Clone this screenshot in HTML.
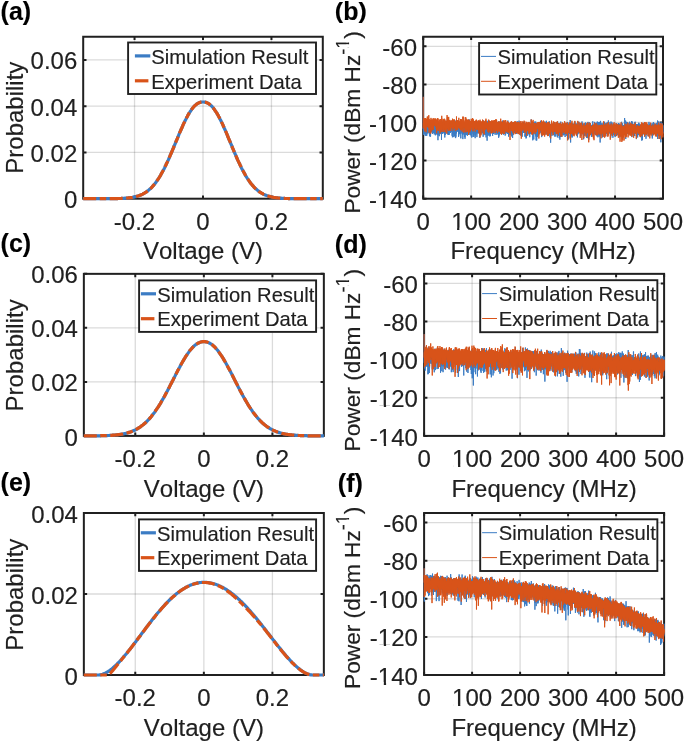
<!DOCTYPE html>
<html><head><meta charset="utf-8"><style>html,body{margin:0;padding:0;background:#fff;overflow:hidden;}svg{display:block;will-change:transform;}</style></head>
<body><svg width="685" height="743" viewBox="0 0 685 743" font-family='"Liberation Sans", sans-serif'>
<style>text{stroke-width:0.15px;font-kerning:none;}</style>
<rect width="685" height="743" fill="#fff"/>
<path d="M134.54 36.75V198.7M203 36.75V198.7M271.46 36.75V198.7" stroke="#202020" stroke-opacity="0.16" stroke-width="1.3" fill="none"/><path d="M83.2 152.43H322.8M83.2 106.16H322.8M83.2 59.89H322.8" stroke="#202020" stroke-opacity="0.16" stroke-width="1.3" fill="none"/>
<rect x="83.2" y="36.75" width="239.6" height="161.95" fill="none" stroke="#202020" stroke-width="2.0"/>
<path d="M134.54 198.7v-3.3M134.54 36.75v3.3M203 198.7v-3.3M203 36.75v3.3M271.46 198.7v-3.3M271.46 36.75v3.3M83.2 198.7h3.3M322.8 198.7h-3.3M83.2 152.43h3.3M322.8 152.43h-3.3M83.2 106.16h3.3M322.8 106.16h-3.3M83.2 59.89h3.3M322.8 59.89h-3.3" stroke="#202020" stroke-width="2.0" fill="none"/>
<polyline points="83.2,198.7 83.9,198.7 84.6,198.7 85.3,198.7 85.9,198.7 86.6,198.7 87.3,198.7 88.0,198.7 88.7,198.7 89.4,198.7 90.0,198.7 90.7,198.7 91.4,198.7 92.1,198.7 92.8,198.7 93.5,198.7 94.2,198.7 94.8,198.7 95.5,198.7 96.2,198.7 96.9,198.7 97.6,198.7 98.3,198.7 98.9,198.7 99.6,198.7 100.3,198.7 101.0,198.7 101.7,198.7 102.4,198.7 103.1,198.7 103.7,198.7 104.4,198.7 105.1,198.7 105.8,198.7 106.5,198.7 107.2,198.7 107.8,198.7 108.5,198.7 109.2,198.7 109.9,198.7 110.6,198.7 111.3,198.7 112.0,198.6 112.6,198.6 113.3,198.6 114.0,198.6 114.7,198.6 115.4,198.6 116.1,198.6 116.7,198.6 117.4,198.6 118.1,198.5 118.8,198.5 119.5,198.5 120.2,198.5 120.9,198.5 121.5,198.4 122.2,198.4 122.9,198.4 123.6,198.3 124.3,198.3 125.0,198.2 125.6,198.2 126.3,198.1 127.0,198.1 127.7,198.0 128.4,197.9 129.1,197.9 129.8,197.8 130.4,197.7 131.1,197.6 131.8,197.5 132.5,197.4 133.2,197.2 133.9,197.1 134.5,197.0 135.2,196.8 135.9,196.6 136.6,196.4 137.3,196.2 138.0,196.0 138.7,195.8 139.3,195.6 140.0,195.3 140.7,195.0 141.4,194.7 142.1,194.4 142.8,194.1 143.4,193.7 144.1,193.3 144.8,192.9 145.5,192.5 146.2,192.0 146.9,191.6 147.5,191.0 148.2,190.5 148.9,189.9 149.6,189.3 150.3,188.7 151.0,188.1 151.7,187.4 152.3,186.7 153.0,185.9 153.7,185.1 154.4,184.3 155.1,183.4 155.8,182.5 156.4,181.6 157.1,180.6 157.8,179.6 158.5,178.6 159.2,177.5 159.9,176.4 160.6,175.2 161.2,174.1 161.9,172.8 162.6,171.6 163.3,170.3 164.0,169.0 164.7,167.6 165.3,166.2 166.0,164.8 166.7,163.3 167.4,161.9 168.1,160.4 168.8,158.8 169.5,157.3 170.1,155.7 170.8,154.1 171.5,152.5 172.2,150.9 172.9,149.2 173.6,147.6 174.2,145.9 174.9,144.3 175.6,142.6 176.3,140.9 177.0,139.3 177.7,137.6 178.4,136.0 179.0,134.3 179.7,132.7 180.4,131.1 181.1,129.5 181.8,128.0 182.5,126.4 183.1,124.9 183.8,123.4 184.5,122.0 185.2,120.5 185.9,119.2 186.6,117.8 187.3,116.5 187.9,115.3 188.6,114.1 189.3,112.9 190.0,111.9 190.7,110.8 191.4,109.8 192.0,108.9 192.7,108.0 193.4,107.2 194.1,106.4 194.8,105.7 195.5,105.1 196.2,104.5 196.8,104.0 197.5,103.6 198.2,103.2 198.9,102.8 199.6,102.6 200.3,102.3 200.9,102.2 201.6,102.1 202.3,102.0 203.0,102.0 203.7,102.0 204.4,102.1 205.1,102.2 205.7,102.3 206.4,102.6 207.1,102.8 207.8,103.2 208.5,103.6 209.2,104.0 209.8,104.5 210.5,105.1 211.2,105.7 211.9,106.4 212.6,107.2 213.3,108.0 214.0,108.9 214.6,109.8 215.3,110.8 216.0,111.9 216.7,112.9 217.4,114.1 218.1,115.3 218.7,116.5 219.4,117.8 220.1,119.2 220.8,120.5 221.5,122.0 222.2,123.4 222.9,124.9 223.5,126.4 224.2,128.0 224.9,129.5 225.6,131.1 226.3,132.7 227.0,134.3 227.6,136.0 228.3,137.6 229.0,139.3 229.7,140.9 230.4,142.6 231.1,144.3 231.8,145.9 232.4,147.6 233.1,149.2 233.8,150.9 234.5,152.5 235.2,154.1 235.9,155.7 236.5,157.3 237.2,158.8 237.9,160.4 238.6,161.9 239.3,163.3 240.0,164.8 240.7,166.2 241.3,167.6 242.0,169.0 242.7,170.3 243.4,171.6 244.1,172.8 244.8,174.1 245.4,175.2 246.1,176.4 246.8,177.5 247.5,178.6 248.2,179.6 248.9,180.6 249.6,181.6 250.2,182.5 250.9,183.4 251.6,184.3 252.3,185.1 253.0,185.9 253.7,186.7 254.3,187.4 255.0,188.1 255.7,188.7 256.4,189.3 257.1,189.9 257.8,190.5 258.5,191.0 259.1,191.6 259.8,192.0 260.5,192.5 261.2,192.9 261.9,193.3 262.6,193.7 263.2,194.1 263.9,194.4 264.6,194.7 265.3,195.0 266.0,195.3 266.7,195.6 267.3,195.8 268.0,196.0 268.7,196.2 269.4,196.4 270.1,196.6 270.8,196.8 271.5,197.0 272.1,197.1 272.8,197.2 273.5,197.4 274.2,197.5 274.9,197.6 275.6,197.7 276.2,197.8 276.9,197.9 277.6,197.9 278.3,198.0 279.0,198.1 279.7,198.1 280.4,198.2 281.0,198.2 281.7,198.3 282.4,198.3 283.1,198.4 283.8,198.4 284.5,198.4 285.1,198.5 285.8,198.5 286.5,198.5 287.2,198.5 287.9,198.5 288.6,198.6 289.3,198.6 289.9,198.6 290.6,198.6 291.3,198.6 292.0,198.6 292.7,198.6 293.4,198.6 294.0,198.6 294.7,198.7 295.4,198.7 296.1,198.7 296.8,198.7 297.5,198.7 298.2,198.7 298.8,198.7 299.5,198.7 300.2,198.7 300.9,198.7 301.6,198.7 302.3,198.7 302.9,198.7 303.6,198.7 304.3,198.7 305.0,198.7 305.7,198.7 306.4,198.7 307.1,198.7 307.7,198.7 308.4,198.7 309.1,198.7 309.8,198.7 310.5,198.7 311.2,198.7 311.8,198.7 312.5,198.7 313.2,198.7 313.9,198.7 314.6,198.7 315.3,198.7 316.0,198.7 316.6,198.7 317.3,198.7 318.0,198.7 318.7,198.7 319.4,198.7 320.1,198.7 320.7,198.7 321.4,198.7 322.1,198.7 322.8,198.7" fill="none" stroke="#3b7cc4" stroke-width="3.2" stroke-linejoin="round"/>
<polyline points="83.2,198.7 83.9,198.7 84.6,198.7 85.3,198.7 85.9,198.7 86.6,198.7 87.3,198.7 88.0,198.7 88.7,198.7 89.4,198.7 90.0,198.7 90.7,198.7 91.4,198.7 92.1,198.7 92.8,198.7 93.5,198.7 94.2,198.7 94.8,198.7 95.5,198.7 96.2,198.7 96.9,198.7 97.6,198.7 98.3,198.7 98.9,198.7 99.6,198.7 100.3,198.7 101.0,198.7 101.7,198.7 102.4,198.7 103.1,198.7 103.7,198.7 104.4,198.7 105.1,198.7 105.8,198.7 106.5,198.7 107.2,198.7 107.8,198.7 108.5,198.7 109.2,198.7 109.9,198.7 110.6,198.7 111.3,198.7 112.0,198.6 112.6,198.6 113.3,198.6 114.0,198.6 114.7,198.6 115.4,198.6 116.1,198.6 116.7,198.6 117.4,198.6 118.1,198.5 118.8,198.5 119.5,198.5 120.2,198.5 120.9,198.5 121.5,198.4 122.2,198.4 122.9,198.4 123.6,198.3 124.3,198.3 125.0,198.2 125.6,198.2 126.3,198.1 127.0,198.1 127.7,198.0 128.4,197.9 129.1,197.9 129.8,197.8 130.4,197.7 131.1,197.6 131.8,197.5 132.5,197.4 133.2,197.2 133.9,197.1 134.5,197.0 135.2,196.8 135.9,196.6 136.6,196.4 137.3,196.2 138.0,196.0 138.7,195.8 139.3,195.6 140.0,195.3 140.7,195.0 141.4,194.7 142.1,194.4 142.8,194.1 143.4,193.7 144.1,193.3 144.8,192.9 145.5,192.5 146.2,192.0 146.9,191.6 147.5,191.0 148.2,190.5 148.9,189.9 149.6,189.3 150.3,188.7 151.0,188.1 151.7,187.4 152.3,186.7 153.0,185.9 153.7,185.1 154.4,184.3 155.1,183.4 155.8,182.5 156.4,181.6 157.1,180.6 157.8,179.6 158.5,178.6 159.2,177.5 159.9,176.4 160.6,175.2 161.2,174.1 161.9,172.8 162.6,171.6 163.3,170.3 164.0,169.0 164.7,167.6 165.3,166.2 166.0,164.8 166.7,163.3 167.4,161.9 168.1,160.4 168.8,158.8 169.5,157.3 170.1,155.7 170.8,154.1 171.5,152.5 172.2,150.9 172.9,149.2 173.6,147.6 174.2,145.9 174.9,144.3 175.6,142.6 176.3,140.9 177.0,139.3 177.7,137.6 178.4,136.0 179.0,134.3 179.7,132.7 180.4,131.1 181.1,129.5 181.8,128.0 182.5,126.4 183.1,124.9 183.8,123.4 184.5,122.0 185.2,120.5 185.9,119.2 186.6,117.8 187.3,116.5 187.9,115.3 188.6,114.1 189.3,112.9 190.0,111.9 190.7,110.8 191.4,109.8 192.0,108.9 192.7,108.0 193.4,107.2 194.1,106.4 194.8,105.7 195.5,105.1 196.2,104.5 196.8,104.0 197.5,103.6 198.2,103.2 198.9,102.8 199.6,102.6 200.3,102.3 200.9,102.2 201.6,102.1 202.3,102.0 203.0,102.0 203.7,102.0 204.4,102.1 205.1,102.2 205.7,102.3 206.4,102.6 207.1,102.8 207.8,103.2 208.5,103.6 209.2,104.0 209.8,104.5 210.5,105.1 211.2,105.7 211.9,106.4 212.6,107.2 213.3,108.0 214.0,108.9 214.6,109.8 215.3,110.8 216.0,111.9 216.7,112.9 217.4,114.1 218.1,115.3 218.7,116.5 219.4,117.8 220.1,119.2 220.8,120.5 221.5,122.0 222.2,123.4 222.9,124.9 223.5,126.4 224.2,128.0 224.9,129.5 225.6,131.1 226.3,132.7 227.0,134.3 227.6,136.0 228.3,137.6 229.0,139.3 229.7,140.9 230.4,142.6 231.1,144.3 231.8,145.9 232.4,147.6 233.1,149.2 233.8,150.9 234.5,152.5 235.2,154.1 235.9,155.7 236.5,157.3 237.2,158.8 237.9,160.4 238.6,161.9 239.3,163.3 240.0,164.8 240.7,166.2 241.3,167.6 242.0,169.0 242.7,170.3 243.4,171.6 244.1,172.8 244.8,174.1 245.4,175.2 246.1,176.4 246.8,177.5 247.5,178.6 248.2,179.6 248.9,180.6 249.6,181.6 250.2,182.5 250.9,183.4 251.6,184.3 252.3,185.1 253.0,185.9 253.7,186.7 254.3,187.4 255.0,188.1 255.7,188.7 256.4,189.3 257.1,189.9 257.8,190.5 258.5,191.0 259.1,191.6 259.8,192.0 260.5,192.5 261.2,192.9 261.9,193.3 262.6,193.7 263.2,194.1 263.9,194.4 264.6,194.7 265.3,195.0 266.0,195.3 266.7,195.6 267.3,195.8 268.0,196.0 268.7,196.2 269.4,196.4 270.1,196.6 270.8,196.8 271.5,197.0 272.1,197.1 272.8,197.2 273.5,197.4 274.2,197.5 274.9,197.6 275.6,197.7 276.2,197.8 276.9,197.9 277.6,197.9 278.3,198.0 279.0,198.1 279.7,198.1 280.4,198.2 281.0,198.2 281.7,198.3 282.4,198.3 283.1,198.4 283.8,198.4 284.5,198.4 285.1,198.5 285.8,198.5 286.5,198.5 287.2,198.5 287.9,198.5 288.6,198.6 289.3,198.6 289.9,198.6 290.6,198.6 291.3,198.6 292.0,198.6 292.7,198.6 293.4,198.6 294.0,198.6 294.7,198.7 295.4,198.7 296.1,198.7 296.8,198.7 297.5,198.7 298.2,198.7 298.8,198.7 299.5,198.7 300.2,198.7 300.9,198.7 301.6,198.7 302.3,198.7 302.9,198.7 303.6,198.7 304.3,198.7 305.0,198.7 305.7,198.7 306.4,198.7 307.1,198.7 307.7,198.7 308.4,198.7 309.1,198.7 309.8,198.7 310.5,198.7 311.2,198.7 311.8,198.7 312.5,198.7 313.2,198.7 313.9,198.7 314.6,198.7 315.3,198.7 316.0,198.7 316.6,198.7 317.3,198.7 318.0,198.7 318.7,198.7 319.4,198.7 320.1,198.7 320.7,198.7 321.4,198.7 322.1,198.7 322.8,198.7" fill="none" stroke="#d95319" stroke-width="3.2" stroke-linejoin="round" stroke-dasharray="13 3.5 6.5 3.5"/>
<text transform="translate(134.54,229.9) scale(1.0,1.02)" font-size="24" text-anchor="middle" fill="#202020" stroke="#202020">-0.2</text>
<text transform="translate(203,229.9) scale(1.0,1.02)" font-size="24" text-anchor="middle" fill="#202020" stroke="#202020">0</text>
<text transform="translate(271.46,229.9) scale(1.0,1.02)" font-size="24" text-anchor="middle" fill="#202020" stroke="#202020">0.2</text>
<text transform="translate(77.3,208.3) scale(1.0,1.02)" font-size="24" text-anchor="end" fill="#202020" stroke="#202020">0</text>
<text transform="translate(77.3,162.03) scale(1.0,1.02)" font-size="24" text-anchor="end" fill="#202020" stroke="#202020">0.02</text>
<text transform="translate(77.3,115.76) scale(1.0,1.02)" font-size="24" text-anchor="end" fill="#202020" stroke="#202020">0.04</text>
<text transform="translate(77.3,69.49) scale(1.0,1.02)" font-size="24" text-anchor="end" fill="#202020" stroke="#202020">0.06</text>
<text transform="translate(203,259.3) scale(1.0,1.02)" font-size="24" text-anchor="middle" fill="#202020" stroke="#202020">Voltage (V)</text>
<text transform="translate(22.6,173.7) rotate(-90)" font-size="24" fill="#202020" stroke="#202020">Probability</text>
<rect x="128.1" y="42.5" width="187.9" height="51.5" fill="#fff" stroke="#202020" stroke-width="1.9"/>
<path d="M134.9 55.9H150.3" stroke="#3b7cc4" stroke-width="3.2"/>
<path d="M134.9 80.8H148.4" stroke="#d95319" stroke-width="3.2"/>
<text transform="translate(151.3,63.6) scale(1.0,1.02)" font-size="20.2" fill="#202020" stroke="#202020">Simulation Result</text>
<text transform="translate(151.3,88.5) scale(1.0,1.02)" font-size="20.2" fill="#202020" stroke="#202020">Experiment Data</text>
<path d="M471.16 36.75V198.7M519.12 36.75V198.7M567.08 36.75V198.7M615.04 36.75V198.7" stroke="#202020" stroke-opacity="0.16" stroke-width="1.3" fill="none"/><path d="M423.2 46.28H663M423.2 84.38H663M423.2 122.49H663M423.2 160.59H663" stroke="#202020" stroke-opacity="0.16" stroke-width="1.3" fill="none"/>
<rect x="423.2" y="36.75" width="239.8" height="161.95" fill="none" stroke="#202020" stroke-width="2.0"/>
<path d="M423.2 198.7v-3.3M423.2 36.75v3.3M471.16 198.7v-3.3M471.16 36.75v3.3M519.12 198.7v-3.3M519.12 36.75v3.3M567.08 198.7v-3.3M567.08 36.75v3.3M615.04 198.7v-3.3M615.04 36.75v3.3M663 198.7v-3.3M663 36.75v3.3M423.2 46.28h3.3M663 46.28h-3.3M423.2 84.38h3.3M663 84.38h-3.3M423.2 122.49h3.3M663 122.49h-3.3M423.2 160.59h3.3M663 160.59h-3.3M423.2 198.7h3.3M663 198.7h-3.3" stroke="#202020" stroke-width="2.0" fill="none"/>
<path d="M423.2 96.8l.06 31.7 .06 .6 .06-1.8 .06 2 .06-3.4 .06 1.3 .06 .4 .06 5.1 .06 2.2 .06-2.5 .06-5.4 .06 .7 .06 5.8 .06-6.5 .06 3.5 .06 0 .06-5.9 .06 3.3 .06-.6 .06 0 .06 6.3 .06-6.5 .06-5.7 .06 10.7 .06-6.5 .06-.3 .06 0 .06 4.7 .06-.8 .06 2.8 .06-3.8 .06-4.4 .06 6.7 .06 5.2 .06-7.8 .06-2.6 .06 3.6 .06-6.2 .06 5.9 .06-.6 .06 3.8 .06-2.7 .06-3.7 .06-.1 .06-1.2 .06 1.5 .06 .8 .06 9.5 .06-5 .06-10.1 .06 9 .06-3.9 .06 2.4 .06-2.5 .06 2 .06 3.7 .06-.8 .06-3.8 .06 2.8 .06 6 .06-9.4 .06-1.5 .06 .3 .06-.1 .06 8.6 .06-10.6 .06 5.5 .06 2.7 .06-1.7 .06 1 .06 2 .06-4.4 .06-.6 .06 1.2 .06-1.2 .06 1.1 .06 1.9 .06-.5 .06-3.6 .06 6.8 .06-3.3 .06-4.8 .06 2.2 .06-1.3 .06 2.1 .06 4.1 .06-2.8 .06-1.7 .06 1.7 .06-.7 .06-1.2 .06-2.2 .06 4.3 .06-5.1 .06 3.6 .06-3.1 .06-.4 .06-1.8 .06 2 .06-.1 .06-1.8 .06 11.4 .06-2.9 .06-6.6 .06 11.5 .06-8.9 .06 .1 .06 6 .06-2.3 .06-5.3 .06 .3 .06 3.8 .06 .9 .06-.4 .06-4.1 .06 6.6 .06-5.1 .06 5.3 .06-8.1 .06 2.2 .06-3.4 .06 12.8 .06-1.1 .06-5.5 .06-6.7 .06 8.7 .06-8.1 .06 3.4 .06 .1 .06-1.7 .06 5.7 .06-1.4 .06 2.4 .06-4.9 .06-5.4 .06 7.1 .06-3 .06 .5 .06 .5 .06 1.3 .06-4.8 .06 3.8 .06 2 .06-5.1 .06 .9 .06 1.5 .06 1.4 .06-5.4 .06 4.9 .06 2.1 .06-4 .06 3 .06-1 .06 1.1 .06-.6 .06 5.5 .06-3.1 .06-.3 .06 2.4 .06-4.2 .06-1.7 .06 4.3 .06-9.8 .06 6.8 .06-1.8 .06 5.3 .06-.8 .06-8.2 .06 3 .06 2.5 .06 4.6 .06-9.9 .06 8.1 .06-1.6 .06-1.1 .06-1.8 .06 1.2 .06 .1 .06-6 .06 5.5 .06-1.1 .06 6.8 .06-7.8 .06 9.1 .06-4.3 .06-9.3 .06 9.7 .06-2.7 .06 4.2 .06 0 .06-7.8 .06 5.2 .06-1.3 .06 .8 .06 4.4 .06-5 .06-3.9 .06 6.1 .06-4.2 .06-2 .06 8 .06-7.3 .06 10.3 .06-9.6 .06 3.3 .06 2.9 .06-3.6 .06 1.7 .06 4.3 .06-9.8 .06-.3 .06 7.4 .06-2.3 .06 .3 .06-.9 .06 3.9 .06-7.8 .06 2.9 .06 3.6 .06-1.8 .06 1 .06-2 .06-2.8 .06 0 .06 6.1 .06-4.3 .06 3.5 .06 3.5 .06-2.7 .06-3.9 .06 5.7 .06-3.2 .06-4 .06 3.9 .06 .2 .06 .8 .06 3.8 .06-6.3 .06-1 .06-.3 .06 4.1 .06-.1 .06-6.3 .06 6.1 .06-2.3 .06 11.2 .06-8.5 .06 .1 .06 1.8 .06-10.3 .06 5.8 .06 6.2 .06-7.5 .06 .2 .06-.1 .06-4.3 .06 4.6 .06-.3 .06 2.5 .06 1.2 .06-3.5 .06 .2 .06 2.9 .06-1.5 .06-2 .06-.2 .06 2.4 .06 6.3 .06-9 .06 2 .06 2.2 .06-1.7 .06 2.6 .06-5.1 .06 2.1 .06 5 .06-7.4 .06-.5 .06 2.2 .06-2.3 .06 7.3 .06-9.6 .06 2.9 .06-2.3 .06 8.9 .06-3.5 .06-1 .06-6.7 .06 5.8 .06 4.4 .06-6.2 .06 1 .06 3.3 .06-5.3 .06-1 .06 4.5 .06 2.7 .06-5.7 .06 .9 .06 2.3 .06 1.9 .06-2 .06-2.5 .06 1.4 .06 12.1 .06-14 .06-3.5 .06 4.3 .06-1.6 .06 2.8 .06-6.2 .06 6.2 .06-4.4 .06-.4 .06 5.3 .06-3.3 .06 8.5 .06-7 .06 7.1 .06-7.6 .06 3.4 .06-.9 .06 2.5 .06-4.1 .06-1.5 .06 5.7 .06-2.2 .06-2 .06 3.1 .06-6.2 .06-2.3 .06 5.4 .06 1.2 .06-.8 .06 3.4 .06 2.5 .06-2.8 .06-3.5 .06 1.9 .06 2.2 .06 .5 .06-3.7 .06 1.1 .06-3.6 .06 6.3 .06-11.5 .06 8 .06-6.7 .06 7.6 .06-3 .06 3.5 .06-7.2 .06 3.1 .06 4.9 .06-1.9 .06-3 .06 9 .06-4 .06-.5 .06 7.5 .06-10.6 .06-5.2 .06 13.3 .06-2.6 .06-4.9 .06-.9 .06 .2 .06 2.1 .06 .8 .06 4.7 .06-12.3 .06 1.5 .06 6.7 .06-2.3 .06 .8 .06 .5 .06 2.6 .06-11 .06 7.7 .06-3.2 .06 3.1 .06-1.6 .06-4 .06 4.6 .06-4.4 .06 7.1 .06-4.6 .06-2.2 .06 1.9 .06 4.9 .06 1 .06-2.1 .06 1.1 .06-3.5 .06 1.8 .06 2.1 .06 1.8 .06-2.3 .06-2.1 .06-2.5 .06 1.1 .06-.9 .06-1.9 .06 2.7 .06 7 .06-4.8 .06 4.3 .06-5.6 .06 7.2 .06-6.5 .06-.6 .06-1.5 .06 1.9 .06-7.7 .06 9.3 .06-4.3 .06 4.4 .06 1.9 .06-2 .06 3.9 .06-6.1 .06 7.6 .06-9.7 .06 2.9 .06-2.4 .06 6.6 .06-9.1 .06 .9 .06 .7 .06 3.6 .06-3.1 .06 2.8 .06-4.2 .06 10.9 .06-7 .06-4.2 .06 1.6 .06-.2 .06 .3 .06 2 .06 4 .06-5 .06 3.1 .06-.6 .06-.5 .06-.4 .06 3.5 .06-5.8 .06 1.6 .06-3 .06-2.6 .06 3.8 .06 2.1 .06 5.4 .06-4.9 .06-.8 .06-.3 .06 .8 .06 2 .06-4.8 .06 2.4 .06-2.8 .06 5.9 .06-3.6 .06-2.8 .06 0 .06 8 .06-3.8 .06 .9 .06-5.1 .06 2.5 .06 3.7 .06-2.2 .06 1.6 .06-1.8 .06 1.6 .06-2.3 .06-3.1 .06-3 .06 4.2 .06-3.1 .06 13.7 .06-10.1 .06-.3 .06 .9 .06 1.8 .06 9.2 .06-5.6 .06-3 .06-2.1 .06 4.7 .06-3.3 .06 .4 .06 0 .06-.6 .06-1.8 .06 3.1 .06-.7 .06 2.8 .06-1.9 .06 1.6 .06-4.4 .06-4.8 .06 .7 .06 7.9 .06-3.9 .06 1.3 .06 7.4 .06 2 .06-6.6 .06-1.8 .06 4.7 .06-1.5 .06-.4 .06 .4 .06 1.3 .06-4.2 .06-3 .06 1.2 .06 4.3 .06-2.7 .06-.8 .06 8 .06-11 .06 5.8 .06 2.4 .06-12.6 .06 11.5 .06-2.8 .06 1.6 .06-5.9 .06 4.2 .06 4.8 .06 3.2 .06-7 .06-8.1 .06 10.2 .06-8.1 .06 7.3 .06 2.7 .06 3.9 .06-9.2 .06-1.6 .06 1.4 .06 8 .06-6.2 .06-3.4 .06 3.1 .06-3.5 .06 6.9 .06-13.2 .06 12 .06-3.8 .06 .1 .06-3.3 .06 4.1 .06-1.4 .06 .4 .06-1.8 .06 0 .06 1.7 .06-3 .06-1.8 .06 7.1 .06-.3 .06 .1 .06 .3 .06-.2 .06-2.5 .06-2.3 .06 4.9 .06-3.9 .06 3 .06-9.2 .06 6.8 .06-1.5 .06 6 .06-.4 .06-3.9 .06 3.5 .06-2.6 .06-4 .06 6.5 .06 .4 .06-3.6 .06 1.5 .06-3.1 .06 2.6 .06 3.5 .06 4.7 .06-9.8 .06 3.7 .06-2.9 .06 7.5 .06-4.4 .06-3.9 .06-2.2 .06-.1 .06-.6 .06 4.2 .06-3.3 .06 2 .06 2.1 .06 .7 .06 1.3 .06-6.3 .06 3.2 .06 2.8 .06-2.2 .06-6.3 .06 11.3 .06-.2 .06-9.8 .06 10.1 .06-10 .06 6.5 .06-3.4 .06-2.8 .06-.1 .06 1.7 .06 2.6 .06 .9 .06-.1 .06-5.8 .06 3.8 .06-2.7 .06 13.9 .06-8.8 .06-2.3 .06 2.4 .06-7.9 .06 10.9 .06-6.2 .06-1.1 .06 6 .06-6 .06 1.4 .06-7.1 .06 3.9 .06 4.8 .06-3.4 .06 1.9 .06 3 .06-3.9 .06 .6 .06-3.4 .06 10.6 .06-.2 .06-2.5 .06-5.1 .06-1.3 .06 4 .06-1.3 .06 .7 .06 6.6 .06-3.3 .06-6.2 .06 .2 .06-1 .06 1.5 .06 13.2 .06-11.9 .06-.2 .06 6.5 .06-11.1 .06 6.4 .06-3.7 .06 .5 .06 .6 .06-2.5 .06 5 .06-3.6 .06 1.6 .06 6.2 .06-2.3 .06 2.2 .06 1.7 .06-7.9 .06 7.2 .06-8.8 .06 4.2 .06 0 .06 3.9 .06-6.1 .06 4.7 .06-5.6 .06-.2 .06 9.2 .06-8.5 .06 10.2 .06-11.3 .06 11.6 .06-4.8 .06-8.2 .06 3.4 .06-1.6 .06 12.9 .06-13.1 .06 5.7 .06-8.4 .06 5.1 .06 .5 .06 6.2 .06-3.1 .06-3.3 .06-4.5 .06 .2 .06 5.1 .06 3.6 .06 .3 .06-10.2 .06 4.4 .06 5.1 .06-9 .06 3 .06-.7 .06-.3 .06 1.7 .06 3 .06 4.8 .06-1.4 .06-1.9 .06-5.1 .06 4.5 .06-5.4 .06-.4 .06-1.8 .06-.1 .06-.2 .06 4.4 .06 .2 .06 2.8 .06-3.2 .06 .5 .06 2.9 .06 5.1 .06-12 .06 2.5 .06 5.7 .06-2.1 .06-4.3 .06 4.5 .06-3 .06-2.4 .06 .6 .06 3.4 .06 2.7 .06-1.9 .06-3.9 .06 3.1 .06-5.8 .06-.4 .06 .8 .06 2.4 .06 7 .06-9.9 .06 2.7 .06 5 .06 .9 .06-1 .06-2.9 .06 6.2 .06-9.4 .06 5.1 .06-3.2 .06 8.7 .06-15.5 .06 5.4 .06 3.7 .06 4.2 .06-9.4 .06 6.3 .06 .1 .06 1.8 .06 1.5 .06-4.6 .06-.3 .06 1.6 .06 2.7 .06-9 .06-.3 .06 8.3 .06-7.4 .06 4.1 .06 .4 .06-6.5 .06 .3 .06 7.5 .06-3.9 .06 4.7 .06 4.3 .06-9.5 .06 1.4 .06-.9 .06-4.5 .06 8 .06-2.7 .06 1.1 .06 8.5 .06-7.2 .06 5.7 .06-6.6 .06 4.3 .06 .4 .06-9.1 .06 6.2 .06-.5 .06-2.2 .06 10.3 .06-5.6 .06-.7 .06-4.3 .06 .7 .06 3.1 .06-7.9 .06 7.6 .06 1 .06-4.4 .06 4.1 .06-6.8 .06 3 .06 3.8 .06-9.7 .06 8.5 .06-1.3 .06-1.3 .06 0 .06-.2 .06 6.5 .06-5.4 .06 8.7 .06-7.5 .06-.5 .06-2.3 .06 4.9 .06-4 .06 2.6 .06-1.9 .06 3.8 .06-6.8 .06 .2 .06 9.5 .06-5.4 .06 .4 .06 6.9 .06-3.3 .06-4 .06 3.8 .06-5.2 .06-2 .06 4.8 .06-4.4 .06-2.5 .06 6.9 .06-6.2 .06-.1 .06-.5 .06 4.3 .06-1 .06 4 .06-6 .06 .5 .06 1.2 .06 1.3 .06 2.4 .06 7.3 .06-7.7 .06 5 .06-6.5 .06 2.6 .06-10.3 .06 9.4 .06 1.3 .06-9.2 .06 12.2 .06-10.5 .06-.1 .06 4.3 .06 4.9 .06-3 .06-2.7 .06-2.4 .06 1 .06 .4 .06 3 .06-5.1 .06 7.5 .06-1.4 .06-3.1 .06-2 .06 1 .06-.2 .06 3.5 .06-5 .06 12 .06-6.3 .06 2.7 .06-1 .06-5.6 .06-1.3 .06 6.5 .06-3.7 .06-6 .06 4.9 .06-3.6 .06 1.2 .06-.4 .06 4.9 .06-2.3 .06-5.7 .06 9.8 .06 1.4 .06-8.3 .06 6.1 .06-2.3 .06-1.9 .06 3.5 .06-.6 .06 3.7 .06-4 .06 4.6 .06-6.5 .06 1 .06-3.1 .06 4.4 .06-4.4 .06-.3 .06-.2 .06 1.5 .06 1 .06 .6 .06 2.6 .06-1.5 .06 0 .06-6.6 .06 11.1 .06-3.7 .06-1.9 .06 4.5 .06-6 .06 4.8 .06-3.6 .06 1.1 .06 9.7 .06-11.6 .06 7 .06-6.1 .06-3.5 .06 1.8 .06 2.9 .06-.2 .06-.5 .06 1.4 .06 2.4 .06-3.2 .06 .3 .06-6.6 .06 4.6 .06-5.1 .06 7 .06-1.4 .06 1.1 .06 3.2 .06 .5 .06-2.6 .06-4.2 .06 7.3 .06 1.2 .06-5.1 .06 2.2 .06 .2 .06-7.5 .06 5.2 .06-2.1 .06 2.2 .06-2.8 .06 2.8 .06 .3 .06-2.8 .06 2.5 .06-4.4 .06 6.7 .06-7.3 .06 9 .06-2.7 .06-1.9 .06 4.7 .06-2.1 .06-4.6 .06 3.3 .06 1.8 .06-5.2 .06 2.2 .06-1.6 .06-2.8 .06 4.7 .06-1.2 .06-7.1 .06 16.6 .06-9 .06 3.6 .06-4.4 .06 4.5 .06-1.4 .06 3.4 .06-7.5 .06 2.4 .06 1.1 .06 2.9 .06-7.8 .06 10.6 .06-10.2 .06 2.2 .06 3.2 .06-2.2 .06 6 .06-10.2 .06 9.4 .06-2.8 .06-5.1 .06 4.4 .06-2.2 .06 .1 .06 3.2 .06-.8 .06-7.2 .06 2.5 .06 1.1 .06 1.7 .06 3.4 .06 1.8 .06-7 .06 4.1 .06-1.1 .06 3.2 .06 2.4 .06-7 .06 3.9 .06-9.6 .06 .9 .06 6.2 .06-4.7 .06 6.9 .06-6.9 .06-2.7 .06 4.3 .06-4.6 .06 15.6 .06-8.7 .06 .7 .06-3.2 .06 2.2 .06-1.9 .06 1.4 .06 3.7 .06 2 .06-8.5 .06 5.9 .06-4.4 .06 .6 .06 3 .06 4.2 .06-6.7 .06-3.2 .06 16.2 .06-6.8 .06-13.1 .06 7.2 .06-1 .06-2.9 .06-.8 .06 4 .06-1.4 .06 4.9 .06-2.4 .06 4.8 .06-7 .06 .4 .06 0 .06-.3 .06 9.6 .06-6.8 .06 2.7 .06-2.2 .06-3 .06-2.9 .06 5.4 .06 2 .06-.9 .06-1.4 .06 .4 .06-1.5 .06-1.6 .06 8.5 .06 .3 .06-3.9 .06-.5 .06-6.7 .06 5.6 .06-4 .06 7.1 .06 1.2 .06-13.1 .06 4.5 .06 7.3 .06-3.3 .06-6.8 .06 4.6 .06 3.4 .06-4.9 .06 1.4 .06 9.7 .06-15.1 .06 3.5 .06 3.8 .06 1.7 .06 .8 .06 4.8 .06-8.1 .06 3 .06 1.9 .06-1.6 .06-9.4 .06 9.1 .06-6.1 .06-1.2 .06 4.4 .06-2.2 .06 6.4 .06-2.6 .06-1.7 .06 4 .06-.1 .06-9.6 .06 2.2 .06 4.1 .06 3.8 .06-4.4 .06 4.4 .06-3.1 .06-.9 .06-.5 .06 2.9 .06-4.9 .06-1.7 .06 5.6 .06-2 .06 2.4 .06-2.5 .06-3.6 .06 6.3 .06 .7 .06-2 .06 .6 .06-2 .06 .5 .06 7.8 .06-11.3 .06 5 .06-.9 .06 1.7 .06-6 .06 .7 .06 2.9 .06-1.3 .06 .7 .06 3.7 .06-1.8 .06-5.7 .06 2.9 .06-5.3 .06 5.2 .06 7.3 .06-6.8 .06 2.2 .06 4.8 .06 0 .06-9.3 .06 .8 .06 6.1 .06-1.9 .06-.7 .06-2.7 .06 1.3 .06-3.8 .06 6.2 .06-6.7 .06 2.6 .06 1.9 .06 .3 .06-1.5 .06-1 .06 3.8 .06 .6 .06-.7 .06 .5 .06-4.4 .06 .7 .06 8.8 .06-4.7 .06 2.7 .06-3.7 .06 .7 .06 1.2 .06-4.7 .06 3.6 .06-2.2 .06 1.5 .06-2.9 .06 .2 .06 2.9 .06-2.4 .06 .9 .06-4 .06 7.2 .06-3.4 .06 .8 .06 .6 .06-6.9 .06 5.2 .06-2.4 .06-.2 .06 2.6 .06-.1 .06 3.9 .06-.5 .06-2.6 .06 6.8 .06-9.5 .06-2.3 .06 9.8 .06-6.1 .06-1.6 .06 5.2 .06 .7 .06 2.8 .06-7.5 .06 2.1 .06-1.5 .06 4.2 .06-3 .06-3 .06 3 .06-2.2 .06-1.3 .06 3.1 .06-1.2 .06-1.4 .06 .2 .06-1.1 .06 3.6 .06 1.1 .06-7.1 .06 5.9 .06-1.3 .06-4.1 .06 15.3 .06-8.2 .06 7.7 .06-12.7 .06-3.3 .06 7.8 .06-2.5 .06-.5 .06 9.5 .06-5.9 .06-2.4 .06 6.3 .06-3.3 .06-5.5 .06 2 .06 5.7 .06-.6 .06-5 .06 6.7 .06-2.4 .06-2.4 .06-3.4 .06 5.2 .06-1.1 .06-1.5 .06 2 .06-.7 .06-5.6 .06-.3 .06 3.7 .06 .3 .06 .2 .06-3.3 .06 5.2 .06-4.3 .06 .6 .06-2.7 .06 2.3 .06 4.3 .06-2.6 .06 .1 .06 4.2 .06-1.5 .06 2.7 .06 1.7 .06-7.9 .06 6.7 .06-5.2 .06 2.9 .06-5.6 .06 2 .06-.1 .06-1.4 .06 2.3 .06 4.6 .06-4.3 .06-1.2 .06 1.5 .06-1.1 .06 5.5 .06-5.4 .06-5.6 .06 9.7 .06-.1 .06-10.9 .06 5.4 .06-3.3 .06 1.7 .06 9.3 .06-10 .06 3.9 .06 3.3 .06-4.8 .06 1 .06-.5 .06 6.2 .06-11.1 .06 7.1 .06-3.6 .06 9.5 .06-1.9 .06-6.3 .06-.8 .06 5 .06-4.7 .06 4.7 .06-.4 .06 .5 .06 1.3 .06 1.5 .06-5.5 .06-3.1 .06 1.1 .06-4.6 .06 7.6 .06-2 .06 4.1 .06-3.1 .06-2.9 .06 2.2 .06 4.1 .06 .6 .06-1.6 .06 2 .06 .4 .06-5.1 .06 5.4 .06-1.9 .06-4.2 .06 8.5 .06-9.1 .06 5.7 .06 1.4 .06-4 .06 .7 .06-.8 .06-5.4 .06 4.1 .06 6.2 .06-4.3 .06-2.9 .06 .4 .06 4.5 .06-1.9 .06 .5 .06 2.4 .06-4.4 .06 2.1 .06-1.7 .06-.9 .06 2.6 .06-6.8 .06 4 .06 1.2 .06-1 .06-3.9 .06 8 .06-6.3 .06 6.4 .06-5.7 .06 6.4 .06-3.7 .06 1.6 .06-.9 .06-4.6 .06-.3 .06 3.4 .06 2.2 .06-5.1 .06 7 .06 1.3 .06-5.1 .06 0 .06-1.1 .06 .7 .06-8 .06 11 .06-1.5 .06 1.1 .06-5.6 .06 5.8 .06 1.5 .06-3.7 .06 1.6 .06-3.2 .06 9.1 .06-10.7 .06 1.8 .06 2.1 .06 1 .06-3.6 .06 2.4 .06-2.3 .06-4.3 .06 5.4 .06-3.3 .06 1.5 .06 4.1 .06-6.2 .06 1.6 .06 5.9 .06-4.5 .06-4.6 .06 2.6 .06 .5 .06 4.1 .06-1.5 .06-1.6 .06 4.1 .06 4 .06-11.6 .06 7.4 .06-7.4 .06 5.7 .06 2.5 .06 .9 .06-7.4 .06 4.5 .06 3.9 .06-6.4 .06 1.4 .06 2.2 .06 .2 .06 0 .06-2.4 .06 1.8 .06 2.4 .06-7.5 .06-1 .06 4.8 .06-.6 .06-3.2 .06 5.6 .06-3.5 .06-2.8 .06 4.8 .06 7 .06-3.4 .06-1.9 .06-2.5 .06 6.5 .06-.9 .06-7 .06-5 .06 4.2 .06 2.7 .06-4.2 .06 .1 .06 .3 .06 7.9 .06-10.4 .06 11.1 .06-4.2 .06 8.3 .06-10.5 .06 1.8 .06-2.9 .06 3.1 .06 3.6 .06-4.3 .06 5.3 .06-11.9 .06 12.9 .06-8.7 .06 6.3 .06-1.4 .06-.7 .06-4.5 .06 2.4 .06-.4 .06 5.8 .06-8 .06 3.6 .06 .7 .06-6.2 .06 1.5 .06 2.8 .06-2.3 .06 6.9 .06-3.8 .06-1.2 .06 2 .06 1 .06-2 .06 4 .06-4 .06-4 .06 1.8 .06 .9 .06 2.9 .06-8.3 .06 6 .06 4.2 .06-10.5 .06 .2 .06 6.1 .06-1.9 .06 .7 .06 .8 .06-2.1 .06 5.1 .06-.1 .06 1.3 .06-5 .06 1.4 .06 .3 .06-3.5 .06 5 .06-1.2 .06-2.2 .06-4.3 .06 .1 .06 3.4 .06 2 .06-1.8 .06-.1 .06-.9 .06 3.3 .06 5.3 .06-7.7 .06 3.9 .06-1.6 .06 2.6 .06-3.3 .06 5.7 .06-4 .06-3.3 .06 3.1 .06 .3 .06-5.2 .06-3.2 .06 7.8 .06 .4 .06 2.7 .06-4.7 .06-2.1 .06 2.2 .06 2.5 .06-3.3 .06 1.6 .06 1.4 .06 2.6 .06-5.2 .06 1.3 .06-4.1 .06 6.5 .06-2.7 .06-1.1 .06 3.3 .06-.7 .06-.2 .06-2.2 .06-3.8 .06 3.4 .06 7.2 .06-2.3 .06-3 .06-2.6 .06 1.7 .06-1.4 .06 4.8 .06-10.4 .06 8.7 .06 4.7 .06-5.8 .06-5.5 .06 9 .06-5.4 .06 .5 .06-3.4 .06 3.8 .06-1.8 .06 1.8 .06-.6 .06 4.9 .06 .8 .06-4.8 .06 .8 .06-.5 .06-3.5 .06 8.7 .06-4.6 .06-3.8 .06 8.3 .06-1.2 .06 3.7 .06-9.2 .06 .6 .06 7.2 .06-9.4 .06 5.4 .06-.5 .06-2.8 .06-1 .06 6.2 .06-4.4 .06 1.1 .06-4.8 .06 7.2 .06-7.1 .06 11.4 .06-9 .06-2.8 .06 2.6 .06-2 .06 .9 .06 8.8 .06-3.2 .06-6.1 .06 2.9 .06 1.4 .06-5 .06 2.9 .06 9.9 .06-4 .06-4.6 .06 1.8 .06 2.1 .06-2.7 .06 .7 .06-1.5 .06 .3 .06 .9 .06 .4 .06-1.6 .06 .6 .06-.6 .06 .1 .06 2.9 .06-3.7 .06 4.7 .06-5.8 .06-3.5 .06 5.6 .06-.6 .06-6.4 .06 7 .06 3.7 .06-5.3 .06 4.6 .06-5.5 .06 6.7 .06-4.9 .06-.6 .06-2.7 .06 2.3 .06 5.5 .06-4.9 .06 .4 .06-4.5 .06 6.3 .06-.6 .06-2.3 .06 2.3 .06 2.9 .06-1.1 .06-3.1 .06 .5 .06 3.4 .06-2.6 .06-1.1 .06 8.5 .06-2.4 .06 2.2 .06-1.4 .06-7.3 .06 .3 .06 7.6 .06-9.4 .06-.9 .06 3 .06-1.1 .06-.1 .06 3.5 .06-6.9 .06 8.1 .06-1.9 .06 8.5 .06-12.4 .06 4.7 .06-7.4 .06 11.3 .06-11 .06 14 .06-8.5 .06-.6 .06 1.5 .06-6.2 .06 8.1 .06-2.2 .06-1.3 .06 .3 .06 .8 .06-2.3 .06 2.2 .06-5.2 .06 7.1 .06-2.5 .06-1.8 .06-.3 .06-2.6 .06 6.4 .06-5 .06 3.2 .06 7 .06-9.9 .06 7.5 .06-3 .06-3.3 .06 3.5 .06 1.3 .06-4.9 .06-1.5 .06 5.3 .06-.9 .06-2.5 .06 1.1 .06 1.1 .06-6.5 .06 6.6 .06 2.1 .06-1.8 .06-2.5 .06 3.7 .06 .9 .06 2.3 .06-11.9 .06 4.4 .06 6 .06-5.8 .06 .2 .06-2.3 .06 7.1 .06-7.1 .06 1.1 .06 6.8 .06-4.8 .06-.1 .06-.3 .06 9.5 .06-9.3 .06 2.1 .06-3.9 .06 1.9 .06 2.7 .06 1.5 .06-2.6 .06-1.8 .06 1.1 .06 4.9 .06-9.9 .06 2.1 .06 2.5 .06-.4 .06-1.2 .06 1 .06 1.5 .06-4.2 .06 4 .06 .5 .06-1.2 .06 .5 .06-.9 .06-8.7 .06 11 .06-3.2 .06-1.3 .06 8.1 .06-4.4 .06 4.6 .06-3.1 .06 3 .06-6.1 .06 2.7 .06-5.2 .06 4.2 .06 .3 .06 .8 .06 .8 .06-6.1 .06 8.1 .06-8.6 .06 4.4 .06 3.9 .06-4.9 .06 2.5 .06 .1 .06-6.2 .06 1.9 .06 13.6 .06-10.9 .06 .1 .06 .9 .06-6.4 .06 7.8 .06-.1 .06-3.4 .06-3 .06 8.7 .06-4.5 .06 .3 .06-3 .06-4.7 .06 4.1 .06 4.1 .06 1.2 .06 7.9 .06-10.8 .06-2.6 .06 .6 .06 4.1 .06-6.8 .06 9 .06-7.5 .06 1.8 .06 3.6 .06-5.3 .06 7.2 .06-.8 .06-4.3 .06-4.6 .06 2.9 .06 5.1 .06-7.4 .06-2.1 .06 6.3 .06 .6 .06 4 .06 .1 .06 1.5 .06-1.7 .06 2.4 .06-4.9 .06 1.6 .06-1.2 .06-2.8 .06 5.3 .06-1.3 .06-3 .06-6.8 .06 4.4 .06 10.5 .06-9.9 .06 .6 .06 2.6 .06 10.6 .06-8.5 .06-4.2 .06-4.6 .06 2.6 .06 4.2 .06 .1 .06-3 .06 .2 .06-2.9 .06 16.2 .06-11.8 .06 .8 .06 1.4 .06-.8 .06 1.1 .06 .4 .06 3.5 .06-4.1 .06-3.8 .06-2.1 .06 4 .06-5.9 .06 .8 .06 12.9 .06-8.8 .06 .2 .06-1.6 .06-1.7 .06 5.1 .06-4.6 .06 10.4 .06-9.2 .06 6.5 .06 .1 .06-7.5 .06 5.4 .06-4.6 .06 2.4 .06-1.2 .06 2.2 .06 5.3 .06-10.7 .06 0 .06 3.7 .06 .7 .06 2.4 .06 .7 .06 .2 .06 1.5 .06-4.6 .06-4.5 .06 5.6 .06-3.1 .06-.2 .06 4.4 .06-5 .06 2.5 .06-4.9 .06 .4 .06 5.2 .06-.1 .06-6.2 .06 8.8 .06-9.3 .06 1.7 .06 5.7 .06-1.2 .06-3.3 .06 7.1 .06-.6 .06-6.5 .06 1.8 .06-.3 .06-6.4 .06 7 .06 2.4 .06-4.9 .06 1.3 .06 3.7 .06 1.8 .06-5 .06 2.9 .06 1.5 .06-.5 .06-6.8 .06 5 .06-1.4 .06 6.3 .06-.5 .06 2 .06-7.3 .06 2.6 .06 6.2 .06-15.3 .06 6.6 .06 3.1 .06-6.2 .06 1.9 .06 .2 .06-3.5 .06 5.4 .06-3.2 .06 5.8 .06 .9 .06-.3 .06-4.8 .06 .8 .06 2 .06-3.3 .06-2.2 .06 8.9 .06-7.4 .06-1 .06 2 .06-.7 .06 2.8 .06 3.5 .06-8.1 .06 6.5 .06-4.8 .06-2.7 .06 1.1 .06 2.8 .06 0 .06-2.9 .06-.6 .06 7.9 .06 1.9 .06-6.7 .06-.8 .06 1.8 .06-.2 .06 1.8 .06-2.3 .06 6.8 .06-7.7 .06-1.4 .06 1.3 .06 5.5 .06-2.2 .06-2.4 .06 1.3 .06-1.2 .06-.4 .06 4.9 .06-5.2 .06-5.6 .06 8.5 .06 1.3 .06-3.7 .06 .5 .06-2.7 .06 1.1 .06-1.2 .06 4.7 .06-4.5 .06 .7 .06-1.6 .06-.4 .06 7.4 .06 .6 .06-1.8 .06-6.3 .06 3.4 .06 6.4 .06-4.7 .06 5.2 .06-12.1 .06 4.3 .06 6.3 .06-5.7 .06-6.4 .06 6.2 .06 6.6 .06-3.8 .06-3.6 .06-3.1 .06 2.8 .06 .5 .06 6.1 .06-6.4 .06-2.6 .06 8 .06 .1 .06 .1 .06-4.5 .06 1.8 .06-6 .06 1.1 .06 2.1 .06 1.1 .06 7 .06-5 .06-.9 .06-5.1 .06 5 .06-3.6 .06 2.2 .06-.7 .06 3.7 .06 4.1 .06-8.3 .06-.9 .06 11.1 .06-5.7 .06-1.5 .06-2.6 .06 7.2 .06-11.3 .06 7.1 .06-2.3 .06 1.7 .06-3.9 .06 1.4 .06-1.1 .06 4.8 .06-2.6 .06-.9 .06-4.9 .06 4.2 .06 2.8 .06-4.6 .06 6.7 .06-3.6 .06 .2 .06 2.7 .06-.6 .06-2.4 .06 7.9 .06-6.7 .06 8.8 .06 .6 .06-12.2 .06 3.5 .06-2.6 .06 1.1 .06 10.4 .06-13.4 .06 4.9 .06 1.2 .06-.8 .06 13.3 .06-6.2 .06-10.7 .06 10.4 .06-9.3 .06-.9 .06 7.1 .06-.4 .06 .9 .06-1.6 .06-2.3 .06 1.4 .06-.8 .06 1.6 .06-9 .06 5.4 .06 2.6 .06 1.7 .06-5.8 .06 1.6 .06-2.7 .06 2.9 .06-2.4 .06 4.7 .06 4.8 .06-5 .06 1.7 .06-.2 .06-6 .06 .9 .06 1.2 .06 2 .06-3.7 .06 2.6 .06-1.2 .06-1.9 .06 3.6 .06 .4 .06-5.1 .06 5 .06-1.2 .06-3.8 .06 4.4 .06 1 .06-7.1 .06 3.2 .06 5.8 .06-3.9 .06 2.1 .06-1.2 .06-5.2 .06 11.1 .06-.3 .06-8.1 .06 4 .06 .6 .06 2.7 .06-10 .06 .5 .06 4.7 .06 1.6 .06-4.5 .06-1 .06 2.1 .06 1.4 .06 4 .06-5 .06-5.8 .06 9.8 .06 4.7 .06-2 .06-5.5 .06-4 .06-.3 .06 5.5 .06 .1 .06-6.6 .06 4.1 .06-2.1 .06 3.2 .06-2.9 .06 2.1 .06-3.9 .06 7.4 .06 1.6 .06-6.5 .06 9.7 .06-9.6 .06-2 .06 2 .06 1.1 .06-1.6 .06 1.6 .06 6.2 .06-5.3 .06 2.9 .06-8.1 .06 2.3 .06 3 .06-1.7 .06 2.2 .06-5.5 .06 7.5 .06-9.1 .06 2.4 .06 7.4 .06-2.3 .06-2.3 .06-.9 .06-1.7 .06 5 .06 1.7 .06-3.2 .06 8.9 .06-5.8 .06-1.6 .06 2.8 .06-11.4 .06 4.8 .06 2.6 .06-2.7 .06 2.4 .06 2.3 .06-4.1 .06 6.5 .06-1.9 .06-5.9 .06 2.6 .06-2.2 .06 1.6 .06 6 .06-3.3 .06-5 .06 3.8 .06-3.1 .06 2.5 .06 4.7 .06-7.5 .06 4.1 .06 6.1 .06-12.1 .06 5.5 .06 1.5 .06 7.5 .06-8.1 .06-2.5 .06 8.5 .06-6 .06 7.9 .06-12.5 .06 2.9 .06-2.8 .06-2.2 .06 7.6 .06 8.8 .06-14.3 .06 6.3 .06 5.3 .06-10.1 .06 4.6 .06-8.7 .06 3.4 .06 10.5 .06-8.2 .06 2.3 .06-4.8 .06 3.4 .06-4.9 .06 1.9 .06-4.8 .06 5.3 .06 3.9 .06-2 .06 2.6 .06 1.3 .06-4.9 .06-1.1 .06 3 .06-1.3 .06 3.9 .06-1.3 .06-.7 .06 5.7 .06-5.3 .06 2.1 .06-2.7 .06 6.9 .06-9.7 .06-2.7 .06 4.6 .06-2 .06 1.3 .06-2.2 .06 2.3 .06 6.1 .06-11.4 .06 11.7 .06-8.2 .06-.7 .06 7.7 .06-3.4 .06-.4 .06-1.6 .06-2.3 .06 7.7 .06-4.3 .06-3.7 .06-.3 .06-.2 .06 .8 .06 3.5 .06 3.1 .06-7.6 .06 4.2 .06-3 .06 6.2 .06 2.8 .06-7.9 .06-3.7 .06 7 .06 3 .06-6.6 .06 .3 .06 3.3 .06 3.7 .06-10.5 .06 6.4 .06-6.1 .06 10.3 .06-6.7 .06 4 .06-2.1 .06-2.5 .06 2.6 .06-3.5 .06 1.6 .06 3.5 .06 2.4 .06-1.5 .06-6.3 .06 6.9 .06 4.1 .06-10.8 .06-.8 .06 8.1 .06-6.8 .06 4.5 .06 1.9 .06-6 .06 5.6 .06-5.9 .06 2.4 .06 4.3 .06-7.8 .06 5.8 .06-1.5 .06-3.1 .06-1.9 .06 5.7 .06-1.9 .06 3.5 .06 2.6 .06-7.3 .06-.8 .06-2.1 .06 4.7 .06-6.6 .06 9.3 .06-.9 .06-3.3 .06 8.1 .06-8.9 .06 2 .06-.7 .06 6.2 .06-4.7 .06-2.7 .06-.5 .06 1.7 .06-2.1 .06-4.1 .06 7.1 .06 4.1 .06-11.3 .06 9.8 .06-7.2 .06 2.6 .06 4.5 .06-5.7 .06-3.3 .06 16 .06-11.2 .06 .7 .06-4.5 .06 2.4 .06 6.9 .06 6.3 .06-12.3 .06-1 .06 4.1 .06-.9 .06 3.3 .06-6.2 .06 2.1 .06-2.2 .06 3.5 .06 1.9 .06-.7 .06-8.1 .06 1.8 .06 .7 .06-.8 .06 4.7 .06-.6 .06 5.2 .06-7.5 .06-1.6 .06 5.2 .06-7 .06 9.2 .06-3.1 .06-1 .06-3.1 .06-.4 .06 6.8 .06-5.8 .06-5.6 .06 10.6 .06-4.6 .06 3.3 .06-3.6 .06 3.8 .06-3.8 .06 16.8 .06-11.2 .06-3.4 .06-1.5 .06 2 .06 2.3 .06-7.2 .06 6.4 .06-4.8 .06 4.3 .06-2.4 .06 .4 .06 2.3 .06-1.3 .06 4.9 .06-4 .06-.4 .06-.5 .06 3 .06-.4 .06 5.2 .06-11 .06 5.7 .06 1.5 .06 5.3 .06-6.9 .06-5.2 .06-2.2 .06 13.5 .06-13.3 .06 7.2 .06 1.8 .06-3.8 .06 .4 .06-3.5 .06 3.6 .06 .1 .06-.9 .06-1.7 .06-2.3 .06 3.7 .06-1.6 .06-1.1 .06 .9 .06 1.7 .06 3.3 .06-1 .06 .7 .06-7.4 .06 11.1 .06-9.7 .06-.2 .06 2.1 .06 3.3 .06-2.1 .06-1.2 .06 1.2 .06 6.6 .06-3.4 .06-2 .06 2.3 .06-4.2 .06 .9 .06-5.3 .06 6.7 .06-.7 .06-5.5 .06 2.1 .06 6.3 .06-5.9 .06 5.5 .06-4.6 .06-5.5 .06 7.7 .06-3.8 .06 1.1 .06-2.7 .06 6.3 .06-2 .06-1.9 .06 3.2 .06 .9 .06-2.9 .06-1.6 .06 .7 .06 4.7 .06-3.7 .06 .5 .06-3.8 .06 6.6 .06-1.3 .06-6.1 .06 5.9 .06 2.3 .06-1.8 .06 .2 .06 .1 .06-6.4 .06 7.1 .06 3 .06-9.4 .06 3.3 .06-1 .06 1 .06-.9 .06-.5 .06 1.2 .06 6.5 .06-5.8 .06 3.5 .06-4.3 .06 .7 .06-4 .06 13.3 .06-5.9 .06 .3 .06 .2 .06-5.4 .06 5.6 .06-.2 .06-5.8 .06 6.5 .06 1.6 .06-2.3 .06-3.9 .06 5.4 .06-5.1 .06 2.6 .06-5.4 .06 3.6 .06-6.2 .06 5.8 .06 2.6 .06-3.1 .06 .9 .06 1.2 .06-8.8 .06 2.9 .06 .7 .06-.1 .06 6.7 .06-1.4 .06 2.4 .06-7.8 .06-2 .06 6.8 .06-1.1 .06 1.1 .06-2.5 .06 .7 .06-.6 .06-.6 .06 1.2 .06 1.3 .06-4.9 .06 2.6 .06 4.1 .06-7 .06 4.6 .06-3.1 .06 3 .06-5.4 .06 0 .06 5.1 .06 .6 .06 .5 .06-2.7 .06-.1 .06 9.1 .06-4 .06-7.6 .06 3.7 .06 8.3 .06-7.8 .06 2.8 .06-1.2 .06 2 .06-2.1 .06 2.6 .06-2.2 .06 1.3 .06-5.8 .06 4 .06-2 .06 3 .06-4.6 .06 1.7 .06 2.4 .06-5.1 .06 4 .06-7.7 .06 6.3 .06 .3 .06-.1 .06-3.5 .06 3.4 .06 2.1 .06 2.8 .06-9.5 .06 1.2 .06-.7 .06 5 .06 3.8 .06-5 .06 4.2 .06-1.6 .06-5.6 .06 5.8 .06 2.7 .06-4.8 .06 6.8 .06-8.3 .06 5.2 .06-7.6 .06 9.4 .06-.7 .06-2.9 .06 9.2 .06-6.2 .06-4.1 .06-2.2 .06 2.5 .06-2.3 .06 .9 .06 .7 .06 3.3 .06-2.4 .06-4.1 .06 .2 .06 1 .06 4.8 .06-6.8 .06 6.5 .06-2.7 .06-5.1 .06 12.5 .06-7.4 .06-2.4 .06 3.7 .06 5.8 .06-9.8 .06-1 .06-1 .06 8.7 .06 2.1 .06-6.9 .06-5.1 .06 6.8 .06-4 .06 5.3 .06-4 .06-.6 .06 3.9 .06-6.9 .06 5.9 .06-6.1 .06 8.1 .06 2.2 .06 2.6 .06-10.7 .06 2.7 .06 2.2 .06 1.2 .06-.9 .06-5.9 .06 2.3 .06 11.3 .06-4.2 .06 .8 .06-7.1 .06 .7 .06-2.5 .06 4.5 .06-.3 .06 1 .06-4.6 .06 6.7 .06-2.3 .06 5.7 .06-10.3 .06 7.8 .06-3.4 .06-1.6 .06 1.2 .06 8.1 .06-11.3 .06-.8 .06 2.1 .06 1.9 .06-1.2 .06-6.9 .06 9.6 .06 .6 .06-6.3 .06-2.9 .06 2.1 .06 3.5 .06-5.6 .06 7.5 .06-3.9 .06 9 .06-9.9 .06 3 .06-4.3 .06 15.5 .06-12.6 .06 1.5 .06 .5 .06-1.6 .06 2 .06-3.7 .06 7.1 .06-6.1 .06-2.1 .06 7.4 .06-9.8 .06 6.3 .06 2.2 .06-4.3 .06 .1 .06 .7 .06 7.7 .06-9.4 .06 .1 .06 5.6 .06-8.4 .06 5.8 .06-1.6 .06 7 .06-7.4 .06 5.9 .06 1.6 .06-6.3 .06-3.8 .06 6.6 .06 1.4 .06-7.5 .06 .5 .06 3.3 .06-1.2 .06 4.8 .06 1 .06 .5 .06-4 .06-3.7 .06 3.6 .06-1.2 .06-2.1 .06 10.7 .06-11.5 .06 1.9 .06 4.9 .06-2.9 .06 4.8 .06-7.6 .06 1.9 .06 .8 .06 3.9 .06-6 .06-.3 .06-.4 .06 7.9 .06-4.7 .06 .5 .06-4.5 .06 .4 .06 .9 .06-1.3 .06 2.6 .06-6.9 .06 8 .06-.7 .06 4.1 .06-5.2 .06 .1 .06-2.8 .06 2.4 .06 5.7 .06-4.6 .06-.1 .06-1.9 .06 1.8 .06 2 .06-2.1 .06-.1 .06 4.2 .06-.8 .06-3.2 .06-3 .06 2.8 .06 .6 .06-1.6 .06 1.3 .06 6.1 .06-4 .06-5.6 .06 3.3 .06 4.4 .06-4.5 .06 1 .06-7 .06 9.8 .06-5.3 .06-1.8 .06 1.7 .06 6 .06-4.4 .06 3.4 .06-1.5 .06-3.5 .06 8.1 .06-9 .06-2 .06 2.5 .06 3.6 .06-6.4 .06 4.1 .06 7.8 .06-3.3 .06-4.3 .06 .5 .06-1.3 .06 .2 .06 4.3 .06-1.3 .06-2.5 .06-4.7 .06 2.5 .06-.9 .06 2 .06 2.7 .06 1.4 .06 2.9 .06-4.7 .06-1.2 .06 3.3 .06 4.2 .06 1.5 .06-.5 .06-12 .06-.4 .06 2 .06 1 .06 .3 .06 6.8 .06-12 .06 7 .06-.5 .06 1.9 .06 4 .06-6.5 .06-2.4 .06 1.8 .06 6.7 .06 3.8 .06-14 .06 1.5 .06 8.9 .06-3.9 .06-7.5 .06 7.4 .06-.1 .06-1.5 .06-1 .06 1.7 .06-3.4 .06 3.9 .06 1.2 .06 4.9 .06-7.9 .06-5.5 .06 4.5 .06-1.9 .06 2.7 .06 .1 .06 9.4 .06-6.4 .06-1 .06-3.5 .06 3.3 .06 5.7 .06 .8 .06-6.2 .06-1.3 .06-6.3 .06 11.1 .06-2.3 .06-.2 .06-7.3 .06 6.3 .06-.4 .06-2.4 .06 15.8 .06-17.6 .06 3.3 .06-1.8 .06 9.1 .06-10.6 .06 1.1 .06-5.1 .06 7.7 .06-4.4 .06 1.2 .06 3.2 .06 7.3 .06-10.5 .06 3 .06-5 .06 4.8 .06 6 .06-6.1 .06 0 .06-1.2 .06-.8 .06 2.3 .06 6.7 .06-1.9 .06-4.9 .06-.1 .06-3.4 .06 3.1 .06-2.8 .06 2.4 .06 2.2 .06-6.9 .06 5.8 .06 .1 .06-1 .06-2.5 .06 4.1 .06-1.7 .06 3 .06-3.7 .06 10.5 .06-6.6 .06-.5 .06-1.3 .06 .9 .06-4.7 .06 .8 .06 6 .06-4.4 .06-3.8 .06 6.7 .06-1 .06-2.9 .06 7.1 .06-5 .06-4.4 .06-1.5 .06 8.9 .06-7.2 .06 8.2 .06-10.5 .06 4.2 .06 2.3 .06 .7 .06-3.1 .06-2.9 .06 2.6 .06-1.6 .06 .4 .06 .3 .06-3.4 .06 2.7 .06 3.2 .06-.9 .06 6.7 .06 .8 .06-5 .06-1.2 .06 1.2 .06-.6 .06-4 .06 2.4 .06 7.8 .06-9.3 .06 .1 .06 2.3 .06-.7 .06 2.7 .06-3.5 .06 3.4 .06-1.5 .06-3.2 .06 2.5 .06 .2 .06-4.4 .06 5.4 .06-4.2 .06 2.4 .06 2.8 .06-.3 .06-3.4 .06-3.4 .06 8.4 .06 1.2 .06-8.8 .06 1.7 .06 2 .06 6.4 .06-9.1 .06 9.2 .06-8.6 .06 3.7 .06-1 .06 1.5 .06 1.7 .06-1.6 .06-3.3 .06 10.1 .06-2.9 .06-7.7 .06 1.4 .06-4.7 .06 10.3 .06-1.1 .06-3.3 .06-.5 .06-.6 .06 .1 .06-1.5 .06 9.5 .06-7.9 .06 2.6 .06 .4 .06-7.5 .06 6.4 .06-5.1 .06-3.7 .06 8.8 .06-1.2 .06 .3 .06-.8 .06-4.1 .06 1.7 .06 2.4 .06 .3 .06 3.3 .06-4.3 .06 5.9 .06-1.9 .06-3.1 .06 3 .06 2.9 .06-5.1 .06 3.3 .06-5.5 .06 1.1 .06 5.6 .06-6.2 .06-1 .06 1.7 .06 1.3 .06 .8 .06-7.3 .06 5.2 .06 .4 .06 1.2 .06 3.4 .06-2.6 .06-3.7 .06 .8 .06 0 .06 .6 .06 3.7 .06-3.4 .06-2.9 .06 3.2 .06 9.5 .06-6.8 .06 4.7 .06-4.1 .06-10 .06 8.1 .06 1.7 .06 3.3 .06-5.6 .06-4.9 .06 7.1 .06-4.5 .06 .7 .06 2.9 .06-4.5 .06 3.8 .06 1.3 .06-.3 .06-3.3 .06-5 .06 2.7 .06 5.7 .06-2.7 .06 3.3 .06 .3 .06 3.9 .06-8.6 .06 3.3 .06-1.3 .06-2 .06 6.7 .06-.9 .06-6.1 .06 5.5 .06-.2 .06-6.8 .06 12.7 .06-9.4 .06-4.2 .06-1.3 .06 .8 .06 10.1 .06-6.3 .06-2.3 .06 1.8 .06 2.6 .06 2.6 .06-6.2 .06 7.8 .06 1 .06-3.2 .06-3.4 .06-4.1 .06 5.2 .06-4 .06 6.6 .06-1.9 .06-.3 .06 1.2 .06-6.3 .06 9.4 .06 .5 .06-9.8 .06 2.7 .06-1.3 .06 5.1 .06-5 .06 9.1 .06-6.5 .06-1.5 .06 9.2 .06-5.5 .06 2.8 .06-2.2 .06-2 .06 .4 .06 6.7 .06-10.4 .06 7.2 .06-6 .06 3.6 .06 3.9 .06-9.3 .06 3.6 .06-2.2 .06-.1 .06 .4 .06 3.9 .06-4.4 .06-1.4 .06 5.5 .06 1.5 .06-1.8 .06-5.7 .06 3.8 .06-4.9 .06 6.1 .06-1.6 .06-4.6 .06-.6 .06 2.9 .06 6.6 .06-4.3 .06 .3 .06 3.7 .06-7.9 .06 2.6 .06 4.6 .06 1.2 .06-5.2 .06 7.5 .06-9.8 .06 4.7 .06 3.2 .06-6.7 .06 5.1 .06-2.7 .06-1.1 .06 4.1 .06-4.9 .06-2.8 .06 .8 .06 3.6 .06-2.8 .06 6.6 .06-3.4 .06-4.2 .06 7.5 .06-4.6 .06-2 .06 2.2 .06-5 .06 6.8 .06 .6 .06 3.5 .06-6.2 .06 .3 .06 3.4 .06-4.3 .06-3.6 .06 6.8 .06-6.1 .06 1.8 .06 3.1 .06 8.2 .06-2.2 .06-6.2 .06 2.5 .06-4 .06 3 .06-1.2 .06 1.9 .06-.6 .06-3.4 .06 8.5 .06-10.9 .06 1.8 .06 9.5 .06-8.5 .06 2.4 .06 .8 .06-1.4 .06-.2 .06 2.5 .06-1.3 .06-5.3 .06 9.6 .06-9 .06 5.9 .06-4.6 .06 6.9 .06-2.2 .06-2.2 .06 7.7 .06-3.4 .06-10 .06 2.2 .06-.5 .06 1.1 .06 4.1 .06-7.5 .06-1.3 .06 11.1 .06-4.3 .06 .4 .06-.2 .06-3.3 .06 3 .06-.4 .06 .4 .06 5 .06-10.4 .06 10.8 .06-4.2 .06-.4 .06-2.1 .06-.7 .06 10 .06-8.6 .06 4.4 .06-5.4 .06 9.4 .06-8.6 .06 10.3 .06-4.4 .06-4.7 .06-2.5 .06-.6 .06 1.4 .06 3.6 .06-3.2 .06 1.2 .06 1.7 .06-5.4 .06 3 .06 0 .06-2.2 .06 4.5 .06-1.6 .06 4.4 .06-1.3 .06 2.1 .06-1.1 .06-.5 .06-3.3 .06-2.3 .06 3.8 .06-2.4 .06-6.3 .06 9.1 .06-1.4 .06-11.6 .06 12.1 .06-6.8 .06 4.5 .06 6.5 .06-6.9 .06 4.5 .06-3 .06-2.7 .06 1.7 .06 4.5 .06 2.3 .06-3.8 .06-3.3 .06 3.4 .06 0 .06-10.5 .06 8.1 .06-3.2 .06 13.6 .06-6.4 .06 1.2 .06-3.5 .06-4.5 .06 1.1 .06 1.3 .06-1.7 .06 2.5 .06-.8 .06-5 .06 2.9 .06-1.4 .06-2.4 .06 10.9 .06-11.4 .06 11.5 .06-9 .06 4.9 .06-7.2 .06 2.4 .06 7.1 .06-5 .06-.1 .06 4.4 .06-3.1 .06 3 .06-1.2 .06-.8 .06-.4 .06 4.2 .06-9.9 .06 11.2 .06-6 .06 2.9 .06-6.5 .06 5.9 .06 0 .06-7.3 .06 7.4 .06-1.6 .06 2.7 .06-4.6 .06 1 .06 4.8 .06-5 .06 2.9 .06-3.4 .06 5.8 .06-7.2 .06-.4 .06 6.6 .06-3.1 .06-2.3 .06 7.4 .06-5.6 .06-.7 .06 5.7 .06-1.6 .06-7.3 .06 2.9 .06 2.4 .06 2.9 .06-6.1 .06 4.2 .06-8.9 .06 5.7 .06-2.4 .06 2.8 .06-4.2 .06 3.7 .06 4.6 .06-4.2 .06 1.9 .06-1.8 .06 1.5 .06-.7 .06 2 .06-.8 .06-2.1 .06 1.7 .06-4.3 .06 .7 .06 4.1 .06 3.1 .06-8.7 .06 5.6 .06 3.2 .06-1.9 .06-1.7 .06-5.4 .06 1.6 .06 2.4 .06 5.4 .06-3.8 .06 1 .06-7 .06 5.4 .06-8 .06 5.6 .06 4.4 .06-3.2 .06 3.8 .06-4.8 .06 10.2 .06-12.5 .06 3.2 .06-1.9 .06 7.4 .06-11.7 .06 11.7 .06-5.5 .06 5.5 .06-3.6 .06-2.3 .06 6.9 .06-5.3 .06-2 .06 5.3 .06-6.8 .06 3.7 .06 3.9 .06-2.1 .06 .8 .06-3 .06-2.4 .06 2.2 .06-1.1 .06 1.1 .06-1.9 .06-1.8 .06 9.8 .06-6.7 .06 1.2 .06-5.4 .06 1.4 .06 8.4 .06-3 .06 5.3 .06-8.7 .06 .5 .06 2 .06 4.8 .06-7.4 .06 4.9 .06-5.6 .06 5.4 .06-9.6 .06 1.8 .06 .1 .06 11.9 .06-10.8 .06-.4 .06 6.5 .06-2.6 .06 1.6 .06-4.6 .06-4 .06 11.1 .06 .7 .06-6.7 .06 5.6 .06-6.4 .06 3.8 .06-2.8 .06-1.5 .06 2.3 .06-2.5 .06 7.1 .06 .5 .06-5 .06 4.8 .06-4 .06-2 .06 1.9 .06-1.5 .06 .4 .06 11.6 .06-9.7 .06 .9 .06-6.2 .06 .3 .06 6.2 .06-5.2 .06 4 .06-3.1 .06 7.2 .06-7.3 .06-.2 .06 8.3 .06-7.3 .06-2.9 .06 4.7 .06-4.1 .06 7.3 .06 .5 .06 1.1 .06-8.1 .06 12 .06-11.4 .06 3.3 .06-3.7 .06 1.9 .06 1 .06-2.4 .06-1 .06-.5 .06 .3 .06 .8 .06 4.8 .06-1.4 .06 5.7 .06-5.4 .06-.2 .06-5.1 .06-1.4 .06 10.2 .06 2.1 .06-4 .06-3.4 .06-4.8 .06 10.6 .06 .2 .06-.4 .06-8.9 .06 6.5 .06-1.2 .06 3.3 .06-6.3 .06 3.2 .06-1.3 .06 2.6 .06-.5 .06-6.1 .06 6 .06-4.3 .06 3.9 .06 2.6 .06-5.3 .06 4.5 .06-3.6 .06-3.2 .06 4.4 .06 1.5 .06-6.1 .06 4.1 .06 2.2 .06-2.7 .06-2.4 .06 .3 .06 .8 .06-.5 .06 2 .06 4.3 .06-4.5 .06 7.1 .06-8.7 .06 5.5 .06 .9 .06-9.6 .06 4.1 .06 .1 .06 1.9 .06-1.6 .06 2.9 .06-.7 .06-1.9 .06 0 .06 12.1 .06-16.4 .06 6.9 .06-5.5 .06-1 .06 2.7 .06 2.9 .06-3.6 .06 3.5 .06 2.5 .06 7.3 .06-13.6 .06 1.8 .06-4.2 .06 4.9 .06-1.2 .06 .4 .06 1.6 .06-2.8 .06-.1 .06 0 .06 5.3 .06-2.5 .06-6.8 .06 5.2 .06 3.1 .06 3.3 .06-9.9 .06 .7 .06 2.1 .06 2.9 .06-3.7 .06-1.5 .06 3.1 .06 .4 .06 1.5 .06-1.4 .06 3.3 .06-4.2 .06 4.2 .06-.9 .06 2 .06 1.1 .06-5.8 .06-5.2 .06 13.6 .06-7.9 .06 6.3 .06-6.2 .06 6.1 .06-6 .06 1.3 .06-1.9 .06-1 .06 1.9 .06-.4 .06 2.9 .06-.9 .06-1.1 .06-.8 .06-1.2 .06-.5 .06 6.6 .06-8.5 .06 2 .06 1.5 .06-.1 .06 3.5 .06-5.4 .06 11.9 .06-.7 .06-11.6 .06 4.7 .06-1.7 .06 2.1 .06-5 .06 6 .06-3.8 .06-1.5 .06-3.5 .06 1.5 .06 3.3 .06-2.5 .06 4.4 .06-1.8 .06-2.5 .06-1.9 .06 9 .06-3.2 .06-3 .06-.5 .06 1.1 .06 1.5 .06 3.1 .06 .9 .06-6 .06 3.5 .06-1.2 .06 1.9 .06-1.1 .06 1.8 .06-2.1 .06-.3 .06-2.5 .06 4.9 .06 3.7 .06-5.8 .06-2.1 .06 2.8 .06-4.6 .06 2.7 .06 3.2 .06-5.5 .06 1.1 .06 2 .06 .3 .06 3 .06 3.6 .06-9.3 .06-5.3 .06 4.3 .06 .8 .06 1.4 .06 1.8 .06-6.5 .06 4.1 .06-2.6 .06 4 .06-2.7 .06-.5 .06 5.7 .06 2.1 .06-7 .06-1.1 .06 1.1 .06 3.2 .06 4.8 .06-3.6 .06-5.8 .06 .6 .06 3.8 .06-3.8 .06 3.4 .06 2.5 .06-3.1 .06 2.6 .06-5.6 .06 5.6 .06-3.5 .06-2.9 .06 3.9 .06 2.6 .06-5.9 .06 1.5 .06-2.1 .06 4 .06-1.7 .06 1.9 .06-2.3 .06 1.6 .06 1.6 .06 3 .06-1.7 .06-1.4 .06-2.7 .06-.3 .06 2.3 .06-3.3 .06-2.7 .06 6.8 .06-3.7 .06 1 .06 .2 .06 .8 .06 10.1 .06-13.2 .06 11.6 .06-1.6 .06-7.4 .06-1.9 .06 .7 .06 5.9 .06 .6 .06-4.9 .06 6.9 .06-11 .06-.6 .06 5.6 .06 .2 .06-1.4 .06-5.5 .06 9.8 .06-.7 .06-4.4 .06 3.3 .06-4.6 .06-3.8 .06 3.9 .06 5.1 .06-3 .06 1.4 .06 3.3 .06-6.5 .06-1.9 .06 2.2 .06-3.5 .06 8.6 .06-2.5 .06 4.7 .06-5.7 .06-3.9 .06 4.4 .06 1.2 .06-3.8 .06-1.6 .06 3.3 .06 1.1 .06-4.5 .06 2.5 .06-2.7 .06 6.6 .06-2.2 .06 2.1 .06 3.9 .06-2.1 .06-5.8 .06-1.1 .06 3.9 .06 .6 .06-5.8 .06 6.7 .06-4.3 .06 6.3 .06 2 .06-7 .06 .9 .06 2 .06 3.6 .06-6.8 .06 3.9 .06-8.6 .06 3.8 .06 3.8 .06 2.3 .06-4.2 .06 2.3 .06 2.4 .06-7 .06 5.1 .06-4.8 .06 3.9 .06-3.3 .06 .4 .06-2.7 .06 .7 .06 6.4 .06-6.5 .06-3 .06 9.1 .06-5.7 .06 2.8 .06-1.6 .06-6.7 .06 18.5 .06-6.7 .06-4.2 .06 4.5 .06-3.5 .06-3.7 .06 3.1 .06 3.7 .06-7 .06 1.8 .06 4.4 .06-4.6 .06 9.2 .06-8.2 .06 1.6 .06-4.7 .06 4.2 .06 6.2 .06-13.7 .06 6.9 .06-.5 .06 6.2 .06-11.2 .06 .7 .06 .4 .06 2.9 .06-1.6 .06 .4 .06 8.3 .06-9.8 .06 9.1 .06-7 .06 12.7 .06-13.3 .06 9.7 .06-10.1 .06 1.6 .06 .3 .06 2.5 .06-2 .06-2.2 .06 6 .06 1.3 .06-7.7 .06 12.6 .06-13 .06 13.1 .06-8.9 .06-4.6 .06 .3 .06 9.6 .06-3.9 .06-5 .06 .3 .06 16.8 .06-15.4 .06 5.4 .06-9.8 .06 8.6 .06-8.7 .06 4 .06-1.4 .06 .3 .06 1.5 .06 3.7 .06-.1 .06 .4 .06 1.8 .06-2.8 .06-1.8 .06 1.2 .06-4.3 .06 4.4 .06-4.1 .06 1.6 .06-3.5 .06 3.1 .06-2.1 .06 1.4 .06 2.5 .06-3.2 .06 7.3 .06-4.7 .06-.1 .06-2.4 .06 8.6 .06-5.4 .06-2.2 .06-.6 .06 4.7 .06 2.8" fill="none" stroke="#3b7cc4" stroke-width="1" stroke-linejoin="round"/>
<path d="M423.2 96.8l.06 31.6 .06-5.2 .06 .4 .06-.8 .06-3.2 .06 1.1 .06 1.3 .06-.7 .06 2.6 .06-1.6 .06 .2 .06 2.7 .06-2.2 .06-4.7 .06 5.3 .06-.8 .06 3.8 .06-.3 .06 1.3 .06-1.7 .06-7 .06 .5 .06 3.9 .06 8.1 .06-11.6 .06 5.6 .06 1.4 .06-7.5 .06 3.9 .06-5.1 .06 4.6 .06 3 .06 0 .06 5.1 .06-7.6 .06 2.2 .06-3.7 .06 2.3 .06-5.6 .06 6.8 .06-2.9 .06-4 .06 2.9 .06-2.2 .06 .2 .06 4.8 .06 .9 .06 7.4 .06-8.8 .06 .4 .06-1.4 .06-3.7 .06 5.4 .06 .2 .06-2.5 .06 2.2 .06 .9 .06 1 .06-2.5 .06-1.1 .06 4.3 .06-1.5 .06-1.9 .06 3.3 .06-5.6 .06-.1 .06 3.6 .06-7.9 .06 4.1 .06 1.2 .06 .5 .06-2.3 .06-.8 .06 2.9 .06-5.5 .06 6.7 .06 1.9 .06 1 .06-1.3 .06-.9 .06 .6 .06 .7 .06-3.7 .06 6 .06 .3 .06-4.4 .06 1 .06 1.8 .06-8.3 .06 6.3 .06-1.9 .06 5.4 .06-12.7 .06 9.5 .06-3.8 .06 2 .06-1.1 .06 3.7 .06 7.2 .06-3.9 .06-9.7 .06 2.9 .06-.3 .06 3.7 .06-.8 .06 .2 .06 2.7 .06-6 .06 4.3 .06 3.7 .06-6 .06 .5 .06 1.7 .06-2.8 .06-1 .06-1.5 .06 5 .06 .4 .06-4.2 .06 1.8 .06 1.5 .06-3.7 .06-1.4 .06 1.8 .06 5.3 .06 6.7 .06-12.6 .06 3.5 .06-.6 .06-6 .06 3.2 .06 2 .06 .5 .06 5.7 .06-7.4 .06 2.2 .06-1.6 .06-2.8 .06 6.4 .06-4 .06 9.3 .06-1.3 .06-7.6 .06-1.2 .06 4.6 .06-5.5 .06 3.3 .06-3.2 .06 5.7 .06 .4 .06-6.4 .06-.4 .06 6.9 .06-7.1 .06 9 .06-6.1 .06 4.6 .06-.7 .06-2.5 .06 .5 .06-3.3 .06 3.5 .06 4.9 .06-8.5 .06-2.7 .06 11.7 .06-9.1 .06 8.5 .06-7.6 .06 3.1 .06 2.9 .06-4.3 .06 2.5 .06-6.9 .06 5.2 .06-1.5 .06 .8 .06-2.3 .06 4.7 .06-7.8 .06 4.8 .06 0 .06 .5 .06-.4 .06 1.5 .06 .4 .06-.3 .06-1.9 .06-2 .06 1.9 .06 1.6 .06-2 .06-1.3 .06 1.1 .06-3.2 .06 4.6 .06 0 .06 2 .06 .7 .06-3.3 .06 1.8 .06-3 .06 2.7 .06-1.1 .06-4.8 .06 2.7 .06-.5 .06 5.3 .06 .6 .06-1.6 .06-4.7 .06 6.6 .06-3.5 .06-4.2 .06 5.6 .06-1.2 .06-1.7 .06 7.1 .06-9 .06 4.5 .06 0 .06 5.3 .06-3.7 .06 7.2 .06-13.1 .06-.4 .06 6.6 .06-5.7 .06 1.6 .06 4.3 .06 .5 .06 2.7 .06-.9 .06 1.2 .06-8 .06-4 .06 4.1 .06 8.2 .06-5.3 .06-1 .06 4.6 .06-1.9 .06-4 .06 2.1 .06 1.4 .06 3.7 .06-8.7 .06 1.3 .06-4.1 .06 10 .06-6.5 .06-.2 .06 1.7 .06 2.8 .06-1 .06-1.5 .06 7.1 .06-9.1 .06 1.8 .06 1.4 .06-1.5 .06 0 .06-.9 .06 .7 .06 3.4 .06-.8 .06-2.3 .06 .5 .06-4.4 .06 6.3 .06-.8 .06-.3 .06 3.9 .06-5.3 .06 3.6 .06-1.7 .06 1.4 .06-2.3 .06-1 .06 9.9 .06-9.1 .06-1.2 .06 4.7 .06-2.3 .06-6.5 .06 6.5 .06-3 .06 5 .06-6.4 .06 9.3 .06-6.9 .06 1.8 .06-1.8 .06 .7 .06-1.7 .06 5.5 .06 .6 .06-5.8 .06 .8 .06 8.4 .06-12.4 .06 5.2 .06-.4 .06 5.5 .06-6.1 .06-.9 .06-.8 .06 5.4 .06-11.7 .06 6 .06-.5 .06-2.6 .06 5.8 .06-1.1 .06 8.5 .06-1.5 .06-5.9 .06-.8 .06 .9 .06 .9 .06-3.2 .06-.1 .06 3 .06-1.3 .06-1.2 .06 .7 .06 5.8 .06-3.9 .06 .4 .06-5.5 .06 6.8 .06-2.3 .06 .4 .06 .4 .06 4.2 .06-10.5 .06 5.3 .06-1.8 .06 .6 .06 2.3 .06 6.3 .06-7.4 .06-3.9 .06 8.3 .06-4.5 .06-1 .06 2 .06 .1 .06-3 .06 2.4 .06-6.2 .06 3.7 .06-2.4 .06 2.2 .06 5 .06-2.6 .06-.4 .06 0 .06 5.9 .06-7.6 .06 .3 .06 1.3 .06 4.4 .06-8.9 .06 5.8 .06 .5 .06 6.2 .06-9.8 .06-1 .06 .1 .06 10.8 .06-11.2 .06 4.3 .06-.1 .06 1.4 .06-4 .06-1.3 .06 2.9 .06 1.2 .06-4.4 .06 3.6 .06-1 .06 2.1 .06-2.4 .06-.5 .06 4 .06 2.1 .06-4 .06 3.9 .06-4.1 .06-3.5 .06 4 .06 8.5 .06-6.2 .06-3.9 .06 .1 .06 3.2 .06-11.8 .06 7.5 .06 4.2 .06-6.9 .06 1.8 .06-4.3 .06 5.2 .06 .9 .06 4.8 .06-4.2 .06 4 .06-6.8 .06 5.5 .06-9.3 .06 7.1 .06-6.7 .06 11.6 .06-3.7 .06 2.9 .06-.5 .06-3.9 .06 6.4 .06-8.3 .06 2.2 .06 1.5 .06-.6 .06 .4 .06-9 .06 8.2 .06-.3 .06 1 .06-4.5 .06 2.2 .06 .2 .06 7.2 .06-6.2 .06-3.5 .06 6 .06-6.3 .06 2.5 .06 0 .06-.9 .06 3.5 .06-1.2 .06-3.6 .06-1 .06 .7 .06-1 .06 .9 .06 8.9 .06-6.9 .06 6.8 .06-1.8 .06 .8 .06-1.5 .06-3.1 .06 3.4 .06-3.7 .06-2.5 .06 1.9 .06 7.8 .06-5.8 .06-2.8 .06 3 .06-2.2 .06 4.2 .06-2 .06-3.3 .06 6.2 .06-3.6 .06 .3 .06 .8 .06-2.5 .06-2.5 .06 4.5 .06 1.3 .06-1.3 .06-4.7 .06 6.8 .06 .6 .06-1.7 .06-3.9 .06 2.1 .06-2 .06 5.9 .06-3.2 .06 2.8 .06-.2 .06-4.3 .06 1.7 .06-6.4 .06 2.2 .06 3.4 .06 .9 .06 4.2 .06 1.1 .06-9.3 .06 5.1 .06-2.7 .06 .6 .06-2 .06-2.9 .06 2.6 .06 3 .06-4.5 .06 2.4 .06 2.1 .06-1 .06-2.3 .06-1.1 .06 5.9 .06-1 .06 3.8 .06-7.4 .06 3.3 .06-5.3 .06 .4 .06 3.6 .06-.2 .06 3.2 .06-.1 .06-2.5 .06 1 .06-5.7 .06 7 .06-4 .06 2.5 .06-1 .06-.9 .06 5.1 .06-6.1 .06-1.4 .06 .4 .06 3.8 .06 2.3 .06-5.4 .06 4.3 .06-2.4 .06 7.1 .06-1.1 .06-4.7 .06 .1 .06 2.6 .06 2.9 .06-7.3 .06 7 .06-3.5 .06-4.6 .06 2.4 .06-1.2 .06 .6 .06-.1 .06 1.2 .06 2.7 .06-6.6 .06 2.7 .06 .2 .06-7.6 .06 11.4 .06-6.7 .06 2.6 .06 5.1 .06-2.6 .06-.6 .06 3.8 .06-3.4 .06-4.1 .06-1.3 .06 2.8 .06 .6 .06 .8 .06 2 .06-1.2 .06-2.3 .06 5.9 .06-4.1 .06-1.1 .06-.3 .06 5.9 .06-9.6 .06 2.7 .06 4.6 .06-1.5 .06-3.7 .06-.6 .06 5.3 .06 .8 .06-6.9 .06 2.2 .06 1.7 .06 1.4 .06-1.1 .06 2.7 .06-6 .06 2.1 .06-.3 .06-5.7 .06 5.5 .06 4.7 .06-1.6 .06-5 .06-.6 .06 3 .06 1.7 .06-3.7 .06 6.2 .06-.4 .06-2.6 .06-1.9 .06 .8 .06-.3 .06 5.1 .06-2.9 .06-1 .06 .9 .06 .7 .06-3.6 .06 2.7 .06 1.9 .06-6 .06 2.7 .06 6.2 .06-7.1 .06-4.2 .06 2.8 .06-.7 .06-.4 .06 2.5 .06 3.6 .06-5.4 .06 7.1 .06-4.3 .06-1.5 .06 .9 .06 2.1 .06 2.7 .06-9.3 .06 3.2 .06 4.1 .06 1.7 .06-4 .06 .1 .06-.3 .06-3.5 .06 6.5 .06-3.8 .06 7.1 .06-4.9 .06-5 .06 8.6 .06-6.8 .06 9.6 .06-5.9 .06-.7 .06 1.2 .06-3.3 .06-.3 .06-1 .06 4 .06 1.2 .06-5.9 .06 5.5 .06-3.7 .06 3.9 .06-3.8 .06-6.2 .06 5.4 .06-5.4 .06 10.2 .06-2.6 .06-.6 .06 1 .06-2.6 .06 0 .06 1.6 .06-3.9 .06 7.6 .06-.9 .06 6.2 .06-8.8 .06 1.5 .06-2.2 .06 3.8 .06 .3 .06-3 .06 2.3 .06-3.1 .06 .1 .06 1.2 .06-2.5 .06 1.8 .06 1.6 .06 1.8 .06-4.2 .06 3.8 .06-5.5 .06 1.8 .06 2.8 .06 2 .06 .5 .06-8.2 .06 11.7 .06-5.1 .06-9.9 .06 4.6 .06-2.1 .06 3.1 .06 1.3 .06-1.1 .06 8.7 .06-2.7 .06-2 .06 .9 .06 .6 .06-11 .06 10 .06-5.9 .06 10.1 .06 .6 .06-7.9 .06-1.8 .06 6 .06-3.2 .06-4.9 .06 .4 .06 6.7 .06-8.3 .06 .7 .06 1.6 .06 8.2 .06-2.8 .06-3.8 .06 1.6 .06-.5 .06-1.2 .06 .7 .06-1.6 .06-2.3 .06 3.8 .06 2 .06-1.2 .06 4.1 .06-4.5 .06-3.2 .06 11 .06-.7 .06-9.7 .06 5.2 .06-1.8 .06-1.8 .06-3.7 .06 2.2 .06 0 .06 .8 .06 5 .06-4.3 .06-3 .06 14.7 .06-2.9 .06-9.2 .06 6 .06-3.2 .06-1.9 .06-4 .06 5 .06-.8 .06-3.2 .06 6.4 .06 2.5 .06-8.9 .06 12.1 .06-2.4 .06-1.3 .06-6.8 .06-.1 .06 .8 .06-1.5 .06 5.9 .06-2 .06 1.3 .06-2.1 .06 .1 .06 4.1 .06-5.2 .06-.8 .06-.3 .06 2.8 .06-1.3 .06 1.7 .06 5.7 .06-10.3 .06-.1 .06 6.9 .06-2.2 .06-1.7 .06-.7 .06 1 .06 .5 .06-.9 .06 6 .06-5.9 .06 1.4 .06-6.5 .06 .9 .06 3.6 .06 2.5 .06-3.7 .06 5.5 .06-7.1 .06 5 .06-1.2 .06 3.6 .06-.7 .06-7.7 .06 3.4 .06 2.7 .06-4.1 .06 3.8 .06-1.4 .06-.4 .06 3.5 .06-2.3 .06-2.7 .06 1.3 .06 6.2 .06-3.8 .06-7.7 .06 9.9 .06-1.1 .06-2.4 .06 4.7 .06 2.2 .06-10.6 .06 9.7 .06-9 .06 2.6 .06-.4 .06-4.4 .06 9.2 .06 1.7 .06-8.7 .06-.1 .06 2.2 .06 4 .06 1.6 .06-3.6 .06-2 .06 5.3 .06-7.3 .06 5.3 .06-1 .06-4.3 .06 4.6 .06-4.4 .06 2.3 .06 3.2 .06-.3 .06-3.7 .06-.7 .06-.1 .06-1.4 .06 1.5 .06 .4 .06 2.6 .06-.6 .06 3.4 .06-1.7 .06-1.8 .06 1.1 .06 5.7 .06-2.8 .06-8.3 .06 8.7 .06-8.1 .06 2.6 .06-.7 .06-.1 .06 3.4 .06 1.2 .06-1 .06-3.9 .06 5.9 .06-3.9 .06-.7 .06-.7 .06 .4 .06 5.9 .06-9.9 .06 7.2 .06-4.1 .06 2.4 .06 .3 .06 1.3 .06-6.2 .06 5.5 .06 3.1 .06 .3 .06-2.5 .06-5.2 .06 4.3 .06-1.4 .06-3 .06 .8 .06-.3 .06 .8 .06 1.8 .06-.6 .06-.8 .06 .8 .06 .4 .06 1.9 .06 1.4 .06-2.2 .06 1.8 .06 2.6 .06-7.9 .06 6.2 .06-6.1 .06 .9 .06 1.8 .06-4.6 .06 9.4 .06-5 .06-3.8 .06 3 .06 3.5 .06 1.9 .06-4.7 .06 5.4 .06-7.5 .06 .6 .06 10.1 .06-6.6 .06-5.7 .06 1.8 .06 5.8 .06 .7 .06-.1 .06-1.4 .06-4.2 .06 .7 .06-3.4 .06 2.8 .06-1.7 .06 12.5 .06-8.8 .06 1 .06 .8 .06 1.8 .06 8 .06-17.5 .06 8.3 .06-6.2 .06 4.6 .06-3 .06-.3 .06-2 .06 6.1 .06-2.8 .06 2 .06-3.3 .06-1.6 .06 6.6 .06-5.6 .06 3.7 .06 4.5 .06 4.6 .06-7.2 .06-4.5 .06 .9 .06 3.1 .06-1.4 .06-1.4 .06-2.2 .06 5.8 .06 .4 .06-6.8 .06 4 .06 2.8 .06-7.2 .06 2.3 .06 3.4 .06-1.9 .06-.5 .06 3.8 .06-.7 .06-7.1 .06 3.2 .06 .6 .06 0 .06 1.4 .06-6.5 .06 5.5 .06-3 .06 4.1 .06-3 .06 8.2 .06-6 .06-2.4 .06 1.4 .06 3.2 .06-4 .06-2.9 .06 12.9 .06-9 .06 .2 .06-.3 .06 4.3 .06-7.5 .06 7.3 .06-3.2 .06-2.2 .06-.5 .06-1.9 .06 7.9 .06-1.2 .06-4.6 .06 .6 .06 2 .06 8.9 .06-9 .06 .3 .06 .3 .06 4.8 .06-9.3 .06 8.7 .06-6.4 .06 3.6 .06-5.7 .06 6.1 .06 0 .06-5.2 .06 6.1 .06-5.4 .06 3.5 .06-1.2 .06-3.4 .06 .5 .06 4.2 .06-3 .06-.2 .06-.6 .06 4 .06-6.9 .06 7.5 .06 2.1 .06-3.4 .06-1.4 .06-6.3 .06 9.6 .06-2.6 .06 1.8 .06-2.4 .06 1.1 .06-4.5 .06 6.5 .06-.7 .06-3.6 .06 1.5 .06-3.2 .06 5 .06-4.6 .06 4.5 .06 .9 .06-5.1 .06 1.7 .06 .1 .06 4.4 .06-1.8 .06-2.7 .06 3 .06 1.3 .06-1.3 .06-1.9 .06 4 .06-6.9 .06 7.5 .06-4 .06-1.3 .06 2.5 .06-1.7 .06 6.1 .06-4.6 .06-3.5 .06 1.1 .06 1.7 .06-2.2 .06 2.3 .06 .2 .06-3.6 .06 3.6 .06 1 .06-4.7 .06-3.6 .06 13.1 .06-11 .06-.9 .06 7 .06 2.3 .06-1.3 .06-5.2 .06 4.6 .06 3.3 .06-.1 .06-7.2 .06 1.4 .06 0 .06 1 .06-4.4 .06 4.4 .06-1.1 .06-3.2 .06 1.8 .06 6.2 .06-9.3 .06 7.4 .06 1.2 .06-5.3 .06 6.3 .06-3 .06-4.7 .06 1.4 .06 1.3 .06-3.7 .06 5.4 .06 1.7 .06-6.8 .06-.7 .06 3.9 .06-1.2 .06-.4 .06 2.3 .06 7.1 .06-9.4 .06 3 .06-2 .06 1.1 .06-3.6 .06 2.1 .06 1.3 .06 7.6 .06-6.2 .06-5.8 .06-.9 .06 2.9 .06 2 .06 1.1 .06 6.4 .06-4.3 .06-4.1 .06 2.5 .06-3 .06 .4 .06-2.7 .06 .5 .06 1.9 .06-.4 .06-1.8 .06 1.8 .06 4.5 .06-2.6 .06-1.3 .06-3.5 .06 4.8 .06 7.4 .06-3.7 .06-8.4 .06 10.8 .06-6.5 .06 1.6 .06-.5 .06-5.7 .06 7.5 .06 2.2 .06-4 .06 .4 .06-2.2 .06 2.8 .06 .8 .06-2.2 .06 .5 .06 2.4 .06 .3 .06-3.2 .06-2.5 .06 2.2 .06 2.8 .06-.1 .06-.3 .06-.6 .06-7.3 .06 4 .06 2.8 .06 3.5 .06-8.1 .06 2.9 .06-4.1 .06 1.2 .06 4.5 .06-2.9 .06 9.2 .06-6.8 .06-.3 .06 .6 .06 2 .06-1.1 .06 4 .06-9.4 .06 8.5 .06-1.7 .06-9.4 .06 8.2 .06-5.5 .06 0 .06 6 .06-1.9 .06 4.5 .06-6.6 .06-3.6 .06 3.1 .06 7.5 .06-11.7 .06 6.9 .06-3.7 .06 2.9 .06 .5 .06-4.1 .06-1.4 .06 3.7 .06-2.2 .06 6.9 .06-2.5 .06 .3 .06 1.7 .06-5.1 .06 3.8 .06 .7 .06-2.1 .06 2.2 .06 5 .06-6.1 .06 5.1 .06-10 .06 1.9 .06 .4 .06 1.7 .06 2.4 .06-5.8 .06 3.9 .06-3 .06 2.3 .06-1.4 .06 .6 .06 4.5 .06 0 .06-3.8 .06 4.7 .06-2.9 .06-.6 .06-1.6 .06 1.3 .06-3.5 .06 3 .06 5.2 .06-3.4 .06 3.7 .06-6.6 .06-3.6 .06 5.9 .06-3.1 .06-2.2 .06 4.8 .06-3.6 .06-.2 .06 .9 .06-.1 .06 .9 .06 7.1 .06-1.6 .06-2.3 .06 .4 .06-5.4 .06 .7 .06 2 .06-1.5 .06 2.4 .06 .6 .06 .5 .06-1.1 .06 2.7 .06-2.2 .06-4.4 .06 11.2 .06-6.2 .06-8.8 .06 5.4 .06 1.5 .06 2.4 .06-.5 .06-6.2 .06 1.1 .06 .3 .06 .3 .06 3.9 .06-1.5 .06 5.5 .06-3.6 .06 7.5 .06-6.8 .06 4 .06 .8 .06-8 .06-2.9 .06 .9 .06 7.9 .06 1.8 .06-5.9 .06-1.3 .06 2.6 .06-2.9 .06 8.2 .06-4.7 .06-3.3 .06-2.7 .06 2.9 .06 .5 .06 .9 .06-3.9 .06 5.5 .06-2.3 .06 1.6 .06-.6 .06-.5 .06 5.8 .06-8.3 .06-2.3 .06-.2 .06-.5 .06 12.8 .06-6.9 .06-.3 .06-2.5 .06 2.7 .06-1 .06 3.4 .06-6.6 .06 7 .06-3.9 .06-5.8 .06 5.4 .06 1.6 .06-4.4 .06 .8 .06 3 .06-.4 .06-1.3 .06-3.3 .06 6 .06-3.1 .06 3.9 .06 5.6 .06-2 .06-7.1 .06 4.7 .06-2.7 .06-3.6 .06 6.2 .06-2.7 .06 .3 .06 3.6 .06-4.4 .06-1.7 .06 7.1 .06-3.9 .06-2.5 .06-.7 .06 .8 .06-5.2 .06 3.9 .06-.3 .06 3.8 .06-2.8 .06-1.1 .06 2.4 .06 1.4 .06-4.8 .06 5.2 .06 1.2 .06-3.5 .06-.8 .06 1.9 .06 1.7 .06-3.3 .06 2.6 .06 .2 .06-.5 .06 4.5 .06-2.7 .06 1.2 .06-6.1 .06 .5 .06 7.7 .06-2.8 .06-3 .06-5.3 .06 4.7 .06 1.1 .06-3.4 .06 2.4 .06 1.3 .06 4.9 .06-8.5 .06-1.6 .06 4 .06-1 .06 4 .06-5.1 .06 3 .06 1.2 .06-6.3 .06 2.8 .06-1.6 .06 1.7 .06 5.5 .06 2.4 .06-3.7 .06-4.4 .06 2.6 .06-.2 .06-1.2 .06 2 .06 .2 .06-.4 .06-.6 .06 3.4 .06-5.6 .06 2 .06-.8 .06 2.2 .06-4.6 .06 8.6 .06-4.4 .06-4.3 .06 2.1 .06 .2 .06 4.1 .06 .8 .06-4.8 .06 .4 .06 13.7 .06-17.2 .06 5.9 .06-1.1 .06 .4 .06 .1 .06-1 .06-.9 .06-4.1 .06 4.5 .06-1.6 .06-2.4 .06 3.9 .06 1.5 .06-5.5 .06 5.4 .06-.9 .06 0 .06-1.1 .06-3.6 .06-.7 .06 2.7 .06 3 .06-5.6 .06 7.3 .06-2.9 .06-4.6 .06 4.1 .06 5.4 .06-5.1 .06-.3 .06-1.9 .06 7.2 .06-9 .06 8 .06-6.1 .06 6.3 .06-1.1 .06-3.5 .06 3.2 .06-1.8 .06-3.8 .06 4 .06 2.9 .06-6.6 .06 3.6 .06 5.6 .06-7.1 .06 .5 .06 3.3 .06-3.3 .06 .4 .06 .4 .06 .4 .06 4.9 .06-7.1 .06 1 .06 4 .06-4.7 .06-3.1 .06 8.1 .06-5.1 .06 9.2 .06-7.6 .06-4.3 .06 7.7 .06 .3 .06-5.1 .06 .3 .06 2.7 .06-3.7 .06 4.4 .06-4.3 .06-2.6 .06 8.1 .06-7.2 .06-.5 .06 5.1 .06-4.7 .06 4.6 .06-3 .06-3.4 .06 4 .06-.2 .06 4.3 .06 1.8 .06-3.5 .06 .4 .06-2.7 .06 8.8 .06-9.4 .06 4.8 .06-.2 .06-7.6 .06 7.8 .06 .8 .06-8.6 .06 9.2 .06-6.6 .06-.1 .06 4.9 .06-5.2 .06 5.8 .06-1.9 .06-4.1 .06 .2 .06 2.4 .06 .3 .06 6.3 .06-6.1 .06-1.1 .06 2.9 .06 1.8 .06-8.1 .06 3.4 .06 .1 .06 7 .06-9.6 .06 2.7 .06 2 .06 1.9 .06-3.6 .06 1.2 .06-2.5 .06 0 .06-1.3 .06 3.7 .06-4.8 .06 7.5 .06-3.4 .06 2.3 .06-.1 .06-1.2 .06-5.4 .06 11.9 .06-4.3 .06-1.2 .06-2 .06 6.9 .06-9.4 .06 .7 .06 3.4 .06 1 .06 1 .06-7.5 .06 .5 .06 6.5 .06-7.9 .06 2.6 .06 2 .06 .5 .06-.7 .06-3.3 .06 9.9 .06-8.8 .06 1 .06 1.5 .06 2.6 .06-2.8 .06 3 .06-1.7 .06 4.6 .06-5.1 .06 7.7 .06-7.8 .06 4.1 .06-3.3 .06-.6 .06-2.1 .06 4 .06 1.7 .06-2.7 .06-3.5 .06-.1 .06-.9 .06 .3 .06 .6 .06 6.6 .06-9.9 .06 4.2 .06 2.9 .06 2.4 .06-3.7 .06 4.3 .06-3.4 .06-3.6 .06 1.3 .06-1.5 .06 14.6 .06-13.4 .06-2.3 .06 3.5 .06-.7 .06 2.7 .06-2.3 .06-1.5 .06 5 .06-3 .06-.3 .06 2.1 .06 .7 .06-8 .06 5.5 .06 3.9 .06-4.3 .06-.7 .06-.8 .06-1.4 .06 3.6 .06-3.8 .06 .5 .06 .8 .06 2.9 .06-5.5 .06 6.4 .06-.6 .06-.2 .06-1.3 .06-2.7 .06 2.2 .06 2.4 .06-4.2 .06 4.9 .06-.5 .06-2.2 .06-.8 .06 2.5 .06 1.1 .06 .7 .06-1.9 .06-.5 .06 1.1 .06-1 .06 .7 .06-2.1 .06-5.2 .06 6.8 .06 4 .06-6.6 .06-2.1 .06 5.1 .06-1.1 .06-3.3 .06 4.7 .06-.4 .06 5.3 .06-3.9 .06-5.3 .06-1.9 .06-.5 .06 7.2 .06 1.9 .06-2.8 .06 1.1 .06-.6 .06-2.1 .06 4.7 .06-1.3 .06-4.1 .06-.1 .06 .1 .06 6.1 .06-5.3 .06-2.5 .06 3.9 .06 2.5 .06-1.9 .06-4.7 .06 .3 .06 6.3 .06-.8 .06-3.3 .06-2.8 .06-.4 .06 12.9 .06-8.3 .06 1.2 .06-2.2 .06-4.7 .06 4.3 .06 3.5 .06-7.4 .06 1.6 .06 2.1 .06-1.1 .06 2.9 .06-1.6 .06 5 .06-7.7 .06 2.5 .06 3.1 .06-6.2 .06 .3 .06 .3 .06 3 .06-1.4 .06 5.2 .06-1.8 .06 1.7 .06-5.5 .06 3.8 .06-2.1 .06 1.6 .06-1.6 .06 2.6 .06 .1 .06 1.5 .06-3.8 .06-1.3 .06 6.5 .06-7.9 .06-1.3 .06 6.9 .06-1.7 .06 2.3 .06-6.5 .06-1.8 .06 4.3 .06 7.9 .06-11.3 .06 10.4 .06-7.5 .06 .4 .06 1.5 .06 .6 .06 1.5 .06-1.2 .06-4.2 .06 1.5 .06 2.4 .06 1.8 .06 .4 .06-1.8 .06-3.4 .06 .3 .06 .9 .06 2.1 .06 .6 .06-1.7 .06-2.2 .06 6.7 .06-.9 .06-4.2 .06 4.8 .06-7.1 .06-.4 .06 4.4 .06-3.2 .06 5.4 .06 .5 .06-4.4 .06-3.8 .06 1.2 .06-4.7 .06 .3 .06 6 .06 .7 .06 4 .06-3.8 .06 1.2 .06-2.3 .06 6 .06-3.5 .06 5.2 .06-9.2 .06 9.7 .06-12.3 .06 2.2 .06 4.9 .06-2.2 .06-4.9 .06 13.5 .06-9.3 .06-3.1 .06 2.7 .06 .7 .06 1.7 .06 2.2 .06-2.2 .06-.4 .06-1.7 .06 .4 .06-1.1 .06 2.4 .06-.5 .06-6.9 .06 7 .06 2 .06 0 .06 3.2 .06-.8 .06 .6 .06-5.3 .06 6.8 .06-6.5 .06 5.4 .06-1.7 .06-3.2 .06 .2 .06-2.2 .06 1.1 .06 2.8 .06-1.2 .06-2.8 .06 2 .06-2.7 .06 5.5 .06-.2 .06 1.8 .06-7 .06-1.7 .06 5.9 .06 .5 .06 2 .06-7.1 .06 4.1 .06-1.7 .06 .4 .06 5.6 .06 1.2 .06-10.7 .06 .8 .06 .5 .06 3.5 .06 2.1 .06-2.7 .06 3.2 .06-4.1 .06 1.5 .06 .8 .06-2.2 .06 1.7 .06 2.4 .06-.6 .06-2.3 .06 .7 .06-3.3 .06 1.6 .06-.3 .06 5.5 .06-3.8 .06 3.9 .06-2.8 .06-3.4 .06 3.7 .06-.9 .06-1.8 .06 2 .06-4.6 .06 4.9 .06-1 .06-4.6 .06 3.4 .06 1 .06-5.7 .06 4.3 .06-3 .06 2 .06-.1 .06-2 .06 2.4 .06 2.7 .06-.9 .06-.2 .06-3.6 .06 .6 .06 2.1 .06 .6 .06-.5 .06-2.6 .06-1.9 .06 4.3 .06 4 .06 1.1 .06-1 .06-8.5 .06 9.5 .06-2.9 .06-1.7 .06 3.1 .06-3.1 .06 11.5 .06-12.6 .06 .5 .06-2.1 .06-2.3 .06 12.3 .06-12.4 .06 2.4 .06 5.3 .06-5.8 .06 2.5 .06 4.3 .06-1.8 .06 3.2 .06-6.9 .06 3 .06-4.7 .06 4.6 .06 .3 .06 2.4 .06-8.3 .06 5.9 .06-4.7 .06-.3 .06 2.8 .06 .8 .06 1.5 .06-1.1 .06-1.6 .06-.7 .06-1.4 .06 1.2 .06 2.3 .06 3.2 .06-.5 .06-1.6 .06-3 .06-.8 .06 5 .06-.7 .06 5.6 .06 .1 .06-8.6 .06-5.5 .06 9.9 .06 .1 .06 .7 .06-3.6 .06 5.7 .06-11.9 .06 6.8 .06-4.1 .06 7 .06-3.3 .06-3.4 .06 11.7 .06-3.9 .06-5.7 .06-4.4 .06 5.3 .06 3.5 .06-3.2 .06 6 .06-8.6 .06 2.1 .06 .3 .06 3 .06-5.4 .06 10.1 .06-9.6 .06 4.5 .06 2.5 .06-2.3 .06-4 .06-1.9 .06-3.7 .06 5.3 .06 1.8 .06 .4 .06-1.5 .06 3 .06 .2 .06-3.1 .06-.7 .06 9.3 .06-7.7 .06 1.3 .06-1.4 .06-4.3 .06-1.3 .06 4.2 .06-2.3 .06 .9 .06 10.9 .06-8.9 .06 8.3 .06 1.7 .06-8.4 .06 .5 .06-4.6 .06 4.3 .06 4.8 .06-4.7 .06 1.9 .06 1.6 .06-6.6 .06 2.7 .06-4.7 .06 3.6 .06-4.3 .06 7.2 .06-.3 .06 0 .06-2 .06-4 .06 2.8 .06 5.7 .06-5.2 .06 8.2 .06-6.9 .06 1.5 .06-6.8 .06 3 .06-1.7 .06 3.4 .06-2.8 .06 4.3 .06-2.7 .06 .6 .06 0 .06 .5 .06 3.5 .06-5.1 .06 2 .06 1.5 .06-2.1 .06-2 .06 2 .06 .8 .06-3.5 .06 7.8 .06-6.8 .06 3.5 .06-1.4 .06-.3 .06-5 .06 13.7 .06-10.9 .06 .8 .06 1 .06 2.2 .06-1.7 .06-4.8 .06 10.8 .06-10.1 .06 .9 .06 1.2 .06-.3 .06-1.4 .06 12 .06-7.5 .06-2 .06 4.5 .06-4.2 .06-4.7 .06 5.8 .06-1.8 .06 6.1 .06-7.6 .06 1.4 .06 .5 .06 4.3 .06-3.1 .06 6.2 .06-10.8 .06 6.1 .06 .4 .06-2.3 .06-1.3 .06 5.9 .06 .9 .06-5.9 .06-.7 .06-2.5 .06 3.1 .06-1.3 .06 3.6 .06-.7 .06-2.6 .06 .4 .06-1.3 .06 8.8 .06-3.6 .06-4.4 .06 2 .06 6 .06 2.1 .06 2.9 .06-7.5 .06-.4 .06-1.7 .06-3.5 .06 .2 .06 6.1 .06-2.3 .06-1.3 .06 0 .06-3.5 .06 .5 .06-1.5 .06 2.9 .06-5.9 .06 7.7 .06 .1 .06-2.7 .06-.2 .06-1.2 .06-.3 .06 7 .06-1 .06-4.4 .06 4.7 .06-4.6 .06 6.2 .06-8.5 .06 1.5 .06 2.5 .06 1.8 .06-1.9 .06 5.5 .06-2.7 .06-5.5 .06 3.9 .06-4.2 .06 2.5 .06 5 .06 3.3 .06-7.6 .06 2.5 .06-1 .06-7.5 .06 5.9 .06 2.6 .06-1.4 .06-1.9 .06 4.3 .06 1 .06-10.4 .06 2.3 .06 2.9 .06-3.2 .06 6.1 .06 .7 .06-.7 .06 2 .06-.6 .06-3.8 .06 0 .06 1 .06 .5 .06-4 .06 .2 .06 .9 .06-1.9 .06 2.3 .06 1.4 .06-1.6 .06-1.2 .06-2.9 .06 6.2 .06-.4 .06 4 .06-2 .06 2.3 .06-3.2 .06-.4 .06-3.6 .06 3.1 .06 1.3 .06 1 .06 1.5 .06-8.2 .06 1.5 .06 6.5 .06-3.7 .06 3 .06-3.9 .06-1.2 .06 2.9 .06 5.3 .06-2.9 .06-.4 .06-8.6 .06 1.6 .06 2.4 .06 4.3 .06-.4 .06 .3 .06-4.7 .06 8.5 .06-8.9 .06 7.3 .06-7.8 .06 1.5 .06 1.5 .06 0 .06 1.3 .06-7.7 .06 7.7 .06-1.1 .06-.6 .06 1.9 .06-5.2 .06 6.7 .06-.4 .06 3.3 .06-6.8 .06 2.3 .06-1.7 .06-1.9 .06 4.7 .06 .6 .06-1 .06-6.7 .06 12.5 .06-2.8 .06-8.1 .06 1.4 .06-1.6 .06 2.5 .06 1 .06 4.1 .06-3.9 .06 .1 .06 3.3 .06-7 .06-.7 .06 9 .06-7.3 .06 .5 .06-1.3 .06 3.4 .06-.2 .06-4.2 .06 7.1 .06-5.6 .06 6.5 .06-5.8 .06 2.2 .06-1.9 .06 4.5 .06-2.7 .06-1.3 .06-3 .06 2.9 .06 2.1 .06 1.5 .06-6.2 .06-.3 .06-.1 .06-.9 .06 2.8 .06-1.9 .06 .9 .06 .7 .06 9.7 .06-6.1 .06 7.7 .06-6 .06-3.2 .06 6.1 .06-4.3 .06 .6 .06 1.3 .06-3.3 .06 3.5 .06-.3 .06-4.8 .06 1.8 .06-.3 .06-1 .06 .3 .06-3 .06 3.2 .06 9.3 .06-6.9 .06-1.9 .06-1.9 .06 1.2 .06 1.1 .06-3.4 .06-2.3 .06 1.4 .06 4.9 .06-2.2 .06-.3 .06 2.1 .06-2.9 .06 4.5 .06-3.3 .06-1 .06 1.1 .06 3 .06 .5 .06-7.1 .06 8.3 .06-4 .06 1 .06 4.6 .06-4.6 .06-3.7 .06 6.3 .06-.7 .06-4 .06 0 .06 .9 .06 2.6 .06 .2 .06 .9 .06-4.6 .06-.5 .06 2.5 .06 3.5 .06-3.7 .06-.9 .06-1.7 .06 2.4 .06 3.8 .06-1.6 .06-8.9 .06 3.9 .06-2.9 .06 4 .06 4.9 .06-.3 .06-3.5 .06 .8 .06 .2 .06-2.1 .06 7.9 .06-10 .06 4.9 .06-4.1 .06 4 .06-3.8 .06-2.2 .06 8.9 .06-3.2 .06-2.3 .06-3.1 .06 .6 .06 5.8 .06-1.7 .06-.5 .06-4.1 .06 10.5 .06-5.7 .06 .3 .06-2.7 .06-1.1 .06 .6 .06 .3 .06-.4 .06 7.5 .06-3.3 .06-3.2 .06-.1 .06 5.8 .06-1 .06-4.9 .06 4.5 .06-5.2 .06-2.7 .06 5 .06-1.2 .06 .5 .06-2 .06-2 .06 3.6 .06 14 .06-11.9 .06 2.5 .06-2.6 .06 1.1 .06-4.2 .06-.5 .06 4.3 .06-1.2 .06-2.1 .06 4.1 .06-3.8 .06 1 .06-1.5 .06 7.3 .06-6.3 .06 4.6 .06-4.1 .06 1.3 .06-1.5 .06 .3 .06-2.2 .06 3.1 .06-3.8 .06 5.3 .06-2.7 .06 .4 .06 .9 .06 .5 .06-2.1 .06 1.2 .06-2.1 .06 2.8 .06-6.1 .06 .8 .06 6.2 .06-3.3 .06 4.3 .06-5.9 .06 3.4 .06-.6 .06-.9 .06 11.4 .06-11.1 .06-3.2 .06 15.8 .06-12.6 .06 2.6 .06-4.9 .06 7.7 .06-4 .06 3.1 .06-2.1 .06 3.5 .06-4.8 .06 1.6 .06-6 .06 4 .06 1.7 .06 2.2 .06-.7 .06-1.8 .06-2.8 .06-3.3 .06 5.6 .06-2.6 .06 8.3 .06-11 .06 4.7 .06 6 .06-1.1 .06-3.3 .06-4.2 .06-4.3 .06 7.3 .06 2.7 .06-4 .06-.2 .06 5.3 .06-4.1 .06-.3 .06 1.5 .06-4.2 .06 4.4 .06 1.5 .06-.3 .06 3.4 .06 .5 .06 1.1 .06-4.2 .06-3.7 .06-2.7 .06 6.8 .06-.7 .06-2.2 .06-1.7 .06-1.9 .06 2.5 .06 3.3 .06-5.2 .06 9.7 .06-10 .06-.9 .06 4.5 .06 2.2 .06-.5 .06 2.2 .06-6.5 .06 1.9 .06 8 .06-4.9 .06-3.4 .06-5.3 .06 3.9 .06-.5 .06 .3 .06 .1 .06 4.6 .06-5.1 .06 3.2 .06-8.3 .06 11.8 .06-5.8 .06 2.9 .06 .1 .06-1.3 .06-.3 .06-2.6 .06 3.6 .06 .7 .06-5.9 .06 2.8 .06 5.9 .06 .5 .06-3.5 .06-2.2 .06-1.4 .06 1.2 .06 .5 .06 1.7 .06-3.1 .06 8.1 .06-5.6 .06-.6 .06 4.3 .06-6.1 .06 .9 .06 8.2 .06-11.2 .06 8.9 .06-1.3 .06-4.8 .06 7.3 .06-5.9 .06 2.5 .06-2.3 .06 1.6 .06-2.2 .06 5.1 .06-2.8 .06-5.4 .06 1.4 .06 3 .06 .5 .06 1.3 .06-2.6 .06-1.9 .06-.6 .06-.7 .06-4.7 .06 7.9 .06-1.1 .06 4.2 .06-4.2 .06 4.7 .06-7.1 .06 .1 .06 3.8 .06-1.9 .06 1.5 .06 1.2 .06 0 .06-1.8 .06 1.8 .06-2.3 .06-2.7 .06 3.6 .06 1.9 .06-2.1 .06 1.5 .06-2.1 .06-5.5 .06 6.8 .06-.5 .06 1 .06 2.7 .06-5.2 .06-.3 .06 3.9 .06-4.2 .06 3.7 .06-2.3 .06 5.5 .06-2.5 .06-1.1 .06-3 .06 1.6 .06 .7 .06-.2 .06-.6 .06 9.6 .06-7.6 .06-.7 .06-4.8 .06 3.9 .06-.2 .06-1.7 .06 6.5 .06-7.2 .06-3.2 .06 9.1 .06-3.6 .06 4 .06-5.6 .06 .1 .06 1.8 .06-.7 .06-.9 .06 2.9 .06-5.7 .06 5.9 .06-1.6 .06-5.9 .06 5.8 .06-2.8 .06-1.5 .06 1.4 .06-.3 .06 14.7 .06-6 .06-6.9 .06 .2 .06 3.2 .06-2.5 .06 5.6 .06-4.9 .06 1.5 .06 2.2 .06 1.6 .06-2.9 .06-3.8 .06 5.2 .06-6.1 .06 7.3 .06-5.3 .06 .3 .06 4.9 .06-1.1 .06-5.3 .06-1.1 .06-1 .06 1.4 .06 4.6 .06 .9 .06-6.8 .06 2.8 .06-2.3 .06 4.8 .06-2.8 .06 2 .06 8.5 .06-11.9 .06 4.5 .06-7.7 .06 5.4 .06-.3 .06-2 .06 3.1 .06 .9 .06 2.2 .06-2.6 .06-.2 .06-3.3 .06 4.1 .06-1 .06-1.2 .06 2 .06-2.6 .06 3.8 .06-3.6 .06 .1 .06 .7 .06 1.1 .06-1.3 .06-.7 .06 2 .06-.1 .06-3.7 .06 2.9 .06-3.2 .06 2 .06 2.5 .06-3 .06 4.2 .06 1.9 .06 .6 .06-5.2 .06 3.2 .06 5 .06-8.4 .06 1.9 .06-5.5 .06 5.5 .06-5 .06 6.7 .06-5 .06 2.3 .06-5.8 .06 7.1 .06-4.7 .06 2.9 .06 2 .06-.9 .06 2.7 .06-4.3 .06 2 .06 1.8 .06-7.3 .06 7.2 .06-1.5 .06-1.6 .06-6.2 .06 9.3 .06 .9 .06-7.5 .06 5 .06 1.9 .06-4.3 .06 3.5 .06-.9 .06-.5 .06 3.3 .06-3.3 .06 2.5 .06-5.3 .06 3.6 .06 2.2 .06 5.6 .06-13.8 .06 1.4 .06 1 .06 1.8 .06 13.2 .06-14.9 .06 4.5 .06-4.6 .06 7.6 .06-4 .06-8.2 .06 1.8 .06 8.9 .06 0 .06-4.5 .06-1.2 .06-2.1 .06-.1 .06-1.7 .06-.2 .06 12.7 .06-8.1 .06 1.2 .06 3.2 .06-6.7 .06 2.6 .06-2.9 .06 2.5 .06 .7 .06 6 .06-11.6 .06 2.9 .06 3.2 .06-1.7 .06 4.1 .06-6.1 .06 .3 .06 7.1 .06-1.5 .06-2.1 .06 3 .06 1.2 .06-5.6 .06 2.8 .06 .6 .06-1.5 .06 1.7 .06-1.4 .06-3.7 .06 .1 .06 2.1 .06 .7 .06-.8 .06-.3 .06-.7 .06 .5 .06 2.1 .06-.9 .06 .7 .06-3.9 .06 2.2 .06-1.6 .06 4.8 .06-2.9 .06-.4 .06 5.4 .06-4.4 .06-2.4 .06-1.6 .06 4.7 .06 .5 .06 3.1 .06 2.8 .06 .5 .06-8.8 .06 2.2 .06 .1 .06-2.5 .06-1.2 .06-1.3 .06 .7 .06 2.7 .06 9.8 .06-9.4 .06 2.8 .06-.2 .06-2.8 .06-.6 .06-3.1 .06 4 .06-.1 .06 .7 .06 10.4 .06-7.6 .06-8.8 .06 2.5 .06 1.1 .06 1.3 .06-3.9 .06 3.1 .06-5.1 .06 6.2 .06-1.6 .06 3.2 .06-7 .06 3.9 .06 2 .06 .9 .06-.2 .06-1.5 .06 1.9 .06-2 .06 2.3 .06-4.2 .06 1.5 .06 .7 .06-2.7 .06 2.7 .06 1 .06-1.2 .06 1.9 .06-4.7 .06 6.3 .06 3.1 .06-5.7 .06-3 .06 3.9 .06-3.8 .06-3 .06 7.3 .06-.8 .06-6.6 .06 9.4 .06 1.4 .06-5.4 .06-3.8 .06 4.4 .06 .1 .06-.9 .06-1.8 .06 5.1 .06-2.8 .06 1.4 .06-1.1 .06 .6 .06 3.9 .06-6 .06 7.2 .06-3.3 .06-2.6 .06-2.5 .06 3.4 .06-2.8 .06-1.6 .06 3.7 .06-2.1 .06-2.8 .06 3.2 .06 .5 .06 1.8 .06-3.5 .06 1.4 .06 2.3 .06-.2 .06-4.5 .06 2.4 .06-1.7 .06 1.7 .06 4.2 .06-4 .06-.5 .06 5.1 .06-2.5 .06 3 .06-4.3 .06 5.4 .06-1 .06-6.7 .06 2.2 .06-.6 .06 3.4 .06-3 .06-2.5 .06 .9 .06-1.8 .06 8.7 .06-8.5 .06 4.6 .06-1.1 .06 5.2 .06-8.4 .06 3.4 .06-4.3 .06 7.9 .06-6.1 .06 3.7 .06-.5 .06-1.9 .06 4.1 .06-2.3 .06-3.5 .06 3.2 .06-.8 .06 4.6 .06-4.8 .06 5.4 .06-.7 .06-8.2 .06 4.9 .06 .8 .06 .3 .06 7.2 .06-6.8 .06-6.1 .06 8.1 .06-1.3 .06-3.8 .06 3.1 .06-6.8 .06 5.1 .06-.2 .06 .7 .06 2 .06-4.5 .06-.5 .06-1.3 .06 8.1 .06-6.9 .06 4.6 .06-4 .06-2.5 .06 7 .06-1.4 .06-1.2 .06-3.2 .06-.1 .06 5.3 .06-4.6 .06-1.4 .06 1 .06 .9 .06 2.2 .06 .2 .06-1.9 .06-1.5 .06-1.1 .06 3.6 .06 7.7 .06-10.9 .06-2 .06 9.3 .06-11.9 .06 6.5 .06 1.9 .06-.7 .06 2.6 .06-.4 .06-3.2 .06 .5 .06 3.2 .06 3.7 .06-8.5 .06-1.1 .06 7.5 .06-5.7 .06-.4 .06 4.1 .06-3.5 .06 7.2 .06 2.7 .06-13 .06 2.9 .06 2.7 .06-3.2 .06 4.4 .06-1.2 .06 2.8 .06-5.2 .06-2.1 .06 4 .06 2.5 .06-5.7 .06 3.7 .06-3.4 .06 2.1 .06-.3 .06 7.8 .06-9 .06-2.1 .06-1.9 .06 3.6 .06-1 .06 .3 .06 2.1 .06 1.3 .06 2.6 .06-4.3 .06 4.2 .06-1.2 .06-4.5 .06-1.2 .06 1.4 .06 4.7 .06-.9 .06-3.4 .06-.8 .06-.8 .06 3.9 .06 3.1 .06-7.7 .06 2.2 .06 3.8 .06-1.6 .06-2 .06 6.4 .06-10 .06 10.8 .06-.3 .06-8 .06 0 .06 7 .06-4.2 .06-1.4 .06 9.2 .06-7.1 .06-6.5 .06 4.1 .06-1 .06 2 .06 4.6 .06-5.3 .06 7.9 .06-12.5 .06 7.4 .06-8.2 .06 9.2 .06-1.1 .06 1.4 .06-2.8 .06 .1 .06-2.2 .06 4.1 .06-2.8 .06 1.4 .06-3.6 .06 3.2 .06 .5 .06-3.1 .06 2.8 .06-.9 .06 .3 .06 3.4 .06-2.4 .06 .9 .06-6 .06 2.1 .06 3.5 .06-.6 .06-.9 .06 3.2 .06-4 .06 2.5 .06-3.7 .06 13 .06-12.2 .06 .2 .06 1.1 .06 6.7 .06-5.5 .06-5.2 .06 1.4 .06 2 .06 4.7 .06-3 .06 1.5 .06-3.6 .06-2.1 .06 5.6 .06-2.4 .06-5.4 .06 1.1 .06 9.3 .06-1.8 .06-3.3 .06 .4 .06 3.1 .06 1.4 .06-2.4 .06-2.6 .06-1.6 .06 6.6 .06-5.1 .06 1.9 .06 1.1 .06-5.2 .06 4.4 .06-1.5 .06 5.5 .06 1.1 .06-8.8 .06 1.5 .06 2.8 .06-4.9 .06 4.1 .06-.8 .06 2.4 .06-1.8 .06-6 .06 7.4 .06-.2 .06-.4 .06 .7 .06-4 .06 1.3 .06 3.5 .06-1.3 .06-4.3 .06 4.2 .06-7.4 .06 5.8 .06-4.7 .06-.9 .06 1.9 .06 3 .06 .1 .06 3.1 .06-4.7 .06-4 .06-1.2 .06 4 .06 1.3 .06 2.7 .06-2.8 .06-1.6 .06 6.5 .06 3.1 .06-2.6 .06-6.4 .06-.2 .06 7.1 .06-2 .06-.1 .06 1.8 .06-2.8 .06-3.1 .06 1.3 .06 2 .06 3 .06-7.9 .06 4.5 .06 .3 .06-2.5 .06 .3 .06 5 .06 .5 .06-10.4 .06 1.4 .06 .4 .06-.5 .06 1.4 .06 0 .06 3.2 .06-1.4 .06-1.9 .06 2 .06 2.3 .06-3.2 .06 1.3 .06 1.2 .06 6.6 .06-8.6 .06-3.7 .06 2.4 .06 2.1 .06-1.8 .06 6.4 .06-4.3 .06-2 .06 1.6 .06-3.9 .06 2.7 .06 4.8 .06-6.3 .06 4.4 .06-3.6 .06-1.7 .06 7.3 .06 .5 .06-6.8 .06 1.7 .06 5 .06-4.2 .06 3.1 .06-6.5 .06 4.4 .06-3.6 .06 3 .06 6.8 .06 2.5 .06-9.6 .06-.3 .06 1.6 .06-4.5 .06 6.2 .06-2.1 .06 1.5 .06-.2 .06-4.5 .06 8.3 .06 1.3 .06-7.7 .06 5.4 .06-3.3 .06-5 .06-.2 .06 7.1 .06-3.9 .06 3.4 .06 2.3 .06-2 .06-2.1 .06 5.2 .06-5.4 .06-.1 .06 5.3 .06-1.7 .06 8.9 .06-15.7 .06 .2 .06 3.5 .06-5 .06 7.4 .06 1.4 .06 1.3 .06 .5 .06-6 .06-1.1 .06 1.4 .06-.4 .06-1.2 .06 8.7 .06-9.7 .06-3.2 .06-1.4 .06 4 .06-.1 .06 5.7 .06-4.4 .06-.6 .06 7 .06-5.5 .06-.6 .06 1.4 .06 3.4 .06-.8 .06-1.5 .06 11.5 .06-11.1 .06-5.4 .06 3.8 .06-2.4 .06 12.5 .06-10.9 .06 2.5 .06-1.7 .06 4.2 .06-1.8 .06-.3 .06-4.3 .06 .3 .06 .6 .06 3.5 .06 9.1 .06-9.8 .06-2.9 .06 .7 .06-.7 .06 2.5 .06-3.5 .06 2.5 .06 3.9 .06-6.8 .06 6.8 .06-1.8 .06 5.3 .06-10.8 .06 3.8 .06-3 .06 .7 .06 8 .06-.1 .06-6.5 .06 3.1 .06 8.6 .06-10.9 .06 4.7 .06-6.1 .06-.7 .06 .8 .06-.7 .06 2.1 .06-2 .06 4.9 .06 2.6 .06-8.2 .06 3.6 .06-2.9 .06 4.3 .06-3.1 .06-2.9 .06 4.9 .06-7.1 .06 6.4 .06-1.9 .06-.3 .06 4 .06 2.7 .06-1.4 .06-2.5 .06-4 .06 10.6 .06-8.8 .06 2.6 .06-5.9 .06 5 .06 .3 .06-6.3 .06 9.2 .06-2.9 .06-3.6 .06 3 .06-1.5 .06-1.9 .06 1 .06 9 .06-11.6 .06 1.2 .06 4.8 .06-4.8 .06-1.1 .06 1.8 .06 2.9 .06-2.3 .06-1.8 .06 1.1 .06 2.6 .06-1.8 .06-.6 .06 3.2 .06-2.2 .06-4 .06 2.5 .06-2.8 .06 2.5 .06 7.1 .06-6.5 .06-4.1 .06 2.1 .06 7.9 .06 .2 .06 4.5 .06-6.1 .06-2.6 .06 2.2 .06-2.4 .06-3 .06 1.4 .06 .6 .06 3.7 .06 2.7 .06-6.2 .06 2.7 .06-3.2 .06 4.2 .06-4.2 .06 1.8 .06 1.1 .06 5.4 .06-3.4 .06-.2 .06 .4 .06-4.8 .06 1.4 .06-2.5 .06 4.2 .06 2.4 .06-.6 .06-3.8 .06 5.1 .06 .8 .06-9.8 .06 5.6 .06-1.8 .06 5 .06-9.8 .06 2.2 .06-.3 .06 4.5 .06 2.5 .06-.3 .06-1.7 .06-.1 .06 5.2 .06-3 .06-6.3 .06 1.5 .06-5.1 .06 10.6 .06-4.6 .06 3.5 .06-2 .06 .7 .06-5.5 .06-1.4 .06 5.1 .06 .2 .06 .6 .06 .3 .06 6.3 .06-7.2 .06-3.7 .06 2.3 .06-2.4 .06 5.8 .06-2.7 .06 1.5 .06-.1 .06 .1 .06-5.8 .06 .6 .06 4 .06-2 .06 1.3 .06 1.4 .06-5.2 .06 5 .06 .2 .06 .3 .06-.7 .06 .5 .06-3.4 .06 .2 .06 7.4 .06 1.4 .06-7.2 .06 4.6 .06-2.9 .06 2.4 .06-7.4 .06 4.6 .06 6.6 .06-6.9 .06-.6 .06 9.2 .06-7.4 .06-4.2 .06 1.8 .06-3.1 .06 .8 .06 5.1 .06-2.6 .06-4.3 .06 5.4 .06-.9 .06-.5 .06 5.3 .06-2.7 .06-1.4 .06 2.3 .06-1.4 .06-3.2 .06 2.7 .06 2.2 .06-3.8 .06 1.4 .06-4.7 .06 3.6 .06 3.1 .06 1.3 .06-4.7 .06-5.2 .06 11 .06-4.1 .06 2.9 .06-6 .06 2.7 .06-.1 .06 1.6 .06-2.5 .06 .8 .06-1.2 .06 3.1 .06 2.1 .06-1.2 .06-4.3 .06 3.7 .06 .2 .06-3.9 .06 11 .06-5.5 .06-2 .06 5.2 .06-9.5 .06 5.5 .06-3.6 .06-1.2 .06 2.5 .06 3.6 .06-3.4 .06 1.3 .06-.1 .06 .3 .06-5 .06-1 .06 1.6 .06 3.9 .06-5.8 .06 6.6 .06-3 .06 .5 .06-3.8 .06 3 .06 2.3 .06-3.3 .06 .4 .06-1.8 .06 1.8 .06 1.4 .06 2.1 .06-4.9 .06 4.1 .06 1.3 .06-4.7 .06 4.3 .06-4.6 .06 6.6 .06-3.9 .06-2.4 .06 .4 .06-1 .06 4.2 .06-3.9 .06-.5 .06 4.2 .06-4.9 .06 3 .06-.7 .06 4.6 .06-.1 .06-2.5 .06 2 .06-4.7 .06 3.2 .06-3.3 .06 1.5 .06 1.2 .06-1.8 .06 8.3 .06-9.6 .06 4.3 .06-4.2 .06 8.2 .06-6.5 .06-2.3 .06 1.4 .06 9.4 .06-7.2 .06-4.2 .06-.3 .06 4.1 .06 .9 .06-4.1 .06 .7 .06 7 .06-4.7 .06-5.5 .06 5.7 .06 .1 .06-1 .06-3.6 .06 2.3 .06 5.8 .06-3.8 .06-2.3 .06-4.5 .06 10 .06-6.8 .06 3.5 .06 5.2 .06-12 .06 8.8 .06 4.9 .06-8.8 .06 3.6 .06-1.6 .06-2.8 .06-.4 .06-2.4 .06 10.3 .06-2.4 .06-3.1 .06-2.8 .06 7.3 .06-7.3 .06-1 .06 2.5 .06-4.3 .06 10.8 .06-6.2 .06 1.5 .06-4.5 .06 6.8 .06-1.6 .06 4.2 .06 0 .06-3.6 .06-5.2 .06 1.1 .06 4.2 .06-.8 .06-1 .06 2.9 .06-.3 .06-1.3 .06 3.6 .06 .1 .06-3.8 .06 2.5 .06-3.7 .06 2.2 .06 2.5 .06-1.9 .06-1.3 .06-8.2 .06 7.2 .06 1.2 .06 6 .06-8.3 .06 .2 .06 7.2 .06-4.6 .06-1.6 .06 0 .06-.3 .06-1.2 .06 3 .06 3.1 .06-5.2 .06 .9 .06-5.7 .06 9.2 .06-5.2 .06 4.8 .06-10.4 .06 10.8 .06-1.4 .06-3 .06 .4 .06-.8 .06 4.8 .06-4.7 .06-5.7 .06 9.5 .06-.8 .06-1.5 .06-4.4 .06 .8 .06 8.4 .06-3.4 .06-1.9 .06 4.5 .06 0 .06-11.4 .06 8.3 .06-5.4 .06-.1 .06 4.7 .06-2.2 .06 3.5 .06 0 .06-6.9 .06 1.1 .06 7.3 .06-6.3 .06 5.6 .06-.1 .06 0 .06-3.5 .06-2.3 .06 6 .06-7 .06 1.9 .06 4.2 .06-2.6 .06 7.7 .06-7.3 .06 1.9 .06 3.3 .06-7.1 .06 3.7 .06 .6 .06-1.7 .06 3.7 .06-.8 .06-3.7 .06-3.7 .06 1.2 .06 3.1 .06-1.3 .06 1.7 .06-.6 .06 3.8 .06-3.2 .06-4 .06 .2 .06 3.8 .06-2.9 .06 3.4 .06-2.6 .06 6.5 .06-8.1 .06 2.7 .06 9.4 .06-6.4 .06-7.2 .06 3.4 .06 1.3 .06-3.9 .06 2.9 .06 1.4 .06 .6 .06-2.3 .06 5.2 .06-5.4 .06-2.6 .06-2.7 .06 10.9 .06-6.6 .06 3.3 .06-1.2 .06-2.9 .06 3.8 .06-4.4 .06 7.6 .06-5.1 .06 7.5 .06-1.6 .06-4.2 .06-.7 .06 .9 .06-3.6 .06 1.8 .06 4.2 .06-3 .06 1.7 .06-4.5 .06 1.2 .06 6.1 .06-6.1 .06-1.4 .06 4.2 .06-2.9 .06 5.2 .06-6.8 .06 5.8 .06-2.1 .06-3.9 .06 6.4 .06-3.6 .06-1.7 .06 2.3 .06 3.9 .06-5.2 .06-3.4 .06 1 .06 4.6 .06-3.9 .06 3.7 .06 .1 .06-1.1 .06-1.1 .06 7.4 .06-2.6 .06-2.2 .06 3 .06-3.3 .06-.7 .06-.7 .06-1.8 .06 3.1 .06 3.3 .06 .7 .06-2.4 .06 1.8 .06-4.2 .06 3.1 .06-1.5 .06-.8 .06-4.2 .06 2.8 .06-.7 .06 1.4 .06 .5 .06-2.1 .06-2.3 .06 1.6 .06 2.3 .06-1.7 .06-3.1 .06 .9 .06 8.7 .06-10.6 .06 6.6 .06-.4 .06 5.4 .06-8.1 .06 9.2 .06-7.7 .06-1.9 .06-.5 .06 5.8 .06-1.2 .06-.7 .06 .2 .06 2.4 .06-4.3 .06 1.3 .06-4.6 .06 3.9 .06 1.8 .06 2.7 .06 3.1 .06-5.2 .06-.1 .06 1.8 .06-1.7 .06-3 .06 3.3 .06-.9 .06 3.6 .06-9.8 .06 4.6 .06 3.1 .06-4.7 .06 1.7 .06 1.5 .06-2.3 .06-1.8 .06 2.2 .06-2.9 .06 3.8 .06 1 .06-5.8 .06 5.2 .06-2.8 .06 2.7 .06 2.7 .06-1 .06 .2 .06-6.6 .06 8.4 .06-3.2 .06-.4 .06 3.1 .06-4.1 .06 .6 .06 3 .06 .9 .06-5 .06 7.4 .06-13.4 .06 3.8 .06 8.3 .06-2 .06 2.3 .06 3.9 .06-13.1 .06 5 .06 .3 .06-1.3 .06 2.3 .06-4.3 .06 4.6 .06-1.6 .06 .5 .06 .9 .06-2.8 .06-.7 .06 6.6 .06-10.4 .06 1.3 .06 8.8 .06-9.3 .06 6.7 .06-1.9 .06-2 .06 2.2 .06-3.5 .06 2.6 .06 3.5 .06 1.8 .06-1.5 .06-5.8 .06-1.2 .06 .9 .06-.7 .06-3.7 .06 4.7 .06-1.3 .06 8.8 .06-4.1 .06-5.6 .06 7.8 .06-2.9 .06 8.6 .06-13 .06 0 .06 .2 .06 4.8 .06-.9 .06-.5 .06 .7 .06 2.9 .06-2.2 .06-2.8 .06-4.7 .06 8.6 .06 1.4 .06-7.4 .06 2 .06 6.5 .06-6.4 .06 4.8 .06 .3 .06-2.1 .06-6.3 .06 3 .06 2.1 .06 2.2 .06 5 .06-.6 .06-2.4 .06-2.1" fill="none" stroke="#d95319" stroke-width="1" stroke-linejoin="round"/>
<text transform="translate(423.2,229.9) scale(1.0,1.02)" font-size="24" text-anchor="middle" fill="#202020" stroke="#202020">0</text>
<text transform="translate(471.16,229.9) scale(1.0,1.02)" font-size="24" text-anchor="middle" fill="#202020" stroke="#202020">100</text><path transform="translate(451.14,229.9) scale(1.0,1.02)" d="M1.11 -2.20H5.95V0.60H1.11ZM8.24 -2.20H12.89V0.60H8.24Z" fill="#fff"/>
<text transform="translate(519.12,229.9) scale(1.0,1.02)" font-size="24" text-anchor="middle" fill="#202020" stroke="#202020">200</text>
<text transform="translate(567.08,229.9) scale(1.0,1.02)" font-size="24" text-anchor="middle" fill="#202020" stroke="#202020">300</text>
<text transform="translate(615.04,229.9) scale(1.0,1.02)" font-size="24" text-anchor="middle" fill="#202020" stroke="#202020">400</text>
<text transform="translate(663,229.9) scale(1.0,1.02)" font-size="24" text-anchor="middle" fill="#202020" stroke="#202020">500</text>
<text transform="translate(417,55.88) scale(1.0,1.02)" font-size="24" text-anchor="end" fill="#202020" stroke="#202020">-60</text>
<text transform="translate(417,93.98) scale(1.0,1.02)" font-size="24" text-anchor="end" fill="#202020" stroke="#202020">-80</text>
<text transform="translate(417,132.09) scale(1.0,1.02)" font-size="24" text-anchor="end" fill="#202020" stroke="#202020">-100</text><path transform="translate(368.96,132.09) scale(1.0,1.02)" d="M9.11 -2.20H13.95V0.60H9.11ZM16.23 -2.20H20.88V0.60H16.23Z" fill="#fff"/>
<text transform="translate(417,170.19) scale(1.0,1.02)" font-size="24" text-anchor="end" fill="#202020" stroke="#202020">-120</text><path transform="translate(368.96,170.19) scale(1.0,1.02)" d="M9.11 -2.20H13.95V0.60H9.11ZM16.23 -2.20H20.88V0.60H16.23Z" fill="#fff"/>
<text transform="translate(417,208.3) scale(1.0,1.02)" font-size="24" text-anchor="end" fill="#202020" stroke="#202020">-140</text><path transform="translate(368.96,208.3) scale(1.0,1.02)" d="M9.11 -2.20H13.95V0.60H9.11ZM16.23 -2.20H20.88V0.60H16.23Z" fill="#fff"/>
<text transform="translate(543.1,259.3) scale(1.0,1.02)" font-size="24" text-anchor="middle" fill="#202020" stroke="#202020">Frequency (MHz)</text>
<text transform="translate(359.9,213.6) rotate(-90)" font-size="22.7" fill="#202020" stroke="#202020">Power (dBm Hz<tspan font-size="18" dy="-10.5">-1</tspan><tspan dy="10.5">)</tspan></text>
<path transform="translate(359.9,213.6) rotate(-90)" d="M165.76 -13.34H169.39V-9.90H165.76ZM171.11 -13.34H174.60V-9.90H171.11Z" fill="#fff"/>
<rect x="479.1" y="43" width="177.2" height="51.5" fill="#fff" stroke="#202020" stroke-width="1.9"/>
<path d="M481 56.4H496" stroke="#3b7cc4" stroke-width="1.0"/>
<path d="M481 81.3H496" stroke="#d95319" stroke-width="1.0"/>
<text transform="translate(497.5,64.1) scale(1.0,1.02)" font-size="20.2" fill="#202020" stroke="#202020">Simulation Result</text>
<text transform="translate(497.5,89) scale(1.0,1.02)" font-size="20.2" fill="#202020" stroke="#202020">Experiment Data</text>
<path d="M135.28 273.85V435.9M203.85 273.85V435.9M272.42 273.85V435.9" stroke="#202020" stroke-opacity="0.16" stroke-width="1.3" fill="none"/><path d="M83.85 381.88H323.85M83.85 327.87H323.85" stroke="#202020" stroke-opacity="0.16" stroke-width="1.3" fill="none"/>
<rect x="83.85" y="273.85" width="240" height="162.05" fill="none" stroke="#202020" stroke-width="2.0"/>
<path d="M135.28 435.9v-3.3M135.28 273.85v3.3M203.85 435.9v-3.3M203.85 273.85v3.3M272.42 435.9v-3.3M272.42 273.85v3.3M83.85 435.9h3.3M323.85 435.9h-3.3M83.85 381.88h3.3M323.85 381.88h-3.3M83.85 327.87h3.3M323.85 327.87h-3.3M83.85 273.85h3.3M323.85 273.85h-3.3" stroke="#202020" stroke-width="2.0" fill="none"/>
<polyline points="83.8,435.9 84.5,435.9 85.2,435.9 85.9,435.9 86.6,435.9 87.3,435.9 88.0,435.9 88.7,435.9 89.3,435.9 90.0,435.9 90.7,435.9 91.4,435.9 92.1,435.9 92.8,435.8 93.5,435.8 94.1,435.8 94.8,435.8 95.5,435.8 96.2,435.8 96.9,435.8 97.6,435.8 98.2,435.8 98.9,435.8 99.6,435.8 100.3,435.8 101.0,435.7 101.7,435.7 102.4,435.7 103.0,435.7 103.7,435.7 104.4,435.7 105.1,435.6 105.8,435.6 106.5,435.6 107.2,435.6 107.8,435.5 108.5,435.5 109.2,435.5 109.9,435.4 110.6,435.4 111.3,435.3 112.0,435.3 112.7,435.2 113.3,435.2 114.0,435.1 114.7,435.1 115.4,435.0 116.1,434.9 116.8,434.9 117.4,434.8 118.1,434.7 118.8,434.6 119.5,434.5 120.2,434.4 120.9,434.3 121.6,434.2 122.2,434.1 122.9,434.0 123.6,433.8 124.3,433.7 125.0,433.5 125.7,433.4 126.4,433.2 127.1,433.0 127.7,432.8 128.4,432.6 129.1,432.4 129.8,432.2 130.5,431.9 131.2,431.7 131.9,431.4 132.5,431.1 133.2,430.8 133.9,430.5 134.6,430.2 135.3,429.9 136.0,429.5 136.7,429.1 137.3,428.8 138.0,428.4 138.7,427.9 139.4,427.5 140.1,427.0 140.8,426.6 141.4,426.1 142.1,425.5 142.8,425.0 143.5,424.4 144.2,423.9 144.9,423.3 145.6,422.6 146.2,422.0 146.9,421.3 147.6,420.6 148.3,419.9 149.0,419.2 149.7,418.4 150.4,417.6 151.1,416.8 151.7,416.0 152.4,415.1 153.1,414.2 153.8,413.3 154.5,412.4 155.2,411.4 155.8,410.4 156.5,409.4 157.2,408.4 157.9,407.4 158.6,406.3 159.3,405.2 160.0,404.1 160.7,403.0 161.3,401.8 162.0,400.6 162.7,399.4 163.4,398.2 164.1,397.0 164.8,395.8 165.4,394.5 166.1,393.2 166.8,391.9 167.5,390.7 168.2,389.3 168.9,388.0 169.6,386.7 170.2,385.4 170.9,384.0 171.6,382.7 172.3,381.3 173.0,380.0 173.7,378.6 174.4,377.3 175.1,375.9 175.7,374.6 176.4,373.3 177.1,371.9 177.8,370.6 178.5,369.3 179.2,368.0 179.9,366.7 180.5,365.5 181.2,364.2 181.9,363.0 182.6,361.8 183.3,360.6 184.0,359.4 184.7,358.3 185.3,357.2 186.0,356.1 186.7,355.1 187.4,354.1 188.1,353.1 188.8,352.1 189.4,351.2 190.1,350.3 190.8,349.5 191.5,348.7 192.2,347.9 192.9,347.2 193.6,346.5 194.2,345.9 194.9,345.3 195.6,344.7 196.3,344.2 197.0,343.8 197.7,343.4 198.4,343.0 199.1,342.7 199.7,342.4 200.4,342.1 201.1,342.0 201.8,341.8 202.5,341.7 203.2,341.7 203.9,341.6 204.5,341.7 205.2,341.7 205.9,341.8 206.6,342.0 207.3,342.1 208.0,342.4 208.7,342.7 209.3,343.0 210.0,343.4 210.7,343.8 211.4,344.2 212.1,344.7 212.8,345.3 213.5,345.9 214.1,346.5 214.8,347.2 215.5,347.9 216.2,348.7 216.9,349.5 217.6,350.3 218.3,351.2 218.9,352.1 219.6,353.1 220.3,354.1 221.0,355.1 221.7,356.1 222.4,357.2 223.1,358.3 223.7,359.4 224.4,360.6 225.1,361.8 225.8,363.0 226.5,364.2 227.2,365.5 227.8,366.7 228.5,368.0 229.2,369.3 229.9,370.6 230.6,371.9 231.3,373.3 232.0,374.6 232.7,375.9 233.3,377.3 234.0,378.6 234.7,380.0 235.4,381.3 236.1,382.7 236.8,384.0 237.5,385.4 238.1,386.7 238.8,388.0 239.5,389.3 240.2,390.7 240.9,391.9 241.6,393.2 242.3,394.5 242.9,395.8 243.6,397.0 244.3,398.2 245.0,399.4 245.7,400.6 246.4,401.8 247.1,403.0 247.7,404.1 248.4,405.2 249.1,406.3 249.8,407.4 250.5,408.4 251.2,409.4 251.9,410.4 252.5,411.4 253.2,412.4 253.9,413.3 254.6,414.2 255.3,415.1 256.0,416.0 256.7,416.8 257.3,417.6 258.0,418.4 258.7,419.2 259.4,419.9 260.1,420.6 260.8,421.3 261.5,422.0 262.1,422.6 262.8,423.3 263.5,423.9 264.2,424.4 264.9,425.0 265.6,425.5 266.3,426.1 266.9,426.6 267.6,427.0 268.3,427.5 269.0,427.9 269.7,428.4 270.4,428.8 271.1,429.1 271.7,429.5 272.4,429.9 273.1,430.2 273.8,430.5 274.5,430.8 275.2,431.1 275.9,431.4 276.5,431.7 277.2,431.9 277.9,432.2 278.6,432.4 279.3,432.6 280.0,432.8 280.7,433.0 281.3,433.2 282.0,433.4 282.7,433.5 283.4,433.7 284.1,433.8 284.8,434.0 285.5,434.1 286.1,434.2 286.8,434.3 287.5,434.4 288.2,434.5 288.9,434.6 289.6,434.7 290.2,434.8 290.9,434.9 291.6,434.9 292.3,435.0 293.0,435.1 293.7,435.1 294.4,435.2 295.1,435.2 295.7,435.3 296.4,435.3 297.1,435.4 297.8,435.4 298.5,435.5 299.2,435.5 299.9,435.5 300.5,435.6 301.2,435.6 301.9,435.6 302.6,435.6 303.3,435.7 304.0,435.7 304.7,435.7 305.3,435.7 306.0,435.7 306.7,435.7 307.4,435.8 308.1,435.8 308.8,435.8 309.5,435.8 310.1,435.8 310.8,435.8 311.5,435.8 312.2,435.8 312.9,435.8 313.6,435.8 314.2,435.8 314.9,435.8 315.6,435.9 316.3,435.9 317.0,435.9 317.7,435.9 318.4,435.9 319.1,435.9 319.7,435.9 320.4,435.9 321.1,435.9 321.8,435.9 322.5,435.9 323.2,435.9 323.9,435.9" fill="none" stroke="#3b7cc4" stroke-width="3.2" stroke-linejoin="round"/>
<polyline points="83.8,435.9 84.5,435.9 85.2,435.9 85.9,435.9 86.6,435.9 87.3,435.9 88.0,435.9 88.7,435.9 89.3,435.9 90.0,435.9 90.7,435.9 91.4,435.9 92.1,435.9 92.8,435.8 93.5,435.8 94.1,435.8 94.8,435.8 95.5,435.8 96.2,435.8 96.9,435.8 97.6,435.8 98.2,435.8 98.9,435.8 99.6,435.8 100.3,435.8 101.0,435.7 101.7,435.7 102.4,435.7 103.0,435.7 103.7,435.7 104.4,435.7 105.1,435.6 105.8,435.6 106.5,435.6 107.2,435.6 107.8,435.5 108.5,435.5 109.2,435.5 109.9,435.4 110.6,435.4 111.3,435.3 112.0,435.3 112.7,435.2 113.3,435.2 114.0,435.1 114.7,435.1 115.4,435.0 116.1,434.9 116.8,434.9 117.4,434.8 118.1,434.7 118.8,434.6 119.5,434.5 120.2,434.4 120.9,434.3 121.6,434.2 122.2,434.1 122.9,434.0 123.6,433.8 124.3,433.7 125.0,433.5 125.7,433.4 126.4,433.2 127.1,433.0 127.7,432.8 128.4,432.6 129.1,432.4 129.8,432.2 130.5,431.9 131.2,431.7 131.9,431.4 132.5,431.1 133.2,430.8 133.9,430.5 134.6,430.2 135.3,429.9 136.0,429.5 136.7,429.1 137.3,428.8 138.0,428.4 138.7,427.9 139.4,427.5 140.1,427.0 140.8,426.6 141.4,426.1 142.1,425.5 142.8,425.0 143.5,424.4 144.2,423.9 144.9,423.3 145.6,422.6 146.2,422.0 146.9,421.3 147.6,420.6 148.3,419.9 149.0,419.2 149.7,418.4 150.4,417.6 151.1,416.8 151.7,416.0 152.4,415.1 153.1,414.2 153.8,413.3 154.5,412.4 155.2,411.4 155.8,410.4 156.5,409.4 157.2,408.4 157.9,407.4 158.6,406.3 159.3,405.2 160.0,404.1 160.7,403.0 161.3,401.8 162.0,400.6 162.7,399.4 163.4,398.2 164.1,397.0 164.8,395.8 165.4,394.5 166.1,393.2 166.8,391.9 167.5,390.7 168.2,389.3 168.9,388.0 169.6,386.7 170.2,385.4 170.9,384.0 171.6,382.7 172.3,381.3 173.0,380.0 173.7,378.6 174.4,377.3 175.1,375.9 175.7,374.6 176.4,373.3 177.1,371.9 177.8,370.6 178.5,369.3 179.2,368.0 179.9,366.7 180.5,365.5 181.2,364.2 181.9,363.0 182.6,361.8 183.3,360.6 184.0,359.4 184.7,358.3 185.3,357.2 186.0,356.1 186.7,355.1 187.4,354.1 188.1,353.1 188.8,352.1 189.4,351.2 190.1,350.3 190.8,349.5 191.5,348.7 192.2,347.9 192.9,347.2 193.6,346.5 194.2,345.9 194.9,345.3 195.6,344.7 196.3,344.2 197.0,343.8 197.7,343.4 198.4,343.0 199.1,342.7 199.7,342.4 200.4,342.1 201.1,342.0 201.8,341.8 202.5,341.7 203.2,341.7 203.9,341.6 204.5,341.7 205.2,341.7 205.9,341.8 206.6,342.0 207.3,342.1 208.0,342.4 208.7,342.7 209.3,343.0 210.0,343.4 210.7,343.8 211.4,344.2 212.1,344.7 212.8,345.3 213.5,345.9 214.1,346.5 214.8,347.2 215.5,347.9 216.2,348.7 216.9,349.5 217.6,350.3 218.3,351.2 218.9,352.1 219.6,353.1 220.3,354.1 221.0,355.1 221.7,356.1 222.4,357.2 223.1,358.3 223.7,359.4 224.4,360.6 225.1,361.8 225.8,363.0 226.5,364.2 227.2,365.5 227.8,366.7 228.5,368.0 229.2,369.3 229.9,370.6 230.6,371.9 231.3,373.3 232.0,374.6 232.7,375.9 233.3,377.3 234.0,378.6 234.7,380.0 235.4,381.3 236.1,382.7 236.8,384.0 237.5,385.4 238.1,386.7 238.8,388.0 239.5,389.3 240.2,390.7 240.9,391.9 241.6,393.2 242.3,394.5 242.9,395.8 243.6,397.0 244.3,398.2 245.0,399.4 245.7,400.6 246.4,401.8 247.1,403.0 247.7,404.1 248.4,405.2 249.1,406.3 249.8,407.4 250.5,408.4 251.2,409.4 251.9,410.4 252.5,411.4 253.2,412.4 253.9,413.3 254.6,414.2 255.3,415.1 256.0,416.0 256.7,416.8 257.3,417.6 258.0,418.4 258.7,419.2 259.4,419.9 260.1,420.6 260.8,421.3 261.5,422.0 262.1,422.6 262.8,423.3 263.5,423.9 264.2,424.4 264.9,425.0 265.6,425.5 266.3,426.1 266.9,426.6 267.6,427.0 268.3,427.5 269.0,427.9 269.7,428.4 270.4,428.8 271.1,429.1 271.7,429.5 272.4,429.9 273.1,430.2 273.8,430.5 274.5,430.8 275.2,431.1 275.9,431.4 276.5,431.7 277.2,431.9 277.9,432.2 278.6,432.4 279.3,432.6 280.0,432.8 280.7,433.0 281.3,433.2 282.0,433.4 282.7,433.5 283.4,433.7 284.1,433.8 284.8,434.0 285.5,434.1 286.1,434.2 286.8,434.3 287.5,434.4 288.2,434.5 288.9,434.6 289.6,434.7 290.2,434.8 290.9,434.9 291.6,434.9 292.3,435.0 293.0,435.1 293.7,435.1 294.4,435.2 295.1,435.2 295.7,435.3 296.4,435.3 297.1,435.4 297.8,435.4 298.5,435.5 299.2,435.5 299.9,435.5 300.5,435.6 301.2,435.6 301.9,435.6 302.6,435.6 303.3,435.7 304.0,435.7 304.7,435.7 305.3,435.7 306.0,435.7 306.7,435.7 307.4,435.8 308.1,435.8 308.8,435.8 309.5,435.8 310.1,435.8 310.8,435.8 311.5,435.8 312.2,435.8 312.9,435.8 313.6,435.8 314.2,435.8 314.9,435.8 315.6,435.9 316.3,435.9 317.0,435.9 317.7,435.9 318.4,435.9 319.1,435.9 319.7,435.9 320.4,435.9 321.1,435.9 321.8,435.9 322.5,435.9 323.2,435.9 323.9,435.9" fill="none" stroke="#d95319" stroke-width="3.2" stroke-linejoin="round" stroke-dasharray="13 3.5 6.5 3.5"/>
<text transform="translate(135.28,467.1) scale(1.0,1.02)" font-size="24" text-anchor="middle" fill="#202020" stroke="#202020">-0.2</text>
<text transform="translate(203.85,467.1) scale(1.0,1.02)" font-size="24" text-anchor="middle" fill="#202020" stroke="#202020">0</text>
<text transform="translate(272.42,467.1) scale(1.0,1.02)" font-size="24" text-anchor="middle" fill="#202020" stroke="#202020">0.2</text>
<text transform="translate(77.95,445.5) scale(1.0,1.02)" font-size="24" text-anchor="end" fill="#202020" stroke="#202020">0</text>
<text transform="translate(77.95,391.48) scale(1.0,1.02)" font-size="24" text-anchor="end" fill="#202020" stroke="#202020">0.02</text>
<text transform="translate(77.95,337.47) scale(1.0,1.02)" font-size="24" text-anchor="end" fill="#202020" stroke="#202020">0.04</text>
<text transform="translate(77.95,283.45) scale(1.0,1.02)" font-size="24" text-anchor="end" fill="#202020" stroke="#202020">0.06</text>
<text transform="translate(203.85,496.5) scale(1.0,1.02)" font-size="24" text-anchor="middle" fill="#202020" stroke="#202020">Voltage (V)</text>
<text transform="translate(22.6,411.4) rotate(-90)" font-size="24" fill="#202020" stroke="#202020">Probability</text>
<rect x="139.1" y="280.4" width="177" height="51.5" fill="#fff" stroke="#202020" stroke-width="1.9"/>
<path d="M140.9 293.8H156" stroke="#3b7cc4" stroke-width="3.2"/>
<path d="M140.9 318.7H154.4" stroke="#d95319" stroke-width="3.2"/>
<text transform="translate(157.2,301.5) scale(1.0,1.02)" font-size="20.2" fill="#202020" stroke="#202020">Simulation Result</text>
<text transform="translate(157.2,326.4) scale(1.0,1.02)" font-size="20.2" fill="#202020" stroke="#202020">Experiment Data</text>
<path d="M472.1 273.85V435.9M520.1 273.85V435.9M568.1 273.85V435.9M616.1 273.85V435.9" stroke="#202020" stroke-opacity="0.16" stroke-width="1.3" fill="none"/><path d="M424.1 283.38H664.1M424.1 321.51H664.1M424.1 359.64H664.1M424.1 397.77H664.1" stroke="#202020" stroke-opacity="0.16" stroke-width="1.3" fill="none"/>
<rect x="424.1" y="273.85" width="240" height="162.05" fill="none" stroke="#202020" stroke-width="2.0"/>
<path d="M424.1 435.9v-3.3M424.1 273.85v3.3M472.1 435.9v-3.3M472.1 273.85v3.3M520.1 435.9v-3.3M520.1 273.85v3.3M568.1 435.9v-3.3M568.1 273.85v3.3M616.1 435.9v-3.3M616.1 273.85v3.3M664.1 435.9v-3.3M664.1 273.85v3.3M424.1 283.38h3.3M664.1 283.38h-3.3M424.1 321.51h3.3M664.1 321.51h-3.3M424.1 359.64h3.3M664.1 359.64h-3.3M424.1 397.77h3.3M664.1 397.77h-3.3M424.1 435.9h3.3M664.1 435.9h-3.3" stroke="#202020" stroke-width="2.0" fill="none"/>
<path d="M424.1 334.1l.06 28.8 .06-.1 .06-3.3 .06-7.2 .06 6 .06 3.4 .06 4.4 .06 2.4 .06-.7 .06-14.5 .06 1.5 .06-2.1 .06 6.9 .06-7.3 .06 2.1 .06 6.4 .06-7.1 .06-3.1 .06 20 .06-11.4 .06-6.7 .06 3.8 .06-3 .06 4.7 .06-1.7 .06 .4 .06-1.6 .06 6.3 .06-4.3 .06 9.9 .06-11.9 .06 5.3 .06-9.5 .06 .2 .06 12 .06-5.1 .06 4.8 .06 .6 .06-8.6 .06 .3 .06-1.9 .06 9 .06-3.7 .06-4.1 .06 .9 .06 10.9 .06-2.2 .06-8.5 .06-3.9 .06 10.6 .06-1.1 .06 3.3 .06-8.2 .06 10.3 .06-5.4 .06 1.1 .06-7 .06 10.6 .06-9.5 .06 4.3 .06 2.4 .06-2.1 .06 13.4 .06-15 .06-8.5 .06 10.8 .06-8.4 .06 6.7 .06 3.5 .06-5.1 .06 4.9 .06-16 .06 26.5 .06-12.9 .06-5.3 .06 8.3 .06-4.9 .06 10.8 .06-3.8 .06-9.3 .06 0 .06 2 .06 2.8 .06 2 .06-11.4 .06 13.4 .06 7.6 .06-12.5 .06-5.7 .06 4.1 .06 9.1 .06-15.9 .06 9.4 .06 2.1 .06-4 .06-1.8 .06-3.5 .06 7.3 .06-2.8 .06-1.2 .06-7.8 .06 10 .06-4.5 .06 7.8 .06-8 .06-3.1 .06 2.1 .06 5.4 .06-2.7 .06 2.8 .06 2.5 .06-7.5 .06-3.2 .06 7.3 .06 1.5 .06-5.7 .06 9.5 .06-8.6 .06 3.7 .06-2 .06-8.8 .06 1.2 .06 12.4 .06 .2 .06-7.1 .06 7.1 .06-5.9 .06 1.5 .06-3.7 .06 7.5 .06-.6 .06-6.5 .06-.9 .06 9.4 .06 6.5 .06-11.8 .06 .4 .06 6.3 .06-3.7 .06-8.7 .06 .4 .06-2.5 .06 13 .06-4.2 .06 7 .06-11.1 .06 5.5 .06 1.3 .06-6.3 .06-.6 .06-1.4 .06 16.2 .06-14.9 .06-2.9 .06 3.2 .06 3.3 .06 5.7 .06-6.8 .06 4.6 .06 1.4 .06 2.1 .06 3.4 .06-13.6 .06 5.5 .06 6.2 .06-7.8 .06 1.5 .06-2.4 .06 14.6 .06-11.5 .06-5.2 .06 3.9 .06-5.2 .06 12.3 .06-8.2 .06-.7 .06-4.6 .06-4.4 .06 15.1 .06-10.9 .06-1.5 .06 6.1 .06 .4 .06-7.1 .06 7 .06 2.7 .06 1.1 .06-3.6 .06 12.1 .06-19.7 .06 8.1 .06 6.1 .06-6.9 .06 3.6 .06-10.1 .06 7 .06-4.5 .06-2.5 .06 9.8 .06-10.1 .06 12.2 .06-3.6 .06-1.9 .06-3.9 .06 7 .06-4.8 .06-.3 .06 .6 .06-3.5 .06 10.1 .06-2.6 .06-3.6 .06-1.4 .06 3.1 .06 1.2 .06 9.6 .06-8.2 .06 1.3 .06-8.6 .06 1.8 .06-.5 .06-7 .06 2.6 .06 5 .06 4.9 .06 6.4 .06-13.6 .06 2.5 .06 3.1 .06-6.6 .06 3.9 .06 1.2 .06-1.6 .06 13.3 .06-20.7 .06 3.9 .06 7.9 .06-1.4 .06-2.3 .06-.5 .06 2.3 .06-8.5 .06 10.6 .06 2.2 .06-7.7 .06-1.7 .06-3.5 .06 .8 .06 12.4 .06-8.5 .06-2.9 .06 2.3 .06 6.6 .06-6.5 .06 1.8 .06-2.1 .06 5.2 .06-6.6 .06-.3 .06 4.1 .06 .3 .06 .9 .06 5.4 .06-4.4 .06-2 .06-2.7 .06 .3 .06 1.5 .06 5.6 .06-6.4 .06 1.2 .06 10.9 .06-1.9 .06 8.1 .06-23.3 .06 12.5 .06-8.6 .06 7.7 .06-7 .06 5.1 .06 2 .06-.3 .06-3.6 .06-1.4 .06 9.8 .06-8.7 .06 5.7 .06-2 .06 1.4 .06-5.3 .06-8.3 .06 7.4 .06 2.4 .06-6.8 .06 10.6 .06 9.2 .06-12.8 .06 7.9 .06-3.2 .06-8.4 .06 7 .06-1.1 .06-3.1 .06 5.8 .06-7.8 .06 .8 .06 1.8 .06 4.1 .06 0 .06-3.4 .06-5.9 .06-1.8 .06 13.5 .06 1.3 .06-9.7 .06 16 .06-6.5 .06-.7 .06-9.4 .06 1.1 .06-2.1 .06 .7 .06 1.8 .06 1.9 .06-6.5 .06 9.7 .06-9.6 .06 2.1 .06 11.9 .06-2.1 .06-10.3 .06 9.5 .06-10.1 .06-4.7 .06 15 .06 2 .06-8.7 .06 5.4 .06 .7 .06-8.3 .06-2.1 .06 3.4 .06 9 .06 3.8 .06-8.5 .06-.2 .06-1.8 .06-3 .06 11.5 .06-14.2 .06 7.6 .06-6.5 .06-1.4 .06 7.2 .06-3.2 .06-2.9 .06 6.3 .06 9.6 .06-13.4 .06 10.1 .06-10.3 .06 4.9 .06-11.1 .06 10.4 .06 6.8 .06-16 .06 8.1 .06-3.7 .06 4.4 .06-1.8 .06-.3 .06 3.2 .06-.6 .06-1.6 .06 3.8 .06-9.9 .06 7.3 .06 .1 .06-2 .06-2.7 .06-3.9 .06 5.2 .06 11.2 .06-7.1 .06-3.1 .06 .6 .06-1 .06 10.7 .06-9.4 .06 5 .06-9.5 .06 8 .06-2.5 .06-2.8 .06-.3 .06-3.1 .06 3.4 .06-1.7 .06 4 .06 0 .06-1.5 .06 3.2 .06-7.3 .06 5.6 .06-2.5 .06 6.6 .06-12.8 .06 15.8 .06 0 .06-5.4 .06-6.3 .06 2.2 .06 12.6 .06-17.4 .06 4.7 .06-4 .06-2.3 .06 3.1 .06 8.8 .06-9.8 .06-1.7 .06 18.7 .06-12 .06 2.8 .06-7.4 .06 8.1 .06-6.2 .06 4.9 .06-7.4 .06 .4 .06 10.3 .06-7.8 .06-3.5 .06 5 .06 5.3 .06-6.6 .06 9 .06-1.9 .06-9.9 .06 9 .06-3.8 .06 8.7 .06-11 .06 7 .06-2.8 .06-9.3 .06 1.4 .06 15 .06-14.2 .06 10.3 .06-.8 .06-1.2 .06-4.6 .06 16.1 .06-13.7 .06 1.9 .06 1.2 .06 6 .06-13.1 .06-1.4 .06 5.5 .06 2.2 .06-3.8 .06-3.5 .06 8.7 .06 4.5 .06-8.3 .06 4.7 .06-6 .06-3.8 .06 7 .06-2.2 .06 .9 .06-4.1 .06-1 .06 5.8 .06 .5 .06 9.9 .06-14.1 .06 4.8 .06-4.2 .06-3 .06 4.7 .06 13.8 .06-10.3 .06-6.6 .06-.1 .06-4.1 .06 14.9 .06-13.1 .06 3.4 .06-4.8 .06-.5 .06-1.5 .06 4.3 .06 3.6 .06-4.1 .06 10 .06-4.2 .06 3.7 .06-6.7 .06-6.1 .06 4.7 .06 4.3 .06-2.4 .06-5.3 .06 9.8 .06-2.5 .06 .7 .06 2.7 .06-3.4 .06-7.4 .06 4.2 .06-.6 .06 9.8 .06-10.5 .06 1.7 .06 3.4 .06 2.6 .06-4.8 .06 7.5 .06-9.5 .06 12.3 .06-10.4 .06-4 .06 .9 .06 19.2 .06-12.8 .06-3.1 .06 5.7 .06-3.9 .06 1.1 .06-.7 .06 2.7 .06-8.8 .06 10 .06-10.1 .06 2.4 .06 8.9 .06-12.4 .06 7.3 .06-.3 .06-2.6 .06 .2 .06 3.5 .06 4 .06-3.1 .06-8.2 .06 12.4 .06-11.9 .06 1.3 .06-.4 .06 .9 .06 15 .06-13.2 .06 7.2 .06-1.2 .06-8.9 .06 .7 .06-2.6 .06 5 .06 11.6 .06-7.3 .06-6.2 .06-1.7 .06 2.4 .06 4.4 .06 3.2 .06-4.7 .06 18.3 .06-16.3 .06-8 .06 12.7 .06-11.5 .06 9.9 .06-3.3 .06-5.4 .06-.1 .06 4.3 .06 1.6 .06-4.2 .06-4.7 .06 6.7 .06 8.2 .06-6.6 .06 0 .06 1.4 .06-2.8 .06 4.1 .06-5.8 .06 13.9 .06-15 .06-1.8 .06 3.5 .06-2 .06 .9 .06-1.5 .06 5 .06-.8 .06-1.7 .06 5.1 .06-9.2 .06 9.7 .06-.8 .06-7.7 .06-2.6 .06 12 .06-8.1 .06 4.2 .06-7.8 .06 2.9 .06 8.4 .06-2.4 .06-5.8 .06 .4 .06 .9 .06 1.6 .06 .5 .06-6.6 .06 7.2 .06-3.5 .06 0 .06-2.4 .06 1.5 .06-1.3 .06 13 .06-7.2 .06 1 .06-7.5 .06 3.9 .06 4.5 .06-7.6 .06 6.2 .06-3.3 .06 5.4 .06-7.4 .06 4.4 .06 .1 .06 6.4 .06-12.7 .06 5.5 .06-3.7 .06-.4 .06 1.5 .06-3 .06 10.3 .06-.6 .06-7.4 .06 3.7 .06 1 .06 2.4 .06 .2 .06-6.9 .06-.5 .06 9.1 .06-2.2 .06-4.5 .06 1.9 .06-3.3 .06 16.6 .06 2.7 .06-13.3 .06-3.5 .06 4.5 .06-7.9 .06 .1 .06 4.4 .06 1.2 .06-8.7 .06 11.9 .06-5.6 .06 6.1 .06-12.5 .06 8.7 .06 4.3 .06-10.1 .06-.4 .06 9.6 .06-11.6 .06 6.3 .06 4.7 .06-1.2 .06-8.1 .06-2.7 .06 4.9 .06-5.7 .06 2.1 .06 2.5 .06 4.2 .06 2.6 .06-.2 .06-6.1 .06 8.2 .06 4 .06-8.2 .06-3.3 .06-1.7 .06 .9 .06 7.8 .06-7.7 .06 3.8 .06-2.5 .06 6.1 .06-12.7 .06 11.3 .06-3.1 .06-4 .06-1.7 .06 5.5 .06 10.2 .06 2.8 .06-11.3 .06-3.7 .06 1.6 .06 0 .06 1.1 .06-4.4 .06 5.9 .06-3.8 .06 3.4 .06-9.9 .06 .9 .06 4 .06 1.8 .06-.1 .06-2.4 .06 9.1 .06-12.2 .06 12.4 .06-6.9 .06 15.8 .06-5.1 .06-12.4 .06 .1 .06 5.6 .06-4.4 .06-1.6 .06-1.5 .06-.9 .06 0 .06 3.7 .06-6.1 .06 16.4 .06-13.5 .06 1.1 .06 7.3 .06-9.5 .06 4.7 .06 4.2 .06-11.4 .06 10.2 .06-2.6 .06 3.9 .06-4.1 .06-10.1 .06 9.4 .06 4.3 .06-2 .06 4.7 .06 1 .06-3.5 .06-2 .06 2.3 .06-6.4 .06 1.4 .06 11.1 .06-7.2 .06 1.1 .06-6.4 .06 3.6 .06 4.1 .06-2.9 .06-2.4 .06 1.9 .06 2.4 .06-4.5 .06-3.9 .06 6.2 .06 1.4 .06 .3 .06-2.5 .06 11.5 .06-10.9 .06 4.9 .06 .5 .06-12.7 .06 22.2 .06-11.4 .06 .9 .06-11.2 .06 14.1 .06-5.5 .06 2.2 .06-4.6 .06 .4 .06-9.7 .06 11.8 .06-8.9 .06 16.7 .06-13.2 .06 3.3 .06 19.4 .06-18.9 .06-.6 .06-9.1 .06 12.2 .06 15.2 .06-22.2 .06 16.8 .06-17.8 .06 8.4 .06 4.6 .06-5.3 .06-1.6 .06-8.5 .06 1.3 .06 10.7 .06-10.1 .06 7 .06-3.4 .06 28.5 .06-27.7 .06 3.9 .06 .9 .06 3.3 .06-3.3 .06-10.2 .06 6.4 .06 2.6 .06-5.4 .06 3.5 .06-2.8 .06-3.3 .06-1.1 .06 .5 .06 1.7 .06 3.4 .06-4.1 .06 2.7 .06-5.3 .06 8.6 .06 5.8 .06 2.3 .06-8.9 .06 6.9 .06-3.8 .06 5.5 .06-14.8 .06 15.4 .06-16.2 .06 20.2 .06-8.7 .06 4.8 .06-5.9 .06-7.5 .06 1.7 .06 6.7 .06-5.7 .06 16.6 .06-12.1 .06-1.3 .06 4.9 .06-9.3 .06 1.9 .06-5.5 .06 15.7 .06-10.7 .06 2.9 .06-.6 .06 1.5 .06 1.1 .06 1.5 .06-7.2 .06 3.2 .06-8.8 .06 1.9 .06 7.2 .06-2.5 .06-3.2 .06 4.9 .06-.4 .06-3.3 .06 5.7 .06 1.3 .06-2.9 .06-1.7 .06-7.2 .06 6.8 .06 18.5 .06-12 .06 1.2 .06-4.1 .06-9.6 .06 14.9 .06-9.1 .06-2.9 .06 15.8 .06-11 .06-4.5 .06 2.4 .06-2.3 .06 5.9 .06-6.8 .06-1.6 .06 .9 .06 6.8 .06 6.1 .06-3.7 .06-9.1 .06 4.2 .06-.8 .06-4.9 .06 2.6 .06 1.9 .06-4.1 .06 3.4 .06 4 .06-10.2 .06 5 .06 1.7 .06-.7 .06 8.8 .06-8.8 .06 2.7 .06 10.9 .06-14.1 .06 10.1 .06-7.6 .06 .8 .06-4.7 .06 7.2 .06-7.9 .06 3.5 .06-.2 .06-5.3 .06 7.8 .06-7.7 .06 17.3 .06-5.9 .06-1.7 .06 10.2 .06-11.9 .06-3.6 .06 14 .06-12.4 .06-.8 .06 5.8 .06-5.7 .06 5.8 .06 10.4 .06-11.9 .06-3.5 .06-.4 .06 12 .06-5.9 .06-4.4 .06-5.8 .06 16.6 .06-15.1 .06 1.4 .06 5.8 .06-4.8 .06-3.3 .06 5.2 .06 6.2 .06-4.3 .06-7 .06-.5 .06-5 .06 5.5 .06 1.7 .06 2.8 .06 .1 .06 2.9 .06 5.4 .06-5.1 .06-5.9 .06 1.1 .06 3.2 .06-11.2 .06 6.8 .06 7.8 .06 7.7 .06-14.1 .06 6.7 .06-3.6 .06 .1 .06-.4 .06 1.7 .06-3.2 .06 7.1 .06 7.5 .06-18.6 .06 4.7 .06 6 .06-12.8 .06 4.2 .06 .8 .06 10 .06-4.8 .06-1.7 .06 1.1 .06 .8 .06-9.6 .06 18.9 .06-1.8 .06-11.1 .06 5.3 .06-8.6 .06 6.6 .06-8.1 .06 6.8 .06-6.4 .06-.8 .06 9 .06-6 .06 0 .06 .9 .06-7.7 .06 7.7 .06 8.5 .06-6.5 .06 8.9 .06-10.2 .06 8.5 .06-11.6 .06 .9 .06 1.1 .06 4.9 .06 5.5 .06-8.6 .06-4.7 .06 2 .06 3.9 .06 11.4 .06-10.2 .06-6.3 .06 9.7 .06-11.5 .06-5.1 .06 16.9 .06-.7 .06-8 .06 2 .06-3.2 .06 7.4 .06-1.9 .06-3.2 .06 .8 .06-2.4 .06 7.6 .06-11.6 .06 16.5 .06-9.3 .06 11.5 .06-5.6 .06-7.2 .06 8.6 .06-10.6 .06-1.7 .06 1.6 .06 6.3 .06-4.8 .06 7.9 .06-5.2 .06-3.9 .06-2.6 .06 12.1 .06-3 .06-3.8 .06-4.5 .06 2.7 .06 3.2 .06 1.7 .06-8.9 .06 3.9 .06-5.3 .06 11 .06-6.7 .06-3.3 .06 8.8 .06-11.8 .06 10 .06 4.1 .06-4.1 .06-4.8 .06 5.6 .06 .1 .06-1.6 .06-.3 .06 1.5 .06-3.5 .06 9.7 .06-5.8 .06-11.5 .06 8.1 .06-4.7 .06 9.3 .06-4.1 .06-.6 .06-1.5 .06 19 .06-16.4 .06-3.4 .06 2 .06 11.1 .06-2.9 .06-7.2 .06-2.7 .06 3.9 .06 3.6 .06 3.4 .06-7.4 .06-3.9 .06-.3 .06-3.3 .06 10.2 .06 5.2 .06-1.2 .06-2.6 .06 14.8 .06-18.5 .06 3.7 .06-1.3 .06-.8 .06-1.8 .06 6.9 .06 2 .06-3.7 .06-7.8 .06 1.1 .06 0 .06 8.4 .06-4.6 .06-3.2 .06 7.4 .06-14 .06 2.7 .06 8.8 .06-2.1 .06 .3 .06 4.8 .06 0 .06-10.8 .06-2.2 .06 10 .06-3 .06 4.2 .06 11.7 .06-3.3 .06-3.6 .06-2.7 .06-4.5 .06-8 .06 14.7 .06-5.2 .06-7.7 .06 4.2 .06 9.3 .06-5.7 .06-8.6 .06 18.8 .06-20.2 .06-.2 .06 6.9 .06 9.5 .06-14.6 .06 7.4 .06-8.3 .06 4 .06 5.2 .06-3.3 .06-4.8 .06 5.8 .06-2.3 .06-5.5 .06 4.6 .06 .1 .06-5.5 .06 5.1 .06 2.6 .06 8.2 .06-13.9 .06-2 .06 10.6 .06-8.1 .06 7.4 .06 1.3 .06 .3 .06-8.1 .06 6 .06-6.2 .06 10.3 .06-6.8 .06-2 .06 1.3 .06 12.2 .06-11.2 .06-4.8 .06 4.8 .06 2.2 .06-8.9 .06 9.9 .06 6.7 .06-10.7 .06 5.5 .06-10.3 .06 1.6 .06 8.1 .06-8.5 .06 15.4 .06-16.6 .06 4.6 .06 1.4 .06 8.2 .06-7.6 .06 8.7 .06-2.7 .06-8.1 .06-4.9 .06 7.6 .06 1.8 .06-4.4 .06-2.8 .06-1.2 .06-1.4 .06 13.2 .06-9.8 .06 7.3 .06-7.6 .06 5.7 .06-8.8 .06 10.6 .06-5.4 .06-.7 .06 7.3 .06-4.5 .06 5.9 .06-3.2 .06-9 .06 4.9 .06 9.7 .06-8 .06-2.1 .06 3 .06-5.1 .06 4.6 .06 11.3 .06-14.9 .06 3 .06-3.5 .06 8.4 .06-13.4 .06 8.6 .06-.3 .06-.8 .06-1.7 .06-4.4 .06 3.7 .06 7.3 .06-6.1 .06 .4 .06 15.6 .06-10.4 .06-3 .06-2.3 .06-6 .06 9.3 .06 2.2 .06-8.3 .06 4.5 .06-1.2 .06 6.7 .06 7.9 .06-15.9 .06 3.2 .06-1.8 .06 1.3 .06-.5 .06 4.7 .06-11.9 .06-2.6 .06 10.7 .06-2.3 .06 1.6 .06-4 .06-2.5 .06 3.3 .06 8.9 .06-9.1 .06-1 .06 .3 .06 11.5 .06-5.4 .06-4.9 .06-5.5 .06 7.9 .06 5.4 .06-8.2 .06 5.1 .06-.5 .06 1.6 .06-7.7 .06 1.4 .06 2.8 .06 7.7 .06-.2 .06-2.6 .06-2.2 .06 7.6 .06-13.6 .06-.4 .06 6.7 .06-3.3 .06 2.1 .06-2.8 .06-1.1 .06 1.3 .06-1.8 .06 6 .06 .8 .06-6.8 .06-1.5 .06-.4 .06 12.5 .06-14.2 .06 11 .06-2.1 .06-6 .06-2.6 .06 8.8 .06-1.8 .06 1.6 .06-3.6 .06 .6 .06-1.6 .06 5.6 .06 3.2 .06-8.1 .06-5.7 .06 9.3 .06-8.7 .06 5.3 .06-3.4 .06 3.9 .06-10.4 .06 12.4 .06 7 .06-8.5 .06-2.3 .06 .1 .06-.9 .06-3.3 .06 2.8 .06 3.8 .06-2.1 .06 5.1 .06-.6 .06-1.7 .06-8.9 .06 10.7 .06-5.5 .06-1.5 .06 .3 .06 9.5 .06-7.3 .06-1.3 .06 6.8 .06 7.8 .06-2.5 .06-7.6 .06 3.3 .06-1.7 .06-3.3 .06-5 .06 6.5 .06 2.1 .06-4.9 .06-3.7 .06 7.6 .06-2.8 .06-3.4 .06 11.3 .06-3.5 .06-2.3 .06-2.1 .06-6.8 .06 3.2 .06-2.9 .06 1.9 .06 7.2 .06 5.9 .06-11.3 .06 14.5 .06-9.4 .06-3.1 .06-5.4 .06 15.9 .06-11 .06-5 .06 8.7 .06 7.8 .06-9.9 .06-2.9 .06 2.3 .06 1.3 .06-4.9 .06 1.2 .06 6 .06-1.7 .06 7.9 .06-15.2 .06 10.8 .06-11.3 .06 4.4 .06 1.9 .06 3.7 .06-7.3 .06 3.4 .06 6.3 .06-5 .06 1.6 .06 2.8 .06-3.3 .06 3 .06 .3 .06 2.5 .06-5.9 .06 .3 .06 3.7 .06-8.4 .06-2 .06 2.3 .06 13.1 .06-9.6 .06-1.9 .06-1 .06-3.8 .06 3.8 .06 1.5 .06-3 .06 1.7 .06-1.3 .06-2.5 .06 8.3 .06 3 .06-4.3 .06-9.8 .06 6.9 .06 .5 .06 .5 .06 1 .06 .5 .06 2.2 .06-7.1 .06 3.7 .06-6.3 .06 9.4 .06 1.1 .06-5.9 .06 3.4 .06-.7 .06-2.2 .06-1.3 .06 11.7 .06 10.4 .06-14.9 .06-2.7 .06-3.8 .06 0 .06 6.6 .06-5.3 .06-.7 .06 6.2 .06-9.3 .06 14.3 .06-7.7 .06-1.4 .06-3.4 .06 .4 .06-5.2 .06 12.7 .06-4.9 .06 5.7 .06-8.4 .06 1 .06 .1 .06 .7 .06-5.7 .06-2.4 .06 14.1 .06-1.4 .06-4.2 .06-1.5 .06 1 .06-.5 .06 0 .06-5 .06 7.2 .06-9.3 .06 2.3 .06 5.3 .06-3 .06 2 .06 6.5 .06 .9 .06-4.5 .06-3.7 .06 3.8 .06-8.5 .06 1.9 .06 11.1 .06 .2 .06-7.9 .06-.5 .06 3.7 .06 3.3 .06-4.6 .06 1.1 .06 4.2 .06 2.2 .06-3.1 .06-16.5 .06 21.8 .06-2.5 .06-5.3 .06-2.1 .06 1 .06-4.5 .06 5 .06-4.2 .06-4.9 .06 1.4 .06 16.8 .06-11.8 .06 6.4 .06-2 .06-1.2 .06-2.5 .06 9.9 .06-10.3 .06 6.1 .06 .3 .06-8.2 .06-2.5 .06 10.7 .06 3 .06-13.2 .06 10.6 .06-12.4 .06 5.9 .06 2.1 .06 .7 .06 7.7 .06-10.3 .06-1.2 .06 20.7 .06-19 .06 2.7 .06-1.4 .06-.6 .06-2.5 .06 3.2 .06-3.6 .06 8 .06-6 .06 7.7 .06-2.2 .06-1.9 .06-7.3 .06 10.6 .06-.2 .06-5.3 .06-.3 .06 4.2 .06-4.1 .06-3.4 .06-2.6 .06 7.6 .06-9.3 .06 22.2 .06-17.2 .06-.9 .06-1.3 .06 6.7 .06-7.1 .06 8.1 .06-9.7 .06 2.5 .06 4 .06 1.3 .06-1.3 .06-2.8 .06-4.8 .06 .2 .06 11.9 .06-8.5 .06 10.6 .06-5.4 .06-1.7 .06 3 .06-3.3 .06 8.9 .06-10.9 .06 1.1 .06 8.9 .06-5.9 .06-.7 .06 9.6 .06-2.6 .06-14 .06 5.4 .06 4.1 .06 7.8 .06-14.9 .06 7.3 .06-7.5 .06-1.2 .06 5.2 .06-2.6 .06-4.9 .06 .7 .06 4.3 .06 2.1 .06 4.1 .06-2.3 .06 2.5 .06 8.8 .06-17.3 .06 14.4 .06-7.6 .06 0 .06-3.3 .06-.4 .06 .3 .06-3.5 .06 .6 .06 .5 .06-4.5 .06 5.7 .06-9.3 .06 13.8 .06-3.3 .06 .1 .06 6.3 .06-6.4 .06-1.3 .06-5 .06 15.2 .06-9.1 .06 5.4 .06-5.2 .06 1.4 .06 2.6 .06 2.5 .06-3.2 .06 .4 .06-3.3 .06 2.9 .06-7.3 .06 5.1 .06 6.5 .06-1.5 .06-9.3 .06-.1 .06 8 .06-9.4 .06 13.2 .06 0 .06-7 .06 5.8 .06 5.5 .06-12.8 .06-1.7 .06 .4 .06-.1 .06-1.1 .06 2.2 .06 12.4 .06-1 .06-11.5 .06 3.4 .06-1.4 .06 0 .06 2.4 .06-9.8 .06 12 .06-17.1 .06 12.4 .06 .4 .06 4.8 .06 5.1 .06-14.3 .06-1.6 .06 9.5 .06 3.2 .06-6.4 .06-.4 .06-2.8 .06-2.4 .06 6.8 .06 5.7 .06-7.6 .06-1.2 .06-4.8 .06 9.4 .06-4.1 .06-3.5 .06 1.6 .06 8.8 .06-3 .06-4 .06 4.4 .06 2.9 .06 11.5 .06-22.8 .06-.2 .06 11.4 .06-9.2 .06 11.1 .06-13.7 .06-6 .06 8.4 .06 4 .06 3.7 .06 2 .06-7.2 .06 8.1 .06-6.9 .06-8.3 .06 5.3 .06-1.7 .06 9.9 .06-7.6 .06 1.2 .06 3.9 .06-4 .06 12.1 .06-15.9 .06 7.3 .06-6.1 .06 3.1 .06-1 .06-2.3 .06-6.6 .06 13.3 .06-2.4 .06 3.6 .06-9.1 .06 1.8 .06-1 .06-5.3 .06 .5 .06 2.4 .06-1.2 .06 13.4 .06-2.7 .06-5.3 .06-3 .06 10.6 .06-15.4 .06 12.7 .06-4.2 .06 1.5 .06-4.6 .06 14.9 .06-11.5 .06 5.5 .06-3.2 .06-2.5 .06-.5 .06 1.1 .06 7.6 .06-4.4 .06-9.6 .06 9.3 .06-2.8 .06 3 .06-5.6 .06 12.3 .06-6.9 .06-4.5 .06-1.5 .06 2.9 .06 1.7 .06-5.3 .06-2 .06 1.7 .06 7.4 .06-4.9 .06 10.9 .06-10.5 .06 2.1 .06 .5 .06-5.9 .06 5.9 .06-3.1 .06 7 .06-11.8 .06 6.3 .06-3.5 .06-2.9 .06 8.2 .06-6.3 .06 2 .06 2.3 .06-5.7 .06 9.9 .06-12 .06 6.4 .06-1.9 .06 4.2 .06-3.4 .06-.4 .06-3 .06 6.2 .06 7.9 .06-9.7 .06 3.9 .06 6.6 .06-15.6 .06 5.3 .06-1.9 .06 2.1 .06 .3 .06 5.1 .06-8.3 .06 14.4 .06-18.3 .06 3.2 .06 13.4 .06 0 .06-1.7 .06-5 .06-4.2 .06 2.4 .06 .9 .06 12.2 .06-13.2 .06-1.2 .06 4.5 .06-2.3 .06-.1 .06-4.9 .06 11.3 .06-.9 .06-6.1 .06 1 .06 .9 .06-3 .06-2.3 .06-3.2 .06 9.9 .06-3.7 .06-6.5 .06 5.4 .06 1.3 .06-1.8 .06 5.9 .06-3.2 .06-4.6 .06 3.1 .06-6.4 .06 11.5 .06-11.8 .06 11.8 .06-1.8 .06 13.8 .06-12.5 .06-.6 .06-8.8 .06 10.6 .06 .8 .06-5.4 .06-4.3 .06 11.9 .06-8.9 .06-7.4 .06 10.6 .06 2 .06 3.7 .06-8 .06 .4 .06 1.2 .06-2.5 .06 .9 .06-.3 .06 .2 .06-2.6 .06 10.3 .06-3.4 .06-5.6 .06 8.3 .06-7.2 .06 .9 .06 1.1 .06 5.4 .06-2.2 .06-6.6 .06-1.8 .06 8.1 .06-1.6 .06-.9 .06 7.8 .06-3.2 .06-7.8 .06 3.6 .06 4.8 .06-6.2 .06 5.9 .06-6.1 .06-4.4 .06-2.1 .06-.2 .06 3.7 .06 13.5 .06-12.8 .06 1.2 .06 3 .06-5.5 .06 11 .06-12.9 .06 9.1 .06-6.3 .06 2.7 .06 3.4 .06-7.8 .06 7.3 .06-1.9 .06 2.2 .06-10.4 .06 12.4 .06-3.1 .06 1.8 .06 3.9 .06-13.3 .06 5.4 .06-2.3 .06 4.7 .06-3.9 .06 .9 .06-4.2 .06 7.9 .06-8 .06 .2 .06-4.2 .06 11.6 .06 10 .06-18.1 .06 6.5 .06-3.8 .06 4 .06-11.8 .06 20.3 .06-17.9 .06 10.6 .06 5.9 .06-3.8 .06-1.8 .06-10.1 .06 8.6 .06-8.6 .06 9.4 .06-8.9 .06 6.6 .06 5 .06-.8 .06 5.9 .06-7.4 .06 6.2 .06-8.1 .06-3.4 .06 10.4 .06-9.8 .06 1.9 .06 2.7 .06-5.5 .06 6.1 .06-3.2 .06 1.6 .06-1.6 .06 9.8 .06-9 .06-5.1 .06 4.4 .06-1.6 .06-3.2 .06 19 .06-20.2 .06 5.2 .06 1.7 .06 3.9 .06 .6 .06-3.6 .06-.2 .06-.8 .06 1.9 .06-4.4 .06-3.5 .06 6.4 .06-1 .06-6.1 .06 11.1 .06-5.3 .06-3.8 .06 2 .06-1.9 .06 6.3 .06-10 .06 8.2 .06 8.1 .06-4.4 .06 17.2 .06-25.6 .06-1.4 .06 6.3 .06 4 .06-6.4 .06 1.4 .06 .3 .06-3.3 .06 5.2 .06 1.6 .06-8.7 .06 12.5 .06-9.1 .06 11 .06-8.9 .06 2.8 .06-3.9 .06-.8 .06 3 .06-7.1 .06 7.1 .06-1.6 .06-5.7 .06 14 .06-6 .06 3.2 .06-10.7 .06 15.9 .06-11.4 .06-1.8 .06-7.4 .06 14 .06-7.3 .06 .5 .06 1.5 .06 .9 .06-3 .06 2.5 .06 2.3 .06-2.9 .06-.2 .06-3.9 .06 7.3 .06-7.2 .06-.4 .06 1.3 .06 5.7 .06-1.5 .06-2.7 .06-.9 .06 15.5 .06-14.4 .06 .2 .06-2.9 .06 10.1 .06-5.7 .06-8 .06 1.7 .06 9.1 .06 2.5 .06-9.4 .06 10.2 .06-.6 .06-4.9 .06 4 .06-1.3 .06-8.8 .06 .1 .06 5.5 .06 4.4 .06-3.9 .06-2.2 .06-.9 .06 1.4 .06-2.5 .06 5.9 .06-.9 .06 8.8 .06-13.2 .06 11.6 .06-5 .06-2.9 .06-7.2 .06 4.8 .06 8.8 .06-1.2 .06-4.3 .06-9.7 .06 11.4 .06 2.3 .06-9.5 .06 7.8 .06 5.7 .06-6.2 .06-3.5 .06 .7 .06 5.9 .06-6.9 .06 2.3 .06 .9 .06-2.8 .06 11.8 .06-12.1 .06 4.3 .06-4.8 .06 5.8 .06-9.1 .06 5.5 .06-5 .06-2.9 .06 8.3 .06-6.7 .06 8.9 .06-6.8 .06 3 .06-6.8 .06 14.2 .06-6 .06-3.4 .06-.8 .06 2.8 .06 3 .06-3.3 .06 1.7 .06 1.3 .06-6.1 .06-1 .06 9.5 .06 3.3 .06-12.4 .06 3.3 .06-1.1 .06 1 .06-1.9 .06 .4 .06 4.9 .06-4.1 .06 14.4 .06-2.1 .06-6 .06-2 .06 1.7 .06 1.1 .06-5.1 .06 5.8 .06-5.9 .06 6.2 .06-6.9 .06-5.3 .06 9.2 .06 9.8 .06-16.1 .06 12.5 .06-5.9 .06-8.8 .06 8.6 .06-4.6 .06 1.4 .06 3.9 .06-6.5 .06-1 .06 14.9 .06-15.7 .06 7.8 .06-6.8 .06 11.4 .06 .8 .06-14.1 .06 3.8 .06-.1 .06-3.7 .06 5.3 .06-.8 .06 6.9 .06-3.7 .06-3.9 .06 2.7 .06 15.6 .06-20.3 .06-3.5 .06 4.8 .06-.7 .06 3 .06 1.7 .06-3.3 .06 3.4 .06-.2 .06-1.7 .06-1.9 .06-.6 .06 2.9 .06-2.4 .06 5.6 .06-5.1 .06 8 .06-3.4 .06 .2 .06-10.3 .06 12.6 .06-3.1 .06-4.8 .06 3.3 .06-3.7 .06 5.9 .06-7.8 .06 1.6 .06-2.2 .06 .8 .06 3.6 .06 17.5 .06-17.9 .06 5.1 .06-6.4 .06-1.4 .06 5.7 .06 2.6 .06-3.7 .06-4.7 .06-3 .06 7.7 .06 2.1 .06 1.4 .06-4.9 .06 6.9 .06-1.3 .06-4.6 .06 5.9 .06-2.3 .06-1.1 .06-4.8 .06-4.4 .06 9.4 .06-3.2 .06-8.5 .06 10.1 .06-.2 .06 5.1 .06 8 .06-16.7 .06 7.9 .06-7.8 .06 1.7 .06 7.6 .06-5.3 .06 11.8 .06-2.7 .06-11.3 .06 10.4 .06-1.6 .06-5.8 .06 11.3 .06-15.7 .06-3.2 .06 2.2 .06 4.7 .06-4.3 .06 7.7 .06-.5 .06-5.3 .06-1.4 .06 4.4 .06-6.8 .06-.9 .06 .2 .06 16.8 .06 5.4 .06-12.6 .06-3.9 .06-3.2 .06-1.6 .06 10.2 .06-4 .06-7.4 .06 7.3 .06-13.4 .06 11.3 .06-2.2 .06 7.4 .06-14.4 .06 14.4 .06 3 .06 1.2 .06-10.3 .06 10.6 .06-10 .06-.5 .06-3.3 .06-.9 .06 3.5 .06 3.4 .06 7.5 .06-13.9 .06 8.5 .06-2.3 .06 0 .06 2.6 .06-3 .06-7.1 .06 3.9 .06-2.1 .06 1 .06-3.4 .06 7.5 .06 1.5 .06-8.3 .06 22.1 .06-19.2 .06 .5 .06 2.1 .06-.3 .06 5.1 .06-.9 .06-9 .06 5.9 .06-5.2 .06 8.9 .06 .3 .06 4.5 .06 1.7 .06-13.1 .06 12.9 .06-11.2 .06-3.1 .06 2.6 .06 5.2 .06-7.4 .06 1.4 .06 7.1 .06-1.3 .06-6.1 .06-4.6 .06 8.4 .06-.5 .06-3.8 .06 6.3 .06-5.6 .06 9.7 .06-.7 .06-3.9 .06 5.1 .06-9.9 .06 .6 .06-2.3 .06-1.5 .06 4.7 .06-.7 .06-1.9 .06-.3 .06 7.5 .06 8 .06 1.2 .06-2.7 .06-8.4 .06 10.4 .06-9.3 .06-2.3 .06-1.1 .06-.9 .06-.9 .06 6.1 .06-2.5 .06-3.5 .06 2.1 .06-5.4 .06 .4 .06 2.7 .06 2.8 .06 .2 .06 .2 .06 20.9 .06-18.1 .06-10.1 .06 7 .06-1.9 .06-3 .06-2.5 .06 5.6 .06 6.4 .06-14.5 .06 18.4 .06-11 .06-2.8 .06 5.3 .06-2.7 .06 4 .06 6.4 .06-10.8 .06 1.4 .06 1.8 .06-2.3 .06 6 .06-11.3 .06 3.1 .06 4.3 .06 2.2 .06-2 .06 4 .06-5 .06 2 .06 4.6 .06-1.8 .06 .6 .06-6.7 .06 .2 .06-2.9 .06 15.1 .06-11.2 .06-.3 .06 2.3 .06 3.4 .06-3.5 .06-4.7 .06-1.8 .06-.9 .06 6.6 .06-6.3 .06 2.5 .06 3.9 .06 3 .06-3.5 .06-6.1 .06 13.5 .06-11 .06-2.3 .06 1.1 .06 7.2 .06-2.2 .06-1.5 .06 .9 .06-.7 .06 4.8 .06-6.8 .06 .8 .06-4.6 .06 7.2 .06-3.3 .06 3.1 .06 5.3 .06-9.8 .06 4.3 .06-3.6 .06 4.6 .06 9.1 .06-6.1 .06-9.1 .06 4.9 .06 1.5 .06 2.3 .06-1.2 .06 9.5 .06-11.6 .06 6.2 .06-10 .06 1.4 .06 9.1 .06-3.6 .06-3.3 .06-6.4 .06 10.6 .06-3.2 .06 7.3 .06-6.2 .06-1.3 .06-3.7 .06 6.8 .06 3.5 .06-10.5 .06-.9 .06 4.3 .06-.3 .06-.7 .06 6.2 .06-2.6 .06-3.4 .06 1.5 .06 1.2 .06-3.6 .06 6.9 .06-8.4 .06 1.6 .06 7.3 .06-8.6 .06 1.8 .06 2.6 .06-8.2 .06 7.3 .06-7.7 .06 11.2 .06 4.2 .06-11.5 .06 5.6 .06 4.2 .06-10.2 .06-2.7 .06 6.4 .06-3 .06 1.6 .06-4.4 .06-.4 .06 4.4 .06 .1 .06-1.4 .06 5.8 .06-6.7 .06 2.1 .06-.7 .06 .7 .06 3.3 .06 9.2 .06-14.3 .06 2.9 .06-2.1 .06 2.7 .06 7.9 .06-6.7 .06 5.4 .06-9 .06-3.4 .06-2.2 .06 11.2 .06-5.7 .06 3.1 .06 12.7 .06-17.6 .06 3.9 .06 9.2 .06-12 .06-2.1 .06 6.2 .06 4.9 .06-5.7 .06-4 .06 6.3 .06-5.9 .06 1.2 .06 .3 .06 4.8 .06 2.9 .06-1.1 .06 8.1 .06-17.1 .06-1 .06 9.2 .06-2.3 .06-7.5 .06 4.5 .06 2.6 .06-.2 .06-5.8 .06 1.7 .06-1.1 .06-2.6 .06 .9 .06 11.3 .06-1.2 .06-2.8 .06-2.2 .06-1.8 .06-2.9 .06 6.2 .06-3.2 .06-2 .06 1 .06 19.5 .06-11.4 .06-.2 .06-10.9 .06 5.1 .06-2.3 .06 1.9 .06 .5 .06 10.4 .06-3.7 .06-6.7 .06-10.1 .06 13.8 .06-3.3 .06 6.9 .06-2.9 .06 1.3 .06-12 .06 14.1 .06-7.3 .06 2.9 .06-13.2 .06 11 .06-3.8 .06-3.5 .06 4.1 .06 5.5 .06-2.2 .06 3.3 .06-2.7 .06-4.3 .06 7.1 .06-4.8 .06-6.1 .06 5.6 .06-3 .06 .8 .06 9.8 .06 7.9 .06-12.2 .06-5.1 .06 8.7 .06-6.5 .06 .1 .06 1.3 .06 .7 .06 6.3 .06-9.7 .06 3.6 .06 6.6 .06 2.9 .06-13.1 .06 1.8 .06-5.5 .06 14.8 .06-8.7 .06 4.3 .06-6.8 .06 1.8 .06-.8 .06-4.9 .06 4.7 .06 6.1 .06-1.9 .06-5.4 .06 2.3 .06 5.3 .06-6.8 .06 7.2 .06 .4 .06-5.3 .06-6.7 .06 5.3 .06 3.5 .06-7 .06 8.9 .06-8.1 .06 .9 .06 1 .06 4.2 .06-3 .06 11 .06-10.9 .06-1.7 .06-1.3 .06 5.2 .06-4.8 .06 8.6 .06-1.9 .06-.3 .06-8.5 .06 13.5 .06-14.1 .06 8.2 .06 3.6 .06-11 .06 2.7 .06 4.9 .06-9.5 .06 8.1 .06-1.4 .06-1.3 .06 6.2 .06-5.8 .06 19.1 .06-8.9 .06-11.6 .06 4.4 .06 3.7 .06 6.7 .06-8.2 .06-6.9 .06 12.6 .06-13.1 .06 5.8 .06 2.7 .06-5.9 .06 7.2 .06-.6 .06-9.5 .06 7.4 .06-4.7 .06 5.8 .06-4.5 .06 6.7 .06-4.5 .06-4.2 .06 4 .06 2.2 .06 1 .06 .7 .06 2 .06-8.7 .06 4.8 .06-11.6 .06 12.5 .06-3 .06-4.1 .06-.4 .06 10.5 .06-13.4 .06 4.1 .06-.7 .06-2.2 .06 5.1 .06-1.5 .06 .6 .06-1.7 .06 7.6 .06-7 .06 7.3 .06-6.8 .06-5.6 .06 11.9 .06-4.2 .06 7.9 .06-4.7 .06-4 .06-.8 .06 1.4 .06 3.9 .06-1.4 .06-9.9 .06 3.8 .06 1.2 .06 .7 .06-3.5 .06 8.7 .06-11.4 .06 7.3 .06-2.7 .06 4.4 .06-2.6 .06 8.7 .06-12.6 .06 11.6 .06-1.8 .06 .8 .06-1.3 .06 11.6 .06-15.8 .06-6.3 .06 11.5 .06-5.2 .06 10.7 .06-14.2 .06 20.1 .06-14 .06 4.5 .06-.4 .06-7.5 .06-8.7 .06 11.2 .06-6.5 .06 7 .06-7.3 .06 8.3 .06-5.6 .06 9 .06-8.4 .06 4.7 .06 7.8 .06-17.7 .06 7.8 .06 2.4 .06-5.3 .06 1.9 .06-.2 .06-2.3 .06 8.5 .06 6.4 .06-9.9 .06 7.3 .06-8.6 .06-.2 .06 4.1 .06 16.2 .06-25.3 .06 9.9 .06-1.8 .06-2.2 .06-.3 .06-.3 .06 .5 .06-1.2 .06-.2 .06-2.7 .06-.6 .06-1.8 .06 1.3 .06 12.3 .06-8.6 .06 .3 .06 7.4 .06-6.6 .06-1.1 .06-10.7 .06 16.9 .06 2.7 .06-14.4 .06 5.8 .06 10.3 .06-10.2 .06 5.3 .06-5 .06 3.4 .06 9.9 .06-17.4 .06 5.1 .06-2.9 .06 .5 .06 1.9 .06-4.6 .06 6.5 .06 1.4 .06-1.8 .06-6 .06 3.2 .06-3.3 .06-2 .06 11.3 .06-2.4 .06 2.3 .06-6 .06-9.5 .06 9.5 .06 1.7 .06-1.5 .06-3.1 .06 8.1 .06-6.2 .06 2.6 .06-4 .06 5.6 .06-8.2 .06 2.4 .06 2.8 .06 9 .06-17 .06 9.7 .06-1.7 .06-.3 .06 9 .06-12.2 .06-3.9 .06 8.1 .06-5.1 .06 4.3 .06 2.6 .06-.6 .06-2.5 .06 7.1 .06 2.8 .06-7.4 .06-3.3 .06 1.5 .06-5 .06 1 .06-1.2 .06 4.8 .06-.7 .06-1.7 .06 .8 .06 1.8 .06-4 .06 .6 .06 7.5 .06-8.2 .06 7.5 .06-1.7 .06-6 .06 4.8 .06-.2 .06-4.4 .06 8.3 .06-.6 .06 1 .06-5.2 .06 3.4 .06 2.4 .06-6.2 .06-.4 .06 .8 .06-5 .06 1 .06-1.6 .06 5.9 .06-.7 .06 12.2 .06-11 .06-7.2 .06 12.4 .06-10.1 .06 4.9 .06-8.9 .06 6.6 .06 7.3 .06-11 .06 5.6 .06-3.7 .06 9.1 .06-1.9 .06 4.6 .06-4 .06-7.4 .06 .3 .06 5.8 .06-3.3 .06 5.8 .06-8.4 .06 10.1 .06-2.5 .06 1.4 .06-11.5 .06 12.7 .06-9.3 .06 3.2 .06-1.7 .06 10.6 .06-7.7 .06-2.5 .06-3.4 .06 7.4 .06-1.3 .06-10.5 .06 12.2 .06-3.1 .06 .4 .06-1.4 .06-1 .06 .1 .06 2.7 .06-.7 .06 1 .06 3.4 .06-1.7 .06-6.6 .06 2.9 .06 8.5 .06-7.1 .06-6.6 .06 5.2 .06-7.1 .06 3.3 .06 5 .06 3.1 .06 .7 .06-6.2 .06 13.4 .06-14.5 .06-.9 .06 1.6 .06 3.4 .06 4.2 .06 .4 .06 2.1 .06-4.9 .06-6.5 .06 2 .06-.1 .06 15.3 .06-18 .06 .5 .06 3.4 .06-3.9 .06-3.8 .06 11.3 .06-6.8 .06 5.5 .06 1.9 .06-5.2 .06-2.4 .06-1.3 .06 5.9 .06-5.7 .06 12 .06 2.4 .06-10.7 .06 1.5 .06-4.8 .06 5.4 .06-7 .06 .6 .06 5.9 .06-.1 .06 2.1 .06 6.2 .06-2.5 .06-1.9 .06-4.4 .06 7.1 .06-6.8 .06-6.7 .06 4.7 .06 2.1 .06-3.5 .06 3.6 .06-1.4 .06-3.6 .06 9.9 .06-4 .06-4.5 .06 7.6 .06-3.8 .06 2.8 .06-5.4 .06 3.1 .06 5.3 .06-2.8 .06-5.6 .06 .7 .06 10.6 .06-13.5 .06-1.1 .06 5.1 .06 7 .06-3.7 .06-8 .06 8.5 .06-3.9 .06-4 .06 2.3 .06 1.4 .06 1.3 .06-1.8 .06 2 .06 16.8 .06-25.8 .06 11.7 .06 4.2 .06-8.5 .06 1.5 .06 2.6 .06 1.7 .06-1 .06-1.7 .06-3.5 .06 13 .06-19.1 .06 6.1 .06 1 .06-2 .06-5.3 .06 1.5 .06 2.9 .06-5.2 .06 18.3 .06-5.9 .06-.7 .06-6.4 .06 .3 .06 5 .06-7.2 .06 4.5 .06 5.7 .06-5 .06 7.6 .06-12.7 .06 2.2 .06 6 .06-4.6 .06-.6 .06 1.2 .06-4.1 .06-.7 .06 13.1 .06-6.2 .06-4.3 .06 10 .06-10.1 .06 20.2 .06-16.3 .06-1.6 .06-5.7 .06 4.9 .06-3.6 .06 3.5 .06 7.1 .06-10 .06 1.3 .06 4.4 .06 2.4 .06-.3 .06-8.3 .06-1.9 .06 .3 .06 3.4 .06 3.4 .06-7.8 .06 6.5 .06 2.4 .06 5.9 .06-.8 .06-10.1 .06 5.4 .06 7.9 .06-15.8 .06 6.8 .06 5.8 .06-9.3 .06 10.1 .06-2.2 .06 .8 .06-1.4 .06 2 .06 0 .06-16.3 .06 7.1 .06 3.1 .06 1.8 .06 5 .06-10 .06-3.6 .06 5.9 .06 1.1 .06 2.8 .06-6.1 .06 .1 .06 .8 .06-2 .06 6.7 .06 1.2 .06-9.3 .06 2.5 .06-.3 .06 9 .06-10 .06-1 .06 5.3 .06 3.4 .06-5.1 .06 5.8 .06-.6 .06-7.7 .06 5.9 .06 9.2 .06-11.4 .06-.4 .06 3.9 .06 2.2 .06-3.8 .06 2.9 .06-7 .06-3.9 .06 7.1 .06-4.7 .06 5.9 .06-7.2 .06 6.3 .06 3.1 .06 4.7 .06-9.5 .06-2.5 .06-2.4 .06 1.5 .06 3.3 .06-5.9 .06 10.4 .06-7 .06 5 .06 .1 .06-6.7 .06-.9 .06 9.9 .06-10.2 .06 .4 .06 8.6 .06-3.7 .06 8.7 .06 7.4 .06-16.9 .06 2.3 .06 1.5 .06-4 .06 6.2 .06-5.5 .06-4.3 .06-2.3 .06 8.6 .06 4 .06-3.1 .06-2.3 .06-1.1 .06 9.1 .06-13.3 .06-.7 .06 5.5 .06 3.2 .06-2.2 .06-6.1 .06 2.4 .06 1.1 .06 12.1 .06-5.9 .06-1.5 .06 6.1 .06-16.7 .06 10.1 .06-4.4 .06 1.1 .06 4.8 .06-2.4 .06 5 .06-8.3 .06 14.1 .06-2.7 .06 3.9 .06-7 .06-10.2 .06 4.6 .06 .6 .06-2.1 .06 4.6 .06 2.2 .06-9.6 .06 12.3 .06-3.6 .06-10.2 .06 2.1 .06 3.1 .06 11.5 .06-15.4 .06 5.1 .06-1.7 .06 3.8 .06-4.6 .06 6.7 .06-7.8 .06-6.7 .06 11.2 .06 8.8 .06-8.1 .06 1.9 .06-6.8 .06 3.6 .06-2.8 .06 3.3 .06 1.7 .06-3 .06-3.3 .06 15 .06-17.7 .06 10.3 .06 7.4 .06-18 .06-2.4 .06 3.8 .06 3.7 .06-2.1 .06 3.4 .06 .8 .06 4 .06-7.9 .06 3.4 .06 5.4 .06-1 .06-6.6 .06 7.7 .06-12.9 .06-1.7 .06 6.8 .06-7.2 .06 7.3 .06 5.8 .06 11.9 .06-10 .06-11.8 .06 11.9 .06-4.5 .06-4.9 .06 4.9 .06-2.6 .06-2.6 .06 4 .06-1.3 .06 3 .06 5.6 .06-9.5 .06 .6 .06 4.4 .06-3 .06 1.8 .06-5 .06-5.2 .06 4.4 .06 4.2 .06-10.8 .06 16.8 .06-6.6 .06 7.5 .06-5.5 .06-6.7 .06 .2 .06 4.4 .06 5.5 .06-7.2 .06 8.4 .06-5.5 .06 2.4 .06-8.5 .06 .8 .06 5.9 .06 4.4 .06 2.5 .06 6.2 .06-14.4 .06-8.4 .06 8.6 .06 2.5 .06-2.7 .06-2.2 .06 6.2 .06 2.2 .06 14.3 .06-20.5 .06 2.4 .06 1.4 .06-4.6 .06 3.5 .06-4.1 .06-2.9 .06 2.8 .06 .7 .06-4.6 .06 4.1 .06 4 .06-4.9 .06 7.3 .06 1.1 .06 3.6 .06-10 .06 6.5 .06-4.2 .06-.5 .06 1.1 .06-5.7 .06 0 .06 6.4 .06-8 .06 16.6 .06-16.1 .06 5.2 .06-4 .06-3.2 .06 2.2 .06 19.7 .06-18.6 .06 14.9 .06-12.4 .06-.4 .06-3.4 .06 11.9 .06-7.8 .06-.2 .06 .9 .06 12.7 .06-6.1 .06-3.4 .06-7.9 .06 8.3 .06-.4 .06 10.4 .06-16.8 .06 2.7 .06 2.4 .06-2.5 .06 8.5 .06-13.1 .06 6.3 .06-8.5 .06 2.6 .06 .5 .06 20 .06-15.2 .06-2.2 .06-.6 .06 6.6 .06-4.8 .06 6.4 .06-2.9 .06-6.9 .06 16 .06-15.3 .06 1.4 .06 5.4 .06-16.2 .06 20.7 .06-10.3 .06 3.8 .06-8.9 .06 9.3 .06 .6 .06-6.6 .06 5 .06 3.4 .06-12.3 .06 1.4 .06 5 .06-.5 .06-.8 .06 5 .06-4.5 .06 2.5 .06 .1 .06-.7 .06 1.4 .06-6.2 .06 2 .06-.6 .06 5.6 .06 3.6 .06-13.9 .06 9.3 .06 .3 .06-2.9 .06-2.7 .06 6.4 .06-4.4 .06 4.6 .06 1.5 .06-7.6 .06-2.9 .06 15 .06 1.5 .06-8.4 .06-1.3 .06 .3 .06 11.5 .06-16.5 .06 10.7 .06-6.2 .06 3.5 .06-4.8 .06 1.8 .06-1.7 .06-.3 .06 3.4 .06 3.9 .06 3.8 .06-1.7 .06-6.4 .06-3.5 .06 1.4 .06-.8 .06 3.3 .06 2.4 .06-9.9 .06-1.5 .06 4.5 .06 3.9 .06-8.4 .06 7.6 .06-5.3 .06 17.4 .06-.9 .06-15.9 .06 8.3 .06-7.2 .06 6.1 .06 7.3 .06-10.9 .06 1.1 .06 2.5 .06 .6 .06-5.3 .06 2 .06 3.2 .06-6.1 .06 5.6 .06-1.9 .06 3.6 .06-4.3 .06-11.1 .06 8 .06-8.1 .06 13.1 .06-7.3 .06 11.1 .06-8.8 .06 4.5 .06-2.1 .06 .1 .06-1.7 .06 8.4 .06-9.6 .06 9.6 .06-7.7 .06 6.8 .06-7.6 .06 2.8 .06 1.4 .06-6.2 .06-1.2 .06 3.4 .06 4.9 .06-3.7 .06 6.5 .06-2.7 .06-2.3 .06 .7 .06 5.4 .06-11.8 .06 4.2 .06-1.9 .06 6.5 .06-5.5 .06 15.2 .06-14.1 .06 4.1 .06 8.4 .06-12.1 .06 1.1 .06 4.6 .06 4.5 .06-15 .06 8.1 .06 5.1 .06-.2 .06-4.5 .06-3.1 .06-3.6 .06 3.9 .06 1.2 .06-4.9 .06 12.9 .06-11.2 .06 1.9 .06 .2 .06-1.7 .06 1.8 .06-3.9 .06-.8 .06-.9 .06 4.9 .06 7.2 .06-.9 .06-12.4 .06 17.2 .06-8.4 .06-2.2 .06-3.4 .06 6.4 .06 3.4 .06 4 .06-18.7 .06 11.8 .06 2.2 .06-10.5 .06 4.9 .06-1.6 .06 2.8 .06-1.9 .06-6.3 .06 16.5 .06-12 .06 3.7 .06-6.3 .06 4.9 .06-6.6 .06 9.1 .06-2.4 .06-9.8 .06 11.6 .06 3.6 .06-1.4 .06-5.8 .06 7.2 .06-4.6 .06-.8 .06-.5 .06-5.2 .06 5.9 .06 18.5 .06-18.9 .06 1.2 .06-4.3 .06 6.1 .06-5.8 .06 3.9 .06-2.9 .06 14 .06-10.8 .06 1.2 .06-1.5 .06 3.7 .06-4 .06-3.9 .06 .8 .06 3.3 .06-12.6 .06 28.2 .06-18.9 .06 5.6 .06-10.9 .06 11.7 .06-.7 .06-2.8 .06-1.4 .06-5.7 .06 16.4 .06-4.7 .06-6.1 .06 .5 .06 8 .06-9.1 .06 .5 .06-1.8 .06 10.5 .06-11.4 .06 .3 .06 .6 .06 4.4 .06-7.3 .06 12.4 .06-12.7 .06-2.2 .06 6.8 .06 4.6 .06-2.9 .06-2.4 .06 8.5 .06-9.1 .06 2.1 .06 5.4 .06-12.1 .06 1.4 .06 3.2 .06 3.9 .06-5.8 .06 9.8 .06-3.3 .06-1.1 .06 10.4 .06-8.9 .06 .6 .06-10.6 .06 1.6 .06 3.7 .06-1.3 .06 5.6 .06-6.6 .06 7.8 .06-4.4 .06 .5 .06 2.4 .06-.9 .06-3.1 .06 .5 .06-6.3 .06 7.5 .06-4.7 .06 1.6 .06-.4 .06 3.1 .06-7.6 .06 22.1 .06-18.1 .06 10.8 .06-12.2 .06 3.9 .06 3.5 .06 2.6 .06-6.9 .06-1.2 .06-1.2 .06 6.2 .06-3.3 .06 4.4 .06-10.8 .06 12.1 .06 3.4 .06-4.4 .06 .2 .06-2.1 .06-11.3 .06 10.6 .06 3.1 .06 1.9 .06-2.1 .06 .9 .06-5.3 .06 16.6 .06-18.6 .06 10.1 .06-9 .06 5.1 .06-.2 .06-6.4 .06 2.2 .06 6.8 .06-6.4 .06-5.1 .06 9 .06-3.2 .06-3.2 .06-2.4 .06 14.9 .06-8.4 .06 6.9 .06-6.6 .06 9.4 .06-9.1 .06-7.9 .06 11.1 .06-9.6 .06 .9 .06 1.5 .06 3.5 .06 13.6 .06-17.3 .06 6.4 .06-6.2 .06 5.7 .06-2.9 .06 2.2 .06-4.7 .06 7.4 .06-4.5 .06 1 .06-3.6 .06-.8 .06-3.8 .06 12.7 .06-11.8 .06 .9 .06 2.4 .06 2.7 .06-3.7 .06 8.9 .06-1.8 .06-6 .06 .6 .06 3.1 .06 1.8 .06 15.1 .06-12.6 .06 1 .06-4 .06 2.9 .06-5.3 .06 5.5 .06-5 .06 11.6 .06-10.2 .06 10.4 .06-8.1 .06 10.6 .06-20.2 .06 5.6 .06-5.8 .06 14.9 .06-5.1 .06-7.4 .06 9.5 .06-10.5 .06 1.3 .06 6.1 .06 2.1 .06 3.7 .06-9.8 .06-2.5 .06 4.1 .06 5.4 .06-4.8 .06-3.9 .06 7 .06-9.6 .06 4.2 .06 12.6 .06-10.8 .06-3.5 .06 8.8 .06 2.9 .06-3.4 .06 7.7 .06-1.8 .06-13.9 .06 8 .06-5.5 .06-5.5 .06-2.5 .06 18.3 .06-10.8 .06 7.8 .06-4 .06-7.8 .06 16.9 .06-19.5 .06 2 .06 9.9 .06-12.4 .06 5.6 .06 1.6 .06-1.4 .06 11.6 .06-11.3 .06-4.5 .06 .7 .06 .9 .06 8.6 .06-4.9 .06-3.2 .06 .8 .06-.7 .06 8.8 .06-2.6 .06 8.8 .06-4.1 .06-2.6 .06 1.2 .06-11.8 .06 3 .06 5.9 .06-.2 .06-.4 .06-4.3 .06 0 .06 5.7 .06 .9 .06-3.4 .06 12.4 .06-13.3 .06-.8 .06 5.2 .06 4.6 .06-8.7 .06-8.5 .06 7.9 .06-.7 .06 6.5 .06-2 .06-1 .06 12.9 .06-8.5 .06-16.8 .06 11.6 .06-.2 .06-7.9 .06 7.3 .06-4.6 .06 3.8 .06-1.4 .06 8.9 .06-7.3 .06-2.9 .06 1.4 .06 6.5 .06-7.7 .06 12.2 .06-3.5 .06-11.7 .06 15.2 .06-14.4 .06 7.4 .06-3.9 .06-3.5 .06-6.3 .06 10.6 .06 2.3 .06 5.4 .06-3.8 .06-7.8 .06 3.2 .06 1.5 .06-6.1 .06 6.2 .06-1.7 .06 .3 .06 2.4 .06-.5 .06-6.3 .06 1.3 .06 .3 .06 5.2 .06 2.2 .06-4.1 .06-7.9 .06 7.3 .06 5.6 .06-6.1 .06-5.4 .06 16 .06-14 .06 1.9 .06 7.6 .06-7.3 .06 11.4 .06-13.2 .06 2.8 .06 15.8 .06-9.1 .06 2.4 .06-8.3 .06 8.3 .06-11.6 .06-1.5 .06 .8 .06 9.5 .06-8 .06 15.7 .06-13.6 .06 1.9 .06-5.6 .06 4.3 .06-.3 .06 1.9 .06 6 .06-5.5 .06 9.4 .06-9.2 .06-3.3 .06-.9 .06-1.4 .06 5.2 .06-.5 .06-1.5 .06 .3 .06-2.1 .06 8.2 .06-8 .06-.2 .06 .5 .06 6.5 .06-.2 .06-2.9 .06-1.3 .06-3.1 .06 2.7 .06 .3 .06-7.3 .06 8.2 .06-1.4 .06-.7 .06 .5 .06 1.3 .06-.3 .06-1.7 .06-.5 .06 7 .06 1.5 .06-4.4 .06-3.8 .06-3.9 .06 8.1 .06 1.4 .06-8.4 .06 2.5 .06 17.2 .06-11.8 .06-2.1 .06 3.3 .06-7.3 .06 3.4 .06-2.9 .06 4.3 .06-5.1 .06 5.3 .06-3.5 .06-5.7 .06 14.6 .06-3.5 .06-8.9 .06 15.7 .06-12.9 .06 10.8 .06-5.2 .06 4 .06 5.6 .06-17.9 .06 8.1 .06-4.2 .06-.6 .06 1 .06-4.6 .06 1.1 .06 16.5 .06-13.1 .06 6.6 .06 .4 .06-5.8 .06-1.9 .06 1.6 .06-6.9 .06 2.9" fill="none" stroke="#3b7cc4" stroke-width="1" stroke-linejoin="round"/>
<path d="M424.1 334.1l.06 23.5 .06-4.8 .06 .1 .06-.6 .06 0 .06 15 .06-12.7 .06 2.9 .06 .7 .06-7 .06 10.5 .06-1.6 .06-8.5 .06 3 .06 2.9 .06 0 .06-2 .06-3.1 .06-5.6 .06 13.9 .06-.8 .06 1.5 .06-8.4 .06 9.1 .06 3.8 .06-10.6 .06-7.3 .06 4.4 .06 1 .06 3 .06-2.6 .06 1.8 .06-.8 .06-3.5 .06 5 .06 3.2 .06-8.8 .06 2.1 .06-7.7 .06 6.6 .06-1.2 .06 5.3 .06 6.5 .06-10.1 .06 12.4 .06-.9 .06-6.3 .06-9.9 .06 10.2 .06-3.7 .06 4.8 .06-2.2 .06 3.9 .06-.4 .06-3.3 .06-6 .06 9.3 .06-1.9 .06-9.6 .06 9.6 .06-1.4 .06-5 .06 6.4 .06-2.9 .06-2.1 .06-.4 .06-3.6 .06 2.1 .06 5 .06 .9 .06 2.4 .06-5.3 .06 .6 .06-1.1 .06 7.1 .06-10.6 .06-.7 .06 13.3 .06-8.2 .06 4.4 .06-13.1 .06 1.6 .06 5.7 .06-2.8 .06 7.4 .06 5.3 .06-12.6 .06 1.5 .06 7.9 .06-1 .06 1.5 .06 5.9 .06-8.1 .06-10.9 .06 2.4 .06 3.7 .06-4.7 .06 6.6 .06-.9 .06-3.2 .06 4 .06 1.3 .06 3.3 .06-6.8 .06 3 .06-.7 .06-2.2 .06-1.9 .06 3.1 .06-11 .06 12.1 .06-1 .06 2.5 .06-1.1 .06-8.2 .06 8.7 .06-4.9 .06 6.2 .06-4.8 .06 2.7 .06 1.9 .06-2.7 .06-7.3 .06 4.4 .06-2.6 .06-.3 .06 6.1 .06-.7 .06 .8 .06 4.9 .06-2 .06-8 .06-.4 .06 2.1 .06 .8 .06 22.9 .06-16.6 .06 4.1 .06-6.3 .06 .1 .06-6 .06-1.7 .06 7.8 .06-3.1 .06 10.5 .06-13.2 .06-4.7 .06 3.5 .06 2.4 .06-2.6 .06 7.3 .06-1.3 .06-2.2 .06 4.1 .06 7.6 .06-12.4 .06 7.8 .06 8.5 .06-18.9 .06 .2 .06 .3 .06 4.5 .06 9.3 .06-14.4 .06 8.9 .06 7.9 .06-13.9 .06-3.9 .06 1.8 .06 5.5 .06 6.4 .06-6 .06 .7 .06-7.1 .06 2.3 .06 .6 .06-1.7 .06 .2 .06-.6 .06 7 .06-5 .06 6.4 .06-6 .06 1.3 .06 12 .06-17.6 .06 6.5 .06 2.1 .06-3.3 .06 3.5 .06-3.9 .06 4.2 .06-7.4 .06 .9 .06 5.9 .06-6.4 .06 3.4 .06 .5 .06 3.1 .06-9.9 .06 14.4 .06-12.1 .06 4.2 .06 8.3 .06-8 .06-4.2 .06 7 .06-6.3 .06 1.8 .06-.4 .06-2.2 .06 1.9 .06-3.3 .06 9.1 .06-.9 .06 4.4 .06-3.9 .06-1.3 .06-7.4 .06 11.6 .06-5.1 .06-9.2 .06 9.9 .06-1.8 .06 5.2 .06-11 .06 2.7 .06 8.7 .06-14.6 .06 7.3 .06 6.6 .06-4 .06-3.4 .06 1.9 .06-2.4 .06 10.4 .06 5.6 .06-18.8 .06 4.1 .06-3.1 .06 10 .06 3 .06-9.5 .06-2.5 .06 12 .06-3.6 .06-11.5 .06 1.4 .06 11.6 .06-3.3 .06-1.3 .06-2.7 .06 4.7 .06 1.2 .06-7.9 .06-2.3 .06 3 .06 7 .06-1.8 .06 2.4 .06-10.2 .06 17.1 .06-11.4 .06-9.5 .06 1.6 .06 3.7 .06 3.9 .06-1.4 .06-3.3 .06-2.1 .06 5.5 .06 4.2 .06-8.5 .06 9.8 .06-5.3 .06 9.4 .06-3.4 .06-4.7 .06 4.3 .06-1.8 .06-1.7 .06-2.8 .06 3.6 .06 6.4 .06-5.9 .06-8 .06 8.1 .06 .1 .06-2.9 .06-7.8 .06 7.3 .06-.8 .06-6 .06 6.9 .06-3.7 .06 1.2 .06 2.8 .06 2.6 .06-9.8 .06 3.7 .06-4 .06 11.5 .06-1.8 .06 7.6 .06-14.9 .06 14.7 .06-5.4 .06-10.4 .06 6.3 .06-6.6 .06 13.1 .06-.1 .06-11.5 .06 5.8 .06-2.9 .06 2.6 .06 4.3 .06-5.1 .06-4.3 .06 11.9 .06-9.3 .06-2.7 .06 2.2 .06 2.2 .06 9.7 .06-11.6 .06 2.1 .06 7.7 .06-10.4 .06 2 .06-.3 .06 10 .06-13.4 .06 1 .06 3.8 .06 3.3 .06-6.9 .06 9.6 .06-9.4 .06 7.5 .06-9 .06 8.1 .06-.3 .06-3 .06-4.5 .06 18.4 .06-20.5 .06 2.3 .06 10.6 .06-.6 .06-7.8 .06 12.2 .06-10.6 .06-4.5 .06 2.9 .06 6.7 .06-5.5 .06 2.7 .06-5.3 .06-1.4 .06 7.4 .06-7.2 .06 4.3 .06 .6 .06 4.7 .06-1.1 .06 .7 .06-8.9 .06 3.7 .06 .9 .06-.5 .06-3.3 .06-3.8 .06 2.4 .06 2.5 .06 1.1 .06-3 .06 4.9 .06-3.7 .06 5 .06 1.1 .06-8 .06 3 .06 .6 .06 9 .06-3.4 .06-2.2 .06-2 .06 3.2 .06-5.3 .06 5.2 .06-2.1 .06 5.4 .06-9.4 .06 5.7 .06-7 .06 .8 .06 7.4 .06-1.3 .06-6.1 .06 8.2 .06-5.3 .06 1.4 .06 6 .06-4.7 .06 6.8 .06 1.8 .06-12.8 .06 11.1 .06-6 .06-4.7 .06 1.7 .06-3.8 .06 2.1 .06-2.4 .06 17.9 .06-7.3 .06-12.9 .06 3.9 .06 6.5 .06-11.9 .06 6.6 .06 3.8 .06-1.9 .06-2.6 .06 8.5 .06-9 .06 10 .06 .2 .06-13.1 .06 5.5 .06 6 .06-1.1 .06 1 .06-8.5 .06 3.8 .06-7.5 .06 3.2 .06-.4 .06 9.1 .06-9.3 .06 .3 .06 2.7 .06 4.7 .06-4.5 .06 5.4 .06-10.8 .06 5.5 .06 1.3 .06 5.2 .06-6.9 .06-6.2 .06 1.2 .06 2.4 .06 8.6 .06-4 .06 6.5 .06-10.7 .06 2.6 .06 1.3 .06 7 .06-10.1 .06-2.6 .06 3.8 .06 13 .06-9.3 .06 .8 .06 1.7 .06-1.3 .06-6.1 .06 .4 .06 5.7 .06 10.4 .06-18.8 .06 10 .06-6.7 .06 2.8 .06 8.6 .06-8.9 .06 2.9 .06-4.8 .06 4.1 .06 1.9 .06 0 .06-5.7 .06-3.9 .06 8 .06-.9 .06 10.6 .06-12 .06-2.5 .06 1.2 .06-4.6 .06 2.9 .06 9.1 .06-10.9 .06 15.3 .06-9.2 .06-1.3 .06-2.8 .06 8.6 .06-7.4 .06 1 .06-.8 .06-.2 .06 3.1 .06-6.5 .06 .9 .06-1.9 .06 4.1 .06 3.3 .06-4.3 .06 1.9 .06 7 .06-7.7 .06 22 .06-21.4 .06-7.9 .06 4.5 .06 18.3 .06-8.7 .06-5.6 .06 15.6 .06-10.8 .06 .6 .06-3.3 .06-10.8 .06 11.5 .06 6 .06-8.5 .06 4.5 .06-2.3 .06 0 .06-6.6 .06 12.1 .06-13.3 .06 10.1 .06-2.4 .06-2.7 .06 9.2 .06-10.7 .06 3.4 .06-10 .06 8.2 .06 3.8 .06-3.7 .06-6.3 .06-.5 .06 7.4 .06-6.6 .06 3.2 .06 8 .06-.9 .06-8.6 .06-.5 .06 2.8 .06-4 .06 4.3 .06 18.8 .06-8.8 .06-7.4 .06-4 .06 8.2 .06-5.7 .06 13.4 .06-7.3 .06-7 .06 13.4 .06-2.9 .06-8.4 .06-6.2 .06 3 .06-3.8 .06 7 .06-5.7 .06-.6 .06 8.5 .06-1.9 .06-6.8 .06 6.6 .06-1.4 .06-6.4 .06 9.8 .06-10.3 .06 10.4 .06 3.1 .06-7.6 .06 9.8 .06-8.9 .06 3.5 .06-3.7 .06-4.3 .06 4.8 .06 10.8 .06-9.5 .06-2.4 .06 3.8 .06-2.3 .06-6.2 .06 8.6 .06-.9 .06-3.9 .06 4.1 .06-4.3 .06 2.7 .06 .6 .06 2.2 .06-6.3 .06-1 .06 4.4 .06 8.9 .06-13.6 .06 3.6 .06 5.8 .06-2 .06 5.4 .06-5.7 .06 .3 .06-1.8 .06 7 .06-4.1 .06-6.3 .06 4.6 .06 2.6 .06-1.4 .06-2.9 .06-7.2 .06 3.7 .06 7.8 .06-6 .06 9.8 .06-8.6 .06-6.5 .06 5.3 .06 8.3 .06-7.6 .06-4.8 .06 10 .06-1.9 .06-6.6 .06 6.4 .06-2.2 .06 1.5 .06-8.3 .06 2.4 .06 .5 .06 1.6 .06 2.5 .06 2.3 .06-3.1 .06 10 .06-1.8 .06-12.4 .06 5 .06-.4 .06-.3 .06 5.3 .06-8.4 .06 9.6 .06-9.5 .06 3.1 .06-6.4 .06 2.8 .06 3 .06 6 .06-6.9 .06 .9 .06 5.6 .06-3.1 .06 2.8 .06-10.8 .06 .5 .06 1.5 .06 4.6 .06 1.7 .06 7.1 .06-9.5 .06 2.3 .06 .3 .06-8.1 .06 .6 .06 9.2 .06-11 .06 2.1 .06 4.7 .06 .4 .06-.7 .06 2.3 .06 5.1 .06 .1 .06-10.4 .06 4.9 .06-1.9 .06-1.5 .06-5.6 .06 2.2 .06 6.6 .06-4.7 .06 .2 .06-.2 .06-5.6 .06 23.4 .06-6.7 .06-1.8 .06-11 .06 8.4 .06 .1 .06-3.1 .06-4.7 .06 .1 .06 9.5 .06-9.3 .06-4.9 .06 3.6 .06 6.3 .06 9.9 .06-5.3 .06-2.1 .06-1.3 .06 2 .06-10 .06 3.6 .06 7.2 .06-6.5 .06 2.2 .06-2.2 .06 .8 .06 .8 .06 3.5 .06-7.7 .06 17.4 .06-17.8 .06 2.4 .06 1.6 .06-1.6 .06 4.9 .06-3.8 .06-4.4 .06 4.8 .06 5.8 .06-13.1 .06 19.6 .06-9.4 .06-2.7 .06 1.7 .06-4.8 .06-1.1 .06 5 .06 11.5 .06-6.6 .06-6.2 .06-8.1 .06 14.7 .06-3.6 .06-6.2 .06-.8 .06 2.1 .06 5.9 .06-2.7 .06-3.6 .06 1 .06-3.2 .06 2.7 .06 1.7 .06-3 .06 11.4 .06-8.3 .06 2.8 .06-5.3 .06 13.6 .06-4.3 .06-6.7 .06-3.6 .06 1.5 .06 4.2 .06 1.3 .06-3.7 .06-3.6 .06 10.7 .06-8.3 .06 1 .06 .2 .06 2.9 .06-2.6 .06 .5 .06-2.9 .06 1.7 .06-2.2 .06 7.4 .06-6.8 .06 8.9 .06-6.5 .06-1.2 .06-1 .06 4.8 .06 .9 .06-4 .06-8.8 .06 18.5 .06-7 .06 8.3 .06-6.3 .06 5.5 .06-2.2 .06-3.3 .06-.6 .06 .4 .06-.2 .06-10.7 .06 10.8 .06-8 .06 3.3 .06 13.1 .06-12.3 .06 1.3 .06-.2 .06-.9 .06 4.4 .06-6.6 .06 2.3 .06-4.7 .06 2 .06 5.4 .06-1.3 .06 3.9 .06-4.8 .06 1.9 .06 0 .06-12.1 .06 7.4 .06 1.2 .06 5.9 .06-9.1 .06 5.6 .06 8.5 .06-11.5 .06 .2 .06 4.4 .06-11 .06 9.8 .06-2.7 .06-4.4 .06 15.3 .06-8.4 .06 5.5 .06-7.2 .06 2.5 .06-8.1 .06 4.1 .06 4.9 .06-9 .06 11.5 .06-7.2 .06 2.4 .06-1.4 .06 12.3 .06-12.7 .06 7.4 .06-13.9 .06 17.4 .06-9.5 .06 8.8 .06-11.6 .06 2.9 .06-.7 .06 5.5 .06-5.2 .06-1.3 .06 .1 .06 5.7 .06 3.3 .06-5.3 .06-2.3 .06 6.7 .06-6.9 .06 2.2 .06 2.1 .06-7.7 .06-.2 .06 6.2 .06-1.7 .06-7.1 .06 4.6 .06 9.1 .06-11.3 .06 6.5 .06-.8 .06-3.3 .06-5.3 .06 .2 .06-.3 .06 5 .06 1.5 .06 4.8 .06-5.9 .06-4.4 .06 3.8 .06-.3 .06 10.1 .06-2.6 .06-.6 .06 3.4 .06-8.4 .06 5.8 .06-4.7 .06-4 .06-.3 .06 .5 .06 17.2 .06-6.1 .06-8 .06-6.7 .06 5.9 .06-1.7 .06 5.4 .06 .2 .06-1.8 .06 2.6 .06-2.7 .06-7.5 .06 .1 .06 7.3 .06 5 .06-3.8 .06-2.2 .06 3.3 .06-2.4 .06 1.4 .06 3 .06-2.3 .06-3.4 .06 2.7 .06 9.4 .06-11.3 .06 8.3 .06-13 .06 5.4 .06 2.1 .06-5.3 .06 .4 .06 6.5 .06-6.6 .06 13.4 .06-8.1 .06 4.3 .06-6.4 .06 1.9 .06-4.5 .06 7.1 .06-2.8 .06-7.1 .06 5.5 .06-5.5 .06 16.3 .06-10.6 .06-7.9 .06-1.3 .06 10.7 .06-2.6 .06 1.9 .06-4 .06 1.8 .06 1.2 .06-2.8 .06 6.4 .06-9.4 .06 9.6 .06-7.1 .06 11.3 .06-8 .06-5.2 .06 15.5 .06-10 .06-2.1 .06 5.3 .06-5.1 .06-2.4 .06 4.4 .06 3.3 .06-3.7 .06-6.9 .06 3.2 .06-2.9 .06 10.5 .06-2.4 .06-3.1 .06 1.1 .06-6.5 .06 14.5 .06-9.5 .06-.4 .06 1.6 .06-1.8 .06-6 .06 7.3 .06-2 .06-.8 .06-3 .06 6.4 .06 3.2 .06 3.6 .06-3 .06-1.1 .06-.7 .06-3.6 .06-4.1 .06 6.5 .06-9 .06 3.1 .06 2.6 .06 5.8 .06 1.5 .06-8.3 .06 8.4 .06-4.5 .06 6.7 .06-11.5 .06 .1 .06 5 .06 1.2 .06-6.1 .06 2.6 .06 6.8 .06-7.9 .06 8.4 .06 3 .06-10.6 .06 1.5 .06 4.2 .06-6.4 .06 6.5 .06-1.8 .06-2 .06 12.5 .06-14.3 .06-.6 .06 3.5 .06 12.6 .06-10.3 .06-.3 .06-3.8 .06-1 .06-.2 .06-4.3 .06 10.8 .06-2.5 .06-4.1 .06 5.8 .06-2.4 .06 20.6 .06-23.8 .06-3.8 .06 2.9 .06-.4 .06 2.6 .06 9.8 .06-1.4 .06-1.4 .06-7.8 .06 1.5 .06 2.4 .06-3.8 .06 4.3 .06-5.4 .06 1.7 .06 4.1 .06-5.1 .06 19.4 .06-13.9 .06 1 .06-3.4 .06-.9 .06 10.1 .06-14.7 .06 13.8 .06-9.4 .06 2.3 .06-6.6 .06 6.3 .06-3.1 .06-5.8 .06 14.4 .06-9.3 .06 8 .06-13.5 .06 11.6 .06 1.8 .06 3.8 .06-9 .06 4.9 .06-15.3 .06 10.3 .06-1.5 .06 .2 .06-1 .06-3.4 .06 11.3 .06-9.5 .06 .6 .06 1.3 .06-1.5 .06-2.1 .06 4.6 .06 6.8 .06-1.7 .06-11.4 .06 9.3 .06 .1 .06-6.5 .06 3.8 .06 5.2 .06-4.8 .06-.5 .06 1 .06-8.4 .06 1.2 .06 12.3 .06-5.5 .06-6.3 .06 10.7 .06-4.8 .06-1.8 .06 11.5 .06-6.8 .06-2.1 .06-9.7 .06 4.9 .06-4.9 .06 5.1 .06 3.1 .06-2.4 .06 1.6 .06-3.6 .06 1.9 .06-.1 .06 15.8 .06-12.6 .06-4.3 .06-2.8 .06 12.9 .06-6 .06 .7 .06 3.5 .06 4.6 .06-1.8 .06-6.7 .06-5.1 .06-1.9 .06 6.3 .06-.5 .06-1.4 .06 .6 .06 2.1 .06 2.4 .06-2.5 .06 1.3 .06 .8 .06-9.2 .06 2.9 .06 10.9 .06 3.2 .06-14.6 .06 4.9 .06 4.2 .06-8.4 .06 8 .06 2.4 .06-12.5 .06 15.4 .06-6 .06-3.4 .06 7 .06-4.6 .06-2.8 .06-.6 .06 2.4 .06 11.8 .06-13.3 .06 4 .06 1.1 .06-5.6 .06 6.3 .06-1.6 .06-11.5 .06 5.3 .06-.4 .06 9.4 .06-16.1 .06 9 .06-7.1 .06 3.7 .06 17.1 .06-16.3 .06 3.1 .06-1.7 .06-1.3 .06 2.2 .06-2 .06-.1 .06 7.7 .06-7.6 .06-3.4 .06 1.9 .06 3.8 .06 2.7 .06-8.1 .06 4.1 .06-1 .06 1.5 .06-1 .06-3.4 .06 8.4 .06-4.3 .06-.6 .06 5.7 .06-4.5 .06-1.5 .06 3.6 .06-1.4 .06-4.4 .06 1.4 .06 1.3 .06-4.4 .06 5 .06 3.5 .06-5.7 .06-1.2 .06-4.6 .06 7.9 .06 0 .06 .7 .06 9.5 .06-5.4 .06-1.2 .06-5.3 .06 1.1 .06 6 .06-.1 .06 1.4 .06-9 .06 10.6 .06 3.3 .06-10.8 .06 4 .06-8.6 .06 10.6 .06-1.4 .06-9.1 .06 4.7 .06 7.5 .06-3.7 .06-5.1 .06 4.4 .06-9.9 .06 7.1 .06-7.6 .06 19.6 .06-9.4 .06 5.4 .06 6 .06-10.9 .06-2.6 .06 .4 .06-5.3 .06 16.5 .06-11.9 .06 2.4 .06 .4 .06-1.6 .06 1.1 .06-4 .06 1.3 .06-6.9 .06 9 .06-3.2 .06 7.5 .06-3.3 .06-14.1 .06 14.2 .06-8.3 .06 10.9 .06-5.2 .06-.9 .06 3.9 .06-4.5 .06 3.3 .06-2.5 .06 6.8 .06-9.8 .06 7.8 .06-10.2 .06 7.2 .06-4 .06 13.4 .06-6.7 .06-.5 .06-3.4 .06-10.2 .06 5.4 .06 6.3 .06-3.3 .06 6.8 .06-8.1 .06-10 .06 15.9 .06-6.2 .06 1.2 .06-4.7 .06 1.5 .06 10 .06-8.8 .06-2.8 .06 0 .06 10.8 .06-.8 .06 7.2 .06-12.9 .06 15.4 .06 1.9 .06-7.6 .06-9.3 .06 .7 .06-4.2 .06 2.1 .06 4.8 .06 2.9 .06-.8 .06-4.3 .06-4.1 .06 8.1 .06 4.5 .06-2.8 .06-6.4 .06 4.1 .06 4.1 .06-6.5 .06 3.7 .06-6.5 .06 2.3 .06 11.9 .06-8.3 .06 7.7 .06-11.1 .06 2.9 .06-5.8 .06 1.5 .06-3.4 .06 2.1 .06-1.4 .06 2.7 .06 2.7 .06 .8 .06-1.6 .06 2.4 .06-1.6 .06-4.1 .06 9.5 .06-14.4 .06 17.4 .06-14.7 .06 10.1 .06-3.5 .06-8.9 .06 12.2 .06 6.1 .06-1.3 .06-8 .06-7.4 .06 2.2 .06 2.8 .06 7.6 .06-11.6 .06 4.8 .06 2 .06-.5 .06-6.3 .06 7.4 .06 2.3 .06-10.5 .06-3.9 .06 17.3 .06-9.4 .06 3.2 .06-11.5 .06 9.2 .06 .2 .06 5.8 .06-5.7 .06 .7 .06 10.5 .06-12.6 .06 5.4 .06 2 .06-4.3 .06 .3 .06 2.5 .06-6.4 .06 .5 .06-1.5 .06 4.9 .06-2.7 .06 5.4 .06 .5 .06-5 .06 .6 .06-.4 .06-7.2 .06 3.8 .06 21.9 .06-11.8 .06-8.6 .06-.2 .06 3.3 .06-3.9 .06-1.4 .06 6.1 .06-4.4 .06 18.9 .06-12.2 .06-1.8 .06-3.4 .06-4.6 .06 1.9 .06 2.1 .06-1.5 .06 .5 .06-.3 .06-2 .06-.4 .06 5 .06 .7 .06 .3 .06-5.8 .06 1.6 .06 1.7 .06 3.4 .06 3 .06-2.1 .06 2.8 .06-10.8 .06-1.9 .06 2.9 .06 7.2 .06-5.7 .06-1.1 .06 6.8 .06 8.2 .06-15.5 .06-2.8 .06 13.4 .06-4.8 .06 2.5 .06-3.9 .06-3.7 .06 5.1 .06-6.2 .06 11.5 .06-4.1 .06 6.9 .06-13.3 .06 12.7 .06-8.6 .06-2 .06 10.2 .06-9.9 .06-1.3 .06 .6 .06 3.2 .06 3.4 .06-.1 .06-8.3 .06 5.8 .06 5.4 .06-10.1 .06 4.8 .06-10.1 .06 8.8 .06-.7 .06 16 .06-11.6 .06 5.7 .06-2 .06-11.3 .06 12 .06-4.1 .06 .3 .06-2.6 .06-1.4 .06-8.4 .06 8.7 .06-4.7 .06 3.8 .06-2.1 .06 4.8 .06 8.8 .06-13.2 .06 11 .06 3.4 .06-20.7 .06 1.2 .06 11.3 .06-5.7 .06-4.4 .06 4.6 .06-3.1 .06 .2 .06 12.7 .06-7.3 .06-5.2 .06 2.5 .06-5.2 .06 11.1 .06-7.3 .06 2.4 .06 7.7 .06-18.5 .06 14 .06-5.8 .06 15.7 .06-9.1 .06 0 .06 2.8 .06-15 .06 6.9 .06 8.8 .06-6.7 .06-1.5 .06 18 .06-23.9 .06 14.4 .06-8.1 .06 12.1 .06-11 .06 5.2 .06-5.4 .06-7.9 .06 5 .06-3.8 .06 1 .06 5.3 .06-2 .06-3.3 .06 5.4 .06 0 .06-3.4 .06 9.2 .06-3.1 .06-1 .06-.1 .06-2.6 .06 4.1 .06 17 .06-21.1 .06-.9 .06 4.9 .06-1.4 .06-5.7 .06-3.3 .06 10.1 .06 2.9 .06-13.3 .06 9 .06-4.9 .06 5.8 .06-1.6 .06-3.5 .06 12.5 .06-13 .06 0 .06 5.7 .06-1.1 .06-3 .06-3.6 .06 4.6 .06 .9 .06-2.8 .06 3.6 .06 3.4 .06-4 .06-5.3 .06 7.9 .06-5.3 .06 2.9 .06 2.5 .06 7 .06-17.1 .06 10 .06 5.2 .06-13.2 .06 4 .06-.1 .06 2.5 .06-2 .06-2.9 .06 .4 .06 5.5 .06-9.9 .06 11.6 .06 0 .06-2.9 .06 .4 .06-2.5 .06 9.1 .06-10.7 .06 15.8 .06-.9 .06-9.1 .06-7.2 .06 5.4 .06-12.6 .06 9 .06-1.2 .06 1 .06 1.8 .06 7.1 .06-10.2 .06 18.8 .06-15.7 .06 .5 .06-4.2 .06-1.1 .06 7.3 .06-4.7 .06 3.2 .06 6.7 .06-11.8 .06 3.8 .06 10.6 .06-6.5 .06-3.5 .06 1.1 .06-3.2 .06-1.1 .06 4.9 .06 10.3 .06-14.8 .06 3.4 .06 7 .06-3.8 .06 14.3 .06-13.7 .06-9.2 .06 7.2 .06-5.6 .06 2.6 .06 .3 .06 2.3 .06-2.5 .06-2.8 .06 5.5 .06-11.9 .06 8.4 .06 2 .06 3.1 .06-10.1 .06 4.4 .06 5.1 .06-6.6 .06 6.3 .06-4.2 .06-1.9 .06 .7 .06 3.8 .06-4.9 .06 6.5 .06-6.1 .06 .8 .06 5.9 .06-1.7 .06 3.9 .06-8.5 .06 .6 .06 5.8 .06-4.6 .06 8.4 .06-10.1 .06-3.5 .06 6.9 .06 4.6 .06-4.8 .06 9.1 .06-3.2 .06-12.5 .06 10.9 .06-8 .06 6.5 .06 3.6 .06-6 .06 6.7 .06 1.2 .06-4.6 .06 5.2 .06-11 .06 2.2 .06-1.5 .06 2 .06-6.9 .06 14.8 .06-17.3 .06 15.6 .06-3.7 .06-5.2 .06 2.4 .06 1.4 .06-5.4 .06 3.1 .06 2.2 .06-8.6 .06-1.6 .06 11 .06-.5 .06-5.1 .06 3.6 .06 0 .06 1.4 .06-5.4 .06 2.1 .06-5.9 .06 6 .06 6.4 .06-9.1 .06 3.8 .06 5.1 .06-1.2 .06 8.7 .06-7 .06-7.5 .06-1.6 .06-2.6 .06 3 .06 6.8 .06-2.1 .06-2 .06 1.3 .06 7.5 .06-4.8 .06-4.2 .06 6.2 .06 .2 .06-13.1 .06 4.3 .06 2.7 .06 5.4 .06-2.1 .06 1.9 .06 7.2 .06-12.1 .06-1.7 .06 9.7 .06-13.3 .06 14.5 .06-8.5 .06 4.6 .06 .9 .06-2.9 .06-5.3 .06 10.5 .06-11.9 .06 6.7 .06-9.4 .06 7.6 .06 20.1 .06-8.8 .06-2.3 .06-6.9 .06-8.5 .06 7.8 .06 .5 .06-10.2 .06 12.6 .06 .3 .06 3.4 .06-10 .06 1.8 .06 4.7 .06-7.4 .06 7.8 .06 1.6 .06-2.1 .06-3.9 .06-5.4 .06 8.7 .06-8.3 .06 11 .06-14.6 .06 8.9 .06 5.7 .06-6 .06-6 .06 7 .06 8.4 .06-2.9 .06-3.3 .06-11 .06 4.5 .06-2.7 .06 0 .06 11 .06-11.1 .06 6.2 .06-7.8 .06 2.4 .06 9.5 .06-5 .06-5.2 .06 8.1 .06-1 .06 4.2 .06-2.6 .06-1.6 .06 2.5 .06 2.8 .06-12 .06 8.3 .06-6.5 .06 3.2 .06-5.2 .06 13.4 .06-1.3 .06 .2 .06-6.4 .06-2 .06 4.3 .06-1.8 .06-5 .06 15.6 .06-15.7 .06 4.6 .06 3.7 .06-4.1 .06 0 .06 4 .06-5.4 .06 8.3 .06-10.1 .06 8.8 .06-3.8 .06 .5 .06 7.2 .06-17.5 .06-.8 .06 7.9 .06 4.7 .06-6.6 .06 .5 .06 8.7 .06-8.4 .06-2.6 .06 7.4 .06 .4 .06-5.5 .06 1.3 .06-4.4 .06 8.5 .06-13.6 .06 4.4 .06 7 .06-4.1 .06 2.1 .06-4 .06 6.3 .06-1.6 .06 4.6 .06-3.9 .06 1.4 .06 5.9 .06-6.6 .06-.8 .06-2.7 .06 3.8 .06-3.9 .06-.6 .06 12.3 .06-12.5 .06 3.8 .06-4.1 .06 9.6 .06-1.2 .06-6.2 .06 5 .06-12 .06 10.6 .06-1.7 .06 5.8 .06-9.8 .06 11.5 .06-14.9 .06 2.7 .06 14.2 .06-12.3 .06-.9 .06-3.8 .06-3.4 .06 21.5 .06-6.4 .06-5.7 .06 5.4 .06-5 .06 5.8 .06-10.3 .06 7.8 .06-5.1 .06 .5 .06 3.6 .06 0 .06-.9 .06 1 .06-3.5 .06-2.4 .06-1 .06 5.6 .06-4.7 .06 9.2 .06-7 .06 .4 .06 5.3 .06 6.9 .06-6.1 .06-9.4 .06 4.4 .06-.5 .06 7.3 .06-8.9 .06-5.3 .06 4.6 .06 9.2 .06 1.1 .06-4.4 .06-9.2 .06 5.6 .06-5.1 .06 12.7 .06-2.1 .06 3.6 .06-10.5 .06 12.4 .06-13.5 .06-1.2 .06 9.7 .06-10.3 .06 3.2 .06 2.5 .06-7.6 .06 13 .06 1.5 .06 4.8 .06-5.2 .06 1.5 .06-8 .06-4.7 .06 6 .06-4.9 .06 5.8 .06-10.5 .06 10.4 .06 2.9 .06 1.8 .06-11.5 .06 11.6 .06-12.1 .06 2.1 .06-4.8 .06 4.4 .06 .1 .06 0 .06 3.7 .06 6.7 .06-3.5 .06 1.2 .06-4.5 .06-3.1 .06 9.3 .06-11.6 .06 4.3 .06 9.6 .06-2.4 .06-4.3 .06 3.6 .06-6 .06 3 .06-7.1 .06 1.4 .06 2.1 .06-.8 .06 1.9 .06-3.1 .06-1.8 .06-.4 .06 7.8 .06-3.4 .06 11.3 .06-1.4 .06-6.5 .06 6.5 .06-11.2 .06 10.4 .06-2.3 .06-10.2 .06-.4 .06 2.3 .06 0 .06 2.6 .06-2.6 .06 7.8 .06-9.9 .06 5 .06-.2 .06 2 .06-9.9 .06 11 .06-7.4 .06 12.3 .06-9.2 .06-1.2 .06 .2 .06 3.3 .06-1.2 .06-4.4 .06 5.1 .06-.1 .06-4.7 .06 10.8 .06-1.4 .06-7.5 .06 5.9 .06-6 .06-2.4 .06-.9 .06 3.8 .06 3.4 .06 1.2 .06-.7 .06-5 .06-4.3 .06 11.8 .06-7.1 .06-1.2 .06 10.4 .06-10.7 .06 3.8 .06 .3 .06 0 .06 14.6 .06-15.6 .06 5.3 .06-2.1 .06-6.6 .06-5.6 .06 13.1 .06-.1 .06-.8 .06 13.5 .06-19.3 .06 .9 .06 6.3 .06-.6 .06-11.5 .06 8.1 .06 1.6 .06-2.9 .06-1.9 .06 12.6 .06-10.7 .06 5.7 .06-2.7 .06-4 .06 9.4 .06 3.2 .06-11.7 .06-1.9 .06 19.3 .06-13.1 .06 1.5 .06-7 .06 1.7 .06-5.5 .06 4 .06 1.3 .06-3.2 .06 4.1 .06 6.9 .06-3.5 .06-2.9 .06 3.8 .06-2.5 .06-2.7 .06 8.8 .06-7.2 .06-2.8 .06-3 .06 6.8 .06-4.3 .06 14.5 .06-13.3 .06 1 .06-.9 .06 1.9 .06 .6 .06-6.8 .06 13.3 .06-8.3 .06 2.1 .06-.4 .06-3 .06-1.5 .06 4.4 .06 .9 .06-6.5 .06 2.7 .06 11.8 .06-9.1 .06-2.6 .06 .1 .06-3.6 .06 5.5 .06-4.6 .06 7.3 .06 2 .06-4.1 .06 .5 .06 2.2 .06-6.6 .06-.1 .06 1.7 .06-3 .06 3.7 .06-.4 .06 1.4 .06 2 .06-3.7 .06 8.6 .06-1.1 .06-6.2 .06-1.3 .06 4.5 .06-5.2 .06 2 .06-6.1 .06 .9 .06 10 .06-4.7 .06 12.3 .06-20.5 .06 8.2 .06-.1 .06-.5 .06 0 .06 1.1 .06 6.2 .06-3.6 .06-5.2 .06 2 .06-2.5 .06 .5 .06 4.1 .06 1 .06 .9 .06-6.4 .06 3.8 .06-.8 .06-3.6 .06 .8 .06 5.5 .06-3.9 .06 5.5 .06 3.9 .06-2.7 .06-6.4 .06-5.7 .06 17.5 .06-16.9 .06 4.6 .06 9.4 .06-6.9 .06-2.4 .06 2.6 .06-.3 .06 14.9 .06-17.2 .06 2.2 .06 1.9 .06-.7 .06-.9 .06 1.8 .06-4.7 .06-6.3 .06 .6 .06 6.5 .06-.5 .06 3.6 .06 3.4 .06 10.4 .06-19.5 .06-3 .06 2.3 .06 16.9 .06-5.6 .06-4.4 .06-.4 .06 8.3 .06-5.2 .06-1.1 .06-6.1 .06 7 .06-3.7 .06 4.3 .06-8 .06-2 .06 16.3 .06-11.9 .06-2.3 .06-4.9 .06 8.6 .06-4 .06-.4 .06 6.5 .06 1.4 .06 .7 .06 3 .06-7.4 .06 1.6 .06 .7 .06-3.2 .06 0 .06 8.3 .06-3.3 .06 1.2 .06 2.4 .06-13.4 .06 4.5 .06 .6 .06-4.3 .06 7.2 .06 6.7 .06-10.7 .06 4.3 .06-7.9 .06 2.8 .06 7.7 .06 3.8 .06-14.2 .06 1.3 .06 13.1 .06-12.3 .06 5.9 .06-5.2 .06 2.4 .06 7.2 .06-3.3 .06-10.7 .06 15.1 .06-7.2 .06-.8 .06 5.7 .06-5.3 .06-3.2 .06 5.7 .06-6.2 .06 15.1 .06-12.9 .06-1 .06 2.5 .06 11.7 .06-10 .06-6.8 .06 5 .06-8.8 .06 11.7 .06 1.5 .06-5.5 .06 2.7 .06-7 .06 15.3 .06-15.3 .06 2.4 .06-1.1 .06 5.5 .06-6.3 .06 2 .06 12.2 .06-5.9 .06-3.7 .06 3.6 .06-8.1 .06 5.6 .06-3.7 .06-1.5 .06 3 .06 3.7 .06 5 .06-5.7 .06-1.2 .06 2.8 .06-.4 .06-4.1 .06 5.1 .06-12.3 .06 4.1 .06 5.3 .06 1.7 .06-2.5 .06-9.4 .06 6 .06 13.4 .06-14.5 .06 5.5 .06 4.3 .06-10.9 .06 8.2 .06-3.2 .06 1 .06 7.6 .06-2.5 .06-16.7 .06 3.6 .06 8.6 .06-4.1 .06-3.4 .06 8.5 .06-5.1 .06 .1 .06 6.5 .06-.1 .06-4.3 .06 6.9 .06-7 .06-3.1 .06 4.4 .06-.8 .06 2.9 .06-8.5 .06 4 .06 .8 .06 .6 .06-2.5 .06 9 .06-10.8 .06 10.2 .06-2.9 .06 4.1 .06-15 .06 8 .06 1.7 .06-3.3 .06-.8 .06 6.8 .06-11.6 .06 7.6 .06 3.4 .06 1.5 .06-4.2 .06-7.3 .06 2 .06 1.9 .06 3.2 .06-4.5 .06 .9 .06 9 .06 .6 .06-6.1 .06-7.3 .06 7.6 .06-3 .06 9.3 .06-15.5 .06 5.4 .06 6.4 .06 9.9 .06-13.7 .06 3.4 .06-5.3 .06 6.7 .06-5.7 .06 1.8 .06 9.4 .06-11.3 .06-2.1 .06 5.2 .06-7.9 .06 .8 .06 7.3 .06-1.6 .06-8.3 .06 5.3 .06 8.1 .06-4.8 .06 3.2 .06-2.5 .06 13.1 .06-20.7 .06 8.6 .06-5.3 .06-4.7 .06 7.7 .06-6.3 .06 3.6 .06-5.9 .06 13.3 .06-6.8 .06 17.5 .06-21.7 .06 10.1 .06 .8 .06-5.2 .06-6.8 .06 4.8 .06-4.6 .06 4.7 .06-.2 .06 3.5 .06-7.3 .06 3.5 .06 2.6 .06 1.7 .06-6.8 .06 7.3 .06-4.3 .06 6.3 .06-8.6 .06 .9 .06 6.9 .06-7.3 .06 19.7 .06-11 .06-9.2 .06 10.3 .06-9.6 .06 8.4 .06 6 .06-10.1 .06 3.5 .06-8.4 .06-.3 .06 7 .06-2.2 .06-5.8 .06-1.2 .06 12.1 .06 2.5 .06-14.3 .06-.5 .06 18.7 .06-7.4 .06-2.4 .06 3.6 .06-9.9 .06 3.1 .06 2.3 .06-5.8 .06 1.9 .06-.1 .06 3.8 .06 4.7 .06-12.9 .06 9 .06 3.2 .06-3.9 .06 5.7 .06 .2 .06-7.5 .06 12.6 .06-11.7 .06 .7 .06-.5 .06-7 .06 9.9 .06-1.8 .06-.9 .06 6.7 .06-6.5 .06-7.4 .06 7.3 .06 2.2 .06-8.8 .06 8.1 .06 6.4 .06-10 .06-6.1 .06 6.4 .06 1 .06 1.8 .06 0 .06 3.7 .06-8.3 .06 6.8 .06-6.8 .06 3.3 .06 6.4 .06-10.5 .06 2.2 .06 4 .06-9.5 .06 4.7 .06 1 .06 5.8 .06-3.8 .06-1.3 .06-3.6 .06-.1 .06 1.1 .06 7.4 .06 3.8 .06-6.3 .06-2.2 .06 2.5 .06 .5 .06-1.5 .06-5.3 .06 8.6 .06-1.5 .06-3.6 .06 .2 .06-2.7 .06 3.1 .06 9.5 .06-6.2 .06 5.7 .06-5.4 .06-6.3 .06-.6 .06 4.3 .06 .2 .06-10.2 .06 10.1 .06 .7 .06-2.6 .06 .2 .06 6.1 .06-10.7 .06 4.3 .06-.7 .06-1.6 .06 9.7 .06 3 .06-7.9 .06 6.5 .06-10.2 .06 9.7 .06-4.5 .06 1.9 .06-8.1 .06-2 .06 9.3 .06-2.3 .06 4.4 .06-1.4 .06-.4 .06-1.9 .06-9.1 .06 .8 .06 20.7 .06-6 .06-5.5 .06-8.7 .06 11.2 .06-.6 .06-8.9 .06 1.1 .06 1.6 .06 4.6 .06-3.8 .06-1.7 .06 5.6 .06-3.5 .06 8.1 .06-7.6 .06 2.6 .06 2.2 .06-8.6 .06 5.1 .06 2.4 .06-.9 .06-1.4 .06-2.3 .06 3.5 .06-5.3 .06-.3 .06 2.6 .06 6.1 .06-.7 .06-4.1 .06 1.1 .06-9.9 .06 10.6 .06-7.6 .06 12.1 .06 .4 .06-7.8 .06 10.3 .06-11.1 .06 .3 .06 4.1 .06-7.1 .06-.4 .06 11.7 .06-13.8 .06 9.5 .06-9.3 .06 10.9 .06-9.2 .06 6.2 .06-7.2 .06 1.2 .06 7.1 .06-5.4 .06 5.8 .06-8.4 .06 5.4 .06 7.3 .06-6.2 .06-1.5 .06 6.7 .06-2.4 .06-9.9 .06 2.3 .06 6.2 .06-2.7 .06-3.1 .06 .8 .06 1.3 .06 4.9 .06-6.4 .06 1.9 .06 1.5 .06 1.7 .06-2.2 .06 .7 .06-2.6 .06-6.9 .06 7.2 .06 1.9 .06 12.6 .06-12.8 .06 .3 .06-.7 .06-9.3 .06 10.2 .06-7.6 .06 4.5 .06-4.7 .06 7.3 .06-3.3 .06 1.6 .06 .5 .06-3.3 .06 8.6 .06-12.7 .06 5.1 .06 3.2 .06 1.8 .06-7.1 .06 6.5 .06 9.9 .06-10.3 .06 4.6 .06-4.7 .06-2.3 .06-.3 .06-4.5 .06-.6 .06 10.3 .06 .3 .06-6.6 .06 13.1 .06-12.5 .06-2.7 .06 2.3 .06 4.8 .06-5.9 .06-4.8 .06 5.5 .06 10.7 .06-16.6 .06 20.3 .06-16.9 .06 4.6 .06 6.5 .06-2 .06 5.1 .06-13.5 .06 1.4 .06 .5 .06 2.6 .06-3.6 .06 17 .06-9.4 .06-4.4 .06-1.5 .06 4.8 .06-4.7 .06 6.9 .06-9.4 .06 3.5 .06 10.4 .06-4.1 .06-3 .06-7.6 .06 9.3 .06-4.2 .06-3.9 .06 4.1 .06 7.3 .06-12.7 .06 13.6 .06-9.8 .06-3.6 .06 3.7 .06 1.9 .06-2.7 .06 3.8 .06-5.4 .06 3 .06-4.6 .06-2.6 .06 9.5 .06 .9 .06-4 .06 3.7 .06-7.3 .06 2.3 .06 4.5 .06-1.7 .06-3.8 .06 12.5 .06-3.3 .06-5.6 .06 5.5 .06 1.8 .06-11.3 .06 7.2 .06-1.6 .06-1.1 .06 3.8 .06-8.3 .06 2.1 .06 1.4 .06 1.6 .06-4 .06 10.5 .06 1.7 .06-2.1 .06 3.3 .06-6.5 .06 5.9 .06-.1 .06-4.2 .06-.5 .06-3.6 .06 7.4 .06-7.9 .06 3.5 .06-8.7 .06 1.8 .06 3.3 .06 3.9 .06-11.7 .06-1.4 .06 7.6 .06 .4 .06-.2 .06 9.5 .06-5.5 .06-11.6 .06 2.3 .06 13.7 .06-1.7 .06-7.1 .06-5.5 .06 4.1 .06 6.9 .06-1.8 .06-1.4 .06 .6 .06-8.2 .06 5.3 .06-3.5 .06 5.2 .06 1.8 .06 6.6 .06-2.3 .06-7.5 .06 2.4 .06 3.1 .06-3 .06 1.9 .06-5.8 .06 .2 .06 6.8 .06-4 .06-.4 .06 1.8 .06 8.7 .06-14.6 .06-2.9 .06 4.4 .06 5.1 .06-6.5 .06-.4 .06 8.1 .06 2.3 .06-5.1 .06-8.5 .06 9.1 .06-1 .06-1.5 .06 5.5 .06-8.5 .06 5.5 .06-2.9 .06-.8 .06 8.8 .06-10.8 .06 7.1 .06-8.6 .06 21.6 .06-8.8 .06-11.7 .06 3.2 .06-1.2 .06 10.7 .06 3.9 .06-13.8 .06 .4 .06-3.6 .06 5.9 .06-1.6 .06-2.3 .06 9.7 .06-6.1 .06-2.1 .06-1.6 .06 6.5 .06-.8 .06 1.5 .06 6 .06-12.4 .06 .1 .06 1.3 .06 3.8 .06 11 .06-13.5 .06 8.3 .06 2.3 .06-14.5 .06 2.8 .06 6.4 .06-12 .06 2.8 .06 5.6 .06 3 .06-7.5 .06 5.7 .06 1.3 .06 3.7 .06-7 .06-5.8 .06 2.2 .06 4.3 .06-6.3 .06-.4 .06 3.5 .06-.8 .06-5.1 .06 1 .06 6.4 .06-2.3 .06-.1 .06 3.8 .06 6.6 .06-14.6 .06 8.2 .06-1.1 .06-4.9 .06 16.8 .06-10.1 .06 1.2 .06-2.3 .06-5 .06 5.4 .06-5.5 .06-5.2 .06 5.2 .06 24.2 .06-19.9 .06-.5 .06 1.9 .06-6.2 .06 .5 .06 11.4 .06-3.9 .06-10.7 .06 2.2 .06 17 .06-8.6 .06 2 .06-3 .06 3.2 .06-5.5 .06-1.7 .06-.6 .06-2.7 .06 7.6 .06 .2 .06-6.9 .06 7.5 .06 5.1 .06-3.6 .06-11.2 .06 9.7 .06-2.2 .06 10.3 .06-11.9 .06-2.8 .06 .4 .06-2.2 .06 5.6 .06 3.2 .06-6.1 .06 4 .06-3.8 .06 7 .06-8 .06-2.4 .06 8.5 .06-1.7 .06-.8 .06-4.2 .06 7.4 .06 5.3 .06-9.8 .06 3.8 .06 1 .06-4.2 .06-4.3 .06 6.5 .06-10.1 .06 8.6 .06-.6 .06-2.6 .06-.4 .06 8.3 .06-1 .06-8.1 .06 16.6 .06-15.5 .06-1.4 .06 4.5 .06 .4 .06 .3 .06-5.9 .06-.8 .06 18.3 .06-10 .06-7.6 .06 8.7 .06-4.5 .06-2.5 .06 20.1 .06 5.2 .06-32.4 .06 8.9 .06 7.4 .06-8.2 .06 5.4 .06-4.1 .06 1.8 .06 .4 .06-2.9 .06 1.2 .06 .9 .06 8.1 .06-9 .06-3.2 .06-.7 .06 3.5 .06 2.2 .06-6.4 .06 1.8 .06 9.1 .06-5.1 .06-.3 .06-4.3 .06 3.6 .06-5 .06-4.4 .06 20.5 .06-13.1 .06 10.7 .06 1.3 .06-10.4 .06-2.8 .06 .2 .06 2 .06 8.6 .06-6.3 .06-4.7 .06 6.8 .06-5.7 .06 .4 .06-.8 .06 2.8 .06 2.5 .06-12.6 .06 8.7 .06 5.7 .06 6 .06-18 .06 5.1 .06 2.3 .06-.9 .06 .1 .06-2.5 .06 3.7 .06-4.2 .06 5.5 .06-2.3 .06-.5 .06 5.7 .06-9.6 .06 7.4 .06 2.2 .06-5.6 .06 .2 .06-.6 .06-6.4 .06 9.1 .06-.3 .06 11.5 .06-4.4 .06-6.7 .06 .8 .06-4.7 .06 .2 .06 10.3 .06-8 .06 .5 .06-4.1 .06 7.2 .06 1.7 .06-.8 .06-.9 .06 6.4 .06-12.9 .06 2.4 .06-.8 .06 5.9 .06-4.2 .06-3.1 .06 3.7 .06-4.5 .06 3.5 .06 3.9 .06 6.9 .06-13.4 .06-2.8 .06 .6 .06 7.9 .06-6.7 .06 1.4 .06 4.1 .06 1.6 .06-5.3 .06 3.9 .06-1.6 .06 1.1 .06-2.1 .06 4.1 .06-3.9 .06 1.8 .06 3.1 .06-8.4 .06-4.7 .06 12.2 .06-5.8 .06 5.9 .06-10.1 .06 3.6 .06-4.4 .06 5.9 .06 3.2 .06-4.6 .06 10.5 .06 5.4 .06-12.2 .06-6.9 .06 10.2 .06-2.1 .06-6.5 .06 6 .06-6.6 .06 28 .06-24.5 .06-1.8 .06 1 .06 3.5 .06 .8 .06 5.4 .06-2.5 .06-.9 .06 9.8 .06-14.1 .06-5.5 .06 14.9 .06-9.9 .06-.2 .06 3.5 .06-1.5 .06 6.5 .06-5.1 .06-7.7 .06 11.5 .06 2.3 .06-17.2 .06 9.3 .06 6.3 .06-5.8 .06 19.7 .06-20 .06-8.8 .06 19.3 .06-3.5 .06-6.8 .06 5.4 .06-12.3 .06 12.7 .06-6.7 .06-1.1 .06 6.7 .06 .4 .06-.7 .06 6.2 .06-10 .06 2.1 .06-5 .06 .7 .06-.9 .06 1.7 .06 1.7 .06 3 .06-4.2 .06-2.4 .06 6.2 .06-4.1 .06-.5 .06 7 .06 1.8 .06-13.6 .06 15 .06-9.3 .06 2.3 .06-2.9 .06 9.3 .06-12.4 .06-1.8 .06 .1 .06 10.9 .06-5.5 .06-5.3 .06 6 .06 4.8 .06 5.2 .06-11.2 .06 .9 .06 2.4 .06 6.8 .06-1.2 .06 .4 .06-3.3 .06-8.1 .06 1.3 .06-5 .06-3.8 .06 12 .06-4.6 .06 5.5 .06 8.9 .06-11.8 .06 .6 .06 13 .06 0 .06-16.8 .06 17.4 .06-16.7 .06 .1 .06 9.5 .06-7.5 .06-.6 .06 2.7 .06-5.3 .06 4.4 .06 .1 .06 2.2 .06-8.1 .06 15.1 .06-8.3 .06-.3 .06-5 .06 6.2 .06-9.9 .06 6.4 .06 17.4 .06-13.2 .06-2.8 .06-5.4 .06 8.1 .06-1.8 .06 .6 .06-9.4 .06 4.7 .06 .5 .06-3 .06 3.4 .06 1.9 .06-6.1 .06 6.5 .06 6.9 .06-9.5 .06 2.5 .06 3.9 .06-5.1 .06 .8 .06 2.4 .06-11.1 .06 2.5 .06 2.8 .06 13.5 .06-4.1 .06-5.1 .06-3.1 .06-.8 .06 9.4 .06-6.2 .06 .6 .06 2.6 .06 .6 .06-10.2 .06 16.6 .06-12.3 .06 8.1 .06-14.9 .06 17.4 .06-13 .06 9.3 .06-.4 .06-.4 .06-8.8 .06 5.9 .06 3 .06-1.2 .06-9.7 .06 14.3 .06-3.7 .06 3.7 .06-9.4 .06 4.2 .06-2 .06 5 .06-4.6 .06 1.7 .06-1.4 .06 2.7 .06 18.5 .06-21.1 .06 .3 .06 4.8 .06-1.8 .06-3.1 .06-4.9 .06 1.4 .06 1.8 .06 9.3 .06-12.3 .06 3.6 .06-.1 .06 1.1 .06-3.7 .06 7.1 .06 1.6 .06-4 .06-4.9 .06-2.3 .06 2.3 .06-1.7 .06 4.8 .06-3.4 .06-3.3 .06 6.7 .06-2.7 .06 .4 .06 4.9 .06-6.9 .06 10.2 .06-4.5 .06-1.1 .06-1.9 .06 6.1 .06-4.5 .06-1.7 .06 3.3 .06-1.1 .06 9.5 .06-2.9 .06-1.7 .06-2.7 .06 2.9 .06-7.7 .06-2.1 .06-3.6 .06 15.5 .06-8.8 .06-7 .06 5.5 .06 6.3 .06-5.9 .06-2.7 .06-1.3 .06 12.5 .06-11.9 .06 5.5 .06-3.9 .06 8.3 .06-6.6 .06 8 .06-8.2 .06-.4 .06 14.3 .06-13.1 .06 .6 .06 6.9 .06-6.7 .06-.7 .06 4.8 .06-1.6 .06-1.2 .06-6.2 .06 11.1 .06-12.3 .06 14 .06-1 .06-14.6 .06 15.4 .06-8.3 .06 .3 .06 2.9 .06-4.8 .06 1.1 .06 15.9 .06-18.7 .06 1.3 .06 0 .06-1.8 .06 12 .06-4.9 .06-3.4 .06-6.1 .06 15.2 .06-7.3 .06 10.8 .06-20.3 .06 6.8 .06-2.1 .06 9.1 .06-8.8 .06 2.4 .06 .2 .06-7 .06 5.7 .06 10.3 .06-8.1 .06 .6 .06-4.4 .06-2.4 .06 11.3 .06-6.6 .06 8.6 .06-3.9 .06 4.3 .06 1.4 .06-9.3 .06 1.2 .06 14.2 .06-14.8 .06 3.2 .06-5 .06 5.5 .06-7.8 .06 4.7 .06 .6 .06 2.9 .06-2.1 .06-8.2 .06 13.2 .06 3.9 .06-7.5 .06-4.8 .06-2.8 .06 1.9 .06 6.4 .06 17.9 .06-17 .06 .1 .06 3.8 .06-3.9 .06 22.5 .06-29.9 .06 11.2 .06-6.9 .06 .7 .06 5.2 .06-5.4 .06-8 .06 2.8 .06-8.1 .06 5.6 .06 5 .06-4.4 .06 6.4 .06 19.3 .06-20.8 .06 5.4 .06-6.4 .06 .3 .06 7.7 .06-6.3 .06 2.9 .06-9.9 .06 15.3 .06 9.2 .06-18.4 .06-1.8 .06 0 .06 3.9 .06-2.2 .06 .9 .06-1.3 .06-.7 .06-1.6 .06 5.6 .06 9.8 .06-8.9 .06-5.7 .06 .8 .06 4.3 .06-12 .06 11.1 .06-.3 .06 5.1 .06 3.8 .06-12.8 .06 .3 .06 15.2 .06-18.9 .06 3.9 .06 5.3 .06-7.1 .06 8.5 .06-7.3 .06 5 .06 3.1 .06-5.9 .06 5.3 .06-8.5 .06 4.4 .06 3.5 .06-2.2 .06-8.6 .06 6.5 .06 3 .06 3 .06-8.5 .06 .9 .06 8 .06 .9 .06-5.4 .06 4.6 .06 3.3 .06-10.5 .06 7.8 .06-1.5 .06-8 .06 4.3 .06-4.1 .06 5.9 .06 4.8 .06-12.1 .06 2.3 .06 3.6 .06-3.6 .06-.1 .06 11 .06-.8 .06-11.1 .06 4.7 .06-.9 .06-5.2 .06 8.9 .06-1.6 .06-6.2 .06 3.6 .06 0 .06 9.1 .06-13.8 .06-.6 .06 7.1 .06-8.9 .06 4.8 .06 8.2 .06-.5 .06-5.6 .06-1.8 .06-5.5 .06 7.2 .06 0 .06-3 .06 3.3 .06-1.6 .06-2.9 .06 7.7 .06-.8 .06-13 .06 13.1 .06-7.2 .06 9.5 .06 4.6 .06-15.3 .06 13.1 .06-15.8 .06 9.2 .06 7.4 .06-10.4 .06 1.8 .06-3.5 .06 10.6 .06-1.8 .06 .2 .06-1.1 .06-3.1 .06-4 .06 6.1 .06 .7 .06-.4 .06-9.7 .06 5.6 .06-2.7 .06 9.4 .06-11.1 .06 6.2 .06 2.1 .06-4.5 .06 1 .06 7.6 .06-12.5 .06 16.8 .06-18 .06 8.9 .06 10.7 .06-9.2 .06 1.4 .06-15.1 .06 5.3 .06 5.9 .06-3.3 .06 3 .06-3.1 .06-3.7 .06 7.4 .06 13.2 .06-11.9 .06-11 .06 6.5 .06-5.3 .06 9.8 .06-4.6 .06 1.7 .06 11.7 .06-8.5 .06-2.3 .06-1.8 .06-.1 .06 4.8 .06-3.8 .06-.3 .06-3.5 .06 0 .06 .1 .06 8.7 .06 4.8 .06-10.9 .06 5.7 .06-2.6 .06-4.4 .06 3.6 .06-5.1 .06 4.9 .06-2.1 .06 5.2 .06 1.1 .06-8.4 .06 5.6 .06-6.1 .06-2.2 .06 9.2 .06-6.9 .06 8.3 .06-7.5 .06-4.8 .06 7.1 .06 1.1 .06-3.7 .06-.5 .06 7.2 .06-.5 .06-8.4 .06 10.3 .06-9.6 .06 2.8 .06-.6 .06 1.7 .06-.9 .06 4.4 .06 9.3 .06-10.6 .06-6.1 .06-6.9 .06 15.9 .06-7.8 .06-3.1 .06 2 .06 .2 .06 4.5 .06 3.2 .06-5.3 .06 4.6 .06-7.2 .06 4.6 .06-2.2 .06-2.3 .06 4.6 .06-2.4 .06 1.2 .06 12.3 .06-15.6 .06 6.7 .06 8 .06-7.4 .06-1 .06-3.4 .06-3.2 .06 6.3 .06-1.7 .06 .1 .06 0 .06 9.6 .06-12 .06-3.3 .06-2.1 .06 12.6 .06-10.3 .06 6.1 .06-4.9 .06 12 .06-4 .06-3.1 .06 7.6 .06 .7 .06 .4 .06-10.1 .06 1.5 .06-6.8 .06 6.3 .06 6.7 .06 3 .06-9.5 .06-8 .06 2.2 .06 3.3 .06 5.2 .06-4.4 .06 3.8 .06-.7 .06-3.6 .06 4 .06 .6 .06-.5 .06-8.7 .06 10.2 .06-5.7 .06 1.5 .06-7.7 .06 16.3 .06-8.1 .06-1.1 .06 3.2 .06 .5 .06-8.1 .06 1.8 .06 4.3 .06-6.2 .06 2 .06 6.3 .06-3 .06 13.3 .06-13.3 .06-2.6 .06 .8 .06 .2 .06 3.2 .06-5.9 .06 4.7 .06 1.8 .06 2.1 .06-5.2 .06 .3 .06 1.3 .06-2.4 .06 2.2 .06-2.7 .06 3.9 .06 1.2 .06-3.5 .06 1.2 .06-2.4 .06-.8 .06 2.5 .06 3.3 .06-7.5 .06 8.7 .06-.8 .06-8.3 .06 2.9 .06 3.5 .06 2.6 .06-3.5 .06 2.2 .06 4.6 .06-13.2 .06 2.8 .06 4.3 .06 3.1 .06-8 .06 1.8 .06 10.7 .06-6.8 .06-7 .06 3 .06 4.4 .06 8.2 .06-14.5 .06 10.6 .06-4 .06-5 .06 2.6 .06 5.7 .06-10.5 .06 10 .06-5.3 .06 4.9 .06-1.2 .06-1.4 .06 6.3 .06 4.3 .06-10.9 .06 4.7 .06-4.6 .06-6.8 .06 4.8 .06 .3 .06-.3 .06 3.3 .06 .1 .06 0 .06-10.3 .06-2 .06 12.8 .06-9.8 .06 5.8 .06-.9 .06-10.8 .06 14.4 .06-2.4 .06-2.7 .06-4 .06 12.7 .06 5.6 .06-13.3 .06 4.3 .06 .8 .06 0 .06 .1 .06 .6 .06-10.6 .06 6 .06 10 .06 .7 .06-9.3 .06 .1 .06 17.8 .06-20.1 .06 5.1 .06-3.9 .06-5.2 .06 4.1 .06 4 .06 1.8 .06 1.5 .06-10.9 .06 5 .06-3.3 .06 3.6 .06-2.8 .06 3.2 .06 3.1 .06 3 .06-16.6 .06 2.7 .06 8.1 .06-2.1 .06 4.4 .06 1.1 .06-4.6 .06 4.4 .06-2.4 .06-1.3 .06-10.1 .06 13.2 .06-4 .06 1.2 .06 3 .06-14.4 .06 9.8 .06 2.6 .06-4.1 .06-5.8 .06 8.7 .06-3.8 .06 7.6 .06-9.7 .06 9.7 .06-.2 .06-4.5 .06 4.7 .06-12.5 .06 9.2 .06 6.2 .06 1.6 .06-3.1 .06-7.4 .06-.8 .06-4.6 .06 4.1 .06 2.9 .06-3.6 .06-.2 .06 .8 .06-4.1 .06 9.3 .06-2.5 .06 1.2 .06-1.6 .06-6.2 .06 7 .06-3.5 .06 11.2 .06-3.5 .06-4.1 .06 4.2 .06-7.7 .06 4.6 .06 1.6 .06-.8 .06-6.1 .06 1.7 .06 12.9 .06-12.2 .06 14.7 .06-18.2 .06-.9 .06 5.6 .06 5.9 .06-4.2 .06 .4 .06-5.8 .06-.8 .06 3.4 .06 5.9 .06-11.9 .06 4.6 .06 9.3 .06-3.7 .06-9.7 .06 11.6 .06-8.4 .06 6.5 .06-7.1 .06 4.8 .06-3.9 .06 11.5 .06-5.2 .06-5.1 .06 .9 .06-6.6 .06 7.4 .06 3.7 .06-2.4 .06 14.5 .06-13.3 .06-3.9 .06-1 .06-.6 .06 4.7 .06-3.5 .06 2.1 .06 5.3 .06-2 .06-2.7 .06 4.8 .06-7.5 .06 4.3 .06 .9 .06 0 .06-10.6 .06 3.6 .06 4.8 .06-1.4 .06 5.3 .06-4.9 .06 4.5 .06-4 .06 4.4 .06-1.2 .06-4.1 .06-.5 .06-1.4 .06 1.8 .06-2.3 .06-2.9 .06 5.8 .06 6.1 .06-9.4 .06 4.8 .06 6.5 .06-11.6 .06 8.5 .06-9.6 .06 6 .06-.5 .06 5.4 .06-6.3 .06 13.6 .06-4.5 .06-10.7 .06 1 .06 5.1 .06 2.3 .06-3.4 .06 3 .06-5.9 .06 13.4 .06-13.9 .06-.8 .06 5.2 .06-6.7 .06 1.9 .06-6.1 .06 5.9 .06 6.6 .06-6.3 .06 7.7 .06-5.8 .06 7.1 .06-13.4 .06-1.2 .06 8.6 .06 4.6 .06-6 .06 .5 .06 10.7 .06-12.8 .06-.9 .06 3.3 .06 3.2 .06-5.4 .06-.4 .06 7.6 .06-9.1 .06 1.2 .06-3.4 .06 4.8 .06-4.2 .06 3.8 .06 5 .06-10 .06 5.3 .06-1.1 .06-4.3 .06 10.6 .06-10.2 .06 9.8 .06-10.7 .06 9.5" fill="none" stroke="#d95319" stroke-width="1" stroke-linejoin="round"/>
<text transform="translate(424.1,467.1) scale(1.0,1.02)" font-size="24" text-anchor="middle" fill="#202020" stroke="#202020">0</text>
<text transform="translate(472.1,467.1) scale(1.0,1.02)" font-size="24" text-anchor="middle" fill="#202020" stroke="#202020">100</text><path transform="translate(452.08,467.1) scale(1.0,1.02)" d="M1.11 -2.20H5.95V0.60H1.11ZM8.24 -2.20H12.89V0.60H8.24Z" fill="#fff"/>
<text transform="translate(520.1,467.1) scale(1.0,1.02)" font-size="24" text-anchor="middle" fill="#202020" stroke="#202020">200</text>
<text transform="translate(568.1,467.1) scale(1.0,1.02)" font-size="24" text-anchor="middle" fill="#202020" stroke="#202020">300</text>
<text transform="translate(616.1,467.1) scale(1.0,1.02)" font-size="24" text-anchor="middle" fill="#202020" stroke="#202020">400</text>
<text transform="translate(664.1,467.1) scale(1.0,1.02)" font-size="24" text-anchor="middle" fill="#202020" stroke="#202020">500</text>
<text transform="translate(417.9,292.98) scale(1.0,1.02)" font-size="24" text-anchor="end" fill="#202020" stroke="#202020">-60</text>
<text transform="translate(417.9,331.11) scale(1.0,1.02)" font-size="24" text-anchor="end" fill="#202020" stroke="#202020">-80</text>
<text transform="translate(417.9,369.24) scale(1.0,1.02)" font-size="24" text-anchor="end" fill="#202020" stroke="#202020">-100</text><path transform="translate(369.86,369.24) scale(1.0,1.02)" d="M9.11 -2.20H13.95V0.60H9.11ZM16.23 -2.20H20.88V0.60H16.23Z" fill="#fff"/>
<text transform="translate(417.9,407.37) scale(1.0,1.02)" font-size="24" text-anchor="end" fill="#202020" stroke="#202020">-120</text><path transform="translate(369.86,407.37) scale(1.0,1.02)" d="M9.11 -2.20H13.95V0.60H9.11ZM16.23 -2.20H20.88V0.60H16.23Z" fill="#fff"/>
<text transform="translate(417.9,445.5) scale(1.0,1.02)" font-size="24" text-anchor="end" fill="#202020" stroke="#202020">-140</text><path transform="translate(369.86,445.5) scale(1.0,1.02)" d="M9.11 -2.20H13.95V0.60H9.11ZM16.23 -2.20H20.88V0.60H16.23Z" fill="#fff"/>
<text transform="translate(544.1,496.5) scale(1.0,1.02)" font-size="24" text-anchor="middle" fill="#202020" stroke="#202020">Frequency (MHz)</text>
<text transform="translate(359.9,451.4) rotate(-90)" font-size="22.7" fill="#202020" stroke="#202020">Power (dBm Hz<tspan font-size="18" dy="-10.5">-1</tspan><tspan dy="10.5">)</tspan></text>
<path transform="translate(359.9,451.4) rotate(-90)" d="M165.76 -13.34H169.39V-9.90H165.76ZM171.11 -13.34H174.60V-9.90H171.11Z" fill="#fff"/>
<rect x="480.2" y="280.2" width="177.15" height="52" fill="#fff" stroke="#202020" stroke-width="1.9"/>
<path d="M482.1 293.6H497" stroke="#3b7cc4" stroke-width="1.0"/>
<path d="M482.1 318.5H497" stroke="#d95319" stroke-width="1.0"/>
<text transform="translate(498.7,301.3) scale(1.0,1.02)" font-size="20.2" fill="#202020" stroke="#202020">Simulation Result</text>
<text transform="translate(498.7,326.2) scale(1.0,1.02)" font-size="20.2" fill="#202020" stroke="#202020">Experiment Data</text>
<path d="M135.28 513V675M203.85 513V675M272.42 513V675" stroke="#202020" stroke-opacity="0.16" stroke-width="1.3" fill="none"/><path d="M83.85 594H323.85" stroke="#202020" stroke-opacity="0.16" stroke-width="1.3" fill="none"/>
<rect x="83.85" y="513" width="240" height="162" fill="none" stroke="#202020" stroke-width="2.0"/>
<path d="M135.28 675v-3.3M135.28 513v3.3M203.85 675v-3.3M203.85 513v3.3M272.42 675v-3.3M272.42 513v3.3M83.85 675h3.3M323.85 675h-3.3M83.85 594h3.3M323.85 594h-3.3M83.85 513h3.3M323.85 513h-3.3" stroke="#202020" stroke-width="2.0" fill="none"/>
<polyline points="83.8,675.0 84.5,675.0 85.2,675.0 85.9,675.0 86.6,675.0 87.3,675.0 88.0,675.0 88.7,675.0 89.3,675.0 90.0,675.0 90.7,675.0 91.4,675.0 92.1,675.0 92.8,675.0 93.5,675.0 94.1,675.0 94.8,675.0 95.5,675.0 96.2,675.0 96.9,675.0 97.6,675.0 98.2,675.0 98.9,675.0 99.6,674.9 100.3,674.8 101.0,674.7 101.7,674.5 102.4,674.3 103.0,674.1 103.7,673.8 104.4,673.5 105.1,673.2 105.8,672.9 106.5,672.5 107.2,672.1 107.8,671.7 108.5,671.2 109.2,670.8 109.9,670.3 110.6,669.8 111.3,669.2 112.0,668.7 112.7,668.1 113.3,667.6 114.0,666.9 114.7,666.3 115.4,665.7 116.1,665.0 116.8,664.4 117.4,663.7 118.1,663.0 118.8,662.3 119.5,661.6 120.2,660.8 120.9,660.1 121.6,659.3 122.2,658.5 122.9,657.7 123.6,656.9 124.3,656.1 125.0,655.3 125.7,654.5 126.4,653.7 127.1,652.8 127.7,652.0 128.4,651.1 129.1,650.3 129.8,649.4 130.5,648.5 131.2,647.6 131.9,646.8 132.5,645.9 133.2,645.0 133.9,644.1 134.6,643.2 135.3,642.3 136.0,641.4 136.7,640.4 137.3,639.5 138.0,638.6 138.7,637.7 139.4,636.8 140.1,635.9 140.8,634.9 141.4,634.0 142.1,633.1 142.8,632.2 143.5,631.3 144.2,630.4 144.9,629.4 145.6,628.5 146.2,627.6 146.9,626.7 147.6,625.8 148.3,624.9 149.0,624.0 149.7,623.1 150.4,622.2 151.1,621.4 151.7,620.5 152.4,619.6 153.1,618.7 153.8,617.9 154.5,617.0 155.2,616.2 155.8,615.3 156.5,614.5 157.2,613.6 157.9,612.8 158.6,612.0 159.3,611.2 160.0,610.4 160.7,609.6 161.3,608.8 162.0,608.0 162.7,607.2 163.4,606.5 164.1,605.7 164.8,605.0 165.4,604.2 166.1,603.5 166.8,602.8 167.5,602.1 168.2,601.4 168.9,600.7 169.6,600.0 170.2,599.3 170.9,598.7 171.6,598.0 172.3,597.4 173.0,596.8 173.7,596.2 174.4,595.6 175.1,595.0 175.7,594.4 176.4,593.9 177.1,593.3 177.8,592.8 178.5,592.2 179.2,591.7 179.9,591.2 180.5,590.7 181.2,590.3 181.9,589.8 182.6,589.3 183.3,588.9 184.0,588.5 184.7,588.1 185.3,587.7 186.0,587.3 186.7,586.9 187.4,586.6 188.1,586.2 188.8,585.9 189.4,585.6 190.1,585.3 190.8,585.0 191.5,584.7 192.2,584.5 192.9,584.2 193.6,584.0 194.2,583.8 194.9,583.6 195.6,583.4 196.3,583.2 197.0,583.1 197.7,582.9 198.4,582.8 199.1,582.7 199.7,582.6 200.4,582.5 201.1,582.5 201.8,582.4 202.5,582.4 203.2,582.3 203.9,582.3 204.5,582.3 205.2,582.4 205.9,582.4 206.6,582.4 207.3,582.5 208.0,582.6 208.7,582.7 209.3,582.8 210.0,582.9 210.7,583.0 211.4,583.2 212.1,583.3 212.8,583.5 213.5,583.7 214.1,583.9 214.8,584.1 215.5,584.3 216.2,584.5 216.9,584.8 217.6,585.0 218.3,585.3 218.9,585.6 219.6,585.9 220.3,586.2 221.0,586.6 221.7,586.9 222.4,587.2 223.1,587.6 223.7,588.0 224.4,588.4 225.1,588.8 225.8,589.2 226.5,589.6 227.2,590.1 227.8,590.5 228.5,591.0 229.2,591.5 229.9,591.9 230.6,592.4 231.3,593.0 232.0,593.5 232.7,594.0 233.3,594.6 234.0,595.1 234.7,595.7 235.4,596.3 236.1,596.8 236.8,597.4 237.5,598.1 238.1,598.7 238.8,599.3 239.5,599.9 240.2,600.6 240.9,601.2 241.6,601.9 242.3,602.6 242.9,603.3 243.6,604.0 244.3,604.7 245.0,605.4 245.7,606.1 246.4,606.8 247.1,607.6 247.7,608.3 248.4,609.1 249.1,609.8 249.8,610.6 250.5,611.4 251.2,612.2 251.9,613.0 252.5,613.8 253.2,614.6 253.9,615.4 254.6,616.2 255.3,617.0 256.0,617.9 256.7,618.7 257.3,619.5 258.0,620.4 258.7,621.2 259.4,622.1 260.1,622.9 260.8,623.8 261.5,624.6 262.1,625.5 262.8,626.4 263.5,627.3 264.2,628.1 264.9,629.0 265.6,629.9 266.3,630.8 266.9,631.7 267.6,632.6 268.3,633.4 269.0,634.3 269.7,635.2 270.4,636.1 271.1,637.0 271.7,637.9 272.4,638.8 273.1,639.7 273.8,640.5 274.5,641.4 275.2,642.3 275.9,643.2 276.5,644.1 277.2,644.9 277.9,645.8 278.6,646.7 279.3,647.5 280.0,648.4 280.7,649.2 281.3,650.1 282.0,650.9 282.7,651.8 283.4,652.6 284.1,653.4 284.8,654.2 285.5,655.0 286.1,655.8 286.8,656.6 287.5,657.4 288.2,658.2 288.9,658.9 289.6,659.7 290.2,660.4 290.9,661.1 291.6,661.9 292.3,662.6 293.0,663.3 293.7,663.9 294.4,664.6 295.1,665.3 295.7,665.9 296.4,666.5 297.1,667.1 297.8,667.7 298.5,668.3 299.2,668.8 299.9,669.4 300.5,669.9 301.2,670.4 301.9,670.9 302.6,671.3 303.3,671.8 304.0,672.2 304.7,672.6 305.3,672.9 306.0,673.3 306.7,673.6 307.4,673.9 308.1,674.1 308.8,674.4 309.5,674.6 310.1,674.7 310.8,674.8 311.5,674.9 312.2,675.0 312.9,675.0 313.6,675.0 314.2,675.0 314.9,675.0 315.6,675.0 316.3,675.0 317.0,675.0 317.7,675.0 318.4,675.0 319.1,675.0 319.7,675.0 320.4,675.0 321.1,675.0 321.8,675.0 322.5,675.0 323.2,675.0 323.9,675.0" fill="none" stroke="#3b7cc4" stroke-width="3.2" stroke-linejoin="round"/>
<polyline points="83.8,675.0 84.5,675.0 85.2,675.0 85.9,675.0 86.6,675.0 87.3,675.0 88.0,675.0 88.7,675.0 89.3,675.0 90.0,675.0 90.7,675.0 91.4,675.0 92.1,675.0 92.8,675.0 93.5,675.0 94.1,675.0 94.8,675.0 95.5,675.0 96.2,675.0 96.9,675.0 97.6,675.0 98.2,675.0 98.9,675.0 99.6,675.0 100.3,675.0 101.0,675.0 101.7,675.0 102.4,675.0 103.0,675.0 103.7,675.0 104.4,675.0 105.1,675.0 105.8,675.0 106.5,675.0 107.2,675.0 107.8,675.0 108.5,674.8 109.2,674.2 109.9,673.6 110.6,672.9 111.3,672.2 112.0,671.4 112.7,670.7 113.3,669.9 114.0,669.0 114.7,668.2 115.4,667.3 116.1,666.5 116.8,665.6 117.4,664.8 118.1,663.9 118.8,663.1 119.5,662.2 120.2,661.4 120.9,660.5 121.6,659.7 122.2,658.8 122.9,658.0 123.6,657.1 124.3,656.3 125.0,655.5 125.7,654.6 126.4,653.8 127.1,652.9 127.7,652.0 128.4,651.2 129.1,650.3 129.8,649.4 130.5,648.6 131.2,647.7 131.9,646.8 132.5,645.9 133.2,645.0 133.9,644.1 134.6,643.2 135.3,642.3 136.0,641.4 136.7,640.5 137.3,639.6 138.0,638.7 138.7,637.7 139.4,636.8 140.1,635.9 140.8,635.0 141.4,634.1 142.1,633.2 142.8,632.2 143.5,631.3 144.2,630.4 144.9,629.5 145.6,628.6 146.2,627.7 146.9,626.8 147.6,625.9 148.3,625.0 149.0,624.1 149.7,623.2 150.4,622.3 151.1,621.4 151.7,620.5 152.4,619.7 153.1,618.8 153.8,617.9 154.5,617.1 155.2,616.2 155.8,615.4 156.5,614.5 157.2,613.7 157.9,612.9 158.6,612.1 159.3,611.3 160.0,610.5 160.7,609.7 161.3,608.9 162.0,608.1 162.7,607.3 163.4,606.6 164.1,605.8 164.8,605.1 165.4,604.3 166.1,603.6 166.8,602.9 167.5,602.2 168.2,601.5 168.9,600.8 169.6,600.1 170.2,599.4 170.9,598.8 171.6,598.1 172.3,597.5 173.0,596.9 173.7,596.3 174.4,595.7 175.1,595.1 175.7,594.5 176.4,594.0 177.1,593.4 177.8,592.9 178.5,592.3 179.2,591.8 179.9,591.3 180.5,590.8 181.2,590.4 181.9,589.9 182.6,589.5 183.3,589.0 184.0,588.6 184.7,588.2 185.3,587.8 186.0,587.4 186.7,587.0 187.4,586.7 188.1,586.3 188.8,586.0 189.4,585.7 190.1,585.4 190.8,585.1 191.5,584.8 192.2,584.6 192.9,584.3 193.6,584.1 194.2,583.9 194.9,583.7 195.6,583.5 196.3,583.4 197.0,583.2 197.7,583.1 198.4,582.9 199.1,582.8 199.7,582.7 200.4,582.6 201.1,582.6 201.8,582.5 202.5,582.5 203.2,582.5 203.9,582.5 204.5,582.5 205.2,582.5 205.9,582.5 206.6,582.6 207.3,582.7 208.0,582.7 208.7,582.8 209.3,582.9 210.0,583.1 210.7,583.2 211.4,583.3 212.1,583.5 212.8,583.7 213.5,583.9 214.1,584.1 214.8,584.3 215.5,584.6 216.2,584.8 216.9,585.1 217.6,585.4 218.3,585.7 218.9,586.0 219.6,586.3 220.3,586.6 221.0,587.0 221.7,587.4 222.4,587.8 223.1,588.2 223.7,588.6 224.4,589.0 225.1,589.5 225.8,589.9 226.5,590.4 227.2,590.9 227.8,591.4 228.5,591.9 229.2,592.4 229.9,592.9 230.6,593.5 231.3,594.0 232.0,594.6 232.7,595.2 233.3,595.8 234.0,596.3 234.7,597.0 235.4,597.6 236.1,598.2 236.8,598.8 237.5,599.5 238.1,600.1 238.8,600.7 239.5,601.4 240.2,602.1 240.9,602.7 241.6,603.4 242.3,604.1 242.9,604.8 243.6,605.5 244.3,606.2 245.0,606.9 245.7,607.6 246.4,608.3 247.1,609.0 247.7,609.7 248.4,610.5 249.1,611.2 249.8,611.9 250.5,612.7 251.2,613.4 251.9,614.2 252.5,614.9 253.2,615.7 253.9,616.5 254.6,617.2 255.3,618.0 256.0,618.8 256.7,619.6 257.3,620.4 258.0,621.2 258.7,622.0 259.4,622.9 260.1,623.7 260.8,624.5 261.5,625.4 262.1,626.2 262.8,627.1 263.5,627.9 264.2,628.8 264.9,629.6 265.6,630.5 266.3,631.3 266.9,632.2 267.6,633.1 268.3,634.0 269.0,634.8 269.7,635.7 270.4,636.6 271.1,637.5 271.7,638.3 272.4,639.2 273.1,640.1 273.8,641.0 274.5,641.9 275.2,642.7 275.9,643.6 276.5,644.5 277.2,645.3 277.9,646.2 278.6,647.1 279.3,647.9 280.0,648.8 280.7,649.6 281.3,650.5 282.0,651.3 282.7,652.1 283.4,653.0 284.1,653.8 284.8,654.6 285.5,655.4 286.1,656.2 286.8,657.0 287.5,657.7 288.2,658.5 288.9,659.2 289.6,660.0 290.2,660.7 290.9,661.4 291.6,662.2 292.3,662.9 293.0,663.5 293.7,664.2 294.4,664.9 295.1,665.5 295.7,666.1 296.4,666.7 297.1,667.3 297.8,667.9 298.5,668.5 299.2,669.0 299.9,669.6 300.5,670.1 301.2,670.5 301.9,671.0 302.6,671.5 303.3,671.9 304.0,672.3 304.7,672.7 305.3,673.0 306.0,673.3 306.7,673.6 307.4,673.9 308.1,674.2 308.8,674.4 309.5,674.6 310.1,674.7 310.8,674.9 311.5,674.9 312.2,675.0 312.9,675.0 313.6,675.0 314.2,675.0 314.9,675.0 315.6,675.0 316.3,675.0 317.0,675.0 317.7,675.0 318.4,675.0 319.1,675.0 319.7,675.0 320.4,675.0 321.1,675.0 321.8,675.0 322.5,675.0 323.2,675.0 323.9,675.0" fill="none" stroke="#d95319" stroke-width="3.2" stroke-linejoin="round" stroke-dasharray="13 3.5 6.5 3.5"/>
<text transform="translate(135.28,706.2) scale(1.0,1.02)" font-size="24" text-anchor="middle" fill="#202020" stroke="#202020">-0.2</text>
<text transform="translate(203.85,706.2) scale(1.0,1.02)" font-size="24" text-anchor="middle" fill="#202020" stroke="#202020">0</text>
<text transform="translate(272.42,706.2) scale(1.0,1.02)" font-size="24" text-anchor="middle" fill="#202020" stroke="#202020">0.2</text>
<text transform="translate(77.95,684.6) scale(1.0,1.02)" font-size="24" text-anchor="end" fill="#202020" stroke="#202020">0</text>
<text transform="translate(77.95,603.6) scale(1.0,1.02)" font-size="24" text-anchor="end" fill="#202020" stroke="#202020">0.02</text>
<text transform="translate(77.95,522.6) scale(1.0,1.02)" font-size="24" text-anchor="end" fill="#202020" stroke="#202020">0.04</text>
<text transform="translate(203.85,735.6) scale(1.0,1.02)" font-size="24" text-anchor="middle" fill="#202020" stroke="#202020">Voltage (V)</text>
<text transform="translate(22.6,650.7) rotate(-90)" font-size="24" fill="#202020" stroke="#202020">Probability</text>
<rect x="139" y="519.4" width="177.1" height="51.5" fill="#fff" stroke="#202020" stroke-width="1.9"/>
<path d="M140.8 532.8H155.9" stroke="#3b7cc4" stroke-width="3.2"/>
<path d="M140.8 557.7H154.3" stroke="#d95319" stroke-width="3.2"/>
<text transform="translate(157.1,540.5) scale(1.0,1.02)" font-size="20.2" fill="#202020" stroke="#202020">Simulation Result</text>
<text transform="translate(157.1,565.4) scale(1.0,1.02)" font-size="20.2" fill="#202020" stroke="#202020">Experiment Data</text>
<path d="M472.1 513V675M520.1 513V675M568.1 513V675M616.1 513V675" stroke="#202020" stroke-opacity="0.16" stroke-width="1.3" fill="none"/><path d="M424.1 522.53H664.1M424.1 560.65H664.1M424.1 598.76H664.1M424.1 636.88H664.1" stroke="#202020" stroke-opacity="0.16" stroke-width="1.3" fill="none"/>
<rect x="424.1" y="513" width="240" height="162" fill="none" stroke="#202020" stroke-width="2.0"/>
<path d="M424.1 675v-3.3M424.1 513v3.3M472.1 675v-3.3M472.1 513v3.3M520.1 675v-3.3M520.1 513v3.3M568.1 675v-3.3M568.1 513v3.3M616.1 675v-3.3M616.1 513v3.3M664.1 675v-3.3M664.1 513v3.3M424.1 522.53h3.3M664.1 522.53h-3.3M424.1 560.65h3.3M664.1 560.65h-3.3M424.1 598.76h3.3M664.1 598.76h-3.3M424.1 636.88h3.3M664.1 636.88h-3.3M424.1 675h3.3M664.1 675h-3.3" stroke="#202020" stroke-width="2.0" fill="none"/>
<path d="M424.1 568.3l.06 10.3 .06 3.3 .06-1.5 .06 21.1 .06-19.8 .06 1.4 .06-.4 .06 1 .06 1 .06 3.4 .06-4.2 .06-6.6 .06 11.1 .06-9.3 .06-.9 .06 7.2 .06 2.6 .06-1.5 .06-6.6 .06 6.2 .06-4.5 .06 4 .06-7.7 .06 .2 .06 6.3 .06 1.9 .06-8.3 .06 12.5 .06-8.4 .06 1 .06 2.8 .06-4.3 .06 2.2 .06-3.1 .06 8.9 .06-8.9 .06 .5 .06 7.4 .06-10.1 .06 3.9 .06 4.4 .06-1.5 .06-5.7 .06 11.3 .06-9.9 .06-1.2 .06-5.1 .06 12.2 .06-.3 .06 2.6 .06-9.4 .06 1.8 .06-7 .06 5.4 .06 1.1 .06 6.1 .06-9.8 .06 11.3 .06-8.5 .06 13 .06-2.7 .06-9.6 .06-2.4 .06 7.2 .06-.4 .06 1.9 .06 1.9 .06-5.7 .06-5.1 .06 7.8 .06-8.7 .06 7.3 .06-2.9 .06 2.2 .06-2 .06 14.1 .06-13.1 .06-.7 .06-1.2 .06 3.1 .06 7.6 .06-4 .06-12.5 .06 19.7 .06-1.9 .06-13.2 .06 6.2 .06 5.1 .06-12.4 .06 8.1 .06-4.4 .06-.3 .06-2.1 .06-3.3 .06 3.6 .06 4.2 .06-.2 .06-4.1 .06 2.8 .06 4 .06-1.6 .06 .4 .06-2.2 .06-3.6 .06 .6 .06 1.8 .06 6.7 .06-1.6 .06-6.1 .06-6.4 .06 10.9 .06-2.7 .06 4.8 .06-11 .06-.4 .06 3.2 .06-2.2 .06 5.5 .06-.9 .06-2.8 .06 4.1 .06 12 .06-5.8 .06-3.5 .06-2.5 .06-.4 .06-6.4 .06 1.5 .06-2.8 .06 3.7 .06 3 .06-.5 .06-.2 .06 .6 .06 1.3 .06-3.6 .06 4 .06 8.1 .06-15.7 .06-2.8 .06 11.8 .06-4 .06 .1 .06-1.4 .06 11.3 .06-1.3 .06-13 .06 8.8 .06 3.8 .06-5.7 .06-3.9 .06 5.4 .06 3.1 .06-2.4 .06 8.8 .06-11.2 .06-.7 .06-4.3 .06-1.1 .06 7 .06 4.8 .06-1.3 .06-2.1 .06-6.7 .06-.8 .06 0 .06 8.5 .06-8.7 .06 12.3 .06-6.8 .06-5.9 .06 4.3 .06 2.3 .06 7.4 .06-7.9 .06 3 .06-11.3 .06 3.4 .06 3.1 .06-2.2 .06 1 .06 4.7 .06-6.9 .06-.7 .06 10.8 .06-.3 .06-3.6 .06 1.6 .06-2.2 .06 2 .06-.9 .06 2.6 .06 0 .06-5.9 .06-2 .06 6 .06-3.6 .06-5.6 .06 15 .06-12.2 .06 7.3 .06-2.7 .06-6 .06 22.6 .06-19.2 .06-4.1 .06 .8 .06-.8 .06-1.1 .06 4.2 .06-.1 .06 9.8 .06-9.7 .06 3.8 .06 1.7 .06-7.6 .06 7.8 .06-9.5 .06 8.5 .06 2.2 .06 3.8 .06-6.5 .06 .4 .06-2.3 .06-6.9 .06 7.9 .06 1.1 .06 1.9 .06 2.3 .06-5.5 .06-6.7 .06-.4 .06 5.8 .06 2.3 .06 5.7 .06-10 .06-.5 .06-2.4 .06 11.1 .06-4.5 .06 11.4 .06-14.6 .06 7.6 .06-8.8 .06 5.4 .06 4.4 .06-6 .06 5.8 .06 11.5 .06-14.9 .06-8 .06 4.3 .06 .1 .06-3.3 .06 1.2 .06 4.8 .06-2.7 .06 7.8 .06-5.3 .06 2.8 .06-10.8 .06 11.8 .06-1.7 .06-5.4 .06 .4 .06 12.2 .06-11.3 .06 7.1 .06-3.8 .06 2.1 .06-1.4 .06-3.5 .06-3.1 .06 5.6 .06-10.3 .06 5.6 .06 8 .06-7.2 .06 10.4 .06-5.9 .06 2 .06-.6 .06-4.5 .06 6.1 .06-11.2 .06 7.2 .06-.9 .06-.7 .06 3.7 .06-1.1 .06-3.8 .06 1.8 .06-5.8 .06 9.4 .06-12.2 .06 2.2 .06-2.1 .06 6.4 .06-.9 .06-1.9 .06-2.6 .06 6.4 .06 5.7 .06-11.5 .06 5.8 .06-5.9 .06 9.7 .06-.2 .06 6.3 .06-11.7 .06 0 .06-.7 .06-1.5 .06 6.3 .06 4.3 .06 .8 .06-12 .06 7.4 .06 1.7 .06-10.4 .06 2.4 .06 12 .06-13.4 .06 5.8 .06-2.9 .06 .5 .06 7 .06-2.7 .06-3 .06-.5 .06-4.2 .06 5.6 .06 1.3 .06-3.5 .06 12.9 .06-15.5 .06 9.3 .06 3.1 .06-8.5 .06 5 .06-2 .06-1.2 .06-3.4 .06 3.8 .06-6.8 .06-1.5 .06 4.3 .06 2.5 .06 4.8 .06-.9 .06-4.8 .06 6.5 .06-3.6 .06-1.4 .06-7.5 .06 3.3 .06 1.1 .06 1.2 .06 .2 .06 8.4 .06-13.3 .06 10.2 .06-8.6 .06 4.1 .06-2.2 .06-2.9 .06 8.5 .06-6.3 .06 7.5 .06 2.5 .06-8.3 .06-1 .06-.9 .06 6.7 .06 3.9 .06-1.6 .06 2.8 .06 2.1 .06-12.4 .06-.8 .06 1.6 .06-1.1 .06-6.2 .06 20.3 .06-2.3 .06-13.7 .06 6.1 .06-5.4 .06-2.6 .06 3.2 .06 3.7 .06-5.1 .06 4.3 .06 7.4 .06 0 .06 1.8 .06-8.5 .06 3.9 .06 1.9 .06-7.2 .06 1.2 .06-.8 .06 4.7 .06-9 .06 8.6 .06-5.4 .06 3.9 .06-9 .06 .3 .06 6.3 .06 1.1 .06-6.3 .06 1.1 .06 5.5 .06-2.7 .06 .4 .06-2.4 .06 6.2 .06-5.6 .06-2.1 .06 5 .06-2 .06-3.6 .06-.4 .06 13.2 .06-10 .06 0 .06-1.6 .06 5.2 .06-4.5 .06-2.4 .06 13 .06-9 .06 .8 .06 .4 .06-1.7 .06-3.3 .06 5.8 .06-6.2 .06 7.1 .06 .6 .06 8.2 .06-20 .06 17.3 .06-3.2 .06-10.8 .06 9.7 .06-5.4 .06 3.5 .06 2.2 .06 2.2 .06-11.9 .06 6.1 .06 1.2 .06-.6 .06 .6 .06 1.8 .06 7.8 .06-10.1 .06-2.2 .06 7 .06-9 .06 3.8 .06-2.6 .06 5.7 .06-.1 .06-8.1 .06 4.6 .06 8.4 .06-6.4 .06 8.3 .06-1.2 .06-7.8 .06-4.1 .06 8.6 .06-3.5 .06-6.9 .06 2.4 .06-.4 .06 1.8 .06 3.4 .06-7.2 .06 16.3 .06-15.2 .06 .8 .06 4 .06 4.2 .06 1.1 .06-11.6 .06 6.8 .06 5.9 .06-11.6 .06 8.8 .06-1.8 .06 3.2 .06-11.7 .06 7.4 .06 1.7 .06-4.9 .06 13.4 .06-13 .06 4.1 .06 .8 .06 8.4 .06-9.6 .06 7.6 .06-6.3 .06 4.5 .06-11.7 .06 2 .06-1.4 .06-.9 .06 7.8 .06 .1 .06-5.6 .06 11.2 .06-5.3 .06-4.3 .06 .9 .06 8.6 .06-10 .06-4.2 .06 4.7 .06 2.5 .06-5.7 .06 6.5 .06-4.1 .06-2 .06 5.7 .06-3.9 .06 4.4 .06-6.1 .06 3.5 .06 3.8 .06-5.2 .06-4.3 .06 9.3 .06-8.8 .06 7.4 .06-7.1 .06 5.4 .06-5.2 .06 5 .06-1.8 .06 4.1 .06-5.1 .06 2.1 .06-1.6 .06-1 .06-1 .06-.8 .06 7 .06-.4 .06 1.5 .06-4.6 .06 3.8 .06 1.3 .06-3.6 .06 2.2 .06-1.8 .06 1.6 .06 5.5 .06-12.6 .06 12.4 .06 8.2 .06-18.3 .06-.5 .06 3.2 .06-3.6 .06 13 .06-7.6 .06-4.7 .06 5 .06 6.1 .06-12.5 .06 3.2 .06-1.2 .06 2.9 .06 .7 .06 3.1 .06 11.8 .06-23.3 .06 4 .06-7.6 .06 4.2 .06 5.8 .06 2 .06-2.2 .06-3 .06 .6 .06 1 .06-2.1 .06 .2 .06-1.9 .06 7.5 .06-8.1 .06 8.3 .06-4.5 .06 5.4 .06 4.9 .06-14.6 .06 2.3 .06 5.2 .06-.2 .06-1.8 .06 3.6 .06-.5 .06-.1 .06-2 .06-1.8 .06 5.3 .06-4.1 .06-4 .06 1.3 .06 4.3 .06 2 .06 17.6 .06-24.9 .06-.9 .06 3.8 .06 5.3 .06-4.8 .06 1.6 .06-1.9 .06-.3 .06 12.9 .06-7 .06-9.6 .06 1.7 .06 2.7 .06-.2 .06 2.8 .06-11.7 .06 14.2 .06 2.5 .06-9.9 .06 9.5 .06-3.9 .06-.3 .06 4.7 .06-6.1 .06 7 .06-11.7 .06 8.6 .06-3.6 .06-2.7 .06 11.5 .06-9.1 .06-2 .06 8 .06-1.9 .06-2.9 .06-4 .06-2.3 .06 2.9 .06 7.3 .06-9.2 .06-1.8 .06 5.9 .06 6.2 .06-3.6 .06-8.6 .06 5.8 .06-4.7 .06 9.4 .06-8.1 .06-1.6 .06-.2 .06 4.4 .06 1.7 .06-2.7 .06-2.6 .06 2.6 .06 .5 .06 3.1 .06 .3 .06-1.5 .06 13.3 .06-10.4 .06-8.8 .06 2.7 .06 7.4 .06-8 .06 2.5 .06-8.6 .06 7 .06-6 .06 .5 .06 6 .06 3.5 .06-3.4 .06 .2 .06-.9 .06 2.7 .06-5.7 .06 4.8 .06 3.2 .06-3.9 .06-.4 .06 7.6 .06 .8 .06-3 .06-1.2 .06-5.6 .06 7.5 .06 12.5 .06-16.8 .06 1.3 .06-2.7 .06 1.8 .06 .3 .06-5.5 .06 9.1 .06-2.1 .06 3.5 .06 3.5 .06-9.4 .06 .3 .06-4.4 .06 3.2 .06-1.1 .06-3.1 .06 10 .06 3 .06-6 .06 6.7 .06-9.4 .06-3.4 .06 2.9 .06 10.9 .06-7.2 .06-1.3 .06 3.3 .06 3.7 .06-10 .06 3.8 .06-4.9 .06 5.3 .06-1.5 .06-5.1 .06 5.9 .06 9.3 .06-13.6 .06 9.2 .06-10.1 .06 15.3 .06-13.2 .06 6.6 .06-5.2 .06-3.3 .06-.6 .06 4 .06-3.5 .06 2.7 .06-1.5 .06-.4 .06 2.5 .06 7.8 .06-2.8 .06-8.8 .06 9.6 .06-10.1 .06 3 .06-.5 .06 1.9 .06 9.8 .06-7.3 .06-1.6 .06-1.6 .06 14.1 .06-18.9 .06 2.8 .06-4.2 .06 11.2 .06-.1 .06 2.2 .06-3.6 .06-5.4 .06-3.5 .06 4.1 .06 13.4 .06-6.8 .06-5.5 .06 4.9 .06 2.1 .06 1.7 .06-9.6 .06-3.3 .06 2 .06 3.9 .06 4.6 .06 4.4 .06-13.1 .06 .3 .06 4.9 .06-1.6 .06-5 .06 9.8 .06-7.4 .06 3.8 .06 .4 .06-1.9 .06 5.4 .06-7.3 .06 3.8 .06 3.2 .06-13.6 .06 14 .06-8.3 .06 1.7 .06 2.2 .06-7.7 .06 8.6 .06-4 .06-1.3 .06-1.1 .06 7.3 .06-.5 .06-2 .06-4 .06 6.9 .06-5.7 .06-2.1 .06 8.5 .06-.9 .06 2.1 .06-3 .06-4.1 .06 1.2 .06-.8 .06 .5 .06 1.1 .06-4 .06 2.5 .06 7 .06 6.9 .06-14.4 .06-1.8 .06 9.8 .06-8.5 .06 1.3 .06 4.1 .06 2.8 .06-4 .06 8 .06-6.8 .06-.5 .06-8.7 .06 2.9 .06 10.1 .06 1.3 .06-13.7 .06 3.9 .06 5 .06-1.2 .06 4 .06-5.6 .06 6.5 .06 1.4 .06-.9 .06-7 .06-4.6 .06 1.5 .06 6.9 .06-.7 .06-2.6 .06-1.7 .06-7.4 .06 11.7 .06 3.8 .06-12.3 .06 12.1 .06 2.1 .06-6 .06-8.5 .06 11.5 .06 .8 .06-5.1 .06 3.8 .06-6.4 .06-6.2 .06 14.5 .06-9.4 .06-2.7 .06 12.6 .06-6.7 .06 1.7 .06-3.6 .06 8.3 .06 .4 .06-10.2 .06 7.2 .06-7.5 .06 1.1 .06 1.3 .06-7.5 .06 7.9 .06-2.8 .06 6.3 .06-9.4 .06 7.9 .06 4.9 .06-6.2 .06-6 .06 5.3 .06-3.4 .06-.7 .06 11.6 .06-.4 .06 4.8 .06-8.9 .06 .7 .06 3.4 .06-.6 .06-11.7 .06 4.3 .06 4 .06 3.3 .06-10.8 .06 7.4 .06-.2 .06-5.9 .06 7.7 .06 2.5 .06-5 .06-5.2 .06 2.5 .06 9.4 .06-9.5 .06-1.4 .06 12.5 .06-17.3 .06 7.7 .06-2.3 .06 .1 .06-.7 .06 3.2 .06-4.7 .06 2.6 .06 2 .06-7.9 .06 7 .06-2 .06-1 .06-3.2 .06 7.9 .06-2.3 .06-3.3 .06 7.6 .06-.6 .06-6.5 .06 6.4 .06-8.4 .06 6.6 .06 8.3 .06 4 .06-8 .06-6.4 .06 5.7 .06-10.9 .06 6.5 .06-5.9 .06 8.1 .06-5.1 .06 1.9 .06 5.4 .06-4.9 .06-3.8 .06 7.7 .06-3.5 .06 6.7 .06-15.4 .06 8.3 .06 6.1 .06-5.1 .06-4.3 .06 4.3 .06 1 .06 4 .06-7.5 .06 2.3 .06-2.8 .06 .1 .06 5.7 .06 3.1 .06 .6 .06-11 .06 3.6 .06 9.4 .06-11 .06 4.7 .06 1.3 .06-.5 .06-2.2 .06 2.5 .06-4.4 .06-.3 .06-.3 .06 4.8 .06-4.6 .06 1.8 .06-.5 .06 7.2 .06-3.7 .06 2.5 .06-2.2 .06 3.3 .06-8.9 .06-2.8 .06 4 .06-2.9 .06 3.6 .06 4.2 .06 2.3 .06-3.3 .06-1.8 .06 9.8 .06-13.8 .06 9 .06-13.6 .06 9.5 .06 1.1 .06-11.4 .06 .9 .06 9.2 .06-4.5 .06 3.7 .06-1.2 .06 1.6 .06-4.2 .06 2.7 .06 .5 .06 5.1 .06-.6 .06 1.7 .06-5.5 .06-.7 .06-6.1 .06 6.5 .06 2.7 .06-2 .06-3.6 .06 0 .06 1.7 .06-6.4 .06 4.2 .06 2.7 .06 4.2 .06-12.9 .06 4.8 .06 4.9 .06-1.3 .06 4.2 .06-5.8 .06-.7 .06-4.6 .06 9.1 .06 .3 .06 7 .06-11.8 .06 .6 .06 3.5 .06-.5 .06 .2 .06-3.2 .06 1.9 .06-2.4 .06 9.7 .06-8.1 .06 1.4 .06-2 .06-2.5 .06 6.5 .06-3.5 .06 3.4 .06-5.3 .06 2.9 .06 2.4 .06 5.2 .06-7.8 .06 .9 .06 2.7 .06-5 .06-.5 .06 8.6 .06-2.8 .06-6.1 .06-1.6 .06 6.4 .06-3 .06-.5 .06-1.6 .06 5.8 .06-11.3 .06 3.6 .06-.3 .06 .3 .06 8.7 .06 6.2 .06-3.7 .06-6.8 .06-1.8 .06-.6 .06 4.8 .06 8.9 .06-10.7 .06 3.8 .06-10.3 .06 7.3 .06 7.2 .06-6.1 .06-7.1 .06-.3 .06 1.4 .06 9.4 .06-6.6 .06 3.2 .06 3.3 .06-2.3 .06 11.7 .06-4.7 .06-15.4 .06 6.8 .06 10.6 .06-16.4 .06 15.1 .06-12.8 .06 1.4 .06 .2 .06-3.7 .06-6 .06 1.5 .06 3.3 .06 3.4 .06 2.8 .06-4.5 .06 11.4 .06-10 .06 8.1 .06-1.3 .06-9 .06 5.5 .06 7.8 .06-10.1 .06 4.8 .06-4.1 .06 3.5 .06-9.8 .06 8.9 .06-5.2 .06 10.4 .06 .7 .06-8.9 .06-6.2 .06 4.9 .06 4.1 .06 3.7 .06 2.4 .06-1.8 .06-1.5 .06-2.1 .06-1 .06-1.9 .06 2.6 .06 1.4 .06-8.2 .06 6.7 .06 4.5 .06-3 .06-5.9 .06 5.8 .06-4.5 .06-6.8 .06 4.4 .06-.1 .06 9 .06-6.2 .06-4.3 .06 8.7 .06-3.8 .06 .5 .06-2 .06 1.8 .06 .1 .06-.7 .06-1.4 .06 7.8 .06-9.2 .06 .1 .06 4.1 .06-1.6 .06-2.8 .06-1.2 .06 8.5 .06-4.2 .06 7.4 .06-10.8 .06 1 .06 4.9 .06-2.4 .06 6.7 .06-8.3 .06 2.7 .06 .9 .06-6.5 .06 .2 .06 5.5 .06 2.4 .06-2.2 .06-4.3 .06 4.7 .06 6.9 .06-7.1 .06-.9 .06-3.1 .06 1 .06-1.5 .06 4.4 .06 .8 .06-3.2 .06 .8 .06-1.7 .06 2.7 .06 1.4 .06-1.6 .06 1.3 .06-4 .06 5.7 .06 4.1 .06-13.1 .06 10.8 .06 5.2 .06 1.7 .06-.6 .06-8.8 .06-3.8 .06-3.6 .06 2.4 .06 2.8 .06 5.2 .06-1.9 .06-1.7 .06-3.4 .06 .4 .06-1.6 .06 .6 .06 5.2 .06-.6 .06-5.8 .06 8.7 .06-1.7 .06-8.5 .06 7.6 .06-1.4 .06-5.4 .06 8.9 .06 2.7 .06-13.8 .06 9 .06-3.3 .06 4.7 .06-6.8 .06 1.6 .06 9.3 .06-9.7 .06 1.9 .06 8.2 .06-5.6 .06-4.7 .06 4.6 .06-.7 .06-3.1 .06-2.2 .06-1.9 .06 11.9 .06-5.7 .06 6.9 .06-2.7 .06-3.8 .06-1.2 .06 .9 .06-8.6 .06 6.9 .06-4.5 .06 5.5 .06-4.3 .06 8.7 .06-6.4 .06 7.9 .06-4.8 .06 .3 .06 1.9 .06-5.6 .06-6 .06 7.5 .06 8.9 .06-4.5 .06-2.3 .06-1.3 .06 2.5 .06 2.5 .06-5.9 .06 1.3 .06-6.8 .06 9 .06-3.9 .06 5.6 .06-2.7 .06-7.6 .06 5.6 .06-2.5 .06 6.8 .06-6.7 .06 4.9 .06-.8 .06-6.9 .06 5.7 .06-6.3 .06 .5 .06 5.5 .06 3.2 .06 .9 .06-7.8 .06-1.1 .06 11 .06-8.2 .06 3.3 .06 3.1 .06-9 .06-.9 .06 11.8 .06-7.1 .06 8.8 .06-13.2 .06-3 .06 13 .06-6.6 .06 2 .06 3.3 .06-1 .06 1.8 .06 2.3 .06-11.8 .06 14.5 .06-11 .06 2.4 .06-8.4 .06 12.1 .06-8.7 .06 2.4 .06 3.4 .06-2.3 .06 1.9 .06 5.2 .06-3.9 .06-1.3 .06 8.7 .06-3.8 .06-7.6 .06 2.8 .06 5.9 .06-7.2 .06-2.2 .06 2.6 .06-2.3 .06 .7 .06-3.7 .06 5.8 .06-4.2 .06 7.4 .06 .7 .06-2.4 .06-.3 .06 10.6 .06 1.7 .06-12.4 .06-3.8 .06-.5 .06-3.2 .06 3.7 .06 2.1 .06-5.5 .06 12.1 .06-10.8 .06 3.5 .06 .6 .06 7.3 .06-7.6 .06 4.4 .06-2.2 .06-.2 .06-6.4 .06 7.1 .06-.4 .06-.1 .06-4.2 .06 3 .06-6.4 .06 13.9 .06-11.1 .06 5.9 .06-5.3 .06 5.4 .06 7.4 .06-.6 .06-13.8 .06 7.4 .06 5.4 .06-5.1 .06-7.8 .06 2.2 .06 4.1 .06-.8 .06-.8 .06 6.3 .06-4.9 .06 .5 .06-6.8 .06 7.3 .06-4.1 .06 4.6 .06-6.6 .06 5.1 .06-.4 .06 2 .06-.8 .06-3 .06 2.9 .06-5.1 .06 4.5 .06-.9 .06 5.2 .06-8.7 .06 2.2 .06-.9 .06-4.8 .06 5.8 .06 2.9 .06 .8 .06-7.3 .06 2.6 .06 .7 .06-1 .06 6.4 .06-.5 .06-2.7 .06-5.7 .06 6.6 .06 2.8 .06-.4 .06-4.1 .06 5.8 .06-7 .06 12.1 .06-18.9 .06 15.3 .06-3.4 .06 1.4 .06-3 .06-2.8 .06-1.3 .06 6.4 .06-5.5 .06-1.1 .06 .6 .06-1.8 .06 4.3 .06-4.8 .06 14.9 .06-18.5 .06 3.1 .06 2.8 .06 2.5 .06-5.5 .06 8.9 .06 4.6 .06-6.9 .06-7 .06 5.3 .06 10.5 .06-20.3 .06 3.1 .06 2.5 .06 9.8 .06-11.8 .06 .5 .06 4 .06 5.1 .06-5.4 .06 7.7 .06-8.4 .06 12.9 .06-15.5 .06 2.3 .06-2.1 .06 4.9 .06-2.5 .06 8.3 .06 .1 .06 .1 .06-2.8 .06-1.9 .06-2.1 .06-3 .06 6.8 .06-3.8 .06 1.1 .06-1.9 .06-7.3 .06 5.2 .06 1.1 .06 5.5 .06 1.6 .06 2.3 .06-2.6 .06-7.4 .06-1 .06 6.7 .06-5.6 .06-2.6 .06 6.4 .06-7.6 .06 11.4 .06 .2 .06-10.6 .06 8.7 .06-1.8 .06 2.4 .06 .7 .06-.5 .06-2.9 .06 6 .06-5.4 .06 1 .06-6.8 .06 6.4 .06 .2 .06-3.3 .06-2.9 .06 1.7 .06 5.5 .06-3.3 .06-1.7 .06 5 .06-2.3 .06 1.1 .06 7.4 .06-3.7 .06-13.8 .06 .1 .06 14 .06-8.6 .06-.6 .06 1.3 .06 7.8 .06-10.2 .06 .2 .06 3.6 .06-2.8 .06 0 .06 3.9 .06 4.6 .06 1.1 .06-6.8 .06-1.3 .06 9.3 .06-2.7 .06-3.2 .06-6.2 .06 5.2 .06 .9 .06-5.1 .06 2.1 .06 8.1 .06-9.9 .06 10.7 .06 2.4 .06-5.8 .06 3.8 .06 1.3 .06-11.8 .06 7.4 .06-14.1 .06 4 .06 5.3 .06 7.2 .06-7.5 .06 4.6 .06-.7 .06-7.2 .06 1.5 .06 1.2 .06-3 .06 2.2 .06 3.6 .06-2.1 .06-4.2 .06 7.6 .06 2.6 .06-.4 .06-5.1 .06-2 .06-.9 .06 3.1 .06-3.4 .06 7.9 .06-9.6 .06 2.2 .06-.7 .06 .6 .06 8.6 .06-5.3 .06 .2 .06-1.5 .06 3.3 .06 6.5 .06-6.4 .06-9.8 .06 1.8 .06 5.8 .06 9.4 .06-11.6 .06 .7 .06 8.7 .06-2.2 .06 1.4 .06-10.9 .06 1.9 .06 7.8 .06-6.2 .06 6.5 .06-8.3 .06 2.2 .06-3.3 .06-2 .06 2.9 .06-.7 .06 15.3 .06-17.7 .06 10.9 .06-9.8 .06 3 .06-2.4 .06 5.5 .06-1.5 .06 5.6 .06-7.2 .06 .6 .06 1.6 .06 .4 .06-.6 .06-3.3 .06-2.2 .06 2.5 .06 15.2 .06-11.2 .06-.6 .06 5.1 .06-6.4 .06-5.4 .06 4.7 .06 4.1 .06-1.1 .06-8.2 .06 8.8 .06 2.7 .06-10.6 .06 7.9 .06 3.3 .06-8 .06-3 .06 1.6 .06 .1 .06 2.7 .06 17.8 .06-18.5 .06 3 .06 2.6 .06-7 .06 3 .06 4.5 .06-1.6 .06 1.1 .06 2.9 .06-3.7 .06 1.6 .06-2.5 .06-5.5 .06 16.7 .06-14.8 .06 5.2 .06 10.7 .06-16.4 .06-3.1 .06 4.2 .06 .2 .06 5.9 .06-1.9 .06-1 .06 8.5 .06-11.6 .06 3.3 .06 1.5 .06 11.7 .06-19.5 .06 13.4 .06 .5 .06-8.5 .06-.9 .06-6.2 .06 14.5 .06 7.3 .06-12.8 .06-2.3 .06-3.4 .06 .6 .06-1.6 .06 6.1 .06-6.9 .06 6.2 .06-5.3 .06 2.9 .06-.2 .06 10.8 .06-8.1 .06-4.1 .06-1.8 .06 1.9 .06 1.5 .06-3 .06 4.9 .06 1.1 .06-6.3 .06 5.5 .06-4.2 .06 .5 .06 11.8 .06-12.9 .06 4.1 .06-.4 .06-3.6 .06 9.8 .06-6.3 .06-1 .06-5.3 .06 2.2 .06 2.5 .06 2.6 .06 9 .06-9.7 .06 7.8 .06-16.1 .06 15.2 .06-7.6 .06 5 .06 8.5 .06-15.8 .06-.1 .06 10.9 .06-10.2 .06 4.5 .06-5 .06-4.2 .06 7 .06-1 .06 4.4 .06 3.7 .06-1.4 .06-8.8 .06 10.5 .06-11.9 .06-.9 .06 8.2 .06-2.9 .06 .5 .06-7.3 .06 10.2 .06-4 .06 6.9 .06-4.9 .06 3.6 .06-7.5 .06 3.4 .06-4.4 .06 9.2 .06-.3 .06-15 .06 13.1 .06-1.1 .06-1.7 .06-.8 .06 .8 .06 1.5 .06-4.8 .06 .3 .06 7.4 .06 .4 .06-8.1 .06 9 .06-10.4 .06 5.8 .06 2.1 .06-.9 .06-6.2 .06 8.8 .06-2.4 .06-5.9 .06-.6 .06 8.4 .06-5.7 .06-3.5 .06 6.2 .06-8.2 .06 11.6 .06-10.1 .06 3.9 .06-1.3 .06 9.6 .06-14.8 .06 .6 .06 12 .06-3.2 .06-3.9 .06-2.4 .06 6.5 .06-1.5 .06-3 .06 3 .06 2.9 .06-5 .06 9.9 .06-5.5 .06-.9 .06-.9 .06-6.3 .06 8.5 .06-4.9 .06 4.2 .06 1.1 .06-8.8 .06 4.4 .06 0 .06 10.1 .06-14.1 .06 5 .06-3.7 .06 22.2 .06-23.1 .06 8.3 .06-8.9 .06 17 .06-14.2 .06 5.6 .06-7.5 .06 15.5 .06-13 .06-3.4 .06 3.3 .06 10 .06-4.9 .06-8.3 .06 6.3 .06-.9 .06 .9 .06-6 .06 .9 .06 14.1 .06 4.7 .06-17.1 .06-.2 .06 7.1 .06-10.5 .06 4.3 .06 .7 .06 .2 .06-2.5 .06 6.8 .06-3.3 .06 .6 .06 3.6 .06 3.3 .06-5.2 .06-1.4 .06-2.8 .06-3 .06 5.2 .06-4.1 .06-.8 .06-1.9 .06 13.2 .06-3.9 .06-.2 .06 .9 .06-8.4 .06 16.7 .06-12.4 .06-2.4 .06 14.6 .06-6.9 .06 3.3 .06-7 .06 7.2 .06-11.8 .06 7.6 .06-9.9 .06 2.6 .06 13.1 .06-11.4 .06 3.6 .06-5.5 .06 3.1 .06 6.6 .06-10.1 .06 13 .06-15.7 .06 10 .06-2.6 .06-6.9 .06 9.9 .06-1.8 .06-6.4 .06 6.8 .06-7 .06 7.4 .06-3.2 .06-.4 .06 2.4 .06-2.8 .06 5.9 .06-4.8 .06 1.8 .06-3.2 .06 2.7 .06-.2 .06-2.6 .06 6.3 .06-5.7 .06-1.2 .06 2 .06 .1 .06-1.1 .06-2.4 .06-1.9 .06 4.4 .06 4.1 .06-.4 .06 1.8 .06-1.5 .06 2.8 .06 0 .06-9.4 .06 3.6 .06 7 .06-3.9 .06-3.1 .06 8 .06-5.2 .06-1.9 .06-4 .06 5.8 .06 4.4 .06-8 .06 6.7 .06-10.1 .06 5.9 .06 .5 .06-1.4 .06 .9 .06-4.2 .06 7.5 .06-4.4 .06 3.1 .06-.3 .06-4.3 .06 15.3 .06-20.2 .06 2.7 .06 2.1 .06 4.1 .06 .1 .06 1.6 .06-4.5 .06-1.1 .06 2.4 .06 1.5 .06-5.2 .06 .8 .06 4.5 .06-7 .06-1.9 .06 7.7 .06-5.5 .06 4.2 .06-4.8 .06 3.9 .06 1.7 .06-1.7 .06-3.5 .06 5.5 .06-2.6 .06-.9 .06 5 .06 3.2 .06-8.7 .06 6.9 .06-7.8 .06 6.9 .06-5.3 .06-5.9 .06 6.5 .06 2.9 .06 10.1 .06-12.5 .06-3.2 .06 7.3 .06-1.7 .06 1.4 .06-5.1 .06 2.7 .06-4.1 .06-.5 .06 5.3 .06 3 .06 .8 .06-6.3 .06 9.7 .06-9.6 .06 3.9 .06 3 .06-6.7 .06-1.8 .06 6.7 .06-2.2 .06-2.6 .06 2.8 .06-4.6 .06 16.5 .06-14.2 .06 2.2 .06-5.9 .06 2.3 .06 8.7 .06-4.2 .06 8.2 .06-11.1 .06 2.9 .06-3.4 .06-.4 .06 .6 .06 3.6 .06-2.8 .06 .6 .06 3.5 .06-5.3 .06 11 .06-10.5 .06 5.2 .06-2.8 .06-3.1 .06 .4 .06 3.2 .06-1.4 .06-2.3 .06 5.2 .06-1.9 .06-7.1 .06 5.5 .06 2.3 .06 5.6 .06-8.2 .06-1.5 .06 5.1 .06-.3 .06-6.4 .06-4.6 .06 6.8 .06-2.5 .06 3 .06 1.1 .06-2.2 .06 5.5 .06 1.7 .06-12.3 .06 8.8 .06-1.4 .06 3.5 .06-5.3 .06-3.9 .06-.1 .06 1.3 .06 6.4 .06-1.1 .06-1.5 .06-5 .06 5.7 .06 2.6 .06-10.3 .06 4.4 .06 11.3 .06 1.4 .06-14.5 .06 5.7 .06-5.5 .06 11.5 .06-10.9 .06-.5 .06 2.3 .06-.2 .06-1.7 .06 11.1 .06-8.4 .06-2.8 .06 7.2 .06-5.3 .06 .3 .06-1 .06 1.9 .06 .2 .06-2.1 .06 5.2 .06-5.5 .06 8.3 .06-7.2 .06 1.2 .06 12.7 .06-12.1 .06 1.4 .06 .2 .06-3.7 .06 3.9 .06-5.5 .06 6.6 .06-.7 .06 2.4 .06-11.4 .06 7.1 .06 6.6 .06-5.7 .06-.1 .06 2.6 .06-2.8 .06-.1 .06 6.6 .06-10.6 .06 4.7 .06-2.3 .06 2.5 .06 .8 .06-4.4 .06 3.1 .06 11.3 .06-10.8 .06-7.1 .06 19.1 .06-15.8 .06-3.2 .06 10.6 .06-4.3 .06 3.5 .06-5.6 .06 2.5 .06-1.8 .06 4.9 .06 1.9 .06-6.7 .06 6.1 .06-5.2 .06-3.2 .06 3.2 .06-5.4 .06 2.7 .06 6 .06-1.7 .06 1.4 .06-3.7 .06-.4 .06 5.5 .06-3 .06 17.2 .06-15.7 .06 5.7 .06-6.6 .06-3.4 .06 8.6 .06-5.9 .06 4.8 .06 1.3 .06-9 .06 10.5 .06-7.7 .06-4.8 .06 7 .06 1.9 .06-12 .06 3 .06 8.7 .06 8.2 .06-13.5 .06 7.8 .06-14.1 .06 14.7 .06 1.4 .06-2.6 .06-4.3 .06-2 .06 2.3 .06-5 .06 13 .06-12.6 .06-.2 .06 1.9 .06 2.9 .06 1.6 .06-5.1 .06 .7 .06 2.3 .06-1.6 .06 4.4 .06 3.6 .06-2.8 .06-.8 .06-3.3 .06-4.5 .06 7.1 .06-4.1 .06 20.5 .06-21 .06 3.5 .06 4.4 .06 1.1 .06-9.2 .06-4.7 .06 5.1 .06 5.5 .06 2.3 .06-5.7 .06-2.7 .06 1.5 .06-6.1 .06 .2 .06 13.6 .06-12.8 .06 3.1 .06 6.2 .06-6.1 .06-2.2 .06 17.3 .06-4.5 .06-7.7 .06-2.1 .06 1.3 .06-.4 .06-1.1 .06 2.3 .06-1 .06 .5 .06-6.4 .06-.9 .06 6.1 .06 5.9 .06-1.2 .06 1.2 .06-3 .06 1.3 .06 .1 .06-6.7 .06 7.4 .06-5.5 .06 .9 .06 4.8 .06-1.5 .06 6.4 .06-5.3 .06 1 .06-4.7 .06 7.8 .06-6.2 .06 .8 .06 4.3 .06 9.2 .06-8.9 .06-3.5 .06 1.4 .06-3.7 .06-1.8 .06 6.4 .06-10.4 .06 6.2 .06 2.1 .06-9.9 .06 8 .06-2 .06 4.7 .06-5.8 .06 5.4 .06-2.8 .06 2.8 .06 .1 .06 1.7 .06-.2 .06-8.1 .06 8.4 .06-.7 .06 4.9 .06 2.4 .06-8.2 .06 .1 .06 1.2 .06-4.7 .06-4.1 .06 6.9 .06 3 .06-3 .06-4.5 .06 4 .06 6.1 .06 4.6 .06-13.5 .06-.1 .06 7.1 .06-7.2 .06-1.9 .06 4.4 .06 .5 .06-7.9 .06 .3 .06-1.3 .06 8.2 .06-5.2 .06 4.1 .06-5.8 .06 12.4 .06-7.1 .06 14.6 .06-10.8 .06-6.1 .06 17.9 .06-12.1 .06 7.6 .06-1.7 .06-5.9 .06-2.7 .06 3.1 .06 .4 .06-9.5 .06 9.7 .06-5.3 .06-3.5 .06 6.3 .06-3.7 .06-4.9 .06 5.3 .06 3.8 .06-10.2 .06 19.6 .06-12 .06-1.7 .06 6.9 .06-7.1 .06 2.4 .06 3.8 .06 20.9 .06-8.2 .06-20.5 .06-1.6 .06 6.4 .06-2.2 .06 .2 .06 1.6 .06 3.4 .06-1.5 .06-5.9 .06 1.3 .06-2.6 .06 10.4 .06-7.8 .06 1.2 .06-6.4 .06 7.4 .06-7.6 .06 7.8 .06 4.3 .06-7.4 .06 5 .06 3.5 .06-2.1 .06 .8 .06 .4 .06-2.7 .06 1.6 .06-6.8 .06 8.7 .06-1.8 .06 5.8 .06-11.1 .06 5.4 .06 6.1 .06-.5 .06-2.5 .06 7.2 .06-16.8 .06-1.2 .06 23.8 .06-20.2 .06-1.7 .06 1.8 .06-2 .06 2.5 .06 0 .06 1.1 .06-.7 .06 1.5 .06-7.5 .06 6.3 .06-5.3 .06-.4 .06 8.7 .06 3.1 .06 .4 .06-6.6 .06 1.5 .06 3.3 .06 1 .06-2 .06-.4 .06-6.2 .06 10.6 .06 .3 .06 1.4 .06-7.7 .06-1.6 .06 .4 .06-5 .06 3.9 .06 7.8 .06-10 .06 .9 .06 14 .06 5.4 .06-7 .06-11.1 .06-2.8 .06 5.6 .06 4 .06-8.6 .06 13.5 .06-10.7 .06-2.7 .06 0 .06-.1 .06-.1 .06 10.3 .06-11 .06 6.3 .06 2.6 .06-4.7 .06 1.2 .06-6.4 .06 .4 .06 11.3 .06-4.7 .06-3 .06-.6 .06 2.7 .06-7 .06 12.2 .06-11.1 .06 1 .06 15.2 .06-3.2 .06-6.2 .06-3.9 .06 .4 .06-4.4 .06 3.8 .06-1.5 .06 4.6 .06-4.3 .06 5.5 .06-.2 .06-2.8 .06 1.9 .06 1.6 .06-.7 .06-.5 .06-.7 .06-1.7 .06 .4 .06-9.1 .06 2.2 .06 12.7 .06 1.2 .06-5.1 .06 1.4 .06 1.9 .06 1.8 .06-10.8 .06 2.5 .06 5 .06-8 .06 4.7 .06 2.6 .06-1.1 .06 2.3 .06-8.9 .06 2.6 .06 6 .06-7.1 .06 12.1 .06-15.7 .06 17.8 .06-17.1 .06 6 .06-.2 .06 5.9 .06-6 .06 6.5 .06 2.2 .06-3.7 .06-9.7 .06 9.6 .06 11.6 .06-13.5 .06-4.9 .06 7 .06-3 .06 3.7 .06-2.9 .06-2.2 .06 7 .06-11.9 .06 1.7 .06 11.6 .06-12 .06 3.7 .06-1.8 .06 8.6 .06 .2 .06-8.4 .06-1.6 .06 .2 .06 1.5 .06 7.5 .06 3 .06-1.7 .06-4.3 .06-2.6 .06 1.1 .06 8.8 .06-7.6 .06-5.3 .06 15.6 .06-18 .06 4.2 .06 7.6 .06-6.6 .06 14.9 .06-8 .06-.3 .06-.6 .06-5.7 .06 3.1 .06 2.4 .06-.8 .06-11.5 .06 8.1 .06 1.3 .06-8.5 .06 7.3 .06 .4 .06 5.5 .06-9.6 .06 6.8 .06 4.7 .06-14.1 .06 3.9 .06 4.6 .06-1.8 .06-.2 .06 .3 .06 14.5 .06-16 .06 3.3 .06-1.8 .06 7.9 .06-4.6 .06-10.8 .06 2.5 .06 2.5 .06 9.9 .06-11.3 .06-3 .06 5 .06 3.7 .06-.1 .06-1.5 .06 5 .06-9.9 .06 6.4 .06 1.2 .06-9.1 .06 9.1 .06-2.2 .06 1.6 .06-3.7 .06-.9 .06 .1 .06-.7 .06-1.3 .06 5.2 .06-5.8 .06 4.8 .06 12.1 .06-7.6 .06 3.4 .06-6.7 .06-2.8 .06 5.9 .06-5.8 .06-.6 .06-4.5 .06 7.4 .06 6.9 .06-7.8 .06 5.1 .06-1.1 .06-5.6 .06 4.9 .06-5.3 .06-3.8 .06 4.2 .06 6.4 .06-9.2 .06 6.9 .06-1.1 .06-5.2 .06 11.3 .06-8.4 .06 .2 .06-1.5 .06 2.6 .06-1 .06-1.8 .06-.8 .06 15.1 .06-15.4 .06 7 .06-5.4 .06 .1 .06-1.6 .06 .9 .06-8.2 .06 9.4 .06 2.5 .06-1.7 .06 8.5 .06-6.4 .06-7.4 .06 5.9 .06 1.7 .06 8.4 .06-11.9 .06 18.8 .06-16.5 .06 12.5 .06-10.5 .06 4 .06-.3 .06-5.5 .06 1.2 .06-6.7 .06 .9 .06 9.2 .06-10.2 .06-3.4 .06 2.4 .06 8 .06-6.8 .06-3.6 .06 7.5 .06-2.9 .06-.6 .06 .8 .06 8.9 .06-8.8 .06-1.9 .06 11.3 .06-2.3 .06-12.3 .06 7.4 .06-.8 .06-1.2 .06 6.3 .06-.6 .06 .8 .06-4.8 .06 7.9 .06 3.4 .06-6 .06-6.2 .06-.4 .06 1.8 .06-2.5 .06 4.5 .06 9.8 .06-16.9 .06 8.5 .06-1.5 .06-3.3 .06 1.1 .06 12 .06-4.8 .06-8.9 .06 1.4 .06 4.5 .06-5.4 .06 5.3 .06 1.4 .06-10.7 .06 7.6 .06-.5 .06-2.7 .06 5.7 .06-2.2 .06 1.7 .06-3.4 .06 1.8 .06-.4 .06 4.4 .06-3.3 .06 .1 .06 7.5 .06 .4 .06-8.6 .06 1.1 .06-2.4 .06 9.5 .06-9.7 .06 3.3 .06-1.5 .06-2.5 .06 8.6 .06-7.2 .06-10 .06 16.1 .06-6.5 .06-5.2 .06 9.8 .06-12.9 .06 15.5 .06-8.2 .06 4.3 .06 7.2 .06-11.1 .06 5 .06-1.2 .06 12.6 .06-9 .06-.1 .06-1.1 .06-10.1 .06 6.9 .06-3.1 .06 17.4 .06-20.7 .06 5.6 .06 3.6 .06-2.9 .06-3.5 .06 1.2 .06-.2 .06 11.4 .06-13.3 .06 6 .06 2.3 .06-7.1 .06 3.3 .06-8.5 .06 17.9 .06-10.3 .06-3.3 .06 13.9 .06-9 .06 5.5 .06 4 .06-16.5 .06 3.9 .06-3.5 .06 2.1 .06 10 .06-3.5 .06-3.9 .06-2.3 .06 4 .06-2.1 .06 1.8 .06 2.6 .06-3.8 .06 2.1 .06-6 .06 12 .06-8.3 .06-1.1 .06-5 .06 9 .06-2.8 .06 .5 .06 .2 .06 2.7 .06-5.1 .06 .5 .06 9.1 .06-3.5 .06-5.2 .06 3.7 .06-1.9 .06-4.4 .06 .2 .06 8 .06-7.2 .06 2.7 .06-6.8 .06 4.4 .06 0 .06 5.7 .06-.6 .06 1.1 .06-7 .06 17 .06-12.6 .06 5.5 .06-9.8 .06-.2 .06 15.7 .06-8.7 .06 5.7 .06-4 .06-5 .06 1.2 .06-2.7 .06-.7 .06-1.8 .06 6.3 .06-4.5 .06 2.8 .06 1.1 .06-3 .06-5.2 .06 4.7 .06-1.5 .06 10.5 .06-8.3 .06-1.3 .06 9.1 .06-7.6 .06-8.5 .06 6.6 .06 4.1 .06-6.7 .06 15.4 .06-14.4 .06 .6 .06 10.7 .06-10.7 .06 2.4 .06 11.9 .06-10.8 .06 1.1 .06 2.2 .06-2.9 .06 3.3 .06-5.3 .06 2.6 .06-1.5 .06 11.7 .06-14.2 .06 4.8 .06 4.2 .06-1.3 .06-4.6 .06-.4 .06 3.7 .06 4.2 .06 1.5 .06-9 .06 3.6 .06 9.4 .06-13 .06 2 .06 2.6 .06-.6 .06-.6 .06 1 .06-1.1 .06-8.5 .06 1.7 .06 10.4 .06 13.5 .06-20.1 .06 1.8 .06 1.7 .06 0 .06-4.7 .06 5.8 .06-1.4 .06-3.2 .06-4 .06 8.2 .06-3.9 .06-1.4 .06 3 .06 .9 .06-3.3 .06 8.9 .06-3.4 .06-1.2 .06-1 .06-4.2 .06 1.8 .06-3.5 .06-1.7 .06 5.5 .06-4.7 .06 4.8 .06 1.1 .06 1.7 .06-2.8 .06-2.1 .06 5.1 .06-4.8 .06 1.7 .06 7.9 .06-12.6 .06 10.4 .06-2.8 .06 1.8 .06-1.6 .06-8.9 .06 7.9 .06-4.1 .06 6.4 .06-10 .06 1 .06 4.4 .06 2.7 .06 3.4 .06 1.3 .06-2 .06 .5 .06-3.7 .06-.5 .06-2.6 .06-.5 .06 3 .06-1.1 .06-3.3 .06 8.9 .06-4.1 .06 2.5 .06-2.3 .06-4.6 .06 14.1 .06-9.3 .06 1.7 .06 .1 .06-9 .06 1.7 .06 6.6 .06-3.6 .06 2.1 .06 1.2 .06-6.8 .06 6.3 .06 9.1 .06-14.5 .06 3.1 .06 4.4 .06 6.8 .06-11.1 .06 1.4 .06 9.2 .06-5.2 .06 4.4 .06-6.2 .06-1.4 .06 4.6 .06 .4 .06-10.8 .06 13.3 .06-5.2 .06-5.8 .06-1.6 .06 19.8 .06-14.4 .06 1.7 .06-6.8 .06 5.8 .06 5.1 .06-4.7 .06 4 .06-9.4 .06 11.5 .06-3.6 .06-6.7 .06-1.6 .06 5 .06 8.4 .06-6.7 .06 15.6 .06-20.2 .06 2.6 .06 1.1 .06 4.8 .06-5.1 .06-3.7 .06-4 .06 13.7 .06-7.5 .06-2.4 .06 18 .06-16.6 .06 2.2 .06-2.8 .06-.1 .06 3.4 .06 .3 .06-1.8 .06 4.8 .06-2.6 .06-6.4 .06 16 .06-15.4 .06 10.9 .06-1.9 .06-8.5 .06 4 .06-2.3 .06 .5 .06-.6 .06 11.4 .06-9.9 .06-1.4 .06-.6 .06 5 .06 5.8 .06-13.2 .06 5.6 .06-6.5 .06 2.4 .06 3 .06-.1 .06 5.4 .06-6.6 .06-1.6 .06 10.9 .06-8.6 .06 2.4 .06-9.8 .06 9.1 .06 7 .06-6.3 .06 7.3 .06 .4 .06-10 .06-2.1 .06-3.1 .06 6.5 .06-6.7 .06 7.1 .06-5.5 .06-3 .06 11.5 .06-2.2 .06 2.6 .06-7.2 .06-.4 .06 2.6 .06-4.1 .06 4.7 .06 7 .06-5.2 .06 .5 .06-4 .06 10.7 .06-7.9 .06-1.3 .06-5.4 .06 4.9 .06 1.7 .06-.9 .06 5.8 .06 .3 .06 1.2 .06-6.1 .06-3.5 .06 2.7 .06-4.5 .06 10.7 .06-.7 .06-15.2 .06 4.7 .06 4.1 .06 11.9 .06-.8 .06-4.6 .06-8.4 .06 9.4 .06-5.2 .06-7.3 .06 14.2 .06-4.4 .06-6.7 .06 7.2 .06-7.9 .06 3.3 .06-3.9 .06 9.7 .06 4.2 .06-6 .06-3.7 .06-1.2 .06-3.5 .06 6.2 .06-4.6 .06 4.4 .06-.7 .06 1.1 .06-6 .06 15.9 .06-11.7 .06 1.7 .06-1.5 .06-1.8 .06 5.6 .06-1.5 .06 1.4 .06 1.4 .06 4.3 .06 .6 .06-10.5 .06 4.3 .06-1.1 .06-2.3 .06 1.7 .06 3.6 .06-3.7 .06 1.8 .06-6.9 .06 .4 .06 9.5 .06-6 .06-1.6 .06-1.9 .06 10.7 .06-13.6 .06 8.6 .06-1 .06 1.6 .06 1.4 .06-3.4 .06-4.4 .06 2.1 .06-.5 .06-.6 .06 0 .06-.9 .06 10.5 .06-6.7 .06 6.2 .06-5.2 .06 5.3 .06-7 .06 8.8 .06-9.3 .06 3.3 .06 3.3 .06 8.3 .06-8.6 .06-3.7 .06-.5 .06 .5 .06 5.4 .06-4.7 .06-2.3 .06-3.4 .06-3.9 .06 10.9 .06 3.4 .06-5.3 .06-1.6 .06-.8 .06 2 .06-4.1 .06 3.5 .06 .3 .06 1.8 .06-3.8 .06-4.2 .06 7 .06-3 .06 7.6 .06-.9 .06-5.7 .06-1.4 .06 .7 .06 5.4 .06 0 .06-.1 .06 3.1 .06-11.2 .06 10.8 .06-6.8 .06 2.4 .06-7.1 .06 5.8 .06-2 .06-1 .06-1.1 .06 9.8 .06-6.3 .06 1.1 .06-2.4 .06-2.4 .06 3.2 .06 .1 .06 3.6 .06 6.3 .06-1.1 .06-7.6 .06 2 .06-2.5 .06 1.8 .06-.7 .06-5.2 .06 .1 .06 5.2 .06-.5 .06 12.2 .06-13 .06 1.2 .06 3.6 .06 4.3 .06-5.4 .06-3.5 .06 7.6 .06-5.5 .06 3.3 .06 1.1 .06-5.2 .06-4.3 .06 6.3 .06-2.3 .06-.5 .06 4.9 .06-3.6 .06-3.3 .06 7.1 .06-7.4 .06 5.1 .06 .6 .06-2.2 .06-5.3 .06 4.7 .06 1.4 .06 4.4 .06-6.9 .06-4.9 .06 4.7 .06-.3 .06 8.8 .06-3.2 .06-10.3 .06 9.9 .06-2.4 .06-5.9 .06 .2 .06 13.7 .06-4.7 .06-4.8 .06 3.9 .06 1.6 .06-8.4 .06-1.4 .06 6.8 .06 4.3 .06-4.3 .06-2.7 .06 1.9 .06-8.4 .06 8.7 .06 3.5 .06-7.8 .06 20.9 .06-15.4 .06 3.6 .06-6.5 .06 1.6 .06 5.5 .06-8.1 .06 4 .06-8 .06 7.7 .06-2.6 .06 1.2 .06 4.2 .06-11.3 .06 4.6 .06 .3 .06-2.2 .06 15.2 .06-15.9 .06 12.1 .06-6.6 .06-7.3 .06 3.7 .06 5.4 .06-.9 .06 5.8 .06-2.3 .06 3.4 .06-.8 .06-6.2 .06 7.5 .06-.8 .06-7.6 .06-7.3 .06 7.9 .06 12.7 .06-6.8 .06 7.3 .06-11.8 .06 .3 .06 3.8 .06 .8 .06-12.9 .06 11 .06 6.9 .06-13.6 .06 .8 .06-3.6 .06 3.8 .06 4.8 .06-3 .06 .8 .06 7.1 .06-8.1 .06-5.3 .06 8.7 .06-9.9 .06 4.5 .06 7.1 .06-5.7 .06-.8 .06 2.2 .06-1.8 .06 4.2 .06 3.6 .06-10.4 .06-1 .06 8.6 .06 3.4 .06 1.6 .06-2.5 .06-1.1 .06-6.8 .06-9.4 .06 7.6 .06 3.9 .06 .4 .06 2.2 .06 2 .06-5.4 .06-4.8 .06 11 .06-6.4 .06 6.4 .06-.2 .06-1.7 .06 4.8 .06-3.6 .06-11.3 .06 14.6 .06 6.6 .06-11.6 .06-4.1 .06 .5 .06-4.1 .06 5.1 .06-2.5 .06 2.3 .06 3.7 .06-2.9 .06 2.3 .06-7.8 .06 2.1 .06-.1 .06 3.2 .06-.2 .06 11.1 .06-4 .06-1.6 .06 8.4 .06-17.6 .06 12.4 .06-11.8 .06 3.7 .06 1.9 .06-9.5 .06 8.6 .06-1.6 .06-6.6 .06 10.4 .06 6.4 .06-9.8 .06 4.7 .06-3 .06 .7 .06 1.4 .06-9.3 .06 4.1 .06 .7 .06-.6 .06-.3 .06 1 .06-1.8 .06 5.1 .06-2.4 .06 3.9 .06-8.3 .06 4.1 .06 2.5 .06-3.8 .06-5.9 .06 4.5 .06 6.1 .06-4.9 .06 1.7 .06-1.1 .06 .2 .06 2.3 .06-4.4 .06 7.6 .06-2.8 .06-1 .06-2.8 .06 14.2 .06-.3 .06-12.2 .06 .9 .06 .2 .06 11 .06-14.3 .06 3.6 .06-.3 .06 1 .06 1.1 .06 2.6 .06-8.5 .06 3 .06 0 .06 15.4 .06-14.8 .06 1.6 .06-2.5 .06 .6 .06-4 .06 5.8 .06-1.1 .06 6.3 .06-8.9 .06 2.5 .06 7.3 .06-6.7 .06 1.4 .06-1.2 .06-1.7 .06 2.3 .06 7.1 .06-.2 .06-9.5 .06 3.2 .06 5 .06-2.8 .06-4 .06 7.5 .06 .8 .06-5.7 .06 4.3 .06-3.2 .06-.9 .06 .2 .06-.5 .06 5.3 .06-1.9 .06-2.9 .06 12.3 .06-19.6 .06 6.5 .06-2.7 .06 7.4 .06-7.6 .06 2.8 .06-5.9 .06 7.8 .06-3 .06 5.9 .06-7.4 .06 5 .06-7.7 .06 1.2 .06 5 .06 1.8 .06-2.7 .06-3.5 .06 11 .06-4.4 .06-.9 .06-1 .06 6.2 .06-11.3 .06 4.5 .06 5 .06-3.6 .06-1.8 .06 3.6 .06 .1 .06-2.1 .06-3.4 .06-1.4 .06 2.9 .06 1.9 .06-1.7 .06 2.3 .06-.4 .06 .5 .06-1 .06-7.3 .06 5.8 .06-.7 .06-2.1 .06 4.6 .06 3.9 .06 2.3 .06-10 .06 6.3 .06-2.6 .06 8.9 .06-8.2 .06-.2 .06 5.2 .06-6.7 .06-1.4 .06-3.9 .06 6.6 .06-7.3 .06 5.2 .06-1.1 .06 7.1 .06-8.2 .06 1.7 .06 5 .06 9.8 .06-13.2 .06 1.3 .06 .5 .06 5.7 .06-14.3 .06 10.9 .06-8.7 .06-1.4 .06 5.3 .06 6.7 .06-7.8 .06 12.3 .06-2.6 .06-5.9 .06-4 .06-1 .06 8.3 .06-3.1 .06 2.3 .06 8.6 .06-12.3 .06-4.2 .06 1.6 .06 14.5 .06-6.4 .06 1.3 .06-3.5 .06-1.7 .06 3.3 .06-3.9 .06-2.2 .06 1.1 .06 6.5 .06-10.8 .06 .8 .06 9.9 .06 7.3 .06-5 .06-5.3 .06-4.5 .06 1 .06-4.7 .06 9.1 .06-2.9 .06-6.7 .06 3.5 .06 .1 .06 1.6 .06 12.7 .06-5.4 .06-6.9 .06-1.1 .06 .2 .06-.4 .06 0 .06 4.5 .06-2.6 .06 3.4 .06 3.8 .06-12.5 .06 3.5 .06 10.5 .06-10.8 .06-3 .06 5.9 .06 2.6 .06 2.3 .06-4.8 .06 3.7 .06 4.8 .06-6.8 .06-5.3 .06 5.2 .06 .5 .06 5 .06-6.2 .06 4.8 .06-11.3 .06-.6 .06 3.9 .06 2.8 .06 .8 .06-1.3 .06-7 .06 7.4 .06 12.1 .06-13.3 .06-.9 .06 3.6 .06-.7 .06 2.5 .06-4.9 .06-4.8 .06 12 .06-2.7 .06-4.2 .06 8.5 .06-11.6 .06 3 .06 1.1 .06 3.2 .06-2 .06-4.5 .06 10.3 .06 1 .06-2.9 .06 .4 .06-4.2 .06 6 .06-9.6 .06 6.1 .06 10.4 .06 .8 .06-13.1 .06-1.7 .06-1.1 .06 3.7 .06-5.8 .06 .3 .06 4.3 .06 6.4 .06 4.3 .06-18.9 .06 21.4 .06-15.8 .06-4.9 .06 3.9 .06 8.6 .06-3.1 .06-8.7 .06 12.6 .06-9.5 .06 8.1 .06 .4 .06-4.4 .06-4.3 .06 1 .06 4.4 .06 .9 .06-5.8 .06 3.9 .06 .8 .06-5.7 .06-2.1 .06 8 .06 3 .06-1.6 .06 4.6 .06-8.6 .06-.2 .06-1.1 .06 12 .06-10.9 .06 2 .06 5.4 .06-6.4 .06 2.2 .06-4.4 .06 2.3 .06 .5 .06 2.3 .06 3.8 .06 .2 .06-1.4 .06-6.1 .06-2.7 .06 5.6 .06-.9 .06 3.8 .06-2.6 .06-3.5 .06-2 .06-1.3 .06 14.8 .06-10 .06 2.5 .06 7.5 .06-2.4 .06-9.1 .06 8.7 .06-2.8 .06-5.1 .06-.6 .06 9.3 .06-9.8 .06 8.9 .06-3 .06 3 .06-6.7 .06 2.8 .06-.6 .06 17.5 .06-15.5 .06-.4 .06 .2 .06 7.6 .06-10.1 .06-4.6 .06 4.9 .06 2.4 .06 2.9 .06-5.5 .06 3.7 .06-7.4 .06 2.7 .06 .9 .06-5 .06 4 .06-5.6 .06 .4 .06 8.1 .06 4.9 .06-10.1 .06 4.2 .06 .1 .06-.9 .06 2.4 .06 9.6 .06-12.4 .06-1 .06-2.7 .06 5.3 .06-6.7 .06 4 .06 5.8 .06 1.7 .06-8.4 .06 14.8 .06-8.8 .06-1.9 .06 .1 .06 3.5 .06-.4 .06-5.6 .06-2.3 .06-1.2 .06 4.9 .06-5.5 .06 7 .06-.7 .06 .7 .06-1.6 .06 4.3 .06 .7 .06-4 .06-4 .06 3.5 .06-1.4 .06 6 .06-4.4 .06 8.9 .06-11 .06 .3 .06 1.2 .06 2 .06-7.7 .06 6.5 .06 2.4 .06 7.3 .06-12 .06 5.8 .06-6.3 .06 2.9 .06 2.6 .06-5.6 .06-.4 .06 1.8 .06-.3 .06 .3 .06 .1 .06 9.8 .06-9.5 .06 1.3 .06-1.7 .06 4.3 .06-4.2 .06 5.1 .06-4.7 .06-.8 .06-3 .06 10.1 .06-7.3 .06-.2 .06-3.7 .06 9.5 .06 .1 .06 1.1 .06-5.2 .06 10.7 .06-11 .06 3.5 .06 .9 .06-9.9 .06 1.8 .06-1 .06 9.5 .06-3.9 .06 7.9 .06-12.8 .06 1.6 .06 2.8 .06-6.6 .06 3 .06-1.4 .06 19.9 .06-14.4 .06 1.3 .06-3.4 .06 9.6 .06-3.6 .06-7.9 .06 7.6 .06-2.3 .06-4.2 .06 5.6 .06 3.2 .06-7.8 .06 3.2 .06 8.2 .06-15.6 .06 3.7 .06-2.9 .06 .7 .06 8.1 .06-4.2 .06 1.3 .06-3.1 .06 1.3 .06-1.1 .06 .3 .06 9.8 .06-12.1 .06-.4 .06 2.7 .06-4.3 .06 3.1 .06 4 .06-2.6 .06 7.4 .06-6.3 .06 4.1 .06-.6 .06 8.7 .06-7.6 .06-8.2 .06 13.3 .06-13.7 .06 6.6 .06 6.6 .06-6.6 .06-1.2 .06 2.3 .06-7 .06 4.1 .06 4.9 .06-7 .06 12.4 .06-14.3 .06 2.2 .06 4.9 .06-7.1 .06 .2 .06 7.9 .06-2.7 .06 7.6 .06-5.1 .06-1.9 .06 10.2 .06-3.5 .06-.3 .06-8 .06 4.7 .06 .8 .06-.5 .06 1.9 .06-6.2 .06 3.4 .06-1.1 .06-.1 .06 15.3 .06-15.1 .06 7.1 .06-7.3 .06-1.1 .06 7.2 .06-8.9 .06-.6 .06 .4 .06 2.2 .06 .6 .06-3.4 .06 3.2 .06 13.4 .06-21.2 .06 22 .06-11.4 .06 7 .06-8.6 .06-4.7 .06 16.9 .06-8.6 .06-5.7 .06 2.2 .06 5.9 .06-11.3 .06 14 .06-4.5 .06 2.3 .06-7 .06 .8 .06 5.3 .06-8.3 .06 .9 .06 9.2 .06-11 .06-2.8 .06 3.6 .06 .2 .06 1.9 .06 .8 .06 .7 .06-5.7 .06 5.6 .06 3.7 .06-4.3 .06 1.1 .06-1.8 .06 8.7 .06-7 .06-3.8 .06 5.8 .06-3.9 .06 6.8 .06-1.9 .06-4.1 .06-6.7 .06 7.2 .06 0" fill="none" stroke="#3b7cc4" stroke-width="1" stroke-linejoin="round"/>
<path d="M424.1 568.3l.06 10 .06 4.5 .06-7.9 .06 22.1 .06-10.6 .06-3.1 .06 7.3 .06-8.3 .06-2 .06 8 .06 4 .06-12.4 .06-1.4 .06 3.6 .06-1.2 .06 8.2 .06 6.4 .06-20.3 .06 2.1 .06 3.3 .06-1.4 .06 7.1 .06-7.3 .06 5.6 .06-2.4 .06 1.5 .06-4.2 .06-2.4 .06 10 .06-8.6 .06 6.1 .06 .5 .06-6.4 .06 2.3 .06-5.9 .06 16.5 .06-7.3 .06 1.5 .06-.3 .06-.8 .06-2.1 .06 .8 .06 7 .06-12.1 .06 4.9 .06 0 .06 1.6 .06 3.9 .06-2.9 .06-3.1 .06 1.5 .06-8 .06 9.8 .06-8.6 .06 11.8 .06-8.5 .06-2.4 .06-1.6 .06 4.6 .06 4.2 .06-.6 .06 5.4 .06-8.5 .06-3.8 .06 12.9 .06-8 .06 8.2 .06-10.6 .06-2 .06-.4 .06 13.7 .06-5 .06-5.6 .06 8.6 .06-11.9 .06 6.2 .06-.4 .06 4.1 .06-5.1 .06 .5 .06 9.6 .06-10.9 .06 4.1 .06 3.4 .06-8.6 .06 5.8 .06-2.6 .06 4.6 .06-10 .06 2.8 .06 .1 .06 11.1 .06-11.2 .06-1.7 .06 9.5 .06-1.5 .06 1.4 .06-7.7 .06 4.2 .06-3.2 .06 2.6 .06 0 .06-2.3 .06 3.4 .06-3.1 .06 4.9 .06-3.4 .06-2 .06 1.7 .06 2.2 .06-5.4 .06 2 .06 4.2 .06-8.3 .06 7.5 .06-2.4 .06 8.1 .06-11.9 .06-3.2 .06 6.1 .06-3.6 .06 4.2 .06-5 .06 2.1 .06 .9 .06-1.4 .06 7.6 .06-5.7 .06-.4 .06-3.6 .06 10.5 .06 14.4 .06-23.1 .06 2.7 .06 4.7 .06-9.4 .06 10 .06-7.6 .06-2.4 .06 7.8 .06-6.9 .06 11.4 .06-5.7 .06 2.2 .06-5.9 .06-1.7 .06 7.6 .06-3.3 .06 1 .06-4.9 .06-.1 .06 4 .06-.7 .06 .9 .06-4.3 .06 9.7 .06-2.2 .06 1.1 .06-12.1 .06 7.5 .06-3.6 .06 5.7 .06-.2 .06 1.5 .06-2.6 .06-3.4 .06 2.6 .06-.4 .06 2.2 .06-5.7 .06 1.7 .06 7.5 .06-4.7 .06-5 .06 6.7 .06 1.8 .06-3.2 .06 .2 .06 5.3 .06-3.3 .06-5 .06-3.6 .06 13.7 .06-17.5 .06 7.9 .06 3.1 .06-2.5 .06 .1 .06-2.2 .06 1.1 .06 .1 .06 6.8 .06 2.1 .06-3.9 .06-6.1 .06 4.1 .06 2.8 .06-10 .06 7.3 .06-.6 .06 3.2 .06-3.7 .06-6 .06 2.2 .06 9.5 .06-2.3 .06 2.6 .06-10.6 .06 5 .06-10.4 .06 7.9 .06 2.7 .06-2.8 .06 3.2 .06-3.9 .06 3.9 .06-6.7 .06 1.8 .06 5.6 .06-5.2 .06-1.7 .06-.8 .06-5 .06 9.8 .06 4.4 .06 9.9 .06-5.6 .06 .8 .06-6.5 .06-4.2 .06-.6 .06 5.4 .06-2.5 .06-3.2 .06-1.5 .06 3.9 .06-6.4 .06 9 .06 1.8 .06-8.6 .06-1.9 .06 1.7 .06 6 .06 .1 .06-3.2 .06-2.2 .06-.9 .06 10.8 .06-8 .06 14.4 .06-10 .06-5.1 .06 7.7 .06-2.3 .06 6.1 .06-7.6 .06-3.1 .06 2.4 .06 4.8 .06 1.1 .06-5.7 .06 4.4 .06 1.9 .06-2.6 .06 3.4 .06-11.1 .06 4.4 .06-5 .06 7.1 .06-5.1 .06-.9 .06 6.3 .06-3.9 .06 2 .06 .6 .06 10.1 .06-10.7 .06-1.9 .06 12 .06-3.9 .06-3.8 .06-4.9 .06 1.6 .06 3.3 .06-9.8 .06 10.4 .06-2.7 .06 2.8 .06-1 .06-2.5 .06-4.7 .06 3.2 .06 2.8 .06 2.6 .06-6.9 .06 7.9 .06-1.9 .06 1.8 .06-2.7 .06-.3 .06 3.8 .06 15.8 .06-29.7 .06 1.6 .06 2.8 .06 5.9 .06 .2 .06 1.1 .06-2.7 .06-.9 .06-1.5 .06 6.9 .06-9.6 .06 1.9 .06 10.2 .06-5.9 .06 3.7 .06-12.8 .06 10 .06 .6 .06-1.8 .06 .1 .06 4 .06-5.8 .06-2.3 .06 15.1 .06-10.5 .06-4.7 .06 .6 .06 6.4 .06 1 .06-2.2 .06-2.4 .06 .9 .06-.2 .06-6.4 .06 23.6 .06-16.2 .06-2.5 .06 1.3 .06 3.3 .06 1.1 .06-4.9 .06-5.7 .06 3.4 .06 2.1 .06-7 .06 9.7 .06 2.5 .06-11.5 .06 12.6 .06 1.6 .06-14 .06 6.1 .06 7.8 .06-.9 .06-7.9 .06 15.6 .06-15.3 .06-2.1 .06 .4 .06-.8 .06 5 .06 4 .06-8.7 .06 0 .06 2.3 .06 3 .06-1.3 .06-2.1 .06-2.6 .06 6.3 .06-1.5 .06 2.9 .06-1.2 .06 5 .06-5 .06-4.7 .06 4.4 .06 5.2 .06 8.5 .06-7.8 .06-5.2 .06-8.7 .06 9.3 .06-10.3 .06 11.5 .06-6.4 .06 5.6 .06-4.7 .06-1.5 .06 8.2 .06-1.1 .06-7.4 .06 .9 .06 2.5 .06 7.3 .06-13.3 .06 5.3 .06 .7 .06-2.7 .06 2.9 .06-4.2 .06 6.1 .06-10.5 .06 3.2 .06 9.3 .06 .5 .06-12.2 .06 7.4 .06 2 .06-4.3 .06-.8 .06 12.2 .06-17 .06 5.8 .06 4.7 .06-4.7 .06 2.9 .06 6.3 .06-11.2 .06 1.5 .06-1.8 .06 8 .06-4.9 .06 8 .06-10.1 .06 1.1 .06 .4 .06 .3 .06 9.5 .06-8.9 .06-4.1 .06 .9 .06 5.5 .06-7.1 .06 4.5 .06-4.9 .06 2.2 .06-3.2 .06 9.1 .06-.8 .06 3.3 .06-6.8 .06-.5 .06 .8 .06 4.6 .06-10.6 .06 6.5 .06 7.8 .06-11.8 .06 17.4 .06-13.1 .06 0 .06-4.1 .06-.6 .06-1.5 .06 8.4 .06 1.6 .06-7.3 .06 6.8 .06-3.5 .06 .7 .06 1.9 .06 .8 .06 .2 .06 5.6 .06-10.4 .06-3.7 .06 6.2 .06-2.6 .06 4.1 .06-2.8 .06 4.5 .06 1.9 .06-3.9 .06-5.5 .06 2.1 .06 9.2 .06-10.6 .06 7.4 .06-5 .06-4.5 .06 1.7 .06 6.7 .06 2.6 .06-1.6 .06-9.2 .06 .5 .06 3.5 .06 2.9 .06 .5 .06-4.4 .06-4.5 .06 3.7 .06-.6 .06 13.7 .06-1.4 .06-3.3 .06 2.9 .06-12.3 .06 2.5 .06 1.8 .06-4.7 .06 8.6 .06 3.2 .06-6.9 .06-7.5 .06 .6 .06 1.8 .06 1.1 .06 1.7 .06 17 .06-15 .06 7.2 .06-.6 .06-9.8 .06-3.7 .06 3.4 .06 5.7 .06-8.7 .06 1.8 .06 5.8 .06 2.2 .06-5.3 .06-4.6 .06 4.1 .06 11.6 .06-13.4 .06-2.7 .06 8.4 .06-.5 .06-7.1 .06 7.9 .06-2.7 .06 3 .06 9 .06-18.2 .06-1.1 .06 4.3 .06 8 .06-5.6 .06-1.5 .06-1.2 .06 .2 .06 2.3 .06 3.1 .06 1.2 .06-8.6 .06 3.1 .06-3.6 .06 5.2 .06 3.2 .06-4.7 .06 .4 .06 .5 .06 .4 .06-.7 .06 1.4 .06-1.3 .06-1.8 .06-2 .06 6 .06-.5 .06-2.1 .06 10.5 .06-12 .06 12.5 .06-12.3 .06 .5 .06-.1 .06 3.1 .06 2.6 .06-5.7 .06 .1 .06-2.8 .06-2.7 .06 9.2 .06 2.3 .06-5.1 .06-3 .06 3 .06 3 .06-1 .06-6 .06 2.1 .06 8.3 .06-1.4 .06 1 .06-7.5 .06 4.9 .06 11 .06-12.5 .06 7 .06-8.4 .06-1.9 .06 2.5 .06 2.3 .06-4.1 .06 7.1 .06-11.1 .06 1.4 .06-1.7 .06 5.3 .06-2.2 .06 6.1 .06 4.5 .06-4.4 .06-4.1 .06-5.5 .06 9.8 .06-1.6 .06 .8 .06-1.3 .06 2.7 .06-5.7 .06 2.4 .06 9.3 .06 7.6 .06-20.9 .06 11.4 .06-8.1 .06 1.6 .06-1.2 .06 .3 .06-2.9 .06 8.9 .06-7.7 .06-2.6 .06 4.5 .06 3 .06-2.4 .06 3.5 .06 3.3 .06-4.1 .06 4.6 .06-9.4 .06 5.4 .06-5.2 .06 11.7 .06-16.8 .06 4.2 .06-1.6 .06 3.1 .06 1.5 .06-1.2 .06 3.5 .06 .6 .06-7.8 .06 3.8 .06 3.2 .06 2.6 .06-6.7 .06 10.2 .06-10.3 .06 3.9 .06-9.6 .06 2.6 .06 7.9 .06 9.2 .06-.3 .06-10.3 .06-4.7 .06 3 .06-1.9 .06-1.9 .06 7.4 .06 1.9 .06-1.7 .06-5.6 .06-6.5 .06 1.4 .06 9.4 .06-1.4 .06 .5 .06-2.5 .06 5.4 .06-4.3 .06-6 .06 3.2 .06-3.2 .06 5.9 .06 5.1 .06-12.5 .06 10.8 .06 10.2 .06-16.6 .06 4.9 .06 3.6 .06-7.9 .06-1.2 .06 .1 .06 11 .06-11.7 .06 10.8 .06-11.8 .06 5.8 .06 3.8 .06-8.2 .06 6.4 .06-4.5 .06-.1 .06 7 .06-7 .06 4 .06-9.1 .06 .7 .06 10.6 .06-2.7 .06-3.6 .06 10.8 .06-8.6 .06 2 .06 0 .06-7.9 .06 11.2 .06-4.2 .06-5.5 .06 5.8 .06-3.6 .06 2.4 .06-3.4 .06-.1 .06 3.8 .06-9.3 .06 6.3 .06-4.3 .06 6.5 .06-3.8 .06 2 .06 5.2 .06-6.5 .06-1 .06 1.8 .06 3 .06-4 .06 2.4 .06 .1 .06-1.4 .06 14.8 .06-15.5 .06 3 .06-2.6 .06 2.6 .06 5.6 .06-5.7 .06 .8 .06-1.4 .06 2.6 .06-3.2 .06 9.1 .06-5.8 .06-2.1 .06-2.5 .06 5.1 .06-5 .06 7.9 .06-4.7 .06-6.3 .06 7 .06-4.1 .06-8.2 .06 12.7 .06-4.5 .06 2.9 .06-.7 .06 2.6 .06-8.5 .06 1.5 .06-1.5 .06 19 .06-11.8 .06-3.4 .06 8 .06-4.2 .06-2.3 .06 1.7 .06-4.7 .06 9.5 .06-5 .06-3.8 .06 1 .06 2.1 .06 3.4 .06-4.1 .06-3.3 .06 .3 .06 11.2 .06-9.2 .06 1.9 .06 8.8 .06-10.6 .06 13.9 .06-14.4 .06 .5 .06 8.3 .06-10.5 .06 10.9 .06-.3 .06-.3 .06-9.5 .06 1.5 .06-1.7 .06 3.5 .06-4 .06 6.3 .06-.4 .06 5.2 .06 1.8 .06-4.7 .06-1.2 .06-2.4 .06 7.3 .06-5.5 .06-7.1 .06 4.5 .06 3 .06-3.2 .06 7.3 .06-6.1 .06 1.2 .06-.9 .06 5.4 .06-7.9 .06 8.9 .06-15.2 .06 11.7 .06-1.1 .06 3.8 .06-4.8 .06-5.4 .06-3.6 .06 8.2 .06-6.7 .06 1.2 .06 4.6 .06 9.2 .06-11.6 .06 .1 .06 4.8 .06-6.3 .06 5.7 .06 1.1 .06 .4 .06-3.4 .06-.8 .06 5.1 .06-13.4 .06 8.3 .06 .1 .06-2.1 .06-1 .06 11.1 .06-10.2 .06 .5 .06-2.3 .06 .4 .06 3.6 .06 4.5 .06-9.5 .06 20.6 .06-17.1 .06-5.2 .06 3.8 .06 3 .06-2.9 .06-1.4 .06-1.7 .06 10 .06-2.6 .06 7.1 .06-6.9 .06 23 .06-27.4 .06 6.7 .06 11.1 .06-17.8 .06 .6 .06 4.4 .06-2.3 .06-3 .06 7 .06 3.4 .06-11.4 .06 15.8 .06-6.8 .06-10.7 .06 3.8 .06 5.1 .06 2.7 .06 .6 .06-4.4 .06 0 .06 11.4 .06-8.9 .06-1.4 .06-4.9 .06 .1 .06 4.1 .06-.1 .06-1.9 .06-1.5 .06 6.7 .06 15.3 .06-21.7 .06-3.4 .06 12.4 .06 5.2 .06-14.2 .06 2.3 .06 6.9 .06-4.1 .06-6.3 .06 0 .06 13.7 .06 .6 .06-15 .06-1.9 .06 6.2 .06 .8 .06-1.3 .06-3.9 .06 2.3 .06-5.3 .06 7.7 .06 6.9 .06-8.1 .06-3.5 .06-2.8 .06 6.8 .06 9.2 .06-15 .06 8.4 .06-7.7 .06 7.4 .06-5.1 .06 1.6 .06 2.8 .06-4.8 .06 0 .06 14.3 .06-12.9 .06 2.5 .06 6.1 .06-13.6 .06 7.3 .06 2.2 .06-7.1 .06-4.9 .06 12.6 .06 6.1 .06-8.2 .06 2.2 .06-.8 .06-5.7 .06 1.3 .06-4.6 .06 1.1 .06 7 .06-1.3 .06 6.4 .06-5.5 .06-3.6 .06 6.5 .06-10.8 .06 3.8 .06 .8 .06 7.2 .06-4.6 .06-2.7 .06 .6 .06 4.2 .06 5.4 .06-9.4 .06 1.4 .06 3.4 .06-2.7 .06 1 .06-1.3 .06-7.6 .06 3.4 .06 5.4 .06 .5 .06 5.4 .06-14.5 .06 11.8 .06-4.8 .06 3.6 .06-3.5 .06-1.3 .06 7.5 .06-11 .06 .8 .06 0 .06 3.3 .06-2.6 .06-.1 .06 8.7 .06-10.3 .06 7 .06-3.1 .06 7.9 .06-2.8 .06-4.2 .06 5.3 .06-5 .06 3.5 .06-6.3 .06 .8 .06 7.2 .06-4.4 .06 8.9 .06-11.6 .06-2.3 .06 8.7 .06 2.1 .06-.4 .06-8 .06-3.6 .06 9.5 .06-7.8 .06 5.5 .06 1 .06-5.3 .06 .1 .06 5.9 .06 1.3 .06-12.4 .06 3.5 .06 .6 .06-.8 .06-1.3 .06 9.6 .06 1.1 .06-9.3 .06 6.6 .06-1.6 .06 3.1 .06-2.1 .06-7 .06 13.3 .06-8 .06-8.7 .06 4.1 .06-3.9 .06 5.7 .06-.2 .06-.1 .06 0 .06-1 .06 .1 .06 0 .06 9.5 .06 1.2 .06 5.3 .06-8.2 .06-3 .06-3.3 .06 .6 .06 .7 .06-3 .06 16.8 .06-13.7 .06-3.1 .06 3.2 .06 1.3 .06 4.6 .06 .7 .06-5.4 .06 14.6 .06-10 .06-11.4 .06 21.2 .06-13.6 .06-3.3 .06 7.9 .06-5.1 .06 .5 .06 3.4 .06-5.2 .06-5.4 .06 7 .06-3 .06 5.7 .06-.4 .06-4.1 .06 8.5 .06-4.1 .06 4.2 .06-8.9 .06 6.1 .06 1.8 .06 2.7 .06-.2 .06 3.8 .06-5.1 .06-9.6 .06 2.3 .06 9 .06-11.5 .06 3.3 .06-.6 .06-.3 .06-5.7 .06 20 .06-21 .06 6.1 .06-9 .06 7.9 .06 6.6 .06-4.9 .06 1.1 .06-1 .06-5.3 .06 2.6 .06 3.6 .06 3.6 .06-1.5 .06-7.4 .06 1.3 .06 6.2 .06-9.4 .06 5.8 .06-9 .06 8.4 .06-2.4 .06 26 .06-24.8 .06 10.6 .06-6.8 .06-4.3 .06 8.1 .06-9.4 .06-.6 .06 14.2 .06-9.1 .06 6.4 .06-6 .06-1.2 .06-2.5 .06 4.2 .06-9.2 .06 10.7 .06 2.2 .06-1.9 .06-10.2 .06 6.9 .06-1.5 .06 8.8 .06-11.3 .06 6.2 .06-.3 .06-2.6 .06-.3 .06 6.9 .06-5.2 .06-1.4 .06 14.9 .06-17 .06 2.6 .06-1.5 .06 9.6 .06-9.7 .06 3.2 .06 .1 .06 0 .06-7 .06 3.2 .06 2.9 .06-1.4 .06 4.4 .06-2.4 .06 1.4 .06 9.4 .06-18.7 .06 12 .06-6.8 .06 9.2 .06-12.1 .06-1.9 .06 8 .06-7 .06 6.8 .06 5.2 .06-9 .06 7.1 .06 5.6 .06-7.3 .06 .3 .06-7.6 .06 18.2 .06-16 .06-2 .06 7.5 .06-2.7 .06 .9 .06 5.1 .06-7.7 .06 2.1 .06 5.5 .06-9.3 .06-1.3 .06 6.1 .06 8.5 .06-12.3 .06-2.2 .06 8.4 .06-1.3 .06-2 .06 4.9 .06-6.5 .06-1.4 .06-.4 .06 10.7 .06-11.1 .06 3.6 .06-1.4 .06 11.2 .06-9.2 .06-.9 .06-6.8 .06 2.8 .06 6.9 .06 1.2 .06-4.5 .06 .1 .06 4 .06-9.4 .06 13.7 .06-9.7 .06 4.1 .06 4.6 .06-8.7 .06 2.6 .06-.9 .06-4.3 .06 9.3 .06-.9 .06 4.2 .06-7.3 .06-2 .06 12.2 .06 2.5 .06-15.7 .06 15.8 .06-15.5 .06 3.7 .06 4.3 .06-11.4 .06 4.2 .06 1.2 .06-5.5 .06 8 .06 2.8 .06-3.5 .06 4.5 .06-9.4 .06 .8 .06-3 .06-3.9 .06 4.4 .06 7.4 .06-6.6 .06 1.8 .06 6.1 .06 5.4 .06-2.1 .06-12.7 .06 9.3 .06-5.4 .06-.5 .06-3.5 .06 5.1 .06-.5 .06 .5 .06 3 .06-2.8 .06-2.5 .06 .8 .06 2.4 .06-8.2 .06 7.1 .06-6.8 .06 8.6 .06-.4 .06 3.8 .06-4.1 .06-4.9 .06 3 .06 5.4 .06 2.7 .06-6.4 .06 3.2 .06-7.8 .06 9.1 .06-3.3 .06-2.8 .06 5.5 .06 7.3 .06-14.9 .06-.3 .06 4.3 .06-.8 .06 .5 .06 3.5 .06-10.4 .06 6.3 .06 3.5 .06-2.3 .06 8.7 .06 .5 .06-12.8 .06-2.3 .06 6.5 .06-.5 .06 6.3 .06-3.2 .06 .2 .06-11.3 .06 9.1 .06-4.9 .06 3 .06-3 .06-5 .06 8.2 .06-1.9 .06-1.4 .06 .9 .06-6.6 .06 3.6 .06 11.7 .06-3 .06-9.3 .06 8.4 .06-4.4 .06 4.2 .06-3.2 .06 4.5 .06-7.3 .06 6.3 .06-.6 .06-12.9 .06 18.7 .06-11.3 .06 2.8 .06-7.3 .06 6.9 .06 .2 .06-1 .06 6.5 .06 0 .06-2.4 .06-3.2 .06-2.2 .06 5.7 .06-5 .06-3 .06 6.2 .06 1.9 .06 .7 .06 .5 .06-8.4 .06 .3 .06 1.6 .06 6 .06-3.8 .06 8.4 .06-7.8 .06 .8 .06-1.1 .06 3.7 .06-12.3 .06 16.2 .06 1.4 .06-5.3 .06-.9 .06 0 .06 1 .06 0 .06-9.7 .06-3 .06 13.3 .06 4.7 .06-9.8 .06 .3 .06 4.3 .06-4 .06 5.1 .06-11 .06 8.8 .06-5.3 .06 1.9 .06 .2 .06-3.8 .06 1.3 .06 3.1 .06-1 .06-3.5 .06 11.7 .06-5 .06 1.6 .06 3.8 .06 6.4 .06-7 .06 2.3 .06-11.6 .06 3.2 .06 2 .06-6.1 .06 15 .06-12.6 .06 5.3 .06 5.8 .06-5.1 .06-6.6 .06 10.6 .06-10.1 .06-1.4 .06 0 .06 3.5 .06 3 .06 .8 .06-4.9 .06 1.7 .06-7.5 .06 13.4 .06 .3 .06-15.2 .06 6.7 .06 .4 .06 6.5 .06-6.3 .06-1.6 .06 5.8 .06-8.3 .06-3.7 .06 1.5 .06 1.2 .06 6 .06-1.3 .06-.4 .06 7.3 .06-3.8 .06 4.3 .06-1 .06-11 .06 8.1 .06 4.9 .06-.1 .06-7.8 .06 7.7 .06-1.9 .06-10.6 .06 3.9 .06 10.3 .06 .2 .06-11.8 .06-1.9 .06 .1 .06 2 .06 3.1 .06-2.6 .06-3.3 .06 9.1 .06-3 .06-2.7 .06-6.8 .06 7.9 .06-.8 .06-4.1 .06 14.4 .06-13.8 .06 9 .06-7.3 .06 2.1 .06-2.2 .06 2.2 .06 3.2 .06-6.6 .06 1.9 .06 5.3 .06 5.5 .06-5.2 .06-6.1 .06 5.5 .06 1.5 .06-1.4 .06-12.7 .06 16.3 .06-4.7 .06 5 .06 2 .06 2.2 .06-16.9 .06 3 .06 6.1 .06 1.6 .06 1.2 .06 .7 .06-2.9 .06 4 .06-12.4 .06 4 .06-.9 .06 4.9 .06-1.6 .06 .3 .06 7.3 .06-6.1 .06-3.4 .06 7.7 .06-7.9 .06-.4 .06 8.7 .06-12.4 .06 3.1 .06 18.2 .06-9.2 .06-13.3 .06 10.7 .06-6.4 .06 7.9 .06-5.6 .06 3.6 .06 .1 .06-5.6 .06 5.4 .06-3.9 .06 .4 .06-2.5 .06 5.6 .06 8.6 .06-6.8 .06-2.8 .06-7.2 .06 .7 .06 7.6 .06-9.1 .06 18.3 .06-3.2 .06-12.7 .06 4.9 .06 .6 .06 1.8 .06-4.1 .06 2 .06 8.8 .06-9.1 .06 2.9 .06-2.7 .06-2.1 .06 10.4 .06-14.4 .06 .2 .06-.5 .06 19.9 .06-19.3 .06 2.9 .06 7.7 .06 .6 .06-5.9 .06-5 .06 3.6 .06-2.5 .06 1.1 .06 3.5 .06 .3 .06-1.6 .06 3.7 .06-8 .06-1.1 .06 6.1 .06 1.6 .06-.3 .06-4.8 .06 7.4 .06-11.2 .06 5.8 .06 4.6 .06-6.6 .06-1 .06 3 .06 1.7 .06-1.8 .06 0 .06 1.9 .06 2 .06-1.5 .06-2.2 .06-3.9 .06-1.6 .06 1.4 .06-2 .06 9.8 .06-6.9 .06 2.1 .06-.9 .06 8 .06-4.8 .06-2.1 .06 4.5 .06-.5 .06 1 .06-10 .06 6.6 .06-.3 .06 9.5 .06-9 .06 1.3 .06 3.6 .06-8.7 .06 .6 .06 21.5 .06-18 .06-4.1 .06 15 .06-7.9 .06-7.2 .06 6.3 .06 1.4 .06-3.4 .06 11.2 .06-11.2 .06 3 .06 2.4 .06 .2 .06-5.2 .06-.7 .06 10 .06-9.1 .06 9.7 .06-14.5 .06 2.7 .06 2.9 .06 1.4 .06 .7 .06-6.3 .06 .4 .06 6.8 .06-8.5 .06 2.7 .06 4.3 .06-4.3 .06 5.7 .06-11.9 .06 4.7 .06 .2 .06-.2 .06 11.2 .06-8.1 .06 2.7 .06-7.7 .06 5.9 .06-.4 .06-9.1 .06 2.7 .06 3.1 .06-1.7 .06-.2 .06 3.7 .06-5.8 .06 7.8 .06 2.1 .06-.3 .06 7.4 .06-6.8 .06-4 .06 1.2 .06-.1 .06 3.7 .06-1.4 .06-10.3 .06 4.3 .06 5.7 .06-5.1 .06 8.9 .06-6.7 .06-3.1 .06 10.7 .06-14.8 .06 1.6 .06 3 .06 6.4 .06-6.7 .06 2.9 .06-.5 .06-8.5 .06 10.7 .06 3 .06 1.1 .06 .8 .06-.1 .06-11.6 .06 4.8 .06 6.3 .06-7.9 .06 4.6 .06 1.5 .06 .8 .06-9.7 .06 15.7 .06-10.5 .06-4.5 .06-1.3 .06 4 .06-7.1 .06 8.7 .06-2.1 .06 1.3 .06-1.2 .06-.9 .06 1.2 .06 4.5 .06 6.6 .06-13.2 .06 .7 .06 3 .06-2 .06-5.3 .06 10.1 .06-2.7 .06 2.1 .06-3.5 .06 2.5 .06 3.6 .06-2.4 .06-.4 .06 .8 .06-8.1 .06 11.4 .06 4.5 .06 1.5 .06-13.9 .06-.2 .06 .4 .06 .6 .06-3.7 .06 6.3 .06-5.5 .06 11.7 .06-1.5 .06 2.4 .06-10.1 .06-.8 .06 .7 .06 7 .06-9.2 .06 5.1 .06-.9 .06 6.6 .06 0 .06-5.7 .06-7.4 .06 6.4 .06 11.1 .06-14.8 .06-1 .06 1.9 .06 10.5 .06-1.4 .06-6.1 .06 1.1 .06-1.4 .06 7 .06-10.6 .06 5.1 .06-5 .06 6.4 .06-3.6 .06-3 .06 2.8 .06-2 .06-.8 .06 4.2 .06-5.9 .06 8.7 .06 1.7 .06-4.1 .06 5.5 .06 3 .06-10 .06 5.1 .06-3 .06-1.7 .06 2.9 .06-3.6 .06-3.6 .06 5 .06 4.8 .06-11.8 .06 .9 .06 11.9 .06-2.4 .06 3.3 .06-10 .06 2.5 .06 .1 .06 9.4 .06-5.9 .06-4.5 .06-2.8 .06 6.3 .06 1.4 .06-1.5 .06 2.4 .06-6.1 .06 5.3 .06-3.8 .06-6.2 .06 4.3 .06 3.3 .06-4.8 .06-1.3 .06 2.9 .06-2.8 .06 1.9 .06 6.9 .06-4.1 .06-6.9 .06 6.1 .06 .4 .06 2.5 .06 0 .06-2.1 .06 6.4 .06-3.8 .06-2.2 .06-2.1 .06 11.4 .06-7.5 .06-6.3 .06 1.8 .06 5.3 .06-1.2 .06 1.1 .06-1.1 .06-3 .06 .7 .06 2 .06-.8 .06-4.2 .06 .8 .06 .8 .06 7.2 .06-5.6 .06 .3 .06 6.4 .06 .7 .06-8.6 .06-1.1 .06 7.7 .06-1.2 .06-8.9 .06 7.4 .06 1.5 .06-2.7 .06-7.3 .06 6.2 .06 3.5 .06 5 .06-3.7 .06-4 .06 3.3 .06-8.9 .06 8.2 .06 7.2 .06 .7 .06-12.4 .06 7.2 .06-6 .06 1.7 .06-1.7 .06-7.6 .06 5.3 .06 5.1 .06-1.1 .06-4.5 .06 9.2 .06-13.2 .06 9.6 .06-2.2 .06-5.9 .06 13.1 .06-14.4 .06 12.1 .06-3.1 .06-2.4 .06 6.3 .06-7.9 .06 .3 .06 3.9 .06 6.5 .06-9.3 .06 4.5 .06 5.6 .06-4.4 .06 1.9 .06-2.7 .06 1 .06-2.6 .06-6.5 .06 3.6 .06 0 .06-2.7 .06 3.1 .06-.3 .06-2.7 .06 11.3 .06-4.2 .06-8.8 .06 3.4 .06 6.8 .06 1.2 .06-3.8 .06-3.9 .06-.5 .06-1.6 .06 3.7 .06 0 .06 6.8 .06-5.4 .06-5.8 .06-2.6 .06 10.3 .06 1.3 .06-5.1 .06 .3 .06 6.1 .06 1 .06-8.2 .06 9.1 .06-13 .06 3.2 .06 8.6 .06-8.6 .06 1.4 .06 2.4 .06 .1 .06-4.6 .06-3.9 .06 11.2 .06-8.9 .06-.1 .06 7.6 .06 7.3 .06-12.2 .06 7.5 .06-7.3 .06 3.6 .06-2.7 .06 1.4 .06-5.6 .06 4.6 .06 1.8 .06-5.7 .06-.6 .06 8.7 .06-9.9 .06 16.3 .06-12.4 .06 1.3 .06-1.3 .06 9.7 .06-9.8 .06 22.5 .06-19.8 .06 .2 .06-2.2 .06 6.1 .06 .4 .06-6.6 .06-6.8 .06 6.6 .06 0 .06 4.8 .06-4.6 .06 1.1 .06 1.1 .06-4.9 .06 3.7 .06 5.2 .06-13.6 .06 10.5 .06-6.1 .06 11.6 .06-10 .06 4.7 .06 2.5 .06 3.9 .06-.5 .06-13 .06 7.6 .06-2.1 .06-3 .06 6.6 .06 .4 .06-8.1 .06 .5 .06 2.2 .06 8.7 .06 4.4 .06-9.9 .06 3.6 .06-6.6 .06-.1 .06 .2 .06 .1 .06 1.1 .06 1.6 .06-3.2 .06 4 .06 18.2 .06-25.4 .06-1.8 .06 3.3 .06 4 .06 .3 .06 2.7 .06 2.2 .06-3.5 .06 1.3 .06-1.3 .06-.1 .06-3 .06 5.3 .06-10.6 .06 8.1 .06-2.3 .06 8.6 .06-15.3 .06 12.2 .06-.7 .06 1.8 .06-9.5 .06-1.7 .06 8.6 .06-9.5 .06 6 .06 2.2 .06-6.4 .06-2.6 .06 5.7 .06 2.4 .06-6.3 .06-.2 .06 7 .06-4.2 .06 7.5 .06-.8 .06 1.7 .06-1.5 .06-7.2 .06 1.2 .06 2.3 .06-5.3 .06 10.6 .06-7.5 .06-5.2 .06 3.9 .06 8 .06-10.9 .06 .6 .06 5.5 .06-2 .06 6.8 .06-5 .06 21.3 .06-21.1 .06-4.9 .06 2.4 .06-1.3 .06-1.5 .06 8.8 .06-7.4 .06 8.4 .06 3.1 .06-6 .06 1 .06-6.2 .06 .9 .06 2.8 .06 4.3 .06-6.7 .06 11.3 .06-7.5 .06 6.7 .06-7.1 .06 1.5 .06-1.7 .06 1.2 .06-4.7 .06 .4 .06 3 .06 1.9 .06-1.8 .06 2.2 .06-1.6 .06-5.5 .06 5.8 .06-4.9 .06 7.3 .06-4.7 .06 10.9 .06-8.3 .06 .9 .06-5.8 .06-3.9 .06 6.6 .06 7 .06-15.7 .06 12.9 .06-4.3 .06 4.1 .06 1 .06 7.1 .06-8.7 .06-4.9 .06 6.6 .06-4.4 .06-.1 .06 6.9 .06-10.1 .06 5.1 .06-8.3 .06 5.4 .06-5.2 .06 2.6 .06-3.2 .06 11.5 .06-5 .06-2.5 .06-.6 .06 7.2 .06 3.5 .06-3.7 .06-9.8 .06 4.8 .06 6.9 .06-3.8 .06-3.9 .06-1.4 .06 2.2 .06-.7 .06 1.6 .06-3 .06 1.6 .06 3.5 .06 3.1 .06 4.7 .06-11.8 .06 5.4 .06-4.3 .06 .9 .06-2.1 .06-.2 .06 3.1 .06-8.2 .06 7.7 .06 1.3 .06 3.7 .06-11.5 .06-.5 .06 14.6 .06-6.7 .06 1.3 .06-.7 .06-5.1 .06-1 .06 1.3 .06 6.8 .06-8.4 .06 4.2 .06 4.1 .06-7 .06 .3 .06 2.4 .06-2.1 .06 2.3 .06 12.9 .06-16.1 .06-.6 .06 3.9 .06-1.5 .06 6.2 .06-1.7 .06-1 .06-4.2 .06 2.8 .06-1.8 .06 3.6 .06 .1 .06-4.6 .06 8.8 .06-.9 .06-4.3 .06 .4 .06-.9 .06 1.5 .06 8.5 .06-10.3 .06 7 .06-5.9 .06 4.7 .06-8.4 .06 5.5 .06 3.1 .06-3.2 .06-4.4 .06-.6 .06-2.4 .06 9.8 .06-7 .06-5.8 .06 15.7 .06-3.7 .06-1.8 .06-1.9 .06 0 .06 2.4 .06 1.3 .06-.7 .06 7.9 .06-14.7 .06 5.8 .06-1.2 .06-1.5 .06-.5 .06 .7 .06-.7 .06 3.4 .06-6.9 .06 2.9 .06 4.9 .06-3.7 .06 8.8 .06-10.8 .06-.6 .06 6.5 .06-2.9 .06-1.8 .06 2.5 .06-.9 .06 1.1 .06 3.6 .06-3.4 .06-8.8 .06 7.4 .06 3.4 .06-6 .06 8.6 .06-3.1 .06 .1 .06-2.3 .06-.7 .06 1.1 .06 11.9 .06-6.7 .06-9.6 .06 3.8 .06 8.3 .06-8 .06 2.5 .06 4.4 .06-5.5 .06-7.2 .06 2.9 .06 8.9 .06 .4 .06 .9 .06 7.6 .06-15 .06 5.8 .06-7.9 .06 .3 .06 7.2 .06-3.7 .06-3.3 .06 1 .06 6.5 .06 .2 .06-2.7 .06-8.3 .06 10.8 .06-14.8 .06 5.8 .06 .7 .06 .7 .06 4.9 .06-1.3 .06 1.2 .06-.4 .06-2.1 .06-.1 .06 .2 .06-3.9 .06 5 .06 1.7 .06-2.6 .06 .6 .06-4.6 .06 8.8 .06-9.2 .06 21.1 .06-8.7 .06-15.5 .06 9.3 .06 6.5 .06-5.9 .06-4.4 .06 5.4 .06 5.5 .06-5.2 .06 .1 .06-8.8 .06 2.7 .06 2.8 .06-7.3 .06 6.6 .06 1.5 .06 .1 .06-1.1 .06-6.6 .06 5 .06 2.4 .06 2.6 .06-9.1 .06 13.7 .06-10.9 .06 5.7 .06 1.3 .06-1.2 .06-5.2 .06-4.9 .06 13.6 .06-12.7 .06 7.1 .06-1.5 .06-7.6 .06 8.8 .06 .1 .06-1.3 .06 3.4 .06-3.6 .06 .2 .06 4.9 .06-7.6 .06 3.5 .06 1.7 .06-4.1 .06 5 .06-4.6 .06 2.8 .06 5.3 .06-7.4 .06 2.9 .06 1.9 .06-1.5 .06-4.6 .06 3.8 .06-4 .06 10.3 .06-8.7 .06-1.4 .06 2.9 .06-8.4 .06 12 .06-6.6 .06 9.1 .06-7.4 .06 4.6 .06-7.3 .06 2.7 .06 7.3 .06-4.6 .06 6.4 .06-8.8 .06-4.5 .06 3 .06 .5 .06 1.2 .06-6.7 .06 10.8 .06-2 .06-2.9 .06-4.7 .06 2.9 .06 5.1 .06 2.7 .06-.2 .06-8.9 .06-1.3 .06 8.3 .06-3.9 .06 4.6 .06 4 .06-6.9 .06-6.7 .06 7.3 .06-.7 .06 2.4 .06-3.6 .06-.1 .06-.6 .06 .3 .06-2.2 .06 9.9 .06-11.3 .06 2.1 .06 6.9 .06-6.3 .06 10.5 .06-6.3 .06-7.1 .06 1.8 .06 6.4 .06-2.2 .06-3.5 .06 5.9 .06 3.2 .06-1 .06-7.5 .06-1 .06 2.4 .06-5.5 .06-.3 .06 15.4 .06-7.7 .06-4.4 .06 2.8 .06 1.4 .06-4.2 .06 6.2 .06-9.2 .06 6.5 .06 0 .06 3.3 .06 3.8 .06-13 .06 6.1 .06-.7 .06 3.8 .06-8.1 .06 13.3 .06-11.1 .06 16.6 .06-12.1 .06-3 .06-4.9 .06 4.9 .06-.9 .06-2.8 .06 6 .06-8.1 .06 9.4 .06-4.2 .06 1.7 .06 1.4 .06 9.3 .06-18 .06 14 .06-9.2 .06 7.8 .06-8.2 .06 5.7 .06-5.7 .06 7.2 .06 2 .06 7 .06-15.3 .06 3.5 .06-1.8 .06-4.9 .06 2.1 .06 1.4 .06-1.5 .06 7.5 .06-1.4 .06-6.6 .06 6.6 .06-5.4 .06 1.2 .06 .5 .06-4.5 .06-.7 .06 9 .06-6.4 .06-3.4 .06 9.2 .06 3.7 .06-7.9 .06 0 .06 4.8 .06-5.2 .06-2.2 .06 4.4 .06-3.1 .06 5.6 .06-6.6 .06 8.9 .06-9 .06 .7 .06 3.8 .06 4.9 .06-3.6 .06-.7 .06-3.6 .06-6.2 .06 11.2 .06-6.6 .06 12.6 .06 2.1 .06-8.3 .06-5.1 .06 7 .06-.4 .06 4.3 .06-6.2 .06-4.6 .06 12.7 .06-5.8 .06 4.2 .06-10.3 .06 4.4 .06-5.9 .06-2.4 .06 9.1 .06 8.1 .06-10.1 .06 3.8 .06-3.7 .06 3.1 .06 .5 .06-6.1 .06 4.8 .06-4.3 .06 3 .06-2.5 .06-3.6 .06 1.3 .06 10.4 .06 .8 .06-6.7 .06 8.7 .06-7.3 .06 3.5 .06-10.8 .06 4.1 .06 6.6 .06-11 .06 4.2 .06-4.4 .06 4 .06-3.4 .06 12 .06 6.7 .06-11.9 .06-.4 .06 4.4 .06 2.5 .06-4.2 .06-3.8 .06 3.1 .06-8.2 .06 9.7 .06-10.6 .06 5 .06 2 .06-1.7 .06 3 .06-3.9 .06 3 .06-5.5 .06-.3 .06 2.3 .06 6.8 .06 6.2 .06-10.3 .06-5.5 .06-1 .06 6.6 .06 12.5 .06-12.9 .06 4.1 .06 1.4 .06 3.3 .06-6.6 .06 .2 .06-.3 .06-2.9 .06 .2 .06-1 .06 7.8 .06-3.4 .06-4.8 .06 9.9 .06-13.6 .06 4.6 .06-.7 .06 .9 .06 2 .06-2.6 .06 4.5 .06-.8 .06-1.8 .06 10.2 .06 6.9 .06-21 .06-.6 .06 1.3 .06 6.7 .06-5.8 .06 4.8 .06-5.3 .06 11.3 .06-5.1 .06-1.3 .06-.7 .06 4.2 .06-10 .06 2.6 .06 8.1 .06-1.7 .06-9 .06 3.3 .06-5.3 .06 1.8 .06 2.9 .06 5.5 .06-7 .06 9.5 .06-5 .06-7.1 .06 2.2 .06-3.7 .06 9.6 .06 10.9 .06-6.9 .06-8.6 .06-.7 .06 8.7 .06-1.3 .06-5.6 .06 4 .06-6.8 .06 7.1 .06-8.8 .06 5.7 .06-.9 .06 2.8 .06-4.7 .06 5.7 .06 3.2 .06 2.4 .06-6.9 .06 2.6 .06-8.6 .06 3.5 .06 1.1 .06 3.6 .06-.6 .06-2.7 .06-2.2 .06 3.4 .06 8.3 .06-9.3 .06 8.2 .06-12.1 .06 6 .06-1.5 .06-5.8 .06 5.8 .06-2.9 .06 3.8 .06-1.9 .06 4.3 .06-4.7 .06 16.4 .06-15.3 .06 .8 .06-4.5 .06 1.1 .06-1.3 .06-2.8 .06 8.2 .06-1.8 .06 4.3 .06-11.8 .06 15.2 .06-3.4 .06 4.1 .06-12.9 .06 .7 .06 8.8 .06-2.2 .06-3.6 .06-.5 .06-1.6 .06 5.5 .06-9.5 .06 12.4 .06-2.5 .06-1.2 .06-7.2 .06 6.2 .06 7.5 .06-11.7 .06 2.8 .06-1.4 .06 6.6 .06-3.5 .06 6.6 .06-5.1 .06-4.8 .06-.5 .06 9.8 .06-1.4 .06-2.8 .06-3.6 .06-.3 .06 .9 .06-.5 .06 .7 .06-3.2 .06 9.4 .06-8.4 .06 6.2 .06-8.5 .06 3.6 .06 2.8 .06-6.6 .06 5.1 .06 2.5 .06 3.7 .06-4 .06 7.8 .06-7.9 .06-6.6 .06 5.8 .06-2.3 .06 10.2 .06-12.6 .06-.8 .06 .3 .06 3.2 .06-.6 .06-.4 .06 6.7 .06-12.5 .06 12.3 .06-7.9 .06 4.8 .06-1.1 .06 .3 .06-3.9 .06 3.8 .06-6.1 .06 12.3 .06-9.3 .06 6.1 .06-1.1 .06-11.8 .06 9.5 .06 6.8 .06-5.4 .06-5 .06-.8 .06 7.3 .06 5.8 .06-9.6 .06-1 .06 5.2 .06-2.8 .06 3.7 .06 3.9 .06-13.1 .06-1.4 .06 11.6 .06 1.1 .06 1.8 .06-5.2 .06 4.9 .06-13.5 .06 6.7 .06 1.4 .06-8.9 .06 8.7 .06 4.4 .06-.2 .06-3.2 .06-8.9 .06 3.3 .06 .8 .06-.5 .06 3.5 .06-.3 .06 5.4 .06-1.3 .06-4.5 .06-1.1 .06-1.1 .06 8.8 .06 3.8 .06-9.6 .06-2.4 .06 3.7 .06-3.9 .06 3.4 .06 1.9 .06 6.9 .06-9 .06 2.8 .06-7 .06 6.3 .06-5.4 .06 5.1 .06-2.5 .06-.2 .06-.2 .06 .1 .06-3 .06 1.7 .06 7.5 .06-2 .06-8.1 .06 16.4 .06-15.4 .06 .8 .06-2.4 .06 15.5 .06 .1 .06 1.4 .06-6.3 .06-13.3 .06 23.7 .06-11.6 .06-10.1 .06 9.7 .06 5.4 .06-8.1 .06-1.6 .06-.7 .06-2.8 .06 13.6 .06-6 .06-.2 .06-4.5 .06-3.9 .06 16.9 .06-14.1 .06 5.6 .06-2.4 .06-.3 .06 2.2 .06-7 .06-3.8 .06 5.2 .06 4.1 .06-1.8 .06 2.5 .06-.7 .06-5.1 .06-2.2 .06 14 .06-5.9 .06-.1 .06 .7 .06-11 .06 7.6 .06-4.6 .06 1.7 .06 3 .06 3.6 .06-10.1 .06 5.4 .06 5 .06-2.4 .06 2.6 .06 1 .06-7.2 .06 5.2 .06-4.8 .06 2 .06 1.3 .06-5.1 .06 .3 .06-2 .06 6.6 .06-1.8 .06 .3 .06-1.6 .06 2.3 .06 14.7 .06-19.7 .06 6.6 .06-6.5 .06 7.1 .06 0 .06-4.2 .06 2.3 .06-.5 .06 3.4 .06-2.8 .06-3 .06 4.8 .06 2.1 .06-2.8 .06 1.5 .06 1.4 .06 .8 .06 4.7 .06-11.3 .06 7.1 .06-5.3 .06 1.8 .06-2.3 .06-1.7 .06 2.7 .06 1.9 .06-4.3 .06-3.9 .06 7.3 .06-.2 .06-2.4 .06 8.9 .06-3.8 .06-3.7 .06-.6 .06 2.5 .06 1.8 .06-3.1 .06-4 .06 2.1 .06 .6 .06 1.5 .06-1.7 .06-4.1 .06 6.1 .06 1.5 .06 7.9 .06-5.8 .06-7 .06 1.4 .06-2.4 .06 12.6 .06-8.8 .06-2.4 .06 10.3 .06 .4 .06-5.8 .06 9.9 .06-4 .06-11.7 .06 7.9 .06-9.1 .06 .2 .06 3.3 .06-1.4 .06 10.5 .06-11.4 .06 5.9 .06-1.6 .06-2.5 .06 3 .06 4.4 .06 .9 .06-9.6 .06 5.6 .06 .9 .06-6.4 .06-1.4 .06 16.9 .06-6.5 .06-.6 .06-1.4 .06-2.7 .06-2.4 .06 3.1 .06 1.8 .06 .1 .06-7.5 .06 3.4 .06 .8 .06-2 .06 4.3 .06-6.2 .06 .9 .06 5.6 .06-4.7 .06 4.8 .06-2.2 .06-4 .06 3.6 .06 2.9 .06-3.2 .06-2.3 .06 4.8 .06 2.2 .06-4.9 .06-.3 .06 7.6 .06 6.6 .06-8.9 .06-4.4 .06-.5 .06 2.4 .06 4.4 .06-6.5 .06-5.9 .06 28.5 .06-24.5 .06 5.9 .06-.8 .06 4.4 .06-4.5 .06-5.5 .06 .6 .06 5.4 .06-11 .06 2.9 .06 6.7 .06 6.4 .06 4.5 .06-13 .06 15 .06-17.6 .06 2.2 .06 0 .06-5.9 .06 8.8 .06 1.7 .06-3 .06-4.5 .06 0 .06-.1 .06 10.8 .06-14.2 .06 2.4 .06 4 .06 1.3 .06 1.3 .06 4.7 .06-1.5 .06-8 .06 11.9 .06-9 .06 1.3 .06 .9 .06 2.2 .06 11.6 .06-16.7 .06 3.4 .06-3.8 .06 1.1 .06 1 .06 7.7 .06-13.7 .06 10.8 .06-12.3 .06 13.7 .06 .2 .06 1.2 .06-13.8 .06 10.3 .06-9.7 .06 2.5 .06-.1 .06 8.4 .06-4.4 .06-3.8 .06 13.1 .06-13.3 .06 12.5 .06-11.7 .06 2.2 .06 3.1 .06-.3 .06-2.7 .06-6 .06 2.2 .06 6.5 .06-6.4 .06 7.1 .06-7.9 .06-.6 .06 9 .06 .4 .06 .1 .06 1.1 .06-1 .06-7.2 .06 3.9 .06 .4 .06 2.5 .06-.1 .06-.4 .06 5.1 .06-9.8 .06-1.9 .06 5.3 .06 1.3 .06 11.1 .06-12 .06-5.5 .06-1.4 .06 3.9 .06 9.5 .06-6.3 .06-1.9 .06 6.7 .06-8.4 .06 7.7 .06-5.1 .06-1.6 .06 8.3 .06-4 .06 8.2 .06-9.8 .06 1.5 .06-3.6 .06-2.5 .06 10.8 .06-10.5 .06 2.2 .06 5.1 .06 3 .06-8.4 .06-.9 .06 2.9 .06-2.6 .06 2.1 .06-4.3 .06 2.5 .06 3.3 .06-9.1 .06 12.3 .06 .1 .06-7.8 .06 .7 .06-1.1 .06 7.9 .06-3.2 .06-4.7 .06 4 .06-.2 .06 8.2 .06-8.4 .06 10.2 .06-10.2 .06-.9 .06-1.7 .06 .5 .06-7.4 .06 16.5 .06-2.8 .06-6.7 .06 2.4 .06-4.8 .06 4.1 .06 0 .06 0 .06 6.6 .06-5.9 .06 .1 .06 3.5 .06 1.5 .06 2.5 .06-8.8 .06-4.9 .06 9.2 .06-10.1 .06 8.2 .06-5.2 .06 3.2 .06-3.7 .06 7.1 .06-3.1 .06 2.2 .06-5.6 .06 7.3 .06 6.8 .06-13.9 .06 5.8 .06 .1 .06-.9 .06 4 .06-5 .06-1.3 .06 7.9 .06 2.2 .06-9 .06-3.7 .06 9.6 .06-6.4 .06-6.9 .06-.6 .06 14.5 .06 1 .06-13.5 .06 2.8 .06 3.9 .06-3.9 .06 13.1 .06-11.6 .06 8.8 .06-4.7 .06-1 .06-.9 .06-4 .06 2.7 .06 1.8 .06-8 .06 3.9 .06-1.2 .06 .9 .06 2.2 .06 4 .06 1.9 .06 1.1 .06-6.8 .06-4.8 .06 10.3 .06-5.6 .06-2.4 .06 6.2 .06-.4 .06-3.4 .06 .1 .06 8.6 .06-10.1 .06-.7 .06 .4 .06 1.5 .06 9.8 .06-1 .06-6.7 .06 1.3 .06-7.2 .06 11.7 .06-.1 .06-6 .06-2.5 .06 7.8 .06 1.6 .06 .3 .06-.6 .06-9.4 .06 1.8 .06 3.9 .06-1.7 .06 11.3 .06-15.1 .06-2.8 .06 6 .06-2.5 .06-2.5 .06 9.4 .06-.1 .06-7.4 .06 .8 .06 2.2 .06 8.4 .06 8.3 .06-16.2 .06-.2 .06-2.3 .06-1.1 .06 1.4 .06 11.9 .06-6.7 .06-3.9 .06 5.3 .06-3.8 .06-1.1 .06-.8 .06 10.7 .06-6.8 .06-6.7 .06 5.3 .06-7.5 .06 6 .06 6.7 .06-7.3 .06 7.3 .06-14.3 .06 3.1 .06 3.2 .06-5.8 .06 11.2 .06-6.7 .06 14.4 .06-7.4 .06 1.5 .06-7.2 .06 4.3 .06 2.8 .06-3 .06 1 .06-3.3 .06 9.6 .06-1.4 .06-6.9 .06-3.5 .06 5.5 .06 2.4 .06-4.5 .06 4.4 .06-2.8 .06-8.9 .06 10 .06-5.5 .06 3 .06-.2 .06 .8 .06 5.7 .06-4.2 .06-3.8 .06 9.6 .06-6.1 .06-7.4 .06 5.7 .06 5.7 .06-11.4 .06 2.8 .06 9.4 .06-4.2 .06-3 .06 1.3 .06 5.4 .06-.3 .06 3.4 .06-4.8 .06-9.8 .06 2.3 .06-2.2 .06 7.5 .06-5.8 .06 9.6 .06-.6 .06 4 .06-10.9 .06 2 .06 3.6 .06 3.6 .06-5.8 .06-.4 .06 .2 .06 3.5 .06 1.2 .06 8.6 .06-17.8 .06 3.1 .06-.8 .06-2.6 .06 5.2 .06 .2 .06-1.5 .06-.7 .06 4.5 .06-1.4 .06-6 .06 2 .06-.7 .06 3.9 .06 3.5 .06-8 .06 3.2 .06 7.7 .06-.2 .06-8.2 .06-4.7 .06 8.6 .06-2 .06-3.5 .06 3.6 .06-4.5 .06 11.3 .06-3.5 .06-5 .06-1.1 .06-2.9 .06 5.9 .06 4.6 .06-5.8 .06 8.1 .06-1 .06-8.6 .06-.6 .06 1.3 .06 2.1 .06 1.6 .06 1.2 .06-10.2 .06 6 .06-.5 .06 11.3 .06-12.2 .06-3.8 .06 6.1 .06-.4 .06 4.6 .06-3.9 .06 3.9 .06-4.4 .06 0 .06-1.4 .06 5.1 .06-9.6 .06 7.9 .06-5.5 .06 4.8 .06-.1 .06-3.8 .06 11.4 .06-7.5 .06-2.4 .06 3.5 .06-2.4 .06-5.5 .06 8.6 .06-6.9 .06 11.6 .06-7.2 .06-1.2 .06 1.9 .06 2.7 .06 6.3 .06-12.3 .06 8.3 .06-13.2 .06 18.7 .06-4.6 .06-10.4 .06 2.2 .06-.1 .06 2.9 .06 1 .06-4.3 .06 6.5 .06-1.2 .06 2.9 .06-.9 .06-2.4 .06 5.5 .06 .8 .06 2.8 .06-9.8 .06-.6 .06-2 .06 4.8 .06-3.9 .06-4.2 .06 6.6 .06 3.8 .06-8.3 .06 2.5 .06 5.4 .06 1.6 .06-6.7 .06-8.4 .06 9.1 .06 .1 .06 6.1 .06-7.9 .06-2.2 .06 4.5 .06 2 .06-2.6 .06 5 .06-5.7 .06 2.5 .06-2.1 .06 1.7 .06 3.6 .06-4 .06-7.1 .06 1.3 .06 7.6 .06-1.9 .06-3.5 .06 2.9 .06 .1 .06 4.2 .06-1 .06-.9 .06 7.9 .06-6.3 .06-2.1 .06-6 .06 4.5 .06 9.9 .06-10.7 .06 4.7 .06-7.8 .06 3.9 .06 11.8 .06-11.7 .06 1.7 .06-3.8 .06 10.4 .06-11.2 .06 7.7 .06-9.6 .06 5 .06 .6 .06-9.9 .06 15 .06-8.7 .06 12.9 .06-7.6 .06 2 .06-8.7 .06 .8 .06 2.5 .06 5.1 .06-4.1 .06 7.4 .06-7.6 .06-1.6 .06 4.4 .06-4.4 .06-2.9 .06 9.2 .06-3.6 .06-3.3 .06 8.4 .06-10 .06 11.4 .06-6 .06 7 .06-11.2 .06 2.2 .06 12.4 .06-12.6 .06 6.2 .06-11.1 .06 2.2 .06 2.2 .06-2.2 .06 9.1 .06-7.5 .06 9.3 .06-4 .06-7.5 .06 2 .06 14.1 .06-9.2 .06-4.9 .06-4 .06 2.3 .06 12.8 .06-8.6 .06-.5 .06 1.6 .06-4.1 .06 5.5 .06 8.5 .06-4.5 .06-2.8 .06-7.3 .06 4.5 .06 8.5 .06-13.5 .06 3.2 .06 5 .06-2.1 .06 8.2 .06-10.9 .06 1.9 .06 5 .06-9.9 .06 13.4 .06-12.1 .06 1.5 .06 2.1 .06 3.9 .06-7.8 .06 6.6 .06-1.4 .06 2.4 .06-.6 .06-3 .06-1.7 .06-.2 .06 3.2 .06 2.4 .06 6.4 .06-3.2 .06-3.2 .06-.4 .06 1.2 .06-8.7 .06 4.5 .06 3 .06-4.8 .06 6.3 .06 4.2 .06-3.1 .06-10.8 .06 4.5 .06 .3 .06 1.6 .06-.6 .06 1.3 .06 7.5 .06-9.6 .06-3.5 .06 8.1 .06-7.4 .06-3.5 .06 2.4 .06 .5 .06 4 .06 .2 .06 2.1 .06-1 .06-3.2 .06-3.4 .06 15.3 .06 3.1 .06-11.8 .06-.5 .06-5.9 .06 6.7 .06-5.9 .06 5 .06 4.4 .06-.7 .06 .7 .06-2 .06-1.8 .06 5.8 .06-7.8 .06 2.9 .06 3.1 .06-.7 .06-3.4 .06 1.7 .06-2.9 .06 .3 .06 4 .06-5.8 .06 .8 .06 0 .06 1.6 .06-3.4 .06 6.5 .06 3.9 .06-9.3 .06 2.8 .06 2.6 .06-1.2 .06-2.2 .06 6.5 .06-4.5 .06 .7 .06-.8 .06-8.9 .06 6.8 .06 8.7 .06-5.3 .06 13.5 .06-21.8 .06 15.1 .06-8.9 .06-3.6 .06 8 .06-1.6 .06 5.1 .06-10.2 .06 .2 .06 4.5 .06-1.1 .06 10.6 .06-9.7 .06-.5 .06 12.3 .06-12.2 .06-1.8 .06 11.1 .06-11.5 .06-.6 .06 1.9 .06 5.5 .06 .7 .06 2.1 .06-8.3 .06-4 .06 11.9 .06-15 .06 4.9 .06 .5 .06 .7 .06-2.5 .06 4.8 .06 2.4 .06-8.1 .06 3 .06-.6 .06 0 .06-.6 .06 6 .06-5.2 .06 1.7 .06 9.9 .06-18.1 .06 18.7 .06-12.1 .06-.5 .06-4.8 .06 6.8 .06 10 .06-10.3 .06-4.2 .06 11.7 .06-6.8 .06 .6 .06 1 .06 7.4 .06-11.9 .06 6.5 .06-3.5 .06 1 .06-5.2 .06-.7 .06 3.3 .06-.2 .06 8 .06-4.2 .06 6.2 .06-8.8 .06 .3 .06 1.8 .06 7 .06-11.3 .06 12.6 .06 1.2 .06-10.2 .06 1.9 .06-5 .06 7.4 .06-5.4 .06 1.1 .06 3 .06 4.8 .06-4.9 .06-6.6 .06-1.2 .06 7.9 .06 .6 .06 5.1 .06-8.4 .06 6.7 .06-2.8 .06-2.2 .06-3.2 .06-1.2 .06 8.8 .06-9.9 .06 .4 .06-.6 .06 5.1 .06 8.5 .06-9.3 .06 8.3 .06-10 .06 2.2 .06-.2 .06-.1 .06 8 .06-12.4 .06 9.5 .06-5.2 .06-6.5 .06 11.9 .06 1.4 .06-8.4 .06 4.5 .06-4.3 .06 5.8 .06-8.4 .06 2.1 .06-2.3 .06 6.8 .06-3.2 .06 1.5 .06-1.4 .06 2 .06-6.5 .06 3.2 .06 7.4 .06-6.1 .06-2.8 .06 8 .06-3.9 .06 7.5 .06-8.5 .06-2.8 .06 2.5 .06-6 .06 3 .06 2.6 .06 8.3 .06-7.1 .06-.4 .06 3.6 .06-1.2 .06 3 .06 3 .06-3.9 .06-3.2 .06 3.2 .06 1.2 .06-5.9 .06 8.3 .06-8.1 .06 2.7 .06 6 .06-15.8 .06 13.2 .06-2.2 .06 6.5 .06-9 .06 1.7 .06-2.5 .06 3.8 .06-4.9 .06 2.3 .06 6.8 .06-10.4 .06 11.1 .06-7.8 .06-4.6 .06 1.5 .06 5.7 .06 5.9 .06-10 .06 4.4 .06 .2 .06-5.7 .06 1.1 .06 6 .06-2.8 .06-7.9 .06 8.2 .06 1.7 .06-2.6 .06 14 .06-8.4 .06-5.9 .06 .1 .06 7.9 .06-7.6 .06-3.9 .06 5.6 .06 3.3 .06 1.7 .06-9.3 .06 2.8 .06-1.6 .06-1 .06 4.6 .06 5.6 .06-7.2 .06 4.2 .06 2.6 .06-4.8 .06-2.3 .06-3.1 .06 2.9 .06 4.6 .06-2.2 .06-10.6 .06 6 .06 1 .06 .2 .06-1.7 .06 2.9 .06-2 .06 1.4 .06 0 .06 10.3 .06-5.3 .06-5.1 .06 .8 .06 2.5 .06-3.8 .06 6.3 .06-8.4 .06 2.9 .06 10.5 .06-10.5 .06-1.3 .06 3.6 .06-3.5 .06 2 .06-.9 .06 6.5 .06-2.3 .06-3.1 .06-3.6 .06 5.6 .06-.7 .06-3.9 .06 1.6 .06 2.6 .06 2.9 .06-.9 .06 6.5 .06-7.4 .06-7.8 .06 17.2 .06-9.6 .06-2.7 .06 .1 .06-2 .06 2.2 .06-.3 .06 2.6 .06-2 .06 8.3 .06-8.4 .06 .9 .06 9.6 .06-11 .06 2.7 .06 3.5 .06-3.8 .06-6.8 .06 7.2 .06-.1 .06-6.7 .06 2.1 .06 3.3 .06-2.8 .06 9.3 .06-4.3 .06-1.2 .06-1.1 .06 2.8 .06-6.4 .06 12.8 .06-13.1 .06 7.4 .06-3.1 .06 9.6 .06-7.8 .06-6.5 .06 6.5 .06-4.4 .06-3.1 .06-2.3 .06 13.4 .06-2.5 .06-2.5 .06 4 .06-3 .06 2.6 .06 2.4 .06 2.1 .06-5.2 .06 3.1 .06-3.4 .06-1 .06-1.4 .06-3.8 .06 13.5 .06-8.9 .06 1.9 .06-.5 .06-2.8 .06-1.8 .06 3.7 .06 2.5 .06-4.6 .06 2 .06-2.8 .06-2.9 .06 11.9 .06-4.9 .06-.2 .06-.8 .06 4.5 .06-7.1 .06 3.6 .06-2.6 .06 3.2 .06-8.1 .06 1.3 .06 7.8 .06 8.4 .06-1.7 .06-6.4 .06-7.5 .06 4.7 .06-.7 .06 4.7 .06-4.1 .06 1.2 .06-2.7 .06 3.7" fill="none" stroke="#d95319" stroke-width="1" stroke-linejoin="round"/>
<text transform="translate(424.1,706.2) scale(1.0,1.02)" font-size="24" text-anchor="middle" fill="#202020" stroke="#202020">0</text>
<text transform="translate(472.1,706.2) scale(1.0,1.02)" font-size="24" text-anchor="middle" fill="#202020" stroke="#202020">100</text><path transform="translate(452.08,706.2) scale(1.0,1.02)" d="M1.11 -2.20H5.95V0.60H1.11ZM8.24 -2.20H12.89V0.60H8.24Z" fill="#fff"/>
<text transform="translate(520.1,706.2) scale(1.0,1.02)" font-size="24" text-anchor="middle" fill="#202020" stroke="#202020">200</text>
<text transform="translate(568.1,706.2) scale(1.0,1.02)" font-size="24" text-anchor="middle" fill="#202020" stroke="#202020">300</text>
<text transform="translate(616.1,706.2) scale(1.0,1.02)" font-size="24" text-anchor="middle" fill="#202020" stroke="#202020">400</text>
<text transform="translate(664.1,706.2) scale(1.0,1.02)" font-size="24" text-anchor="middle" fill="#202020" stroke="#202020">500</text>
<text transform="translate(417.9,532.13) scale(1.0,1.02)" font-size="24" text-anchor="end" fill="#202020" stroke="#202020">-60</text>
<text transform="translate(417.9,570.25) scale(1.0,1.02)" font-size="24" text-anchor="end" fill="#202020" stroke="#202020">-80</text>
<text transform="translate(417.9,608.36) scale(1.0,1.02)" font-size="24" text-anchor="end" fill="#202020" stroke="#202020">-100</text><path transform="translate(369.86,608.36) scale(1.0,1.02)" d="M9.11 -2.20H13.95V0.60H9.11ZM16.23 -2.20H20.88V0.60H16.23Z" fill="#fff"/>
<text transform="translate(417.9,646.48) scale(1.0,1.02)" font-size="24" text-anchor="end" fill="#202020" stroke="#202020">-120</text><path transform="translate(369.86,646.48) scale(1.0,1.02)" d="M9.11 -2.20H13.95V0.60H9.11ZM16.23 -2.20H20.88V0.60H16.23Z" fill="#fff"/>
<text transform="translate(417.9,684.6) scale(1.0,1.02)" font-size="24" text-anchor="end" fill="#202020" stroke="#202020">-140</text><path transform="translate(369.86,684.6) scale(1.0,1.02)" d="M9.11 -2.20H13.95V0.60H9.11ZM16.23 -2.20H20.88V0.60H16.23Z" fill="#fff"/>
<text transform="translate(544.1,735.6) scale(1.0,1.02)" font-size="24" text-anchor="middle" fill="#202020" stroke="#202020">Frequency (MHz)</text>
<text transform="translate(359.9,689) rotate(-90)" font-size="22.7" fill="#202020" stroke="#202020">Power (dBm Hz<tspan font-size="18" dy="-10.5">-1</tspan><tspan dy="10.5">)</tspan></text>
<path transform="translate(359.9,689) rotate(-90)" d="M165.76 -13.34H169.39V-9.90H165.76ZM171.11 -13.34H174.60V-9.90H171.11Z" fill="#fff"/>
<rect x="480.2" y="519.3" width="177.15" height="51.7" fill="#fff" stroke="#202020" stroke-width="1.9"/>
<path d="M482.1 532.7H497" stroke="#3b7cc4" stroke-width="1.0"/>
<path d="M482.1 557.6H497" stroke="#d95319" stroke-width="1.0"/>
<text transform="translate(498.8,540.4) scale(1.0,1.02)" font-size="20.2" fill="#202020" stroke="#202020">Simulation Result</text>
<text transform="translate(498.8,565.3) scale(1.0,1.02)" font-size="20.2" fill="#202020" stroke="#202020">Experiment Data</text>
<text transform="translate(0.6,20.3) scale(1.0,1.0)" font-size="25" font-weight="bold" fill="#000" stroke="#000">(a)</text>
<text transform="translate(343.13,20.3) scale(1.0,1.0)" font-size="25" font-weight="bold" fill="#000" stroke="#000">b</text>
<text transform="translate(334.8,17.9) scale(1.0,0.874)" font-size="25" font-weight="bold" fill="#000" stroke="#000">(</text>
<text transform="translate(358.4,17.9) scale(1.0,0.874)" font-size="25" font-weight="bold" fill="#000" stroke="#000">)</text>
<text transform="translate(0.6,251.6) scale(1.0,1.0)" font-size="25" font-weight="bold" fill="#000" stroke="#000">(c)</text>
<text transform="translate(334.8,253.3) scale(1.0,1.0)" font-size="25" font-weight="bold" fill="#000" stroke="#000">(d)</text>
<text transform="translate(0.6,490.7) scale(1.0,1.0)" font-size="25" font-weight="bold" fill="#000" stroke="#000">(e)</text>
<text transform="translate(337.8,492.1) scale(1.0,1.0)" font-size="25" font-weight="bold" fill="#000" stroke="#000">(f)</text>
</svg></body></html>
